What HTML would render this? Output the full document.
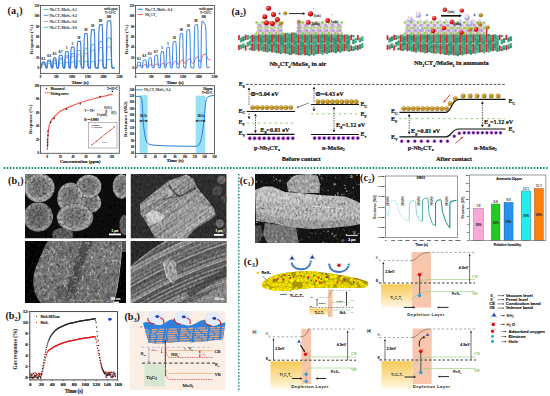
<!DOCTYPE html><html><head><meta charset="utf-8"><style>html,body{margin:0;padding:0;background:#fff;width:550px;height:396px;overflow:hidden}svg{display:block}</style></head><body>
<svg width="550" height="396" viewBox="0 0 550 396">
<defs>
<filter id="noise" x="0" y="0" width="100%" height="100%">
  <feTurbulence type="fractalNoise" baseFrequency="0.9" numOctaves="2" seed="3" result="t"/>
  <feColorMatrix type="matrix" values="0 0 0 0 0.5  0 0 0 0 0.5  0 0 0 0 0.5  0 0 0 1.4 -0.2" in="t" result="g"/>
  <feComposite in="g" in2="SourceGraphic" operator="in"/>
</filter>
<filter id="grain" x="0" y="0" width="100%" height="100%">
  <feTurbulence type="fractalNoise" baseFrequency="0.42" numOctaves="2" seed="7" result="t"/>
  <feColorMatrix type="saturate" values="0" in="t" result="g"/>
  <feComponentTransfer in="g" result="g2"><feFuncR type="linear" slope="1.5" intercept="-0.25"/><feFuncG type="linear" slope="1.5" intercept="-0.25"/><feFuncB type="linear" slope="1.5" intercept="-0.25"/><feFuncA type="linear" slope="0" intercept="1"/></feComponentTransfer>
  <feComposite in="g2" in2="SourceAlpha" operator="in" result="m"/>
  <feBlend in="m" in2="SourceGraphic" mode="overlay"/>
</filter>
<radialGradient id="ballg" cx="0.45" cy="0.4" r="0.6"><stop offset="0" stop-color="#a8a8a8"/><stop offset="0.75" stop-color="#7a7a7a"/><stop offset="1" stop-color="#4a4a4a"/></radialGradient>
<linearGradient id="ygrad" x1="0" y1="0" x2="0" y2="1"><stop offset="0" stop-color="#f7c955"/><stop offset="0.55" stop-color="#fbe2a0"/><stop offset="1" stop-color="#fff8e6"/></linearGradient>
<radialGradient id="eball" cx="0.4" cy="0.35" r="0.65"><stop offset="0" stop-color="#f8d35a"/><stop offset="0.7" stop-color="#d99a10"/><stop offset="1" stop-color="#8a5a00"/></radialGradient>
<radialGradient id="hball" cx="0.5" cy="0.5" r="0.5"><stop offset="0" stop-color="#1a2a90"/><stop offset="0.4" stop-color="#30309a"/><stop offset="0.62" stop-color="#c850c8"/><stop offset="0.85" stop-color="#ec80e0"/><stop offset="1" stop-color="#f4b0ec"/></radialGradient>
<radialGradient id="redball" cx="0.38" cy="0.35" r="0.65"><stop offset="0" stop-color="#ff8080"/><stop offset="0.6" stop-color="#e01010"/><stop offset="1" stop-color="#a00000"/></radialGradient>
<radialGradient id="nball" cx="0.38" cy="0.35" r="0.65"><stop offset="0" stop-color="#ffffff"/><stop offset="0.6" stop-color="#b8bce8"/><stop offset="1" stop-color="#8088c0"/></radialGradient>
<filter id="grain2" x="0" y="0" width="100%" height="100%">
  <feTurbulence type="fractalNoise" baseFrequency="0.5 0.3" numOctaves="2" seed="12" result="t"/>
  <feColorMatrix type="saturate" values="0" in="t" result="g"/>
  <feComponentTransfer in="g" result="g2"><feFuncR type="linear" slope="1.1" intercept="-0.05"/><feFuncG type="linear" slope="1.1" intercept="-0.05"/><feFuncB type="linear" slope="1.1" intercept="-0.05"/><feFuncA type="linear" slope="0" intercept="1"/></feComponentTransfer>
  <feComposite in="g2" in2="SourceAlpha" operator="in" result="m"/>
  <feBlend in="m" in2="SourceGraphic" mode="overlay"/>
</filter>
<radialGradient id="semball" cx="0.5" cy="0.5" r="0.5" fx="0.5" fy="0.4"><stop offset="0" stop-color="#6c6c6c"/><stop offset="0.6" stop-color="#7a7a7a"/><stop offset="0.86" stop-color="#a2a2a2"/><stop offset="0.95" stop-color="#8c8c8c"/><stop offset="1" stop-color="#404040"/></radialGradient>
<radialGradient id="semdim" cx="0.5" cy="0.5" r="0.5"><stop offset="0" stop-color="#505050"/><stop offset="0.85" stop-color="#606060"/><stop offset="1" stop-color="#2a2a2a"/></radialGradient>
</defs>
<rect x="0" y="0" width="550" height="396" fill="#ffffff" stroke="none" stroke-width="1" />
<text x="7.6" y="14.1" font-size="10.2" font-weight="bold" font-family="'Liberation Serif', serif" fill="#151515">(a<tspan font-size="6.3" dy="2.4">1</tspan><tspan dy="-2.4">)</tspan></text>
<polyline points="41.10,68.20 41.40,67.90 41.90,65.02 42.40,64.37 43.00,64.30 44.70,64.30 45.10,64.84 45.60,67.54 46.20,67.90 47.00,67.90 47.50,64.54 48.00,63.78 48.60,63.70 50.40,63.70 50.80,64.33 51.30,67.48 51.90,67.90 52.70,67.90 53.20,64.22 53.70,63.39 54.30,63.30 55.70,63.30 56.10,63.99 56.60,67.44 57.20,67.90 58.50,67.90 59.00,63.90 59.50,63.00 60.10,62.90 62.00,62.90 62.40,63.65 62.90,67.40 63.50,67.90 64.70,67.90 65.20,63.42 65.70,62.41 66.30,62.30 68.00,62.30 68.40,63.14 68.90,67.34 69.50,67.90 70.40,67.90 70.90,63.10 71.40,62.02 72.00,61.90 73.90,61.90 74.30,62.80 74.80,67.30 75.40,67.90 76.70,67.90 77.20,62.62 77.70,61.43 78.30,61.30 80.40,61.30 80.80,62.29 81.30,67.24 81.90,67.90 83.60,67.90 84.10,62.62 84.60,61.43 85.20,61.30 87.10,61.30 87.50,62.29 88.00,67.24 88.60,67.90 90.40,67.90 90.90,62.78 91.40,61.63 92.00,61.50 94.20,61.50 94.60,62.46 95.10,67.26 95.70,67.90 98.30,67.90 98.80,61.82 99.30,60.45 99.90,60.30 102.10,60.30 102.50,61.44 103.00,67.14 103.60,67.90 106.30,67.90 106.80,61.18 107.30,59.67 107.90,59.50 110.70,59.50 111.10,60.76 111.60,67.06 112.20,67.90 114.50,68.20" fill="none" stroke="#2bb3e0" stroke-width="0.8" stroke-linejoin="round" />
<polyline points="41.10,68.20 41.40,67.90 41.90,64.06 42.40,63.20 43.00,63.10 44.70,63.10 45.10,63.82 45.60,67.42 46.20,67.90 47.00,67.90 47.50,63.10 48.00,62.02 48.60,61.90 50.40,61.90 50.80,62.80 51.30,67.30 51.90,67.90 52.70,67.90 53.20,62.30 53.70,61.04 54.30,60.90 55.70,60.90 56.10,61.95 56.60,67.20 57.20,67.90 58.50,67.90 59.00,61.02 59.50,59.47 60.10,59.30 62.00,59.30 62.40,60.59 62.90,67.04 63.50,67.90 64.70,67.90 65.20,59.74 65.70,57.90 66.30,57.70 68.00,57.70 68.40,59.23 68.90,66.88 69.50,67.90 70.40,67.90 70.90,58.46 71.40,56.34 72.00,56.10 73.90,56.10 74.30,57.87 74.80,66.72 75.40,67.90 76.70,67.90 77.20,57.34 77.70,54.96 78.30,54.70 80.40,54.70 80.80,56.68 81.30,66.58 81.90,67.90 83.60,67.90 84.10,56.38 84.60,53.79 85.20,53.50 87.10,53.50 87.50,55.66 88.00,66.46 88.60,67.90 90.40,67.90 90.90,53.82 91.40,50.65 92.00,50.30 94.20,50.30 94.60,52.94 95.10,66.14 95.70,67.90 98.30,67.90 98.80,51.42 99.30,47.71 99.90,47.30 102.10,47.30 102.50,50.39 103.00,65.84 103.60,67.90 106.30,67.90 106.80,51.10 107.30,47.32 107.90,46.90 110.70,46.90 111.10,50.05 111.60,65.80 112.20,67.90 114.50,68.20" fill="none" stroke="#b77be6" stroke-width="0.8" stroke-linejoin="round" />
<polyline points="41.10,68.20 41.40,67.90 41.90,63.74 42.40,62.80 43.00,62.70 44.70,62.70 45.10,63.48 45.60,67.38 46.20,67.90 47.00,67.90 47.50,62.62 48.00,61.43 48.60,61.30 50.40,61.30 50.80,62.29 51.30,67.24 51.90,67.90 52.70,67.90 53.20,61.50 53.70,60.06 54.30,59.90 55.70,59.90 56.10,61.10 56.60,67.10 57.20,67.90 58.50,67.90 59.00,60.06 59.50,58.30 60.10,58.10 62.00,58.10 62.40,59.57 62.90,66.92 63.50,67.90 64.70,67.90 65.20,58.30 65.70,56.14 66.30,55.90 68.00,55.90 68.40,57.70 68.90,66.70 69.50,67.90 70.40,67.90 70.90,56.30 71.40,53.69 72.00,53.40 73.90,53.40 74.30,55.58 74.80,66.45 75.40,67.90 76.70,67.90 77.20,53.90 77.70,50.75 78.30,50.40 80.40,50.40 80.80,53.03 81.30,66.15 81.90,67.90 83.60,67.90 84.10,52.22 84.60,48.69 85.20,48.30 87.10,48.30 87.50,51.24 88.00,65.94 88.60,67.90 90.40,67.90 90.90,49.10 91.40,44.87 92.00,44.40 94.20,44.40 94.60,47.93 95.10,65.55 95.70,67.90 98.30,67.90 98.80,46.70 99.30,41.93 99.90,41.40 102.10,41.40 102.50,45.38 103.00,65.25 103.60,67.90 106.30,67.90 106.80,43.90 107.30,38.50 107.90,37.90 110.70,37.90 111.10,42.40 111.60,64.90 112.20,67.90 114.50,68.20" fill="none" stroke="#2fb389" stroke-width="0.8" stroke-linejoin="round" />
<polyline points="41.10,68.20 41.40,67.90 41.90,63.26 42.40,62.22 43.00,62.10 44.70,62.10 45.10,62.97 45.60,67.32 46.20,67.90 47.00,67.90 47.50,61.58 48.00,60.16 48.60,60.00 50.40,60.00 50.80,61.19 51.30,67.11 51.90,67.90 52.70,67.90 53.20,59.90 53.70,58.10 54.30,57.90 55.70,57.90 56.10,59.40 56.60,66.90 57.20,67.90 58.50,67.90 59.00,57.74 59.50,55.45 60.10,55.20 62.00,55.20 62.40,57.11 62.90,66.63 63.50,67.90 64.70,67.90 65.20,54.78 65.70,51.83 66.30,51.50 68.00,51.50 68.40,53.96 68.90,66.26 69.50,67.90 70.40,67.90 70.90,51.26 71.40,47.52 72.00,47.10 73.90,47.10 74.30,50.22 74.80,65.82 75.40,67.90 76.70,67.90 77.20,46.70 77.70,41.93 78.30,41.40 80.40,41.40 80.80,45.38 81.30,65.25 81.90,67.90 83.60,67.90 84.10,40.38 84.60,34.19 85.20,33.50 87.10,33.50 87.50,38.66 88.00,64.46 88.60,67.90 90.40,67.90 90.90,37.26 91.40,30.37 92.00,29.60 94.20,29.60 94.60,35.35 95.10,64.07 95.70,67.90 98.30,67.90 98.80,33.26 99.30,25.47 99.90,24.60 102.10,24.60 102.50,31.10 103.00,63.57 103.60,67.90 106.30,67.90 106.80,30.14 107.30,21.64 107.90,20.70 110.70,20.70 111.10,27.78 111.60,63.18 112.20,67.90 114.50,68.20" fill="none" stroke="#3a7be0" stroke-width="1.1" stroke-linejoin="round" />
<rect x="40.5" y="5.5" width="78.9" height="67.9" fill="none" stroke="#555" stroke-width="0.9" />
<line x1="39.3" y1="68.4" x2="40.5" y2="68.4" stroke="#333" stroke-width="0.5" />
<line x1="39.3" y1="57.92" x2="40.5" y2="57.92" stroke="#333" stroke-width="0.5" />
<line x1="39.3" y1="47.440000000000005" x2="40.5" y2="47.440000000000005" stroke="#333" stroke-width="0.5" />
<line x1="39.3" y1="36.96000000000001" x2="40.5" y2="36.96000000000001" stroke="#333" stroke-width="0.5" />
<line x1="39.3" y1="26.480000000000004" x2="40.5" y2="26.480000000000004" stroke="#333" stroke-width="0.5" />
<line x1="39.3" y1="16.0" x2="40.5" y2="16.0" stroke="#333" stroke-width="0.5" />
<line x1="39.3" y1="5.520000000000003" x2="40.5" y2="5.520000000000003" stroke="#333" stroke-width="0.5" />
<line x1="40.5" y1="73.4" x2="40.5" y2="74.60000000000001" stroke="#333" stroke-width="0.5" />
<text x="40.5" y="77.9" font-size="3.0" font-weight="bold" font-family="'Liberation Serif', serif" fill="#111" stroke="#111" stroke-width="0.09" text-anchor="middle" >0</text>
<line x1="56.28" y1="73.4" x2="56.28" y2="74.60000000000001" stroke="#333" stroke-width="0.5" />
<text x="56.28" y="77.9" font-size="3.0" font-weight="bold" font-family="'Liberation Serif', serif" fill="#111" stroke="#111" stroke-width="0.09" text-anchor="middle" >500</text>
<line x1="72.06" y1="73.4" x2="72.06" y2="74.60000000000001" stroke="#333" stroke-width="0.5" />
<text x="72.06" y="77.9" font-size="3.0" font-weight="bold" font-family="'Liberation Serif', serif" fill="#111" stroke="#111" stroke-width="0.09" text-anchor="middle" >1000</text>
<line x1="87.84" y1="73.4" x2="87.84" y2="74.60000000000001" stroke="#333" stroke-width="0.5" />
<text x="87.84" y="77.9" font-size="3.0" font-weight="bold" font-family="'Liberation Serif', serif" fill="#111" stroke="#111" stroke-width="0.09" text-anchor="middle" >1500</text>
<line x1="103.62" y1="73.4" x2="103.62" y2="74.60000000000001" stroke="#333" stroke-width="0.5" />
<text x="103.62" y="77.9" font-size="3.0" font-weight="bold" font-family="'Liberation Serif', serif" fill="#111" stroke="#111" stroke-width="0.09" text-anchor="middle" >2000</text>
<line x1="119.39999999999999" y1="73.4" x2="119.39999999999999" y2="74.60000000000001" stroke="#333" stroke-width="0.5" />
<text x="119.39999999999999" y="77.9" font-size="3.0" font-weight="bold" font-family="'Liberation Serif', serif" fill="#111" stroke="#111" stroke-width="0.09" text-anchor="middle" >2500</text>
<text x="38.9" y="69.45" font-size="3.0" font-weight="bold" font-family="'Liberation Serif', serif" fill="#111" stroke="#111" stroke-width="0.09" text-anchor="end" >0</text>
<text x="38.9" y="58.97" font-size="3.0" font-weight="bold" font-family="'Liberation Serif', serif" fill="#111" stroke="#111" stroke-width="0.09" text-anchor="end" >20</text>
<text x="38.9" y="48.49" font-size="3.0" font-weight="bold" font-family="'Liberation Serif', serif" fill="#111" stroke="#111" stroke-width="0.09" text-anchor="end" >40</text>
<text x="38.9" y="38.010000000000005" font-size="3.0" font-weight="bold" font-family="'Liberation Serif', serif" fill="#111" stroke="#111" stroke-width="0.09" text-anchor="end" >60</text>
<text x="38.9" y="27.530000000000005" font-size="3.0" font-weight="bold" font-family="'Liberation Serif', serif" fill="#111" stroke="#111" stroke-width="0.09" text-anchor="end" >80</text>
<text x="38.9" y="17.05" font-size="3.0" font-weight="bold" font-family="'Liberation Serif', serif" fill="#111" stroke="#111" stroke-width="0.09" text-anchor="end" >100</text>
<text x="38.9" y="6.570000000000003" font-size="3.0" font-weight="bold" font-family="'Liberation Serif', serif" fill="#111" stroke="#111" stroke-width="0.09" text-anchor="end" >120</text>
<line x1="43.5" y1="9.4" x2="48.5" y2="9.4" stroke="#2fb389" stroke-width="0.8" />
<text x="49.5" y="10.6" font-size="3.4" font-weight="bold" font-family="'Liberation Serif', serif" fill="#222">Nb<tspan font-size="2.3" dy="0.8">2</tspan><tspan dy="-0.8">CT</tspan><tspan font-size="2.3" dy="0.8">x</tspan><tspan dy="-0.8">/MoSe</tspan><tspan font-size="2.3" dy="0.8">2</tspan><tspan dy="-0.8">-0.2</tspan></text>
<line x1="43.5" y1="15.4" x2="48.5" y2="15.4" stroke="#3a7be0" stroke-width="0.8" />
<text x="49.5" y="16.6" font-size="3.4" font-weight="bold" font-family="'Liberation Serif', serif" fill="#222">Nb<tspan font-size="2.3" dy="0.8">2</tspan><tspan dy="-0.8">CT</tspan><tspan font-size="2.3" dy="0.8">x</tspan><tspan dy="-0.8">/MoSe</tspan><tspan font-size="2.3" dy="0.8">2</tspan><tspan dy="-0.8">-0.4</tspan></text>
<line x1="43.5" y1="21.4" x2="48.5" y2="21.4" stroke="#b77be6" stroke-width="0.8" />
<text x="49.5" y="22.599999999999998" font-size="3.4" font-weight="bold" font-family="'Liberation Serif', serif" fill="#222">Nb<tspan font-size="2.3" dy="0.8">2</tspan><tspan dy="-0.8">CT</tspan><tspan font-size="2.3" dy="0.8">x</tspan><tspan dy="-0.8">/MoSe</tspan><tspan font-size="2.3" dy="0.8">2</tspan><tspan dy="-0.8">-0.6</tspan></text>
<line x1="43.5" y1="27.3" x2="48.5" y2="27.3" stroke="#2bb3e0" stroke-width="0.8" />
<text x="49.5" y="28.5" font-size="3.4" font-weight="bold" font-family="'Liberation Serif', serif" fill="#222">Nb<tspan font-size="2.3" dy="0.8">2</tspan><tspan dy="-0.8">CT</tspan><tspan font-size="2.3" dy="0.8">x</tspan><tspan dy="-0.8">/MoSe</tspan><tspan font-size="2.3" dy="0.8">2</tspan><tspan dy="-0.8">-0.8</tspan></text>
<text x="117.6" y="9.6" font-size="3.6" font-weight="normal" font-family="'Liberation Serif', serif" fill="#111" stroke="#111" stroke-width="0.108" text-anchor="end" >with ppm</text>
<text x="115.8" y="13.8" font-size="3.4" font-weight="normal" font-family="'Liberation Serif', serif" fill="#111" stroke="#111" stroke-width="0.102" text-anchor="end" >T=25°C</text>
<text x="43.35" y="59.50000000000001" font-size="3.0" font-weight="bold" font-family="'Liberation Serif', serif" fill="#111" stroke="#111" stroke-width="0.09" text-anchor="middle" >0.1</text>
<text x="49.0" y="57.400000000000006" font-size="3.0" font-weight="bold" font-family="'Liberation Serif', serif" fill="#111" stroke="#111" stroke-width="0.09" text-anchor="middle" >0.3</text>
<text x="54.5" y="55.300000000000004" font-size="3.0" font-weight="bold" font-family="'Liberation Serif', serif" fill="#111" stroke="#111" stroke-width="0.09" text-anchor="middle" >0.5</text>
<text x="60.55" y="52.6" font-size="3.0" font-weight="bold" font-family="'Liberation Serif', serif" fill="#111" stroke="#111" stroke-width="0.09" text-anchor="middle" >0.7</text>
<text x="66.65" y="48.900000000000006" font-size="3.0" font-weight="bold" font-family="'Liberation Serif', serif" fill="#111" stroke="#111" stroke-width="0.09" text-anchor="middle" >1</text>
<text x="72.45" y="44.50000000000001" font-size="3.0" font-weight="bold" font-family="'Liberation Serif', serif" fill="#111" stroke="#111" stroke-width="0.09" text-anchor="middle" >5</text>
<text x="78.85000000000001" y="38.800000000000004" font-size="3.0" font-weight="bold" font-family="'Liberation Serif', serif" fill="#111" stroke="#111" stroke-width="0.09" text-anchor="middle" >10</text>
<text x="85.64999999999999" y="30.900000000000006" font-size="3.0" font-weight="bold" font-family="'Liberation Serif', serif" fill="#111" stroke="#111" stroke-width="0.09" text-anchor="middle" >30</text>
<text x="92.60000000000001" y="27.000000000000007" font-size="3.0" font-weight="bold" font-family="'Liberation Serif', serif" fill="#111" stroke="#111" stroke-width="0.09" text-anchor="middle" >50</text>
<text x="100.5" y="22.000000000000007" font-size="3.0" font-weight="bold" font-family="'Liberation Serif', serif" fill="#111" stroke="#111" stroke-width="0.09" text-anchor="middle" >80</text>
<text x="108.8" y="18.1" font-size="3.0" font-weight="bold" font-family="'Liberation Serif', serif" fill="#111" stroke="#111" stroke-width="0.09" text-anchor="middle" >100</text>
<text x="80" y="83.6" font-size="4.9" font-weight="bold" font-family="'Liberation Serif', serif" fill="#111" stroke="#111" stroke-width="0.147" text-anchor="middle" >Time (s)</text>
<text x="0" y="0" font-size="5" font-weight="bold" font-family="'Liberation Serif', serif" fill="#111" text-anchor="middle" transform="translate(33.0,39.4) rotate(-90)">Response (%)</text>
<polyline points="136.10,67.90 136.90,67.90 138.10,65.82 139.30,65.38 140.60,65.30 141.40,66.20 142.40,66.70 143.00,67.10 142.52,67.10 143.72,65.34 144.92,64.80 146.32,64.70 147.12,65.70 148.12,66.30 148.72,66.70 148.23,66.70 149.43,65.02 150.63,64.41 151.63,64.30 152.43,65.30 153.43,65.90 154.03,66.30 154.05,66.30 155.25,64.70 156.45,64.02 157.95,63.90 158.75,64.90 159.75,65.50 160.35,65.90 160.26,65.90 161.46,64.22 162.66,63.44 163.96,63.30 164.76,64.40 165.76,65.10 166.36,65.50 165.98,65.50 167.18,63.58 168.38,62.66 169.88,62.50 170.68,63.80 171.68,64.70 172.28,65.10 172.29,65.10 173.49,62.78 174.69,61.69 176.39,61.50 177.19,63.00 178.19,64.10 178.79,64.50 179.21,64.50 180.41,61.66 181.61,60.33 183.11,60.10 183.91,62.00 184.91,63.50 185.51,63.90 186.03,63.90 187.23,60.70 188.43,59.17 190.23,58.90 191.03,61.00 192.03,62.70 192.63,63.10 193.95,63.10 195.15,59.10 196.35,57.23 198.15,56.90 198.95,59.60 199.95,61.90 200.55,62.30 200.90,62.30 202.10,56.86 203.30,54.51 206.20,54.10 207.00,56.90 208.00,59.30 208.60,59.70 210.50,59.70" fill="none" stroke="#f0584a" stroke-width="0.9" stroke-linejoin="round" />
<polyline points="136.10,68.20 136.90,67.90 137.40,63.26 137.90,62.22 138.50,62.10 140.00,62.10 140.40,62.97 140.90,67.32 141.50,67.90 142.52,67.90 143.02,61.58 143.52,60.16 144.12,60.00 145.72,60.00 146.12,61.19 146.62,67.11 147.22,67.90 148.23,67.90 148.73,59.90 149.23,58.10 149.83,57.90 151.03,57.90 151.43,59.40 151.93,66.90 152.53,67.90 154.05,67.90 154.55,57.74 155.05,55.45 155.65,55.20 157.35,55.20 157.75,57.11 158.25,66.63 158.85,67.90 160.26,67.90 160.76,54.78 161.26,51.83 161.86,51.50 163.36,51.50 163.76,53.96 164.26,66.26 164.86,67.90 165.98,67.90 166.48,51.26 166.98,47.52 167.58,47.10 169.28,47.10 169.68,50.22 170.18,65.82 170.78,67.90 172.29,67.90 172.79,46.70 173.29,41.93 173.89,41.40 175.79,41.40 176.19,45.38 176.69,65.25 177.29,67.90 179.21,67.90 179.71,40.38 180.21,34.19 180.81,33.50 182.51,33.50 182.91,38.66 183.41,64.46 184.01,67.90 186.03,67.90 186.53,37.26 187.03,30.37 187.63,29.60 189.63,29.60 190.03,35.35 190.53,64.07 191.13,67.90 193.95,67.90 194.45,33.26 194.95,25.47 195.55,24.60 197.55,24.60 197.95,31.10 198.45,63.57 199.05,67.90 200.90,67.90 201.40,30.14 201.90,21.64 202.50,20.70 205.60,25.70 206.00,32.03 206.50,63.18 207.10,67.90 210.00,66.90" fill="none" stroke="#3a86e8" stroke-width="1.0" stroke-linejoin="round" />
<rect x="135.5" y="5.5" width="79.1" height="67.9" fill="none" stroke="#555" stroke-width="0.9" />
<line x1="134.3" y1="68.4" x2="135.5" y2="68.4" stroke="#333" stroke-width="0.5" />
<line x1="134.3" y1="57.92" x2="135.5" y2="57.92" stroke="#333" stroke-width="0.5" />
<line x1="134.3" y1="47.440000000000005" x2="135.5" y2="47.440000000000005" stroke="#333" stroke-width="0.5" />
<line x1="134.3" y1="36.96000000000001" x2="135.5" y2="36.96000000000001" stroke="#333" stroke-width="0.5" />
<line x1="134.3" y1="26.480000000000004" x2="135.5" y2="26.480000000000004" stroke="#333" stroke-width="0.5" />
<line x1="134.3" y1="16.0" x2="135.5" y2="16.0" stroke="#333" stroke-width="0.5" />
<line x1="134.3" y1="5.520000000000003" x2="135.5" y2="5.520000000000003" stroke="#333" stroke-width="0.5" />
<line x1="135.5" y1="73.4" x2="135.5" y2="74.60000000000001" stroke="#333" stroke-width="0.5" />
<text x="135.5" y="77.9" font-size="3.0" font-weight="bold" font-family="'Liberation Serif', serif" fill="#111" stroke="#111" stroke-width="0.09" text-anchor="middle" >0</text>
<line x1="151.32" y1="73.4" x2="151.32" y2="74.60000000000001" stroke="#333" stroke-width="0.5" />
<text x="151.32" y="77.9" font-size="3.0" font-weight="bold" font-family="'Liberation Serif', serif" fill="#111" stroke="#111" stroke-width="0.09" text-anchor="middle" >500</text>
<line x1="167.14" y1="73.4" x2="167.14" y2="74.60000000000001" stroke="#333" stroke-width="0.5" />
<text x="167.14" y="77.9" font-size="3.0" font-weight="bold" font-family="'Liberation Serif', serif" fill="#111" stroke="#111" stroke-width="0.09" text-anchor="middle" >1000</text>
<line x1="182.96" y1="73.4" x2="182.96" y2="74.60000000000001" stroke="#333" stroke-width="0.5" />
<text x="182.96" y="77.9" font-size="3.0" font-weight="bold" font-family="'Liberation Serif', serif" fill="#111" stroke="#111" stroke-width="0.09" text-anchor="middle" >1500</text>
<line x1="198.78" y1="73.4" x2="198.78" y2="74.60000000000001" stroke="#333" stroke-width="0.5" />
<text x="198.78" y="77.9" font-size="3.0" font-weight="bold" font-family="'Liberation Serif', serif" fill="#111" stroke="#111" stroke-width="0.09" text-anchor="middle" >2000</text>
<line x1="214.60000000000002" y1="73.4" x2="214.60000000000002" y2="74.60000000000001" stroke="#333" stroke-width="0.5" />
<text x="214.60000000000002" y="77.9" font-size="3.0" font-weight="bold" font-family="'Liberation Serif', serif" fill="#111" stroke="#111" stroke-width="0.09" text-anchor="middle" >2500</text>
<text x="133.9" y="69.45" font-size="3.0" font-weight="bold" font-family="'Liberation Serif', serif" fill="#111" stroke="#111" stroke-width="0.09" text-anchor="end" >0</text>
<text x="133.9" y="58.97" font-size="3.0" font-weight="bold" font-family="'Liberation Serif', serif" fill="#111" stroke="#111" stroke-width="0.09" text-anchor="end" >20</text>
<text x="133.9" y="48.49" font-size="3.0" font-weight="bold" font-family="'Liberation Serif', serif" fill="#111" stroke="#111" stroke-width="0.09" text-anchor="end" >40</text>
<text x="133.9" y="38.010000000000005" font-size="3.0" font-weight="bold" font-family="'Liberation Serif', serif" fill="#111" stroke="#111" stroke-width="0.09" text-anchor="end" >60</text>
<text x="133.9" y="27.530000000000005" font-size="3.0" font-weight="bold" font-family="'Liberation Serif', serif" fill="#111" stroke="#111" stroke-width="0.09" text-anchor="end" >80</text>
<text x="133.9" y="17.05" font-size="3.0" font-weight="bold" font-family="'Liberation Serif', serif" fill="#111" stroke="#111" stroke-width="0.09" text-anchor="end" >100</text>
<text x="133.9" y="6.570000000000003" font-size="3.0" font-weight="bold" font-family="'Liberation Serif', serif" fill="#111" stroke="#111" stroke-width="0.09" text-anchor="end" >120</text>
<line x1="137.5" y1="9.3" x2="143" y2="9.3" stroke="#3a86e8" stroke-width="0.9" />
<circle cx="140.30" cy="9.30" r="0.7" fill="#3a86e8" stroke="none" stroke-width="0.3" />
<line x1="137.5" y1="14.5" x2="143" y2="14.5" stroke="#f0584a" stroke-width="0.9" />
<circle cx="140.30" cy="14.50" r="0.7" fill="#f0584a" stroke="none" stroke-width="0.3" />
<text x="145" y="10.5" font-size="3.4" font-weight="bold" font-family="'Liberation Serif', serif" fill="#222">Nb<tspan font-size="2.3" dy="0.8">2</tspan><tspan dy="-0.8">CT</tspan><tspan font-size="2.3" dy="0.8">x</tspan><tspan dy="-0.8">/MoSe</tspan><tspan font-size="2.3" dy="0.8">2</tspan><tspan dy="-0.8">-0.4</tspan></text>
<text x="145" y="15.7" font-size="3.4" font-weight="bold" font-family="'Liberation Serif', serif" fill="#222">Nb<tspan font-size="2.3" dy="0.8">2</tspan><tspan dy="-0.8">CT</tspan><tspan font-size="2.3" dy="0.8">x</tspan></text>
<text x="212.8" y="9.6" font-size="3.6" font-weight="normal" font-family="'Liberation Serif', serif" fill="#111" stroke="#111" stroke-width="0.108" text-anchor="end" >with ppm</text>
<text x="211" y="13.8" font-size="3.4" font-weight="normal" font-family="'Liberation Serif', serif" fill="#111" stroke="#111" stroke-width="0.102" text-anchor="end" >T=25°C</text>
<text x="138.7522813688213" y="59.50000000000001" font-size="3.0" font-weight="bold" font-family="'Liberation Serif', serif" fill="#111" stroke="#111" stroke-width="0.09" text-anchor="middle" >0.1</text>
<text x="144.41647655259823" y="57.400000000000006" font-size="3.0" font-weight="bold" font-family="'Liberation Serif', serif" fill="#111" stroke="#111" stroke-width="0.09" text-anchor="middle" >0.3</text>
<text x="149.93092522179973" y="55.300000000000004" font-size="3.0" font-weight="bold" font-family="'Liberation Serif', serif" fill="#111" stroke="#111" stroke-width="0.09" text-anchor="middle" >0.5</text>
<text x="155.99562737642583" y="52.6" font-size="3.0" font-weight="bold" font-family="'Liberation Serif', serif" fill="#111" stroke="#111" stroke-width="0.09" text-anchor="middle" >0.7</text>
<text x="162.11134347275032" y="48.900000000000006" font-size="3.0" font-weight="bold" font-family="'Liberation Serif', serif" fill="#111" stroke="#111" stroke-width="0.09" text-anchor="middle" >1</text>
<text x="167.92579214195183" y="44.50000000000001" font-size="3.0" font-weight="bold" font-family="'Liberation Serif', serif" fill="#111" stroke="#111" stroke-width="0.09" text-anchor="middle" >5</text>
<text x="174.3417617237009" y="38.800000000000004" font-size="3.0" font-weight="bold" font-family="'Liberation Serif', serif" fill="#111" stroke="#111" stroke-width="0.09" text-anchor="middle" >10</text>
<text x="181.15925221799745" y="30.900000000000006" font-size="3.0" font-weight="bold" font-family="'Liberation Serif', serif" fill="#111" stroke="#111" stroke-width="0.09" text-anchor="middle" >30</text>
<text x="188.12648922686947" y="27.000000000000007" font-size="3.0" font-weight="bold" font-family="'Liberation Serif', serif" fill="#111" stroke="#111" stroke-width="0.09" text-anchor="middle" >50</text>
<text x="196.04651457541192" y="22.000000000000007" font-size="3.0" font-weight="bold" font-family="'Liberation Serif', serif" fill="#111" stroke="#111" stroke-width="0.09" text-anchor="middle" >80</text>
<text x="203.55" y="18.1" font-size="3.0" font-weight="bold" font-family="'Liberation Serif', serif" fill="#111" stroke="#111" stroke-width="0.09" text-anchor="middle" >100</text>
<text x="175" y="83.6" font-size="4.9" font-weight="bold" font-family="'Liberation Serif', serif" fill="#111" stroke="#111" stroke-width="0.147" text-anchor="middle" >Time (s)</text>
<text x="0" y="0" font-size="5" font-weight="bold" font-family="'Liberation Serif', serif" fill="#111" text-anchor="middle" transform="translate(128.4,39.4) rotate(-90)">Response (%)</text>
<path d="M47.35,150 L47.6,140 L48.2,132 L49.1,125.6 L51,120.5 L54.5,116.5 L60,111.4 L66.8,107.9 L79.1,103 L92.7,99 L102.3,96.6 L112.5,94.2" fill="none" stroke="#f55a55" stroke-width="1.2" stroke-linejoin="round"/>
<rect x="46.9" y="144.60000000000002" width="1.4" height="1.4" fill="#222" stroke="none" stroke-width="1" />
<rect x="46.9" y="141.8" width="1.4" height="1.4" fill="#222" stroke="none" stroke-width="1" />
<rect x="46.9" y="139.20000000000002" width="1.4" height="1.4" fill="#222" stroke="none" stroke-width="1" />
<rect x="47.3" y="134.8" width="1.4" height="1.4" fill="#222" stroke="none" stroke-width="1" />
<rect x="47.3" y="130.4" width="1.4" height="1.4" fill="#222" stroke="none" stroke-width="1" />
<rect x="50.0" y="121.7" width="1.4" height="1.4" fill="#222" stroke="none" stroke-width="1" />
<rect x="53.4" y="117.8" width="1.4" height="1.4" fill="#222" stroke="none" stroke-width="1" />
<rect x="65.89999999999999" y="108.6" width="1.4" height="1.4" fill="#222" stroke="none" stroke-width="1" />
<rect x="79.6" y="103.1" width="1.4" height="1.4" fill="#222" stroke="none" stroke-width="1" />
<rect x="99.1" y="95.89999999999999" width="1.4" height="1.4" fill="#222" stroke="none" stroke-width="1" />
<rect x="111.7" y="90.7" width="1.4" height="1.4" fill="#222" stroke="none" stroke-width="1" />
<rect x="40.5" y="85.7" width="78.8" height="67.60000000000001" fill="none" stroke="#555" stroke-width="0.9" />
<line x1="39.3" y1="153.3" x2="40.5" y2="153.3" stroke="#333" stroke-width="0.5" />
<line x1="39.3" y1="139.78" x2="40.5" y2="139.78" stroke="#333" stroke-width="0.5" />
<line x1="39.3" y1="126.26" x2="40.5" y2="126.26" stroke="#333" stroke-width="0.5" />
<line x1="39.3" y1="112.74000000000001" x2="40.5" y2="112.74000000000001" stroke="#333" stroke-width="0.5" />
<line x1="39.3" y1="99.22" x2="40.5" y2="99.22" stroke="#333" stroke-width="0.5" />
<line x1="39.3" y1="85.7" x2="40.5" y2="85.7" stroke="#333" stroke-width="0.5" />
<text x="38.9" y="154.35000000000002" font-size="3.0" font-weight="bold" font-family="'Liberation Serif', serif" fill="#111" stroke="#111" stroke-width="0.09" text-anchor="end" >0</text>
<text x="38.9" y="140.83" font-size="3.0" font-weight="bold" font-family="'Liberation Serif', serif" fill="#111" stroke="#111" stroke-width="0.09" text-anchor="end" >20</text>
<text x="38.9" y="127.31" font-size="3.0" font-weight="bold" font-family="'Liberation Serif', serif" fill="#111" stroke="#111" stroke-width="0.09" text-anchor="end" >40</text>
<text x="38.9" y="113.79" font-size="3.0" font-weight="bold" font-family="'Liberation Serif', serif" fill="#111" stroke="#111" stroke-width="0.09" text-anchor="end" >60</text>
<text x="38.9" y="100.27" font-size="3.0" font-weight="bold" font-family="'Liberation Serif', serif" fill="#111" stroke="#111" stroke-width="0.09" text-anchor="end" >80</text>
<text x="38.9" y="86.75" font-size="3.0" font-weight="bold" font-family="'Liberation Serif', serif" fill="#111" stroke="#111" stroke-width="0.09" text-anchor="end" >100</text>
<line x1="47.3" y1="153.3" x2="47.3" y2="154.5" stroke="#333" stroke-width="0.5" />
<text x="47.3" y="157.8" font-size="3.0" font-weight="bold" font-family="'Liberation Serif', serif" fill="#111" stroke="#111" stroke-width="0.09" text-anchor="middle" >0</text>
<line x1="60.199999999999996" y1="153.3" x2="60.199999999999996" y2="154.5" stroke="#333" stroke-width="0.5" />
<text x="60.199999999999996" y="157.8" font-size="3.0" font-weight="bold" font-family="'Liberation Serif', serif" fill="#111" stroke="#111" stroke-width="0.09" text-anchor="middle" >20</text>
<line x1="73.1" y1="153.3" x2="73.1" y2="154.5" stroke="#333" stroke-width="0.5" />
<text x="73.1" y="157.8" font-size="3.0" font-weight="bold" font-family="'Liberation Serif', serif" fill="#111" stroke="#111" stroke-width="0.09" text-anchor="middle" >40</text>
<line x1="86.0" y1="153.3" x2="86.0" y2="154.5" stroke="#333" stroke-width="0.5" />
<text x="86.0" y="157.8" font-size="3.0" font-weight="bold" font-family="'Liberation Serif', serif" fill="#111" stroke="#111" stroke-width="0.09" text-anchor="middle" >60</text>
<line x1="98.9" y1="153.3" x2="98.9" y2="154.5" stroke="#333" stroke-width="0.5" />
<text x="98.9" y="157.8" font-size="3.0" font-weight="bold" font-family="'Liberation Serif', serif" fill="#111" stroke="#111" stroke-width="0.09" text-anchor="middle" >80</text>
<line x1="111.8" y1="153.3" x2="111.8" y2="154.5" stroke="#333" stroke-width="0.5" />
<text x="111.8" y="157.8" font-size="3.0" font-weight="bold" font-family="'Liberation Serif', serif" fill="#111" stroke="#111" stroke-width="0.09" text-anchor="middle" >100</text>
<rect x="45.8" y="87.9" width="1.3" height="1.3" fill="#222" stroke="none" stroke-width="1" />
<text x="50.5" y="90.0" font-size="3.3" font-weight="bold" font-family="'Liberation Serif', serif" fill="#111" stroke="#111" stroke-width="0.099" text-anchor="start" >Measured</text>
<line x1="44.8" y1="92.8" x2="49.8" y2="92.8" stroke="#f55a55" stroke-width="0.9" />
<text x="50.5" y="94.6" font-size="3.3" font-weight="bold" font-family="'Liberation Serif', serif" fill="#111" stroke="#111" stroke-width="0.099" text-anchor="start" >Fitting curve</text>
<text x="117.8" y="89.5" font-size="3.2" font-weight="bold" font-family="'Liberation Serif', serif" fill="#111" stroke="#111" stroke-width="0.096" text-anchor="end" >T=25°C</text>
<text x="84.3" y="111.6" font-size="3.0" font-weight="normal" font-family="'Liberation Serif', serif" fill="#111" stroke="#111" stroke-width="0.09" text-anchor="start" >Y = Y0+</text>
<text x="104.3" y="109.4" font-size="3.0" font-weight="normal" font-family="'Liberation Serif', serif" fill="#111" stroke="#111" stroke-width="0.09" text-anchor="start" >P(A1)</text>
<line x1="96" y1="110.6" x2="113" y2="110.6" stroke="#bbb" stroke-width="0.3" />
<text x="105.2" y="113.4" font-size="3.0" font-weight="normal" font-family="'Liberation Serif', serif" fill="#111" stroke="#111" stroke-width="0.09" text-anchor="start" >R</text>
<text x="96.5" y="116.4" font-size="3.0" font-weight="normal" font-family="'Liberation Serif', serif" fill="#111" stroke="#111" stroke-width="0.09" text-anchor="start" >1+(x/x0)</text>
<text x="111.2" y="114.2" font-size="3.0" font-weight="normal" font-family="'Liberation Serif', serif" fill="#111" stroke="#111" stroke-width="0.09" text-anchor="start" >P(2)</text>
<text x="84.3" y="120.6" font-size="3.0" font-weight="bold" font-family="'Liberation Serif', serif" fill="#111" stroke="#111" stroke-width="0.09" text-anchor="start" >R² = 0.9993</text>
<rect x="88.5" y="122.6" width="28.5" height="25.4" fill="#fff" stroke="#555" stroke-width="0.4" />
<line x1="91.5" y1="145.2" x2="115" y2="126.4" stroke="#f04848" stroke-width="0.8" />
<rect x="91.6" y="144.4" width="0.8" height="0.8" fill="#333" stroke="none" stroke-width="1" />
<rect x="96.1" y="140.8" width="0.8" height="0.8" fill="#333" stroke="none" stroke-width="1" />
<rect x="100.6" y="137.20000000000002" width="0.8" height="0.8" fill="#333" stroke="none" stroke-width="1" />
<rect x="105.1" y="133.6" width="0.8" height="0.8" fill="#333" stroke="none" stroke-width="1" />
<rect x="109.6" y="130.0" width="0.8" height="0.8" fill="#333" stroke="none" stroke-width="1" />
<rect x="114.1" y="126.4" width="0.8" height="0.8" fill="#333" stroke="none" stroke-width="1" />
<text x="92" y="125.6" font-size="1.6" font-weight="normal" font-family="'Liberation Serif', serif" fill="#111" stroke="#111" stroke-width="0.048" text-anchor="start" >■ Measured</text>
<line x1="91" y1="127.6" x2="93.5" y2="127.6" stroke="#f04848" stroke-width="0.5" />
<text x="94" y="128.2" font-size="1.6" font-weight="normal" font-family="'Liberation Serif', serif" fill="#111" stroke="#111" stroke-width="0.048" text-anchor="start" >Fitting curve</text>
<text x="102" y="142.5" font-size="1.5" font-weight="normal" font-family="'Liberation Serif', serif" fill="#111" stroke="#111" stroke-width="0.045" text-anchor="start" >y=ax+b</text>
<text x="80.2" y="162.5" font-size="4.5" font-weight="bold" font-family="'Liberation Serif', serif" fill="#111" stroke="#111" stroke-width="0.135" text-anchor="middle" >Concentration (ppm)</text>
<text x="0" y="0" font-size="5" font-weight="bold" font-family="'Liberation Serif', serif" fill="#111" text-anchor="middle" transform="translate(32.3,119.3) rotate(-90)">Response (%)</text>
<rect x="139.6" y="95.2" width="8.0" height="58.39999999999999" fill="#98e0f6" stroke="none" stroke-width="1" />
<rect x="195.7" y="95.6" width="9.6" height="58.0" fill="#98e0f6" stroke="none" stroke-width="1" />
<path d="M135.8,96.4 L140,96.4 L141,97 L141.8,99.5 L142.4,106 L142.9,117 L143.4,124 L144.1,130 L145,136 L145.9,140 L147,142.5 L148.1,143.6 L150,144.6 L155,145.3 L165,145.8 L180,146.2 L196.7,146.3 L198.5,145.5 L200,143 L201,139.5 L202,135 L203,128 L203.5,124 L204.4,117 L205.2,107 L205.8,101 L206.6,98.2 L207.8,96.8 L210,96 L214,95.4" fill="none" stroke="#2f80e0" stroke-width="1.0" stroke-linejoin="round"/>
<rect x="135.5" y="85.7" width="79.0" height="67.89999999999999" fill="none" stroke="#555" stroke-width="0.9" />
<line x1="134.3" y1="153.2" x2="135.5" y2="153.2" stroke="#333" stroke-width="0.5" />
<line x1="134.3" y1="146.82999999999998" x2="135.5" y2="146.82999999999998" stroke="#333" stroke-width="0.5" />
<line x1="134.3" y1="140.46" x2="135.5" y2="140.46" stroke="#333" stroke-width="0.5" />
<line x1="134.3" y1="134.09" x2="135.5" y2="134.09" stroke="#333" stroke-width="0.5" />
<line x1="134.3" y1="127.72" x2="135.5" y2="127.72" stroke="#333" stroke-width="0.5" />
<line x1="134.3" y1="121.35" x2="135.5" y2="121.35" stroke="#333" stroke-width="0.5" />
<line x1="134.3" y1="114.98" x2="135.5" y2="114.98" stroke="#333" stroke-width="0.5" />
<line x1="134.3" y1="108.61" x2="135.5" y2="108.61" stroke="#333" stroke-width="0.5" />
<line x1="134.3" y1="102.24" x2="135.5" y2="102.24" stroke="#333" stroke-width="0.5" />
<line x1="134.3" y1="95.87" x2="135.5" y2="95.87" stroke="#333" stroke-width="0.5" />
<line x1="134.3" y1="89.5" x2="135.5" y2="89.5" stroke="#333" stroke-width="0.5" />
<text x="133.9" y="154.25" font-size="3.0" font-weight="bold" font-family="'Liberation Serif', serif" fill="#111" stroke="#111" stroke-width="0.09" text-anchor="end" >40</text>
<text x="133.9" y="147.88" font-size="3.0" font-weight="bold" font-family="'Liberation Serif', serif" fill="#111" stroke="#111" stroke-width="0.09" text-anchor="end" >60</text>
<text x="133.9" y="141.51000000000002" font-size="3.0" font-weight="bold" font-family="'Liberation Serif', serif" fill="#111" stroke="#111" stroke-width="0.09" text-anchor="end" >80</text>
<text x="133.9" y="135.14000000000001" font-size="3.0" font-weight="bold" font-family="'Liberation Serif', serif" fill="#111" stroke="#111" stroke-width="0.09" text-anchor="end" >100</text>
<text x="133.9" y="128.77" font-size="3.0" font-weight="bold" font-family="'Liberation Serif', serif" fill="#111" stroke="#111" stroke-width="0.09" text-anchor="end" >120</text>
<text x="133.9" y="122.39999999999999" font-size="3.0" font-weight="bold" font-family="'Liberation Serif', serif" fill="#111" stroke="#111" stroke-width="0.09" text-anchor="end" >140</text>
<text x="133.9" y="116.03" font-size="3.0" font-weight="bold" font-family="'Liberation Serif', serif" fill="#111" stroke="#111" stroke-width="0.09" text-anchor="end" >160</text>
<text x="133.9" y="109.66" font-size="3.0" font-weight="bold" font-family="'Liberation Serif', serif" fill="#111" stroke="#111" stroke-width="0.09" text-anchor="end" >180</text>
<text x="133.9" y="103.28999999999999" font-size="3.0" font-weight="bold" font-family="'Liberation Serif', serif" fill="#111" stroke="#111" stroke-width="0.09" text-anchor="end" >200</text>
<text x="133.9" y="96.92" font-size="3.0" font-weight="bold" font-family="'Liberation Serif', serif" fill="#111" stroke="#111" stroke-width="0.09" text-anchor="end" >220</text>
<text x="133.9" y="90.55" font-size="3.0" font-weight="bold" font-family="'Liberation Serif', serif" fill="#111" stroke="#111" stroke-width="0.09" text-anchor="end" >240</text>
<line x1="135.5" y1="153.6" x2="135.5" y2="154.79999999999998" stroke="#333" stroke-width="0.5" />
<text x="135.5" y="158.1" font-size="3.0" font-weight="bold" font-family="'Liberation Serif', serif" fill="#111" stroke="#111" stroke-width="0.09" text-anchor="middle" >0</text>
<line x1="145.374" y1="153.6" x2="145.374" y2="154.79999999999998" stroke="#333" stroke-width="0.5" />
<text x="145.374" y="158.1" font-size="3.0" font-weight="bold" font-family="'Liberation Serif', serif" fill="#111" stroke="#111" stroke-width="0.09" text-anchor="middle" >20</text>
<line x1="155.248" y1="153.6" x2="155.248" y2="154.79999999999998" stroke="#333" stroke-width="0.5" />
<text x="155.248" y="158.1" font-size="3.0" font-weight="bold" font-family="'Liberation Serif', serif" fill="#111" stroke="#111" stroke-width="0.09" text-anchor="middle" >40</text>
<line x1="165.122" y1="153.6" x2="165.122" y2="154.79999999999998" stroke="#333" stroke-width="0.5" />
<text x="165.122" y="158.1" font-size="3.0" font-weight="bold" font-family="'Liberation Serif', serif" fill="#111" stroke="#111" stroke-width="0.09" text-anchor="middle" >60</text>
<line x1="174.996" y1="153.6" x2="174.996" y2="154.79999999999998" stroke="#333" stroke-width="0.5" />
<text x="174.996" y="158.1" font-size="3.0" font-weight="bold" font-family="'Liberation Serif', serif" fill="#111" stroke="#111" stroke-width="0.09" text-anchor="middle" >80</text>
<line x1="184.87" y1="153.6" x2="184.87" y2="154.79999999999998" stroke="#333" stroke-width="0.5" />
<text x="184.87" y="158.1" font-size="3.0" font-weight="bold" font-family="'Liberation Serif', serif" fill="#111" stroke="#111" stroke-width="0.09" text-anchor="middle" >100</text>
<line x1="194.744" y1="153.6" x2="194.744" y2="154.79999999999998" stroke="#333" stroke-width="0.5" />
<text x="194.744" y="158.1" font-size="3.0" font-weight="bold" font-family="'Liberation Serif', serif" fill="#111" stroke="#111" stroke-width="0.09" text-anchor="middle" >120</text>
<line x1="204.618" y1="153.6" x2="204.618" y2="154.79999999999998" stroke="#333" stroke-width="0.5" />
<text x="204.618" y="158.1" font-size="3.0" font-weight="bold" font-family="'Liberation Serif', serif" fill="#111" stroke="#111" stroke-width="0.09" text-anchor="middle" >140</text>
<line x1="214.49200000000002" y1="153.6" x2="214.49200000000002" y2="154.79999999999998" stroke="#333" stroke-width="0.5" />
<text x="214.49200000000002" y="158.1" font-size="3.0" font-weight="bold" font-family="'Liberation Serif', serif" fill="#111" stroke="#111" stroke-width="0.09" text-anchor="middle" >160</text>
<text x="143.4" y="117.2" font-size="3.2" font-weight="bold" font-family="'Liberation Serif', serif" fill="#111" stroke="#111" stroke-width="0.096" text-anchor="middle" >18.7s</text>
<text x="200.8" y="117.2" font-size="3.2" font-weight="bold" font-family="'Liberation Serif', serif" fill="#111" stroke="#111" stroke-width="0.096" text-anchor="middle" >20.1s</text>
<line x1="139.6" y1="120.9" x2="147.6" y2="120.9" stroke="#111" stroke-width="0.7" />
<path d="M139.6,120.9 l1.8,-1.1 l0,2.2 z" fill="#111" stroke="none" stroke-width="1" />
<path d="M147.6,120.9 l-1.8,-1.1 l0,2.2 z" fill="#111" stroke="none" stroke-width="1" />
<line x1="195.7" y1="120.9" x2="205.3" y2="120.9" stroke="#111" stroke-width="0.7" />
<path d="M195.7,120.9 l1.8,-1.1 l0,2.2 z" fill="#111" stroke="none" stroke-width="1" />
<path d="M205.3,120.9 l-1.8,-1.1 l0,2.2 z" fill="#111" stroke="none" stroke-width="1" />
<line x1="135.8" y1="89.8" x2="143" y2="89.8" stroke="#2f80e0" stroke-width="0.9" />
<text x="144" y="91" font-size="3.3" font-weight="bold" font-family="'Liberation Serif', serif" fill="#222">Nb<tspan font-size="2.3" dy="0.8">2</tspan><tspan dy="-0.8">CT</tspan><tspan font-size="2.3" dy="0.8">x</tspan><tspan dy="-0.8">/MoSe</tspan><tspan font-size="2.3" dy="0.8">2</tspan><tspan dy="-0.8">-0.4</tspan></text>
<text x="212.5" y="90.3" font-size="3.2" font-weight="bold" font-family="'Liberation Serif', serif" fill="#111" stroke="#111" stroke-width="0.096" text-anchor="end" >50ppm</text>
<text x="212.5" y="94.0" font-size="3.2" font-weight="bold" font-family="'Liberation Serif', serif" fill="#111" stroke="#111" stroke-width="0.096" text-anchor="end" >T=25°C</text>
<text x="175" y="162.4" font-size="4.9" font-weight="bold" font-family="'Liberation Serif', serif" fill="#111" stroke="#111" stroke-width="0.147" text-anchor="middle" >Time (s)</text>
<text x="0" y="0" font-size="5" font-weight="bold" font-family="'Liberation Serif', serif" fill="#111" text-anchor="middle" transform="translate(127.2,119.2) rotate(-90)">Resistance (MΩ)</text>
<text x="231.4" y="14.6" font-size="10.0" font-weight="bold" font-family="'Liberation Serif', serif" fill="#151515">(a<tspan font-size="6.2" dy="2.4">2</tspan><tspan dy="-2.4">)</tspan></text>
<polygon points="250,34.8 303,31.8 349,34.8 349,49.2 303,55.4 250,49.2" fill="#b4e0cf"/>
<circle cx="241.20" cy="38.90" r="1.4" fill="#3aa884" stroke="none" stroke-width="0.3" />
<circle cx="241.20" cy="41.20" r="1.4" fill="#3aa884" stroke="none" stroke-width="0.3" />
<circle cx="241.20" cy="45.80" r="1.4" fill="#2f9c78" stroke="none" stroke-width="0.3" />
<circle cx="241.20" cy="48.10" r="1.4" fill="#45b088" stroke="none" stroke-width="0.3" />
<circle cx="243.40" cy="37.70" r="1.4" fill="#2a9470" stroke="none" stroke-width="0.3" />
<circle cx="243.40" cy="40.00" r="1.4" fill="#2a9470" stroke="none" stroke-width="0.3" />
<circle cx="243.40" cy="44.60" r="1.4" fill="#45b088" stroke="none" stroke-width="0.3" />
<circle cx="243.40" cy="46.90" r="1.4" fill="#2f9c78" stroke="none" stroke-width="0.3" />
<circle cx="247.80" cy="36.30" r="1.4" fill="#3aa884" stroke="none" stroke-width="0.3" />
<circle cx="247.80" cy="38.60" r="1.4" fill="#3aa884" stroke="none" stroke-width="0.3" />
<circle cx="247.80" cy="43.20" r="1.4" fill="#45b088" stroke="none" stroke-width="0.3" />
<circle cx="247.80" cy="45.50" r="1.4" fill="#45b088" stroke="none" stroke-width="0.3" />
<circle cx="250.00" cy="37.40" r="1.4" fill="#45b088" stroke="none" stroke-width="0.3" />
<circle cx="250.00" cy="42.00" r="1.4" fill="#3aa884" stroke="none" stroke-width="0.3" />
<circle cx="250.00" cy="44.30" r="1.4" fill="#3aa884" stroke="none" stroke-width="0.3" />
<circle cx="250.00" cy="48.90" r="1.4" fill="#3aa884" stroke="none" stroke-width="0.3" />
<circle cx="254.40" cy="35.90" r="1.4" fill="#45b088" stroke="none" stroke-width="0.3" />
<circle cx="254.40" cy="38.20" r="1.4" fill="#2a9470" stroke="none" stroke-width="0.3" />
<circle cx="254.40" cy="40.50" r="1.4" fill="#2a9470" stroke="none" stroke-width="0.3" />
<circle cx="254.40" cy="42.80" r="1.4" fill="#3aa884" stroke="none" stroke-width="0.3" />
<circle cx="254.40" cy="45.10" r="1.4" fill="#2a9470" stroke="none" stroke-width="0.3" />
<circle cx="254.40" cy="47.40" r="1.4" fill="#2f9c78" stroke="none" stroke-width="0.3" />
<circle cx="254.40" cy="49.70" r="1.4" fill="#2a9470" stroke="none" stroke-width="0.3" />
<circle cx="256.60" cy="37.00" r="1.4" fill="#2f9c78" stroke="none" stroke-width="0.3" />
<circle cx="256.60" cy="39.30" r="1.4" fill="#45b088" stroke="none" stroke-width="0.3" />
<circle cx="256.60" cy="41.60" r="1.4" fill="#45b088" stroke="none" stroke-width="0.3" />
<circle cx="256.60" cy="43.90" r="1.4" fill="#45b088" stroke="none" stroke-width="0.3" />
<circle cx="256.60" cy="46.20" r="1.4" fill="#45b088" stroke="none" stroke-width="0.3" />
<circle cx="256.60" cy="48.50" r="1.4" fill="#45b088" stroke="none" stroke-width="0.3" />
<circle cx="261.00" cy="35.60" r="1.4" fill="#3aa884" stroke="none" stroke-width="0.3" />
<circle cx="261.00" cy="37.90" r="1.4" fill="#2f9c78" stroke="none" stroke-width="0.3" />
<circle cx="261.00" cy="40.20" r="1.4" fill="#2a9470" stroke="none" stroke-width="0.3" />
<circle cx="261.00" cy="42.50" r="1.4" fill="#2a9470" stroke="none" stroke-width="0.3" />
<circle cx="261.00" cy="44.80" r="1.4" fill="#3aa884" stroke="none" stroke-width="0.3" />
<circle cx="261.00" cy="47.10" r="1.4" fill="#45b088" stroke="none" stroke-width="0.3" />
<circle cx="261.00" cy="49.40" r="1.4" fill="#3aa884" stroke="none" stroke-width="0.3" />
<circle cx="263.20" cy="36.70" r="1.4" fill="#2f9c78" stroke="none" stroke-width="0.3" />
<circle cx="263.20" cy="39.00" r="1.4" fill="#45b088" stroke="none" stroke-width="0.3" />
<circle cx="263.20" cy="41.30" r="1.4" fill="#2f9c78" stroke="none" stroke-width="0.3" />
<circle cx="263.20" cy="43.60" r="1.4" fill="#45b088" stroke="none" stroke-width="0.3" />
<circle cx="263.20" cy="45.90" r="1.4" fill="#45b088" stroke="none" stroke-width="0.3" />
<circle cx="263.20" cy="48.20" r="1.4" fill="#2f9c78" stroke="none" stroke-width="0.3" />
<circle cx="263.20" cy="50.50" r="1.4" fill="#45b088" stroke="none" stroke-width="0.3" />
<circle cx="267.60" cy="35.20" r="1.4" fill="#3aa884" stroke="none" stroke-width="0.3" />
<circle cx="267.60" cy="37.50" r="1.4" fill="#2f9c78" stroke="none" stroke-width="0.3" />
<circle cx="267.60" cy="39.80" r="1.4" fill="#2a9470" stroke="none" stroke-width="0.3" />
<circle cx="267.60" cy="42.10" r="1.4" fill="#2f9c78" stroke="none" stroke-width="0.3" />
<circle cx="267.60" cy="44.40" r="1.4" fill="#3aa884" stroke="none" stroke-width="0.3" />
<circle cx="267.60" cy="46.70" r="1.4" fill="#2f9c78" stroke="none" stroke-width="0.3" />
<circle cx="267.60" cy="49.00" r="1.4" fill="#2a9470" stroke="none" stroke-width="0.3" />
<circle cx="267.60" cy="51.30" r="1.4" fill="#3aa884" stroke="none" stroke-width="0.3" />
<circle cx="269.80" cy="36.30" r="1.4" fill="#2f9c78" stroke="none" stroke-width="0.3" />
<circle cx="269.80" cy="38.60" r="1.4" fill="#2f9c78" stroke="none" stroke-width="0.3" />
<circle cx="269.80" cy="40.90" r="1.4" fill="#2a9470" stroke="none" stroke-width="0.3" />
<circle cx="269.80" cy="43.20" r="1.4" fill="#2a9470" stroke="none" stroke-width="0.3" />
<circle cx="269.80" cy="45.50" r="1.4" fill="#45b088" stroke="none" stroke-width="0.3" />
<circle cx="269.80" cy="47.80" r="1.4" fill="#45b088" stroke="none" stroke-width="0.3" />
<circle cx="269.80" cy="50.10" r="1.4" fill="#2a9470" stroke="none" stroke-width="0.3" />
<circle cx="274.20" cy="34.90" r="1.4" fill="#2f9c78" stroke="none" stroke-width="0.3" />
<circle cx="274.20" cy="37.20" r="1.4" fill="#2a9470" stroke="none" stroke-width="0.3" />
<circle cx="274.20" cy="39.50" r="1.4" fill="#45b088" stroke="none" stroke-width="0.3" />
<circle cx="274.20" cy="41.80" r="1.4" fill="#3aa884" stroke="none" stroke-width="0.3" />
<circle cx="274.20" cy="44.10" r="1.4" fill="#2a9470" stroke="none" stroke-width="0.3" />
<circle cx="274.20" cy="46.40" r="1.4" fill="#2f9c78" stroke="none" stroke-width="0.3" />
<circle cx="274.20" cy="48.70" r="1.4" fill="#45b088" stroke="none" stroke-width="0.3" />
<circle cx="274.20" cy="51.00" r="1.4" fill="#45b088" stroke="none" stroke-width="0.3" />
<circle cx="276.40" cy="36.00" r="1.4" fill="#2a9470" stroke="none" stroke-width="0.3" />
<circle cx="276.40" cy="38.30" r="1.4" fill="#2a9470" stroke="none" stroke-width="0.3" />
<circle cx="276.40" cy="40.60" r="1.4" fill="#2a9470" stroke="none" stroke-width="0.3" />
<circle cx="276.40" cy="42.90" r="1.4" fill="#45b088" stroke="none" stroke-width="0.3" />
<circle cx="276.40" cy="45.20" r="1.4" fill="#2f9c78" stroke="none" stroke-width="0.3" />
<circle cx="276.40" cy="47.50" r="1.4" fill="#2f9c78" stroke="none" stroke-width="0.3" />
<circle cx="276.40" cy="49.80" r="1.4" fill="#3aa884" stroke="none" stroke-width="0.3" />
<circle cx="276.40" cy="52.10" r="1.4" fill="#2a9470" stroke="none" stroke-width="0.3" />
<circle cx="280.80" cy="34.50" r="1.4" fill="#2f9c78" stroke="none" stroke-width="0.3" />
<circle cx="280.80" cy="36.80" r="1.4" fill="#2a9470" stroke="none" stroke-width="0.3" />
<circle cx="280.80" cy="39.10" r="1.4" fill="#2a9470" stroke="none" stroke-width="0.3" />
<circle cx="280.80" cy="41.40" r="1.4" fill="#2a9470" stroke="none" stroke-width="0.3" />
<circle cx="280.80" cy="43.70" r="1.4" fill="#2a9470" stroke="none" stroke-width="0.3" />
<circle cx="280.80" cy="46.00" r="1.4" fill="#3aa884" stroke="none" stroke-width="0.3" />
<circle cx="280.80" cy="48.30" r="1.4" fill="#45b088" stroke="none" stroke-width="0.3" />
<circle cx="280.80" cy="50.60" r="1.4" fill="#2f9c78" stroke="none" stroke-width="0.3" />
<circle cx="280.80" cy="52.90" r="1.4" fill="#2f9c78" stroke="none" stroke-width="0.3" />
<circle cx="283.00" cy="35.60" r="1.4" fill="#3aa884" stroke="none" stroke-width="0.3" />
<circle cx="283.00" cy="37.90" r="1.4" fill="#2a9470" stroke="none" stroke-width="0.3" />
<circle cx="283.00" cy="40.20" r="1.4" fill="#2f9c78" stroke="none" stroke-width="0.3" />
<circle cx="283.00" cy="42.50" r="1.4" fill="#2f9c78" stroke="none" stroke-width="0.3" />
<circle cx="283.00" cy="44.80" r="1.4" fill="#2f9c78" stroke="none" stroke-width="0.3" />
<circle cx="283.00" cy="47.10" r="1.4" fill="#3aa884" stroke="none" stroke-width="0.3" />
<circle cx="283.00" cy="49.40" r="1.4" fill="#45b088" stroke="none" stroke-width="0.3" />
<circle cx="283.00" cy="51.70" r="1.4" fill="#45b088" stroke="none" stroke-width="0.3" />
<circle cx="287.40" cy="34.20" r="1.4" fill="#45b088" stroke="none" stroke-width="0.3" />
<circle cx="287.40" cy="36.50" r="1.4" fill="#45b088" stroke="none" stroke-width="0.3" />
<circle cx="287.40" cy="38.80" r="1.4" fill="#2a9470" stroke="none" stroke-width="0.3" />
<circle cx="287.40" cy="41.10" r="1.4" fill="#2f9c78" stroke="none" stroke-width="0.3" />
<circle cx="287.40" cy="43.40" r="1.4" fill="#45b088" stroke="none" stroke-width="0.3" />
<circle cx="287.40" cy="45.70" r="1.4" fill="#3aa884" stroke="none" stroke-width="0.3" />
<circle cx="287.40" cy="48.00" r="1.4" fill="#2f9c78" stroke="none" stroke-width="0.3" />
<circle cx="287.40" cy="50.30" r="1.4" fill="#45b088" stroke="none" stroke-width="0.3" />
<circle cx="287.40" cy="52.60" r="1.4" fill="#2f9c78" stroke="none" stroke-width="0.3" />
<circle cx="289.60" cy="35.30" r="1.4" fill="#2f9c78" stroke="none" stroke-width="0.3" />
<circle cx="289.60" cy="37.60" r="1.4" fill="#2f9c78" stroke="none" stroke-width="0.3" />
<circle cx="289.60" cy="39.90" r="1.4" fill="#2a9470" stroke="none" stroke-width="0.3" />
<circle cx="289.60" cy="42.20" r="1.4" fill="#45b088" stroke="none" stroke-width="0.3" />
<circle cx="289.60" cy="44.50" r="1.4" fill="#2f9c78" stroke="none" stroke-width="0.3" />
<circle cx="289.60" cy="46.80" r="1.4" fill="#2a9470" stroke="none" stroke-width="0.3" />
<circle cx="289.60" cy="49.10" r="1.4" fill="#45b088" stroke="none" stroke-width="0.3" />
<circle cx="289.60" cy="51.40" r="1.4" fill="#3aa884" stroke="none" stroke-width="0.3" />
<circle cx="289.60" cy="53.70" r="1.4" fill="#2a9470" stroke="none" stroke-width="0.3" />
<circle cx="294.00" cy="33.80" r="1.4" fill="#2f9c78" stroke="none" stroke-width="0.3" />
<circle cx="294.00" cy="36.10" r="1.4" fill="#45b088" stroke="none" stroke-width="0.3" />
<circle cx="294.00" cy="38.40" r="1.4" fill="#2f9c78" stroke="none" stroke-width="0.3" />
<circle cx="294.00" cy="40.70" r="1.4" fill="#2f9c78" stroke="none" stroke-width="0.3" />
<circle cx="294.00" cy="43.00" r="1.4" fill="#2f9c78" stroke="none" stroke-width="0.3" />
<circle cx="294.00" cy="45.30" r="1.4" fill="#45b088" stroke="none" stroke-width="0.3" />
<circle cx="294.00" cy="47.60" r="1.4" fill="#2a9470" stroke="none" stroke-width="0.3" />
<circle cx="294.00" cy="49.90" r="1.4" fill="#2a9470" stroke="none" stroke-width="0.3" />
<circle cx="294.00" cy="52.20" r="1.4" fill="#2a9470" stroke="none" stroke-width="0.3" />
<circle cx="296.20" cy="34.90" r="1.4" fill="#2f9c78" stroke="none" stroke-width="0.3" />
<circle cx="296.20" cy="37.20" r="1.4" fill="#2f9c78" stroke="none" stroke-width="0.3" />
<circle cx="296.20" cy="39.50" r="1.4" fill="#45b088" stroke="none" stroke-width="0.3" />
<circle cx="296.20" cy="41.80" r="1.4" fill="#2f9c78" stroke="none" stroke-width="0.3" />
<circle cx="296.20" cy="44.10" r="1.4" fill="#2f9c78" stroke="none" stroke-width="0.3" />
<circle cx="296.20" cy="46.40" r="1.4" fill="#3aa884" stroke="none" stroke-width="0.3" />
<circle cx="296.20" cy="48.70" r="1.4" fill="#2f9c78" stroke="none" stroke-width="0.3" />
<circle cx="296.20" cy="51.00" r="1.4" fill="#3aa884" stroke="none" stroke-width="0.3" />
<circle cx="296.20" cy="53.30" r="1.4" fill="#2f9c78" stroke="none" stroke-width="0.3" />
<circle cx="300.60" cy="33.40" r="1.4" fill="#2f9c78" stroke="none" stroke-width="0.3" />
<circle cx="300.60" cy="35.70" r="1.4" fill="#2f9c78" stroke="none" stroke-width="0.3" />
<circle cx="300.60" cy="38.00" r="1.4" fill="#2f9c78" stroke="none" stroke-width="0.3" />
<circle cx="300.60" cy="40.30" r="1.4" fill="#45b088" stroke="none" stroke-width="0.3" />
<circle cx="300.60" cy="42.60" r="1.4" fill="#2a9470" stroke="none" stroke-width="0.3" />
<circle cx="300.60" cy="44.90" r="1.4" fill="#2a9470" stroke="none" stroke-width="0.3" />
<circle cx="300.60" cy="47.20" r="1.4" fill="#3aa884" stroke="none" stroke-width="0.3" />
<circle cx="300.60" cy="49.50" r="1.4" fill="#2f9c78" stroke="none" stroke-width="0.3" />
<circle cx="300.60" cy="51.80" r="1.4" fill="#3aa884" stroke="none" stroke-width="0.3" />
<circle cx="300.60" cy="54.10" r="1.4" fill="#2f9c78" stroke="none" stroke-width="0.3" />
<circle cx="302.80" cy="34.50" r="1.4" fill="#3aa884" stroke="none" stroke-width="0.3" />
<circle cx="302.80" cy="36.80" r="1.4" fill="#2f9c78" stroke="none" stroke-width="0.3" />
<circle cx="302.80" cy="39.10" r="1.4" fill="#3aa884" stroke="none" stroke-width="0.3" />
<circle cx="302.80" cy="41.40" r="1.4" fill="#45b088" stroke="none" stroke-width="0.3" />
<circle cx="302.80" cy="43.70" r="1.4" fill="#2a9470" stroke="none" stroke-width="0.3" />
<circle cx="302.80" cy="46.00" r="1.4" fill="#2a9470" stroke="none" stroke-width="0.3" />
<circle cx="302.80" cy="48.30" r="1.4" fill="#2f9c78" stroke="none" stroke-width="0.3" />
<circle cx="302.80" cy="50.60" r="1.4" fill="#2f9c78" stroke="none" stroke-width="0.3" />
<circle cx="302.80" cy="52.90" r="1.4" fill="#3aa884" stroke="none" stroke-width="0.3" />
<circle cx="307.20" cy="33.30" r="1.4" fill="#45b088" stroke="none" stroke-width="0.3" />
<circle cx="307.20" cy="35.60" r="1.4" fill="#3aa884" stroke="none" stroke-width="0.3" />
<circle cx="307.20" cy="37.90" r="1.4" fill="#2a9470" stroke="none" stroke-width="0.3" />
<circle cx="307.20" cy="40.20" r="1.4" fill="#2f9c78" stroke="none" stroke-width="0.3" />
<circle cx="307.20" cy="42.50" r="1.4" fill="#3aa884" stroke="none" stroke-width="0.3" />
<circle cx="307.20" cy="44.80" r="1.4" fill="#45b088" stroke="none" stroke-width="0.3" />
<circle cx="307.20" cy="47.10" r="1.4" fill="#2f9c78" stroke="none" stroke-width="0.3" />
<circle cx="307.20" cy="49.40" r="1.4" fill="#3aa884" stroke="none" stroke-width="0.3" />
<circle cx="307.20" cy="51.70" r="1.4" fill="#2a9470" stroke="none" stroke-width="0.3" />
<circle cx="307.20" cy="54.00" r="1.4" fill="#2a9470" stroke="none" stroke-width="0.3" />
<circle cx="309.40" cy="34.40" r="1.4" fill="#3aa884" stroke="none" stroke-width="0.3" />
<circle cx="309.40" cy="36.70" r="1.4" fill="#2f9c78" stroke="none" stroke-width="0.3" />
<circle cx="309.40" cy="39.00" r="1.4" fill="#3aa884" stroke="none" stroke-width="0.3" />
<circle cx="309.40" cy="41.30" r="1.4" fill="#2f9c78" stroke="none" stroke-width="0.3" />
<circle cx="309.40" cy="43.60" r="1.4" fill="#2f9c78" stroke="none" stroke-width="0.3" />
<circle cx="309.40" cy="45.90" r="1.4" fill="#2a9470" stroke="none" stroke-width="0.3" />
<circle cx="309.40" cy="48.20" r="1.4" fill="#2f9c78" stroke="none" stroke-width="0.3" />
<circle cx="309.40" cy="50.50" r="1.4" fill="#3aa884" stroke="none" stroke-width="0.3" />
<circle cx="309.40" cy="52.80" r="1.4" fill="#45b088" stroke="none" stroke-width="0.3" />
<circle cx="309.40" cy="55.10" r="1.4" fill="#2f9c78" stroke="none" stroke-width="0.3" />
<circle cx="313.80" cy="33.70" r="1.4" fill="#2f9c78" stroke="none" stroke-width="0.3" />
<circle cx="313.80" cy="36.00" r="1.4" fill="#45b088" stroke="none" stroke-width="0.3" />
<circle cx="313.80" cy="38.30" r="1.4" fill="#2f9c78" stroke="none" stroke-width="0.3" />
<circle cx="313.80" cy="40.60" r="1.4" fill="#45b088" stroke="none" stroke-width="0.3" />
<circle cx="313.80" cy="42.90" r="1.4" fill="#2f9c78" stroke="none" stroke-width="0.3" />
<circle cx="313.80" cy="45.20" r="1.4" fill="#45b088" stroke="none" stroke-width="0.3" />
<circle cx="313.80" cy="47.50" r="1.4" fill="#45b088" stroke="none" stroke-width="0.3" />
<circle cx="313.80" cy="49.80" r="1.4" fill="#2a9470" stroke="none" stroke-width="0.3" />
<circle cx="313.80" cy="52.10" r="1.4" fill="#45b088" stroke="none" stroke-width="0.3" />
<circle cx="313.80" cy="54.40" r="1.4" fill="#3aa884" stroke="none" stroke-width="0.3" />
<circle cx="316.00" cy="34.80" r="1.4" fill="#3aa884" stroke="none" stroke-width="0.3" />
<circle cx="316.00" cy="37.10" r="1.4" fill="#2a9470" stroke="none" stroke-width="0.3" />
<circle cx="316.00" cy="39.40" r="1.4" fill="#45b088" stroke="none" stroke-width="0.3" />
<circle cx="316.00" cy="41.70" r="1.4" fill="#45b088" stroke="none" stroke-width="0.3" />
<circle cx="316.00" cy="44.00" r="1.4" fill="#3aa884" stroke="none" stroke-width="0.3" />
<circle cx="316.00" cy="46.30" r="1.4" fill="#2a9470" stroke="none" stroke-width="0.3" />
<circle cx="316.00" cy="48.60" r="1.4" fill="#45b088" stroke="none" stroke-width="0.3" />
<circle cx="316.00" cy="50.90" r="1.4" fill="#2f9c78" stroke="none" stroke-width="0.3" />
<circle cx="316.00" cy="53.20" r="1.4" fill="#2f9c78" stroke="none" stroke-width="0.3" />
<circle cx="320.40" cy="34.10" r="1.4" fill="#3aa884" stroke="none" stroke-width="0.3" />
<circle cx="320.40" cy="36.40" r="1.4" fill="#2a9470" stroke="none" stroke-width="0.3" />
<circle cx="320.40" cy="38.70" r="1.4" fill="#2f9c78" stroke="none" stroke-width="0.3" />
<circle cx="320.40" cy="41.00" r="1.4" fill="#2a9470" stroke="none" stroke-width="0.3" />
<circle cx="320.40" cy="43.30" r="1.4" fill="#3aa884" stroke="none" stroke-width="0.3" />
<circle cx="320.40" cy="45.60" r="1.4" fill="#2a9470" stroke="none" stroke-width="0.3" />
<circle cx="320.40" cy="47.90" r="1.4" fill="#2a9470" stroke="none" stroke-width="0.3" />
<circle cx="320.40" cy="50.20" r="1.4" fill="#3aa884" stroke="none" stroke-width="0.3" />
<circle cx="320.40" cy="52.50" r="1.4" fill="#45b088" stroke="none" stroke-width="0.3" />
<circle cx="322.60" cy="35.20" r="1.4" fill="#2a9470" stroke="none" stroke-width="0.3" />
<circle cx="322.60" cy="37.50" r="1.4" fill="#2a9470" stroke="none" stroke-width="0.3" />
<circle cx="322.60" cy="39.80" r="1.4" fill="#45b088" stroke="none" stroke-width="0.3" />
<circle cx="322.60" cy="42.10" r="1.4" fill="#2a9470" stroke="none" stroke-width="0.3" />
<circle cx="322.60" cy="44.40" r="1.4" fill="#3aa884" stroke="none" stroke-width="0.3" />
<circle cx="322.60" cy="46.70" r="1.4" fill="#2f9c78" stroke="none" stroke-width="0.3" />
<circle cx="322.60" cy="49.00" r="1.4" fill="#3aa884" stroke="none" stroke-width="0.3" />
<circle cx="322.60" cy="51.30" r="1.4" fill="#2a9470" stroke="none" stroke-width="0.3" />
<circle cx="322.60" cy="53.60" r="1.4" fill="#45b088" stroke="none" stroke-width="0.3" />
<circle cx="327.00" cy="34.50" r="1.4" fill="#2a9470" stroke="none" stroke-width="0.3" />
<circle cx="327.00" cy="36.80" r="1.4" fill="#2a9470" stroke="none" stroke-width="0.3" />
<circle cx="327.00" cy="39.10" r="1.4" fill="#2f9c78" stroke="none" stroke-width="0.3" />
<circle cx="327.00" cy="41.40" r="1.4" fill="#3aa884" stroke="none" stroke-width="0.3" />
<circle cx="327.00" cy="43.70" r="1.4" fill="#2f9c78" stroke="none" stroke-width="0.3" />
<circle cx="327.00" cy="46.00" r="1.4" fill="#45b088" stroke="none" stroke-width="0.3" />
<circle cx="327.00" cy="48.30" r="1.4" fill="#2a9470" stroke="none" stroke-width="0.3" />
<circle cx="327.00" cy="50.60" r="1.4" fill="#2f9c78" stroke="none" stroke-width="0.3" />
<circle cx="327.00" cy="52.90" r="1.4" fill="#3aa884" stroke="none" stroke-width="0.3" />
<circle cx="329.20" cy="35.60" r="1.4" fill="#3aa884" stroke="none" stroke-width="0.3" />
<circle cx="329.20" cy="37.90" r="1.4" fill="#2a9470" stroke="none" stroke-width="0.3" />
<circle cx="329.20" cy="40.20" r="1.4" fill="#2a9470" stroke="none" stroke-width="0.3" />
<circle cx="329.20" cy="42.50" r="1.4" fill="#3aa884" stroke="none" stroke-width="0.3" />
<circle cx="329.20" cy="44.80" r="1.4" fill="#3aa884" stroke="none" stroke-width="0.3" />
<circle cx="329.20" cy="47.10" r="1.4" fill="#2f9c78" stroke="none" stroke-width="0.3" />
<circle cx="329.20" cy="49.40" r="1.4" fill="#3aa884" stroke="none" stroke-width="0.3" />
<circle cx="329.20" cy="51.70" r="1.4" fill="#2a9470" stroke="none" stroke-width="0.3" />
<circle cx="333.60" cy="34.90" r="1.4" fill="#45b088" stroke="none" stroke-width="0.3" />
<circle cx="333.60" cy="37.20" r="1.4" fill="#45b088" stroke="none" stroke-width="0.3" />
<circle cx="333.60" cy="39.50" r="1.4" fill="#2a9470" stroke="none" stroke-width="0.3" />
<circle cx="333.60" cy="41.80" r="1.4" fill="#2f9c78" stroke="none" stroke-width="0.3" />
<circle cx="333.60" cy="44.10" r="1.4" fill="#3aa884" stroke="none" stroke-width="0.3" />
<circle cx="333.60" cy="46.40" r="1.4" fill="#2f9c78" stroke="none" stroke-width="0.3" />
<circle cx="333.60" cy="48.70" r="1.4" fill="#45b088" stroke="none" stroke-width="0.3" />
<circle cx="333.60" cy="51.00" r="1.4" fill="#2a9470" stroke="none" stroke-width="0.3" />
<circle cx="335.80" cy="36.00" r="1.4" fill="#45b088" stroke="none" stroke-width="0.3" />
<circle cx="335.80" cy="38.30" r="1.4" fill="#2f9c78" stroke="none" stroke-width="0.3" />
<circle cx="335.80" cy="40.60" r="1.4" fill="#2a9470" stroke="none" stroke-width="0.3" />
<circle cx="335.80" cy="42.90" r="1.4" fill="#2a9470" stroke="none" stroke-width="0.3" />
<circle cx="335.80" cy="45.20" r="1.4" fill="#3aa884" stroke="none" stroke-width="0.3" />
<circle cx="335.80" cy="47.50" r="1.4" fill="#2a9470" stroke="none" stroke-width="0.3" />
<circle cx="335.80" cy="49.80" r="1.4" fill="#2a9470" stroke="none" stroke-width="0.3" />
<circle cx="335.80" cy="52.10" r="1.4" fill="#2a9470" stroke="none" stroke-width="0.3" />
<circle cx="340.20" cy="35.30" r="1.4" fill="#2a9470" stroke="none" stroke-width="0.3" />
<circle cx="340.20" cy="37.60" r="1.4" fill="#45b088" stroke="none" stroke-width="0.3" />
<circle cx="340.20" cy="39.90" r="1.4" fill="#2a9470" stroke="none" stroke-width="0.3" />
<circle cx="340.20" cy="42.20" r="1.4" fill="#2a9470" stroke="none" stroke-width="0.3" />
<circle cx="340.20" cy="44.50" r="1.4" fill="#45b088" stroke="none" stroke-width="0.3" />
<circle cx="340.20" cy="46.80" r="1.4" fill="#2f9c78" stroke="none" stroke-width="0.3" />
<circle cx="340.20" cy="49.10" r="1.4" fill="#3aa884" stroke="none" stroke-width="0.3" />
<circle cx="340.20" cy="51.40" r="1.4" fill="#2f9c78" stroke="none" stroke-width="0.3" />
<circle cx="342.40" cy="36.40" r="1.4" fill="#2a9470" stroke="none" stroke-width="0.3" />
<circle cx="342.40" cy="38.70" r="1.4" fill="#2f9c78" stroke="none" stroke-width="0.3" />
<circle cx="342.40" cy="41.00" r="1.4" fill="#45b088" stroke="none" stroke-width="0.3" />
<circle cx="342.40" cy="43.30" r="1.4" fill="#45b088" stroke="none" stroke-width="0.3" />
<circle cx="342.40" cy="45.60" r="1.4" fill="#2f9c78" stroke="none" stroke-width="0.3" />
<circle cx="342.40" cy="47.90" r="1.4" fill="#2f9c78" stroke="none" stroke-width="0.3" />
<circle cx="342.40" cy="50.20" r="1.4" fill="#2f9c78" stroke="none" stroke-width="0.3" />
<circle cx="346.80" cy="35.70" r="1.4" fill="#3aa884" stroke="none" stroke-width="0.3" />
<circle cx="346.80" cy="38.00" r="1.4" fill="#2f9c78" stroke="none" stroke-width="0.3" />
<circle cx="346.80" cy="40.30" r="1.4" fill="#45b088" stroke="none" stroke-width="0.3" />
<circle cx="346.80" cy="42.60" r="1.4" fill="#2a9470" stroke="none" stroke-width="0.3" />
<circle cx="346.80" cy="44.90" r="1.4" fill="#3aa884" stroke="none" stroke-width="0.3" />
<circle cx="346.80" cy="47.20" r="1.4" fill="#2a9470" stroke="none" stroke-width="0.3" />
<circle cx="346.80" cy="49.50" r="1.4" fill="#45b088" stroke="none" stroke-width="0.3" />
<circle cx="349.00" cy="36.80" r="1.4" fill="#2a9470" stroke="none" stroke-width="0.3" />
<circle cx="349.00" cy="39.10" r="1.4" fill="#3aa884" stroke="none" stroke-width="0.3" />
<circle cx="349.00" cy="41.40" r="1.4" fill="#2a9470" stroke="none" stroke-width="0.3" />
<circle cx="349.00" cy="43.70" r="1.4" fill="#2f9c78" stroke="none" stroke-width="0.3" />
<circle cx="349.00" cy="46.00" r="1.4" fill="#45b088" stroke="none" stroke-width="0.3" />
<circle cx="349.00" cy="48.30" r="1.4" fill="#45b088" stroke="none" stroke-width="0.3" />
<circle cx="349.00" cy="50.60" r="1.4" fill="#2a9470" stroke="none" stroke-width="0.3" />
<circle cx="353.40" cy="36.10" r="1.4" fill="#45b088" stroke="none" stroke-width="0.3" />
<circle cx="353.40" cy="40.70" r="1.4" fill="#2a9470" stroke="none" stroke-width="0.3" />
<circle cx="353.40" cy="43.00" r="1.4" fill="#2f9c78" stroke="none" stroke-width="0.3" />
<circle cx="353.40" cy="47.60" r="1.4" fill="#45b088" stroke="none" stroke-width="0.3" />
<circle cx="353.40" cy="49.90" r="1.4" fill="#2f9c78" stroke="none" stroke-width="0.3" />
<circle cx="355.60" cy="39.50" r="1.4" fill="#45b088" stroke="none" stroke-width="0.3" />
<circle cx="355.60" cy="41.80" r="1.4" fill="#45b088" stroke="none" stroke-width="0.3" />
<circle cx="355.60" cy="46.40" r="1.4" fill="#45b088" stroke="none" stroke-width="0.3" />
<circle cx="355.60" cy="48.70" r="1.4" fill="#2a9470" stroke="none" stroke-width="0.3" />
<circle cx="360.00" cy="38.80" r="1.4" fill="#3aa884" stroke="none" stroke-width="0.3" />
<circle cx="360.00" cy="41.10" r="1.4" fill="#3aa884" stroke="none" stroke-width="0.3" />
<circle cx="360.00" cy="45.70" r="1.4" fill="#2f9c78" stroke="none" stroke-width="0.3" />
<circle cx="360.00" cy="48.00" r="1.4" fill="#2a9470" stroke="none" stroke-width="0.3" />
<circle cx="362.20" cy="37.60" r="1.4" fill="#45b088" stroke="none" stroke-width="0.3" />
<circle cx="362.20" cy="39.90" r="1.4" fill="#3aa884" stroke="none" stroke-width="0.3" />
<circle cx="362.20" cy="44.50" r="1.4" fill="#45b088" stroke="none" stroke-width="0.3" />
<circle cx="362.20" cy="46.80" r="1.4" fill="#3aa884" stroke="none" stroke-width="0.3" />
<rect x="238.1" y="34.9" width="1.8" height="5.3" rx="0.9" fill="#e3232b"/>
<rect x="238.1" y="44.8" width="1.8" height="5.3" rx="0.9" fill="#e3232b"/>
<rect x="244.7" y="34.6" width="1.8" height="5.7" rx="0.9" fill="#e3232b"/>
<rect x="244.7" y="45.0" width="1.8" height="5.7" rx="0.9" fill="#e3232b"/>
<rect x="251.3" y="34.7" width="1.8" height="7.7" rx="0.9" fill="#e3232b"/>
<rect x="251.3" y="43.2" width="1.8" height="7.7" rx="0.9" fill="#e3232b"/>
<rect x="257.9" y="27.5" width="1.8" height="15.0" rx="0.9" fill="#e3232b"/>
<rect x="257.9" y="43.3" width="1.8" height="8.2" rx="0.9" fill="#e3232b"/>
<rect x="264.5" y="27.5" width="1.8" height="15.2" rx="0.9" fill="#e3232b"/>
<rect x="264.5" y="43.5" width="1.8" height="8.6" rx="0.9" fill="#e3232b"/>
<rect x="271.1" y="27.5" width="1.8" height="15.3" rx="0.9" fill="#e3232b"/>
<rect x="271.1" y="43.6" width="1.8" height="9.1" rx="0.9" fill="#e3232b"/>
<rect x="277.7" y="27.5" width="1.8" height="15.4" rx="0.9" fill="#e3232b"/>
<rect x="277.7" y="43.7" width="1.8" height="9.6" rx="0.9" fill="#e3232b"/>
<rect x="284.3" y="33.0" width="1.8" height="10.1" rx="0.9" fill="#e3232b"/>
<rect x="284.3" y="43.9" width="1.8" height="10.1" rx="0.9" fill="#e3232b"/>
<rect x="290.9" y="32.6" width="1.8" height="10.6" rx="0.9" fill="#e3232b"/>
<rect x="290.9" y="44.0" width="1.8" height="10.6" rx="0.9" fill="#e3232b"/>
<rect x="297.5" y="27.5" width="1.8" height="15.9" rx="0.9" fill="#e3232b"/>
<rect x="297.5" y="44.2" width="1.8" height="11.1" rx="0.9" fill="#e3232b"/>
<rect x="304.1" y="27.5" width="1.8" height="15.9" rx="0.9" fill="#e3232b"/>
<rect x="304.1" y="44.2" width="1.8" height="11.3" rx="0.9" fill="#e3232b"/>
<rect x="310.7" y="27.5" width="1.8" height="15.7" rx="0.9" fill="#e3232b"/>
<rect x="310.7" y="44.0" width="1.8" height="10.7" rx="0.9" fill="#e3232b"/>
<rect x="317.3" y="27.5" width="1.8" height="15.6" rx="0.9" fill="#e3232b"/>
<rect x="317.3" y="43.9" width="1.8" height="10.2" rx="0.9" fill="#e3232b"/>
<rect x="323.9" y="27.5" width="1.8" height="15.4" rx="0.9" fill="#e3232b"/>
<rect x="323.9" y="43.7" width="1.8" height="9.6" rx="0.9" fill="#e3232b"/>
<rect x="330.5" y="27.5" width="1.8" height="15.3" rx="0.9" fill="#e3232b"/>
<rect x="330.5" y="43.6" width="1.8" height="9.1" rx="0.9" fill="#e3232b"/>
<rect x="337.1" y="27.5" width="1.8" height="15.1" rx="0.9" fill="#e3232b"/>
<rect x="337.1" y="43.4" width="1.8" height="8.5" rx="0.9" fill="#e3232b"/>
<rect x="343.7" y="34.5" width="1.8" height="8.0" rx="0.9" fill="#e3232b"/>
<rect x="343.7" y="43.3" width="1.8" height="8.0" rx="0.9" fill="#e3232b"/>
<rect x="350.3" y="34.4" width="1.8" height="5.9" rx="0.9" fill="#e3232b"/>
<rect x="350.3" y="45.2" width="1.8" height="5.9" rx="0.9" fill="#e3232b"/>
<rect x="356.9" y="34.8" width="1.8" height="5.5" rx="0.9" fill="#e3232b"/>
<rect x="356.9" y="44.9" width="1.8" height="5.5" rx="0.9" fill="#e3232b"/>
<rect x="256.6" y="21.5" width="26.399999999999977" height="13" fill="#dcd4e6" opacity="0.8"/>
<rect x="297" y="21.5" width="45" height="13" fill="#dcd4e6" opacity="0.8"/>
<line x1="256.3" y1="22.5" x2="262.90000000000003" y2="33.5" stroke="#b8b8b8" stroke-width="0.3" />
<line x1="262.90000000000003" y1="22.5" x2="256.3" y2="33.5" stroke="#b8b8b8" stroke-width="0.3" />
<circle cx="256.30" cy="22.50" r="1.15" fill="#8ccf3c" stroke="none" stroke-width="0.3" />
<circle cx="262.90" cy="22.50" r="1.15" fill="#8ccf3c" stroke="none" stroke-width="0.3" />
<circle cx="256.30" cy="33.50" r="1.15" fill="#8ccf3c" stroke="none" stroke-width="0.3" />
<circle cx="262.90" cy="33.50" r="1.15" fill="#8ccf3c" stroke="none" stroke-width="0.3" />
<circle cx="258.00" cy="28.00" r="1.1" fill="#a6d84a" stroke="none" stroke-width="0.3" />
<circle cx="261.40" cy="27.20" r="1.0" fill="#9ad040" stroke="none" stroke-width="0.3" />
<circle cx="259.60" cy="25.30" r="1.5" fill="#b89ed0" stroke="none" stroke-width="0.3" />
<circle cx="260.80" cy="30.60" r="1.5" fill="#b89ed0" stroke="none" stroke-width="0.3" />
<circle cx="257.40" cy="31.20" r="0.9" fill="#c8b8d8" stroke="none" stroke-width="0.3" />
<line x1="262.90000000000003" y1="22.5" x2="269.50000000000006" y2="33.5" stroke="#b8b8b8" stroke-width="0.3" />
<line x1="269.50000000000006" y1="22.5" x2="262.90000000000003" y2="33.5" stroke="#b8b8b8" stroke-width="0.3" />
<circle cx="262.90" cy="22.50" r="1.15" fill="#8ccf3c" stroke="none" stroke-width="0.3" />
<circle cx="269.50" cy="22.50" r="1.15" fill="#8ccf3c" stroke="none" stroke-width="0.3" />
<circle cx="262.90" cy="33.50" r="1.15" fill="#8ccf3c" stroke="none" stroke-width="0.3" />
<circle cx="269.50" cy="33.50" r="1.15" fill="#8ccf3c" stroke="none" stroke-width="0.3" />
<circle cx="264.60" cy="28.00" r="1.1" fill="#a6d84a" stroke="none" stroke-width="0.3" />
<circle cx="268.00" cy="27.20" r="1.0" fill="#9ad040" stroke="none" stroke-width="0.3" />
<circle cx="266.20" cy="25.30" r="1.5" fill="#b89ed0" stroke="none" stroke-width="0.3" />
<circle cx="267.40" cy="30.60" r="1.5" fill="#b89ed0" stroke="none" stroke-width="0.3" />
<circle cx="264.00" cy="31.20" r="0.9" fill="#c8b8d8" stroke="none" stroke-width="0.3" />
<line x1="269.50000000000006" y1="22.5" x2="276.1000000000001" y2="33.5" stroke="#b8b8b8" stroke-width="0.3" />
<line x1="276.1000000000001" y1="22.5" x2="269.50000000000006" y2="33.5" stroke="#b8b8b8" stroke-width="0.3" />
<circle cx="269.50" cy="22.50" r="1.15" fill="#8ccf3c" stroke="none" stroke-width="0.3" />
<circle cx="276.10" cy="22.50" r="1.15" fill="#8ccf3c" stroke="none" stroke-width="0.3" />
<circle cx="269.50" cy="33.50" r="1.15" fill="#8ccf3c" stroke="none" stroke-width="0.3" />
<circle cx="276.10" cy="33.50" r="1.15" fill="#8ccf3c" stroke="none" stroke-width="0.3" />
<circle cx="271.20" cy="28.00" r="1.1" fill="#a6d84a" stroke="none" stroke-width="0.3" />
<circle cx="274.60" cy="27.20" r="1.0" fill="#9ad040" stroke="none" stroke-width="0.3" />
<circle cx="272.80" cy="25.30" r="1.5" fill="#b89ed0" stroke="none" stroke-width="0.3" />
<circle cx="274.00" cy="30.60" r="1.5" fill="#b89ed0" stroke="none" stroke-width="0.3" />
<circle cx="270.60" cy="31.20" r="0.9" fill="#c8b8d8" stroke="none" stroke-width="0.3" />
<line x1="276.1000000000001" y1="22.5" x2="282.7000000000001" y2="33.5" stroke="#b8b8b8" stroke-width="0.3" />
<line x1="282.7000000000001" y1="22.5" x2="276.1000000000001" y2="33.5" stroke="#b8b8b8" stroke-width="0.3" />
<circle cx="276.10" cy="22.50" r="1.15" fill="#8ccf3c" stroke="none" stroke-width="0.3" />
<circle cx="282.70" cy="22.50" r="1.15" fill="#8ccf3c" stroke="none" stroke-width="0.3" />
<circle cx="276.10" cy="33.50" r="1.15" fill="#8ccf3c" stroke="none" stroke-width="0.3" />
<circle cx="282.70" cy="33.50" r="1.15" fill="#8ccf3c" stroke="none" stroke-width="0.3" />
<circle cx="277.80" cy="28.00" r="1.1" fill="#a6d84a" stroke="none" stroke-width="0.3" />
<circle cx="281.20" cy="27.20" r="1.0" fill="#9ad040" stroke="none" stroke-width="0.3" />
<circle cx="279.40" cy="25.30" r="1.5" fill="#b89ed0" stroke="none" stroke-width="0.3" />
<circle cx="280.60" cy="30.60" r="1.5" fill="#b89ed0" stroke="none" stroke-width="0.3" />
<circle cx="277.20" cy="31.20" r="0.9" fill="#c8b8d8" stroke="none" stroke-width="0.3" />
<line x1="295.90000000000015" y1="22.5" x2="302.50000000000017" y2="33.5" stroke="#b8b8b8" stroke-width="0.3" />
<line x1="302.50000000000017" y1="22.5" x2="295.90000000000015" y2="33.5" stroke="#b8b8b8" stroke-width="0.3" />
<circle cx="302.50" cy="22.50" r="1.15" fill="#8ccf3c" stroke="none" stroke-width="0.3" />
<circle cx="302.50" cy="33.50" r="1.15" fill="#8ccf3c" stroke="none" stroke-width="0.3" />
<circle cx="297.60" cy="28.00" r="1.1" fill="#a6d84a" stroke="none" stroke-width="0.3" />
<circle cx="301.00" cy="27.20" r="1.0" fill="#9ad040" stroke="none" stroke-width="0.3" />
<circle cx="299.20" cy="25.30" r="1.5" fill="#b89ed0" stroke="none" stroke-width="0.3" />
<circle cx="300.40" cy="30.60" r="1.5" fill="#b89ed0" stroke="none" stroke-width="0.3" />
<circle cx="297.00" cy="31.20" r="0.9" fill="#c8b8d8" stroke="none" stroke-width="0.3" />
<line x1="302.50000000000017" y1="22.5" x2="309.1000000000002" y2="33.5" stroke="#b8b8b8" stroke-width="0.3" />
<line x1="309.1000000000002" y1="22.5" x2="302.50000000000017" y2="33.5" stroke="#b8b8b8" stroke-width="0.3" />
<circle cx="302.50" cy="22.50" r="1.15" fill="#8ccf3c" stroke="none" stroke-width="0.3" />
<circle cx="309.10" cy="22.50" r="1.15" fill="#8ccf3c" stroke="none" stroke-width="0.3" />
<circle cx="302.50" cy="33.50" r="1.15" fill="#8ccf3c" stroke="none" stroke-width="0.3" />
<circle cx="309.10" cy="33.50" r="1.15" fill="#8ccf3c" stroke="none" stroke-width="0.3" />
<circle cx="304.20" cy="28.00" r="1.1" fill="#a6d84a" stroke="none" stroke-width="0.3" />
<circle cx="307.60" cy="27.20" r="1.0" fill="#9ad040" stroke="none" stroke-width="0.3" />
<circle cx="305.80" cy="25.30" r="1.5" fill="#b89ed0" stroke="none" stroke-width="0.3" />
<circle cx="307.00" cy="30.60" r="1.5" fill="#b89ed0" stroke="none" stroke-width="0.3" />
<circle cx="303.60" cy="31.20" r="0.9" fill="#c8b8d8" stroke="none" stroke-width="0.3" />
<line x1="309.1000000000002" y1="22.5" x2="315.7000000000002" y2="33.5" stroke="#b8b8b8" stroke-width="0.3" />
<line x1="315.7000000000002" y1="22.5" x2="309.1000000000002" y2="33.5" stroke="#b8b8b8" stroke-width="0.3" />
<circle cx="309.10" cy="22.50" r="1.15" fill="#8ccf3c" stroke="none" stroke-width="0.3" />
<circle cx="315.70" cy="22.50" r="1.15" fill="#8ccf3c" stroke="none" stroke-width="0.3" />
<circle cx="309.10" cy="33.50" r="1.15" fill="#8ccf3c" stroke="none" stroke-width="0.3" />
<circle cx="315.70" cy="33.50" r="1.15" fill="#8ccf3c" stroke="none" stroke-width="0.3" />
<circle cx="310.80" cy="28.00" r="1.1" fill="#a6d84a" stroke="none" stroke-width="0.3" />
<circle cx="314.20" cy="27.20" r="1.0" fill="#9ad040" stroke="none" stroke-width="0.3" />
<circle cx="312.40" cy="25.30" r="1.5" fill="#b89ed0" stroke="none" stroke-width="0.3" />
<circle cx="313.60" cy="30.60" r="1.5" fill="#b89ed0" stroke="none" stroke-width="0.3" />
<circle cx="310.20" cy="31.20" r="0.9" fill="#c8b8d8" stroke="none" stroke-width="0.3" />
<line x1="315.7000000000002" y1="22.5" x2="322.30000000000024" y2="33.5" stroke="#b8b8b8" stroke-width="0.3" />
<line x1="322.30000000000024" y1="22.5" x2="315.7000000000002" y2="33.5" stroke="#b8b8b8" stroke-width="0.3" />
<circle cx="315.70" cy="22.50" r="1.15" fill="#8ccf3c" stroke="none" stroke-width="0.3" />
<circle cx="322.30" cy="22.50" r="1.15" fill="#8ccf3c" stroke="none" stroke-width="0.3" />
<circle cx="315.70" cy="33.50" r="1.15" fill="#8ccf3c" stroke="none" stroke-width="0.3" />
<circle cx="322.30" cy="33.50" r="1.15" fill="#8ccf3c" stroke="none" stroke-width="0.3" />
<circle cx="317.40" cy="28.00" r="1.1" fill="#a6d84a" stroke="none" stroke-width="0.3" />
<circle cx="320.80" cy="27.20" r="1.0" fill="#9ad040" stroke="none" stroke-width="0.3" />
<circle cx="319.00" cy="25.30" r="1.5" fill="#b89ed0" stroke="none" stroke-width="0.3" />
<circle cx="320.20" cy="30.60" r="1.5" fill="#b89ed0" stroke="none" stroke-width="0.3" />
<circle cx="316.80" cy="31.20" r="0.9" fill="#c8b8d8" stroke="none" stroke-width="0.3" />
<line x1="322.30000000000024" y1="22.5" x2="328.90000000000026" y2="33.5" stroke="#b8b8b8" stroke-width="0.3" />
<line x1="328.90000000000026" y1="22.5" x2="322.30000000000024" y2="33.5" stroke="#b8b8b8" stroke-width="0.3" />
<circle cx="322.30" cy="22.50" r="1.15" fill="#8ccf3c" stroke="none" stroke-width="0.3" />
<circle cx="328.90" cy="22.50" r="1.15" fill="#8ccf3c" stroke="none" stroke-width="0.3" />
<circle cx="322.30" cy="33.50" r="1.15" fill="#8ccf3c" stroke="none" stroke-width="0.3" />
<circle cx="328.90" cy="33.50" r="1.15" fill="#8ccf3c" stroke="none" stroke-width="0.3" />
<circle cx="324.00" cy="28.00" r="1.1" fill="#a6d84a" stroke="none" stroke-width="0.3" />
<circle cx="327.40" cy="27.20" r="1.0" fill="#9ad040" stroke="none" stroke-width="0.3" />
<circle cx="325.60" cy="25.30" r="1.5" fill="#b89ed0" stroke="none" stroke-width="0.3" />
<circle cx="326.80" cy="30.60" r="1.5" fill="#b89ed0" stroke="none" stroke-width="0.3" />
<circle cx="323.40" cy="31.20" r="0.9" fill="#c8b8d8" stroke="none" stroke-width="0.3" />
<line x1="328.90000000000026" y1="22.5" x2="335.5000000000003" y2="33.5" stroke="#b8b8b8" stroke-width="0.3" />
<line x1="335.5000000000003" y1="22.5" x2="328.90000000000026" y2="33.5" stroke="#b8b8b8" stroke-width="0.3" />
<circle cx="328.90" cy="22.50" r="1.15" fill="#8ccf3c" stroke="none" stroke-width="0.3" />
<circle cx="335.50" cy="22.50" r="1.15" fill="#8ccf3c" stroke="none" stroke-width="0.3" />
<circle cx="328.90" cy="33.50" r="1.15" fill="#8ccf3c" stroke="none" stroke-width="0.3" />
<circle cx="335.50" cy="33.50" r="1.15" fill="#8ccf3c" stroke="none" stroke-width="0.3" />
<circle cx="330.60" cy="28.00" r="1.1" fill="#a6d84a" stroke="none" stroke-width="0.3" />
<circle cx="334.00" cy="27.20" r="1.0" fill="#9ad040" stroke="none" stroke-width="0.3" />
<circle cx="332.20" cy="25.30" r="1.5" fill="#b89ed0" stroke="none" stroke-width="0.3" />
<circle cx="333.40" cy="30.60" r="1.5" fill="#b89ed0" stroke="none" stroke-width="0.3" />
<circle cx="330.00" cy="31.20" r="0.9" fill="#c8b8d8" stroke="none" stroke-width="0.3" />
<line x1="335.5000000000003" y1="22.5" x2="342.1000000000003" y2="33.5" stroke="#b8b8b8" stroke-width="0.3" />
<line x1="342.1000000000003" y1="22.5" x2="335.5000000000003" y2="33.5" stroke="#b8b8b8" stroke-width="0.3" />
<circle cx="335.50" cy="22.50" r="1.15" fill="#8ccf3c" stroke="none" stroke-width="0.3" />
<circle cx="342.10" cy="22.50" r="1.15" fill="#8ccf3c" stroke="none" stroke-width="0.3" />
<circle cx="335.50" cy="33.50" r="1.15" fill="#8ccf3c" stroke="none" stroke-width="0.3" />
<circle cx="342.10" cy="33.50" r="1.15" fill="#8ccf3c" stroke="none" stroke-width="0.3" />
<circle cx="337.20" cy="28.00" r="1.1" fill="#a6d84a" stroke="none" stroke-width="0.3" />
<circle cx="340.60" cy="27.20" r="1.0" fill="#9ad040" stroke="none" stroke-width="0.3" />
<circle cx="338.80" cy="25.30" r="1.5" fill="#b89ed0" stroke="none" stroke-width="0.3" />
<circle cx="340.00" cy="30.60" r="1.5" fill="#b89ed0" stroke="none" stroke-width="0.3" />
<circle cx="336.60" cy="31.20" r="0.9" fill="#c8b8d8" stroke="none" stroke-width="0.3" />
<circle cx="298.80" cy="24.00" r="1.2" fill="#b48ec8" stroke="none" stroke-width="0.3" />
<circle cx="298.80" cy="28.00" r="1.2" fill="#b48ec8" stroke="none" stroke-width="0.3" />
<circle cx="298.80" cy="31.50" r="1.2" fill="#b48ec8" stroke="none" stroke-width="0.3" />
<circle cx="298.80" cy="21.50" r="1.7" fill="url(#eball)" stroke="#6a4a00" stroke-width="0.3" />
<line x1="297.865" y1="21.5" x2="299.735" y2="21.5" stroke="#333" stroke-width="0.45" />
<circle cx="268.60" cy="8.30" r="2.5" fill="url(#redball)" stroke="none" stroke-width="0.3" />
<circle cx="273.50" cy="14.40" r="2.5" fill="url(#redball)" stroke="none" stroke-width="0.3" />
<circle cx="264.80" cy="16.70" r="2.5" fill="url(#redball)" stroke="none" stroke-width="0.3" />
<circle cx="266.40" cy="22.70" r="2.5" fill="url(#redball)" stroke="none" stroke-width="0.3" />
<circle cx="272.40" cy="23.50" r="2.5" fill="url(#redball)" stroke="none" stroke-width="0.3" />
<circle cx="277.30" cy="19.40" r="2.5" fill="url(#redball)" stroke="none" stroke-width="0.3" />
<line x1="278.3" y1="13.6" x2="280.90000000000003" y2="13.6" stroke="#2f6fd0" stroke-width="0.8" />
<line x1="279.6" y1="12.299999999999999" x2="279.6" y2="14.9" stroke="#2f6fd0" stroke-width="0.8" />
<circle cx="285.30" cy="13.30" r="1.8" fill="url(#eball)" stroke="#6a4a00" stroke-width="0.3" />
<line x1="284.31" y1="13.3" x2="286.29" y2="13.3" stroke="#333" stroke-width="0.45" />
<circle cx="280.80" cy="23.50" r="1.8" fill="url(#eball)" stroke="#6a4a00" stroke-width="0.3" />
<line x1="279.81" y1="23.5" x2="281.79" y2="23.5" stroke="#333" stroke-width="0.45" />
<line x1="289" y1="13.6" x2="302.7" y2="13.6" stroke="#111" stroke-width="0.9" />
<path d="M305.30,13.60 L302.70,14.90 L302.70,12.30 Z" fill="#111" stroke="none" stroke-width="1" />
<circle cx="310.50" cy="13.80" r="2.6" fill="url(#redball)" stroke="none" stroke-width="0.3" />
<circle cx="308.30" cy="22.40" r="2.4" fill="url(#redball)" stroke="none" stroke-width="0.3" />
<circle cx="327.60" cy="20.50" r="2.4" fill="url(#redball)" stroke="none" stroke-width="0.3" />
<text x="313.2" y="17.0" font-size="3.0" font-weight="normal" font-family="'Liberation Serif', serif" fill="#111" stroke="#111" stroke-width="0.09" text-anchor="start" >2(ads)</text>
<text x="313" y="10" font-size="3" font-weight="normal" font-family="'Liberation Serif', serif" fill="#111" stroke="#111" stroke-width="0.09" text-anchor="start" >-</text>
<text x="311.6" y="25.2" font-size="3.0" font-weight="bold" font-family="'Liberation Serif', serif" fill="#111" stroke="#111" stroke-width="0.09" text-anchor="start" >2(ads)</text>
<text x="330.6" y="23.2" font-size="3.0" font-weight="normal" font-family="'Liberation Serif', serif" fill="#111" stroke="#111" stroke-width="0.09" text-anchor="start" >2(ads)</text>
<text x="331.5" y="16" font-size="3" font-weight="normal" font-family="'Liberation Serif', serif" fill="#111" stroke="#111" stroke-width="0.09" text-anchor="start" >-</text>
<text x="269.5" y="65.9" font-size="6.4" font-weight="bold" font-family="'Liberation Serif', serif" fill="#111" stroke="#111" stroke-width="0.192" text-anchor="start"><tspan font-size="6.40" dy="0.00">Nb</tspan><tspan font-size="3.97" dy="1.60">2</tspan><tspan font-size="6.40" dy="-1.60">CT</tspan><tspan font-size="3.97" dy="1.60">x</tspan><tspan font-size="6.40" dy="-1.60">/MoSe</tspan><tspan font-size="3.97" dy="1.60">2</tspan><tspan font-size="6.40" dy="-1.60"> in air</tspan></text>
<polygon points="398.5,34.8 455,31.8 497,34.8 497,49.2 455,55.4 398.5,49.2" fill="#b4e0cf"/>
<circle cx="389.70" cy="38.90" r="1.4" fill="#2f9c78" stroke="none" stroke-width="0.3" />
<circle cx="389.70" cy="41.20" r="1.4" fill="#3aa884" stroke="none" stroke-width="0.3" />
<circle cx="389.70" cy="45.80" r="1.4" fill="#45b088" stroke="none" stroke-width="0.3" />
<circle cx="389.70" cy="48.10" r="1.4" fill="#2a9470" stroke="none" stroke-width="0.3" />
<circle cx="391.90" cy="37.70" r="1.4" fill="#2a9470" stroke="none" stroke-width="0.3" />
<circle cx="391.90" cy="40.00" r="1.4" fill="#2a9470" stroke="none" stroke-width="0.3" />
<circle cx="391.90" cy="44.60" r="1.4" fill="#2f9c78" stroke="none" stroke-width="0.3" />
<circle cx="391.90" cy="46.90" r="1.4" fill="#2a9470" stroke="none" stroke-width="0.3" />
<circle cx="396.30" cy="36.30" r="1.4" fill="#3aa884" stroke="none" stroke-width="0.3" />
<circle cx="396.30" cy="38.60" r="1.4" fill="#2a9470" stroke="none" stroke-width="0.3" />
<circle cx="396.30" cy="43.20" r="1.4" fill="#2a9470" stroke="none" stroke-width="0.3" />
<circle cx="396.30" cy="45.50" r="1.4" fill="#45b088" stroke="none" stroke-width="0.3" />
<circle cx="398.50" cy="37.40" r="1.4" fill="#45b088" stroke="none" stroke-width="0.3" />
<circle cx="398.50" cy="42.00" r="1.4" fill="#2a9470" stroke="none" stroke-width="0.3" />
<circle cx="398.50" cy="44.30" r="1.4" fill="#3aa884" stroke="none" stroke-width="0.3" />
<circle cx="398.50" cy="48.90" r="1.4" fill="#2a9470" stroke="none" stroke-width="0.3" />
<circle cx="402.90" cy="36.00" r="1.4" fill="#45b088" stroke="none" stroke-width="0.3" />
<circle cx="402.90" cy="38.30" r="1.4" fill="#2a9470" stroke="none" stroke-width="0.3" />
<circle cx="402.90" cy="40.60" r="1.4" fill="#2a9470" stroke="none" stroke-width="0.3" />
<circle cx="402.90" cy="42.90" r="1.4" fill="#3aa884" stroke="none" stroke-width="0.3" />
<circle cx="402.90" cy="45.20" r="1.4" fill="#2a9470" stroke="none" stroke-width="0.3" />
<circle cx="402.90" cy="47.50" r="1.4" fill="#45b088" stroke="none" stroke-width="0.3" />
<circle cx="402.90" cy="49.80" r="1.4" fill="#2a9470" stroke="none" stroke-width="0.3" />
<circle cx="405.10" cy="37.10" r="1.4" fill="#3aa884" stroke="none" stroke-width="0.3" />
<circle cx="405.10" cy="39.40" r="1.4" fill="#2a9470" stroke="none" stroke-width="0.3" />
<circle cx="405.10" cy="41.70" r="1.4" fill="#3aa884" stroke="none" stroke-width="0.3" />
<circle cx="405.10" cy="44.00" r="1.4" fill="#2f9c78" stroke="none" stroke-width="0.3" />
<circle cx="405.10" cy="46.30" r="1.4" fill="#45b088" stroke="none" stroke-width="0.3" />
<circle cx="405.10" cy="48.60" r="1.4" fill="#3aa884" stroke="none" stroke-width="0.3" />
<circle cx="409.50" cy="35.60" r="1.4" fill="#2a9470" stroke="none" stroke-width="0.3" />
<circle cx="409.50" cy="37.90" r="1.4" fill="#2f9c78" stroke="none" stroke-width="0.3" />
<circle cx="409.50" cy="40.20" r="1.4" fill="#3aa884" stroke="none" stroke-width="0.3" />
<circle cx="409.50" cy="42.50" r="1.4" fill="#2a9470" stroke="none" stroke-width="0.3" />
<circle cx="409.50" cy="44.80" r="1.4" fill="#3aa884" stroke="none" stroke-width="0.3" />
<circle cx="409.50" cy="47.10" r="1.4" fill="#2f9c78" stroke="none" stroke-width="0.3" />
<circle cx="409.50" cy="49.40" r="1.4" fill="#2a9470" stroke="none" stroke-width="0.3" />
<circle cx="411.70" cy="36.70" r="1.4" fill="#2a9470" stroke="none" stroke-width="0.3" />
<circle cx="411.70" cy="39.00" r="1.4" fill="#2a9470" stroke="none" stroke-width="0.3" />
<circle cx="411.70" cy="41.30" r="1.4" fill="#3aa884" stroke="none" stroke-width="0.3" />
<circle cx="411.70" cy="43.60" r="1.4" fill="#45b088" stroke="none" stroke-width="0.3" />
<circle cx="411.70" cy="45.90" r="1.4" fill="#45b088" stroke="none" stroke-width="0.3" />
<circle cx="411.70" cy="48.20" r="1.4" fill="#2f9c78" stroke="none" stroke-width="0.3" />
<circle cx="411.70" cy="50.50" r="1.4" fill="#45b088" stroke="none" stroke-width="0.3" />
<circle cx="416.10" cy="35.30" r="1.4" fill="#45b088" stroke="none" stroke-width="0.3" />
<circle cx="416.10" cy="37.60" r="1.4" fill="#2f9c78" stroke="none" stroke-width="0.3" />
<circle cx="416.10" cy="39.90" r="1.4" fill="#2f9c78" stroke="none" stroke-width="0.3" />
<circle cx="416.10" cy="42.20" r="1.4" fill="#3aa884" stroke="none" stroke-width="0.3" />
<circle cx="416.10" cy="44.50" r="1.4" fill="#3aa884" stroke="none" stroke-width="0.3" />
<circle cx="416.10" cy="46.80" r="1.4" fill="#3aa884" stroke="none" stroke-width="0.3" />
<circle cx="416.10" cy="49.10" r="1.4" fill="#2a9470" stroke="none" stroke-width="0.3" />
<circle cx="416.10" cy="51.40" r="1.4" fill="#2f9c78" stroke="none" stroke-width="0.3" />
<circle cx="418.30" cy="36.40" r="1.4" fill="#45b088" stroke="none" stroke-width="0.3" />
<circle cx="418.30" cy="38.70" r="1.4" fill="#2f9c78" stroke="none" stroke-width="0.3" />
<circle cx="418.30" cy="41.00" r="1.4" fill="#45b088" stroke="none" stroke-width="0.3" />
<circle cx="418.30" cy="43.30" r="1.4" fill="#2f9c78" stroke="none" stroke-width="0.3" />
<circle cx="418.30" cy="45.60" r="1.4" fill="#2a9470" stroke="none" stroke-width="0.3" />
<circle cx="418.30" cy="47.90" r="1.4" fill="#2a9470" stroke="none" stroke-width="0.3" />
<circle cx="418.30" cy="50.20" r="1.4" fill="#45b088" stroke="none" stroke-width="0.3" />
<circle cx="422.70" cy="35.00" r="1.4" fill="#3aa884" stroke="none" stroke-width="0.3" />
<circle cx="422.70" cy="37.30" r="1.4" fill="#2f9c78" stroke="none" stroke-width="0.3" />
<circle cx="422.70" cy="39.60" r="1.4" fill="#3aa884" stroke="none" stroke-width="0.3" />
<circle cx="422.70" cy="41.90" r="1.4" fill="#45b088" stroke="none" stroke-width="0.3" />
<circle cx="422.70" cy="44.20" r="1.4" fill="#45b088" stroke="none" stroke-width="0.3" />
<circle cx="422.70" cy="46.50" r="1.4" fill="#2a9470" stroke="none" stroke-width="0.3" />
<circle cx="422.70" cy="48.80" r="1.4" fill="#2a9470" stroke="none" stroke-width="0.3" />
<circle cx="422.70" cy="51.10" r="1.4" fill="#2f9c78" stroke="none" stroke-width="0.3" />
<circle cx="424.90" cy="36.10" r="1.4" fill="#2f9c78" stroke="none" stroke-width="0.3" />
<circle cx="424.90" cy="38.40" r="1.4" fill="#2f9c78" stroke="none" stroke-width="0.3" />
<circle cx="424.90" cy="40.70" r="1.4" fill="#45b088" stroke="none" stroke-width="0.3" />
<circle cx="424.90" cy="43.00" r="1.4" fill="#45b088" stroke="none" stroke-width="0.3" />
<circle cx="424.90" cy="45.30" r="1.4" fill="#2a9470" stroke="none" stroke-width="0.3" />
<circle cx="424.90" cy="47.60" r="1.4" fill="#2a9470" stroke="none" stroke-width="0.3" />
<circle cx="424.90" cy="49.90" r="1.4" fill="#2f9c78" stroke="none" stroke-width="0.3" />
<circle cx="424.90" cy="52.20" r="1.4" fill="#45b088" stroke="none" stroke-width="0.3" />
<circle cx="429.30" cy="34.60" r="1.4" fill="#2a9470" stroke="none" stroke-width="0.3" />
<circle cx="429.30" cy="36.90" r="1.4" fill="#2a9470" stroke="none" stroke-width="0.3" />
<circle cx="429.30" cy="39.20" r="1.4" fill="#2f9c78" stroke="none" stroke-width="0.3" />
<circle cx="429.30" cy="41.50" r="1.4" fill="#45b088" stroke="none" stroke-width="0.3" />
<circle cx="429.30" cy="43.80" r="1.4" fill="#2f9c78" stroke="none" stroke-width="0.3" />
<circle cx="429.30" cy="46.10" r="1.4" fill="#45b088" stroke="none" stroke-width="0.3" />
<circle cx="429.30" cy="48.40" r="1.4" fill="#2f9c78" stroke="none" stroke-width="0.3" />
<circle cx="429.30" cy="50.70" r="1.4" fill="#2a9470" stroke="none" stroke-width="0.3" />
<circle cx="431.50" cy="35.70" r="1.4" fill="#45b088" stroke="none" stroke-width="0.3" />
<circle cx="431.50" cy="38.00" r="1.4" fill="#2f9c78" stroke="none" stroke-width="0.3" />
<circle cx="431.50" cy="40.30" r="1.4" fill="#3aa884" stroke="none" stroke-width="0.3" />
<circle cx="431.50" cy="42.60" r="1.4" fill="#2a9470" stroke="none" stroke-width="0.3" />
<circle cx="431.50" cy="44.90" r="1.4" fill="#45b088" stroke="none" stroke-width="0.3" />
<circle cx="431.50" cy="47.20" r="1.4" fill="#2a9470" stroke="none" stroke-width="0.3" />
<circle cx="431.50" cy="49.50" r="1.4" fill="#3aa884" stroke="none" stroke-width="0.3" />
<circle cx="431.50" cy="51.80" r="1.4" fill="#2f9c78" stroke="none" stroke-width="0.3" />
<circle cx="435.90" cy="34.30" r="1.4" fill="#3aa884" stroke="none" stroke-width="0.3" />
<circle cx="435.90" cy="36.60" r="1.4" fill="#3aa884" stroke="none" stroke-width="0.3" />
<circle cx="435.90" cy="38.90" r="1.4" fill="#45b088" stroke="none" stroke-width="0.3" />
<circle cx="435.90" cy="41.20" r="1.4" fill="#45b088" stroke="none" stroke-width="0.3" />
<circle cx="435.90" cy="43.50" r="1.4" fill="#45b088" stroke="none" stroke-width="0.3" />
<circle cx="435.90" cy="45.80" r="1.4" fill="#2a9470" stroke="none" stroke-width="0.3" />
<circle cx="435.90" cy="48.10" r="1.4" fill="#3aa884" stroke="none" stroke-width="0.3" />
<circle cx="435.90" cy="50.40" r="1.4" fill="#45b088" stroke="none" stroke-width="0.3" />
<circle cx="435.90" cy="52.70" r="1.4" fill="#45b088" stroke="none" stroke-width="0.3" />
<circle cx="438.10" cy="35.40" r="1.4" fill="#2f9c78" stroke="none" stroke-width="0.3" />
<circle cx="438.10" cy="37.70" r="1.4" fill="#3aa884" stroke="none" stroke-width="0.3" />
<circle cx="438.10" cy="40.00" r="1.4" fill="#45b088" stroke="none" stroke-width="0.3" />
<circle cx="438.10" cy="42.30" r="1.4" fill="#2f9c78" stroke="none" stroke-width="0.3" />
<circle cx="438.10" cy="44.60" r="1.4" fill="#45b088" stroke="none" stroke-width="0.3" />
<circle cx="438.10" cy="46.90" r="1.4" fill="#2f9c78" stroke="none" stroke-width="0.3" />
<circle cx="438.10" cy="49.20" r="1.4" fill="#45b088" stroke="none" stroke-width="0.3" />
<circle cx="438.10" cy="51.50" r="1.4" fill="#3aa884" stroke="none" stroke-width="0.3" />
<circle cx="442.50" cy="34.00" r="1.4" fill="#3aa884" stroke="none" stroke-width="0.3" />
<circle cx="442.50" cy="36.30" r="1.4" fill="#2a9470" stroke="none" stroke-width="0.3" />
<circle cx="442.50" cy="38.60" r="1.4" fill="#3aa884" stroke="none" stroke-width="0.3" />
<circle cx="442.50" cy="40.90" r="1.4" fill="#3aa884" stroke="none" stroke-width="0.3" />
<circle cx="442.50" cy="43.20" r="1.4" fill="#3aa884" stroke="none" stroke-width="0.3" />
<circle cx="442.50" cy="45.50" r="1.4" fill="#3aa884" stroke="none" stroke-width="0.3" />
<circle cx="442.50" cy="47.80" r="1.4" fill="#2a9470" stroke="none" stroke-width="0.3" />
<circle cx="442.50" cy="50.10" r="1.4" fill="#45b088" stroke="none" stroke-width="0.3" />
<circle cx="442.50" cy="52.40" r="1.4" fill="#3aa884" stroke="none" stroke-width="0.3" />
<circle cx="444.70" cy="35.10" r="1.4" fill="#2f9c78" stroke="none" stroke-width="0.3" />
<circle cx="444.70" cy="37.40" r="1.4" fill="#2f9c78" stroke="none" stroke-width="0.3" />
<circle cx="444.70" cy="39.70" r="1.4" fill="#2a9470" stroke="none" stroke-width="0.3" />
<circle cx="444.70" cy="42.00" r="1.4" fill="#3aa884" stroke="none" stroke-width="0.3" />
<circle cx="444.70" cy="44.30" r="1.4" fill="#45b088" stroke="none" stroke-width="0.3" />
<circle cx="444.70" cy="46.60" r="1.4" fill="#2f9c78" stroke="none" stroke-width="0.3" />
<circle cx="444.70" cy="48.90" r="1.4" fill="#2f9c78" stroke="none" stroke-width="0.3" />
<circle cx="444.70" cy="51.20" r="1.4" fill="#3aa884" stroke="none" stroke-width="0.3" />
<circle cx="444.70" cy="53.50" r="1.4" fill="#2a9470" stroke="none" stroke-width="0.3" />
<circle cx="449.10" cy="33.60" r="1.4" fill="#45b088" stroke="none" stroke-width="0.3" />
<circle cx="449.10" cy="35.90" r="1.4" fill="#45b088" stroke="none" stroke-width="0.3" />
<circle cx="449.10" cy="38.20" r="1.4" fill="#45b088" stroke="none" stroke-width="0.3" />
<circle cx="449.10" cy="40.50" r="1.4" fill="#45b088" stroke="none" stroke-width="0.3" />
<circle cx="449.10" cy="42.80" r="1.4" fill="#45b088" stroke="none" stroke-width="0.3" />
<circle cx="449.10" cy="45.10" r="1.4" fill="#2a9470" stroke="none" stroke-width="0.3" />
<circle cx="449.10" cy="47.40" r="1.4" fill="#45b088" stroke="none" stroke-width="0.3" />
<circle cx="449.10" cy="49.70" r="1.4" fill="#45b088" stroke="none" stroke-width="0.3" />
<circle cx="449.10" cy="52.00" r="1.4" fill="#2a9470" stroke="none" stroke-width="0.3" />
<circle cx="449.10" cy="54.30" r="1.4" fill="#3aa884" stroke="none" stroke-width="0.3" />
<circle cx="451.30" cy="34.70" r="1.4" fill="#2a9470" stroke="none" stroke-width="0.3" />
<circle cx="451.30" cy="37.00" r="1.4" fill="#3aa884" stroke="none" stroke-width="0.3" />
<circle cx="451.30" cy="39.30" r="1.4" fill="#45b088" stroke="none" stroke-width="0.3" />
<circle cx="451.30" cy="41.60" r="1.4" fill="#3aa884" stroke="none" stroke-width="0.3" />
<circle cx="451.30" cy="43.90" r="1.4" fill="#2a9470" stroke="none" stroke-width="0.3" />
<circle cx="451.30" cy="46.20" r="1.4" fill="#2f9c78" stroke="none" stroke-width="0.3" />
<circle cx="451.30" cy="48.50" r="1.4" fill="#2a9470" stroke="none" stroke-width="0.3" />
<circle cx="451.30" cy="50.80" r="1.4" fill="#2a9470" stroke="none" stroke-width="0.3" />
<circle cx="451.30" cy="53.10" r="1.4" fill="#2a9470" stroke="none" stroke-width="0.3" />
<circle cx="455.70" cy="33.30" r="1.4" fill="#3aa884" stroke="none" stroke-width="0.3" />
<circle cx="455.70" cy="35.60" r="1.4" fill="#2a9470" stroke="none" stroke-width="0.3" />
<circle cx="455.70" cy="37.90" r="1.4" fill="#2f9c78" stroke="none" stroke-width="0.3" />
<circle cx="455.70" cy="40.20" r="1.4" fill="#2a9470" stroke="none" stroke-width="0.3" />
<circle cx="455.70" cy="42.50" r="1.4" fill="#2a9470" stroke="none" stroke-width="0.3" />
<circle cx="455.70" cy="44.80" r="1.4" fill="#3aa884" stroke="none" stroke-width="0.3" />
<circle cx="455.70" cy="47.10" r="1.4" fill="#45b088" stroke="none" stroke-width="0.3" />
<circle cx="455.70" cy="49.40" r="1.4" fill="#3aa884" stroke="none" stroke-width="0.3" />
<circle cx="455.70" cy="51.70" r="1.4" fill="#2f9c78" stroke="none" stroke-width="0.3" />
<circle cx="455.70" cy="54.00" r="1.4" fill="#2f9c78" stroke="none" stroke-width="0.3" />
<circle cx="457.90" cy="34.40" r="1.4" fill="#2f9c78" stroke="none" stroke-width="0.3" />
<circle cx="457.90" cy="36.70" r="1.4" fill="#45b088" stroke="none" stroke-width="0.3" />
<circle cx="457.90" cy="39.00" r="1.4" fill="#2a9470" stroke="none" stroke-width="0.3" />
<circle cx="457.90" cy="41.30" r="1.4" fill="#2a9470" stroke="none" stroke-width="0.3" />
<circle cx="457.90" cy="43.60" r="1.4" fill="#45b088" stroke="none" stroke-width="0.3" />
<circle cx="457.90" cy="45.90" r="1.4" fill="#45b088" stroke="none" stroke-width="0.3" />
<circle cx="457.90" cy="48.20" r="1.4" fill="#45b088" stroke="none" stroke-width="0.3" />
<circle cx="457.90" cy="50.50" r="1.4" fill="#45b088" stroke="none" stroke-width="0.3" />
<circle cx="457.90" cy="52.80" r="1.4" fill="#2f9c78" stroke="none" stroke-width="0.3" />
<circle cx="457.90" cy="55.10" r="1.4" fill="#2a9470" stroke="none" stroke-width="0.3" />
<circle cx="462.30" cy="33.50" r="1.4" fill="#3aa884" stroke="none" stroke-width="0.3" />
<circle cx="462.30" cy="35.80" r="1.4" fill="#2a9470" stroke="none" stroke-width="0.3" />
<circle cx="462.30" cy="38.10" r="1.4" fill="#2f9c78" stroke="none" stroke-width="0.3" />
<circle cx="462.30" cy="40.40" r="1.4" fill="#2f9c78" stroke="none" stroke-width="0.3" />
<circle cx="462.30" cy="42.70" r="1.4" fill="#45b088" stroke="none" stroke-width="0.3" />
<circle cx="462.30" cy="45.00" r="1.4" fill="#3aa884" stroke="none" stroke-width="0.3" />
<circle cx="462.30" cy="47.30" r="1.4" fill="#2a9470" stroke="none" stroke-width="0.3" />
<circle cx="462.30" cy="49.60" r="1.4" fill="#3aa884" stroke="none" stroke-width="0.3" />
<circle cx="462.30" cy="51.90" r="1.4" fill="#2f9c78" stroke="none" stroke-width="0.3" />
<circle cx="462.30" cy="54.20" r="1.4" fill="#3aa884" stroke="none" stroke-width="0.3" />
<circle cx="464.50" cy="34.60" r="1.4" fill="#2a9470" stroke="none" stroke-width="0.3" />
<circle cx="464.50" cy="36.90" r="1.4" fill="#2f9c78" stroke="none" stroke-width="0.3" />
<circle cx="464.50" cy="39.20" r="1.4" fill="#2a9470" stroke="none" stroke-width="0.3" />
<circle cx="464.50" cy="41.50" r="1.4" fill="#2f9c78" stroke="none" stroke-width="0.3" />
<circle cx="464.50" cy="43.80" r="1.4" fill="#2f9c78" stroke="none" stroke-width="0.3" />
<circle cx="464.50" cy="46.10" r="1.4" fill="#3aa884" stroke="none" stroke-width="0.3" />
<circle cx="464.50" cy="48.40" r="1.4" fill="#2f9c78" stroke="none" stroke-width="0.3" />
<circle cx="464.50" cy="50.70" r="1.4" fill="#3aa884" stroke="none" stroke-width="0.3" />
<circle cx="464.50" cy="53.00" r="1.4" fill="#2f9c78" stroke="none" stroke-width="0.3" />
<circle cx="468.90" cy="34.00" r="1.4" fill="#3aa884" stroke="none" stroke-width="0.3" />
<circle cx="468.90" cy="36.30" r="1.4" fill="#3aa884" stroke="none" stroke-width="0.3" />
<circle cx="468.90" cy="38.60" r="1.4" fill="#3aa884" stroke="none" stroke-width="0.3" />
<circle cx="468.90" cy="40.90" r="1.4" fill="#45b088" stroke="none" stroke-width="0.3" />
<circle cx="468.90" cy="43.20" r="1.4" fill="#3aa884" stroke="none" stroke-width="0.3" />
<circle cx="468.90" cy="45.50" r="1.4" fill="#3aa884" stroke="none" stroke-width="0.3" />
<circle cx="468.90" cy="47.80" r="1.4" fill="#45b088" stroke="none" stroke-width="0.3" />
<circle cx="468.90" cy="50.10" r="1.4" fill="#2f9c78" stroke="none" stroke-width="0.3" />
<circle cx="468.90" cy="52.40" r="1.4" fill="#2a9470" stroke="none" stroke-width="0.3" />
<circle cx="471.10" cy="35.10" r="1.4" fill="#2a9470" stroke="none" stroke-width="0.3" />
<circle cx="471.10" cy="37.40" r="1.4" fill="#2f9c78" stroke="none" stroke-width="0.3" />
<circle cx="471.10" cy="39.70" r="1.4" fill="#45b088" stroke="none" stroke-width="0.3" />
<circle cx="471.10" cy="42.00" r="1.4" fill="#2f9c78" stroke="none" stroke-width="0.3" />
<circle cx="471.10" cy="44.30" r="1.4" fill="#3aa884" stroke="none" stroke-width="0.3" />
<circle cx="471.10" cy="46.60" r="1.4" fill="#2f9c78" stroke="none" stroke-width="0.3" />
<circle cx="471.10" cy="48.90" r="1.4" fill="#45b088" stroke="none" stroke-width="0.3" />
<circle cx="471.10" cy="51.20" r="1.4" fill="#2f9c78" stroke="none" stroke-width="0.3" />
<circle cx="471.10" cy="53.50" r="1.4" fill="#2f9c78" stroke="none" stroke-width="0.3" />
<circle cx="475.50" cy="34.40" r="1.4" fill="#2a9470" stroke="none" stroke-width="0.3" />
<circle cx="475.50" cy="36.70" r="1.4" fill="#3aa884" stroke="none" stroke-width="0.3" />
<circle cx="475.50" cy="39.00" r="1.4" fill="#2a9470" stroke="none" stroke-width="0.3" />
<circle cx="475.50" cy="41.30" r="1.4" fill="#3aa884" stroke="none" stroke-width="0.3" />
<circle cx="475.50" cy="43.60" r="1.4" fill="#45b088" stroke="none" stroke-width="0.3" />
<circle cx="475.50" cy="45.90" r="1.4" fill="#3aa884" stroke="none" stroke-width="0.3" />
<circle cx="475.50" cy="48.20" r="1.4" fill="#2f9c78" stroke="none" stroke-width="0.3" />
<circle cx="475.50" cy="50.50" r="1.4" fill="#3aa884" stroke="none" stroke-width="0.3" />
<circle cx="475.50" cy="52.80" r="1.4" fill="#45b088" stroke="none" stroke-width="0.3" />
<circle cx="477.70" cy="35.50" r="1.4" fill="#2a9470" stroke="none" stroke-width="0.3" />
<circle cx="477.70" cy="37.80" r="1.4" fill="#45b088" stroke="none" stroke-width="0.3" />
<circle cx="477.70" cy="40.10" r="1.4" fill="#2f9c78" stroke="none" stroke-width="0.3" />
<circle cx="477.70" cy="42.40" r="1.4" fill="#2a9470" stroke="none" stroke-width="0.3" />
<circle cx="477.70" cy="44.70" r="1.4" fill="#2a9470" stroke="none" stroke-width="0.3" />
<circle cx="477.70" cy="47.00" r="1.4" fill="#45b088" stroke="none" stroke-width="0.3" />
<circle cx="477.70" cy="49.30" r="1.4" fill="#3aa884" stroke="none" stroke-width="0.3" />
<circle cx="477.70" cy="51.60" r="1.4" fill="#45b088" stroke="none" stroke-width="0.3" />
<circle cx="482.10" cy="34.80" r="1.4" fill="#3aa884" stroke="none" stroke-width="0.3" />
<circle cx="482.10" cy="37.10" r="1.4" fill="#45b088" stroke="none" stroke-width="0.3" />
<circle cx="482.10" cy="39.40" r="1.4" fill="#2f9c78" stroke="none" stroke-width="0.3" />
<circle cx="482.10" cy="41.70" r="1.4" fill="#2a9470" stroke="none" stroke-width="0.3" />
<circle cx="482.10" cy="44.00" r="1.4" fill="#45b088" stroke="none" stroke-width="0.3" />
<circle cx="482.10" cy="46.30" r="1.4" fill="#45b088" stroke="none" stroke-width="0.3" />
<circle cx="482.10" cy="48.60" r="1.4" fill="#45b088" stroke="none" stroke-width="0.3" />
<circle cx="482.10" cy="50.90" r="1.4" fill="#2a9470" stroke="none" stroke-width="0.3" />
<circle cx="484.30" cy="35.90" r="1.4" fill="#3aa884" stroke="none" stroke-width="0.3" />
<circle cx="484.30" cy="38.20" r="1.4" fill="#3aa884" stroke="none" stroke-width="0.3" />
<circle cx="484.30" cy="40.50" r="1.4" fill="#3aa884" stroke="none" stroke-width="0.3" />
<circle cx="484.30" cy="42.80" r="1.4" fill="#2a9470" stroke="none" stroke-width="0.3" />
<circle cx="484.30" cy="45.10" r="1.4" fill="#3aa884" stroke="none" stroke-width="0.3" />
<circle cx="484.30" cy="47.40" r="1.4" fill="#45b088" stroke="none" stroke-width="0.3" />
<circle cx="484.30" cy="49.70" r="1.4" fill="#3aa884" stroke="none" stroke-width="0.3" />
<circle cx="484.30" cy="52.00" r="1.4" fill="#45b088" stroke="none" stroke-width="0.3" />
<circle cx="488.70" cy="35.20" r="1.4" fill="#2f9c78" stroke="none" stroke-width="0.3" />
<circle cx="488.70" cy="37.50" r="1.4" fill="#3aa884" stroke="none" stroke-width="0.3" />
<circle cx="488.70" cy="39.80" r="1.4" fill="#3aa884" stroke="none" stroke-width="0.3" />
<circle cx="488.70" cy="42.10" r="1.4" fill="#2a9470" stroke="none" stroke-width="0.3" />
<circle cx="488.70" cy="44.40" r="1.4" fill="#2a9470" stroke="none" stroke-width="0.3" />
<circle cx="488.70" cy="46.70" r="1.4" fill="#2a9470" stroke="none" stroke-width="0.3" />
<circle cx="488.70" cy="49.00" r="1.4" fill="#3aa884" stroke="none" stroke-width="0.3" />
<circle cx="488.70" cy="51.30" r="1.4" fill="#45b088" stroke="none" stroke-width="0.3" />
<circle cx="490.90" cy="36.30" r="1.4" fill="#3aa884" stroke="none" stroke-width="0.3" />
<circle cx="490.90" cy="38.60" r="1.4" fill="#3aa884" stroke="none" stroke-width="0.3" />
<circle cx="490.90" cy="40.90" r="1.4" fill="#2a9470" stroke="none" stroke-width="0.3" />
<circle cx="490.90" cy="43.20" r="1.4" fill="#2f9c78" stroke="none" stroke-width="0.3" />
<circle cx="490.90" cy="45.50" r="1.4" fill="#3aa884" stroke="none" stroke-width="0.3" />
<circle cx="490.90" cy="47.80" r="1.4" fill="#2f9c78" stroke="none" stroke-width="0.3" />
<circle cx="490.90" cy="50.10" r="1.4" fill="#3aa884" stroke="none" stroke-width="0.3" />
<circle cx="495.30" cy="35.70" r="1.4" fill="#2f9c78" stroke="none" stroke-width="0.3" />
<circle cx="495.30" cy="38.00" r="1.4" fill="#2f9c78" stroke="none" stroke-width="0.3" />
<circle cx="495.30" cy="40.30" r="1.4" fill="#45b088" stroke="none" stroke-width="0.3" />
<circle cx="495.30" cy="42.60" r="1.4" fill="#3aa884" stroke="none" stroke-width="0.3" />
<circle cx="495.30" cy="44.90" r="1.4" fill="#2a9470" stroke="none" stroke-width="0.3" />
<circle cx="495.30" cy="47.20" r="1.4" fill="#2f9c78" stroke="none" stroke-width="0.3" />
<circle cx="495.30" cy="49.50" r="1.4" fill="#45b088" stroke="none" stroke-width="0.3" />
<circle cx="497.50" cy="36.80" r="1.4" fill="#45b088" stroke="none" stroke-width="0.3" />
<circle cx="497.50" cy="39.10" r="1.4" fill="#3aa884" stroke="none" stroke-width="0.3" />
<circle cx="497.50" cy="41.40" r="1.4" fill="#3aa884" stroke="none" stroke-width="0.3" />
<circle cx="497.50" cy="43.70" r="1.4" fill="#2a9470" stroke="none" stroke-width="0.3" />
<circle cx="497.50" cy="46.00" r="1.4" fill="#45b088" stroke="none" stroke-width="0.3" />
<circle cx="497.50" cy="48.30" r="1.4" fill="#3aa884" stroke="none" stroke-width="0.3" />
<circle cx="497.50" cy="50.60" r="1.4" fill="#2a9470" stroke="none" stroke-width="0.3" />
<circle cx="501.90" cy="36.10" r="1.4" fill="#3aa884" stroke="none" stroke-width="0.3" />
<circle cx="501.90" cy="40.70" r="1.4" fill="#3aa884" stroke="none" stroke-width="0.3" />
<circle cx="501.90" cy="43.00" r="1.4" fill="#3aa884" stroke="none" stroke-width="0.3" />
<circle cx="501.90" cy="47.60" r="1.4" fill="#45b088" stroke="none" stroke-width="0.3" />
<circle cx="501.90" cy="49.90" r="1.4" fill="#2a9470" stroke="none" stroke-width="0.3" />
<circle cx="504.10" cy="39.50" r="1.4" fill="#2a9470" stroke="none" stroke-width="0.3" />
<circle cx="504.10" cy="41.80" r="1.4" fill="#2f9c78" stroke="none" stroke-width="0.3" />
<circle cx="504.10" cy="46.40" r="1.4" fill="#45b088" stroke="none" stroke-width="0.3" />
<circle cx="504.10" cy="48.70" r="1.4" fill="#2a9470" stroke="none" stroke-width="0.3" />
<circle cx="508.50" cy="38.80" r="1.4" fill="#2a9470" stroke="none" stroke-width="0.3" />
<circle cx="508.50" cy="41.10" r="1.4" fill="#3aa884" stroke="none" stroke-width="0.3" />
<circle cx="508.50" cy="45.70" r="1.4" fill="#3aa884" stroke="none" stroke-width="0.3" />
<circle cx="508.50" cy="48.00" r="1.4" fill="#2f9c78" stroke="none" stroke-width="0.3" />
<circle cx="510.70" cy="37.60" r="1.4" fill="#2a9470" stroke="none" stroke-width="0.3" />
<circle cx="510.70" cy="39.90" r="1.4" fill="#2a9470" stroke="none" stroke-width="0.3" />
<circle cx="510.70" cy="44.50" r="1.4" fill="#45b088" stroke="none" stroke-width="0.3" />
<circle cx="510.70" cy="46.80" r="1.4" fill="#2a9470" stroke="none" stroke-width="0.3" />
<rect x="386.6" y="34.9" width="1.8" height="5.3" rx="0.9" fill="#e3232b"/>
<rect x="386.6" y="44.8" width="1.8" height="5.3" rx="0.9" fill="#e3232b"/>
<rect x="393.2" y="34.6" width="1.8" height="5.7" rx="0.9" fill="#e3232b"/>
<rect x="393.2" y="45.0" width="1.8" height="5.7" rx="0.9" fill="#e3232b"/>
<rect x="399.8" y="34.8" width="1.8" height="7.6" rx="0.9" fill="#e3232b"/>
<rect x="399.8" y="43.2" width="1.8" height="7.6" rx="0.9" fill="#e3232b"/>
<rect x="406.4" y="27.5" width="1.8" height="15.0" rx="0.9" fill="#e3232b"/>
<rect x="406.4" y="43.3" width="1.8" height="8.1" rx="0.9" fill="#e3232b"/>
<rect x="413.0" y="27.5" width="1.8" height="15.1" rx="0.9" fill="#e3232b"/>
<rect x="413.0" y="43.4" width="1.8" height="8.5" rx="0.9" fill="#e3232b"/>
<rect x="419.6" y="27.5" width="1.8" height="15.3" rx="0.9" fill="#e3232b"/>
<rect x="419.6" y="43.6" width="1.8" height="9.0" rx="0.9" fill="#e3232b"/>
<rect x="426.2" y="27.5" width="1.8" height="15.4" rx="0.9" fill="#e3232b"/>
<rect x="426.2" y="43.7" width="1.8" height="9.5" rx="0.9" fill="#e3232b"/>
<rect x="432.8" y="27.5" width="1.8" height="15.5" rx="0.9" fill="#e3232b"/>
<rect x="432.8" y="43.8" width="1.8" height="9.9" rx="0.9" fill="#e3232b"/>
<rect x="439.4" y="27.5" width="1.8" height="15.7" rx="0.9" fill="#e3232b"/>
<rect x="439.4" y="44.0" width="1.8" height="10.4" rx="0.9" fill="#e3232b"/>
<rect x="446.0" y="27.5" width="1.8" height="15.8" rx="0.9" fill="#e3232b"/>
<rect x="446.0" y="44.1" width="1.8" height="10.9" rx="0.9" fill="#e3232b"/>
<rect x="452.6" y="27.5" width="1.8" height="15.9" rx="0.9" fill="#e3232b"/>
<rect x="452.6" y="44.2" width="1.8" height="11.3" rx="0.9" fill="#e3232b"/>
<rect x="459.2" y="27.5" width="1.8" height="15.8" rx="0.9" fill="#e3232b"/>
<rect x="459.2" y="44.1" width="1.8" height="11.0" rx="0.9" fill="#e3232b"/>
<rect x="465.8" y="27.5" width="1.8" height="15.7" rx="0.9" fill="#e3232b"/>
<rect x="465.8" y="44.0" width="1.8" height="10.4" rx="0.9" fill="#e3232b"/>
<rect x="472.4" y="27.5" width="1.8" height="15.5" rx="0.9" fill="#e3232b"/>
<rect x="472.4" y="43.8" width="1.8" height="9.8" rx="0.9" fill="#e3232b"/>
<rect x="479.0" y="27.5" width="1.8" height="15.3" rx="0.9" fill="#e3232b"/>
<rect x="479.0" y="43.6" width="1.8" height="9.2" rx="0.9" fill="#e3232b"/>
<rect x="485.6" y="27.5" width="1.8" height="15.2" rx="0.9" fill="#e3232b"/>
<rect x="485.6" y="43.5" width="1.8" height="8.6" rx="0.9" fill="#e3232b"/>
<rect x="492.2" y="34.5" width="1.8" height="8.0" rx="0.9" fill="#e3232b"/>
<rect x="492.2" y="43.3" width="1.8" height="8.0" rx="0.9" fill="#e3232b"/>
<rect x="498.8" y="34.4" width="1.8" height="5.9" rx="0.9" fill="#e3232b"/>
<rect x="498.8" y="45.2" width="1.8" height="5.9" rx="0.9" fill="#e3232b"/>
<rect x="505.4" y="34.8" width="1.8" height="5.4" rx="0.9" fill="#e3232b"/>
<rect x="505.4" y="44.9" width="1.8" height="5.4" rx="0.9" fill="#e3232b"/>
<rect x="405.1" y="21.5" width="80.89999999999998" height="13" fill="#dcd4e6" opacity="0.8"/>
<line x1="404.8" y1="22.5" x2="411.40000000000003" y2="33.5" stroke="#b8b8b8" stroke-width="0.3" />
<line x1="411.40000000000003" y1="22.5" x2="404.8" y2="33.5" stroke="#b8b8b8" stroke-width="0.3" />
<circle cx="404.80" cy="22.50" r="1.15" fill="#8ccf3c" stroke="none" stroke-width="0.3" />
<circle cx="411.40" cy="22.50" r="1.15" fill="#8ccf3c" stroke="none" stroke-width="0.3" />
<circle cx="404.80" cy="33.50" r="1.15" fill="#8ccf3c" stroke="none" stroke-width="0.3" />
<circle cx="411.40" cy="33.50" r="1.15" fill="#8ccf3c" stroke="none" stroke-width="0.3" />
<circle cx="406.50" cy="28.00" r="1.1" fill="#a6d84a" stroke="none" stroke-width="0.3" />
<circle cx="409.90" cy="27.20" r="1.0" fill="#9ad040" stroke="none" stroke-width="0.3" />
<circle cx="408.10" cy="25.30" r="1.5" fill="#b89ed0" stroke="none" stroke-width="0.3" />
<circle cx="409.30" cy="30.60" r="1.5" fill="#b89ed0" stroke="none" stroke-width="0.3" />
<circle cx="405.90" cy="31.20" r="0.9" fill="#c8b8d8" stroke="none" stroke-width="0.3" />
<circle cx="406.40" cy="19.80" r="0.9" fill="#f4c4cc" stroke="none" stroke-width="0.3" />
<circle cx="410.30" cy="27.50" r="1.0" fill="#f0f0f0" stroke="#d8a8b8" stroke-width="0.25" />
<circle cx="411.40" cy="28.20" r="1.1" fill="#8ccf3c" stroke="none" stroke-width="0.3" />
<circle cx="407.60" cy="21.00" r="1.2" fill="#c8ccec" stroke="none" stroke-width="0.3" />
<line x1="411.40000000000003" y1="22.5" x2="418.00000000000006" y2="33.5" stroke="#b8b8b8" stroke-width="0.3" />
<line x1="418.00000000000006" y1="22.5" x2="411.40000000000003" y2="33.5" stroke="#b8b8b8" stroke-width="0.3" />
<circle cx="411.40" cy="22.50" r="1.15" fill="#8ccf3c" stroke="none" stroke-width="0.3" />
<circle cx="418.00" cy="22.50" r="1.15" fill="#8ccf3c" stroke="none" stroke-width="0.3" />
<circle cx="411.40" cy="33.50" r="1.15" fill="#8ccf3c" stroke="none" stroke-width="0.3" />
<circle cx="418.00" cy="33.50" r="1.15" fill="#8ccf3c" stroke="none" stroke-width="0.3" />
<circle cx="413.10" cy="28.00" r="1.1" fill="#a6d84a" stroke="none" stroke-width="0.3" />
<circle cx="416.50" cy="27.20" r="1.0" fill="#9ad040" stroke="none" stroke-width="0.3" />
<circle cx="414.70" cy="25.30" r="1.5" fill="#b89ed0" stroke="none" stroke-width="0.3" />
<circle cx="415.90" cy="30.60" r="1.5" fill="#b89ed0" stroke="none" stroke-width="0.3" />
<circle cx="412.50" cy="31.20" r="0.9" fill="#c8b8d8" stroke="none" stroke-width="0.3" />
<circle cx="413.00" cy="19.80" r="0.9" fill="#f4c4cc" stroke="none" stroke-width="0.3" />
<circle cx="416.90" cy="27.50" r="1.0" fill="#f0f0f0" stroke="#d8a8b8" stroke-width="0.25" />
<circle cx="418.00" cy="28.20" r="1.1" fill="#8ccf3c" stroke="none" stroke-width="0.3" />
<circle cx="414.20" cy="21.00" r="1.2" fill="#c8ccec" stroke="none" stroke-width="0.3" />
<line x1="418.00000000000006" y1="22.5" x2="424.6000000000001" y2="33.5" stroke="#b8b8b8" stroke-width="0.3" />
<line x1="424.6000000000001" y1="22.5" x2="418.00000000000006" y2="33.5" stroke="#b8b8b8" stroke-width="0.3" />
<circle cx="418.00" cy="22.50" r="1.15" fill="#8ccf3c" stroke="none" stroke-width="0.3" />
<circle cx="424.60" cy="22.50" r="1.15" fill="#8ccf3c" stroke="none" stroke-width="0.3" />
<circle cx="418.00" cy="33.50" r="1.15" fill="#8ccf3c" stroke="none" stroke-width="0.3" />
<circle cx="424.60" cy="33.50" r="1.15" fill="#8ccf3c" stroke="none" stroke-width="0.3" />
<circle cx="419.70" cy="28.00" r="1.1" fill="#a6d84a" stroke="none" stroke-width="0.3" />
<circle cx="423.10" cy="27.20" r="1.0" fill="#9ad040" stroke="none" stroke-width="0.3" />
<circle cx="421.30" cy="25.30" r="1.5" fill="#b89ed0" stroke="none" stroke-width="0.3" />
<circle cx="422.50" cy="30.60" r="1.5" fill="#b89ed0" stroke="none" stroke-width="0.3" />
<circle cx="419.10" cy="31.20" r="0.9" fill="#c8b8d8" stroke="none" stroke-width="0.3" />
<circle cx="419.60" cy="19.80" r="0.9" fill="#f4c4cc" stroke="none" stroke-width="0.3" />
<circle cx="423.50" cy="27.50" r="1.0" fill="#f0f0f0" stroke="#d8a8b8" stroke-width="0.25" />
<circle cx="424.60" cy="28.20" r="1.1" fill="#8ccf3c" stroke="none" stroke-width="0.3" />
<circle cx="420.80" cy="21.00" r="1.2" fill="#c8ccec" stroke="none" stroke-width="0.3" />
<line x1="424.6000000000001" y1="22.5" x2="431.2000000000001" y2="33.5" stroke="#b8b8b8" stroke-width="0.3" />
<line x1="431.2000000000001" y1="22.5" x2="424.6000000000001" y2="33.5" stroke="#b8b8b8" stroke-width="0.3" />
<circle cx="424.60" cy="22.50" r="1.15" fill="#8ccf3c" stroke="none" stroke-width="0.3" />
<circle cx="431.20" cy="22.50" r="1.15" fill="#8ccf3c" stroke="none" stroke-width="0.3" />
<circle cx="424.60" cy="33.50" r="1.15" fill="#8ccf3c" stroke="none" stroke-width="0.3" />
<circle cx="431.20" cy="33.50" r="1.15" fill="#8ccf3c" stroke="none" stroke-width="0.3" />
<circle cx="426.30" cy="28.00" r="1.1" fill="#a6d84a" stroke="none" stroke-width="0.3" />
<circle cx="429.70" cy="27.20" r="1.0" fill="#9ad040" stroke="none" stroke-width="0.3" />
<circle cx="427.90" cy="25.30" r="1.5" fill="#b89ed0" stroke="none" stroke-width="0.3" />
<circle cx="429.10" cy="30.60" r="1.5" fill="#b89ed0" stroke="none" stroke-width="0.3" />
<circle cx="425.70" cy="31.20" r="0.9" fill="#c8b8d8" stroke="none" stroke-width="0.3" />
<circle cx="426.20" cy="19.80" r="0.9" fill="#f4c4cc" stroke="none" stroke-width="0.3" />
<circle cx="430.10" cy="27.50" r="1.0" fill="#f0f0f0" stroke="#d8a8b8" stroke-width="0.25" />
<circle cx="431.20" cy="28.20" r="1.1" fill="#8ccf3c" stroke="none" stroke-width="0.3" />
<circle cx="427.40" cy="21.00" r="1.2" fill="#c8ccec" stroke="none" stroke-width="0.3" />
<line x1="431.2000000000001" y1="22.5" x2="437.8000000000001" y2="33.5" stroke="#b8b8b8" stroke-width="0.3" />
<line x1="437.8000000000001" y1="22.5" x2="431.2000000000001" y2="33.5" stroke="#b8b8b8" stroke-width="0.3" />
<circle cx="431.20" cy="22.50" r="1.15" fill="#8ccf3c" stroke="none" stroke-width="0.3" />
<circle cx="437.80" cy="22.50" r="1.15" fill="#8ccf3c" stroke="none" stroke-width="0.3" />
<circle cx="431.20" cy="33.50" r="1.15" fill="#8ccf3c" stroke="none" stroke-width="0.3" />
<circle cx="437.80" cy="33.50" r="1.15" fill="#8ccf3c" stroke="none" stroke-width="0.3" />
<circle cx="432.90" cy="28.00" r="1.1" fill="#a6d84a" stroke="none" stroke-width="0.3" />
<circle cx="436.30" cy="27.20" r="1.0" fill="#9ad040" stroke="none" stroke-width="0.3" />
<circle cx="434.50" cy="25.30" r="1.5" fill="#b89ed0" stroke="none" stroke-width="0.3" />
<circle cx="435.70" cy="30.60" r="1.5" fill="#b89ed0" stroke="none" stroke-width="0.3" />
<circle cx="432.30" cy="31.20" r="0.9" fill="#c8b8d8" stroke="none" stroke-width="0.3" />
<circle cx="432.80" cy="19.80" r="0.9" fill="#f4c4cc" stroke="none" stroke-width="0.3" />
<circle cx="436.70" cy="27.50" r="1.0" fill="#f0f0f0" stroke="#d8a8b8" stroke-width="0.25" />
<circle cx="437.80" cy="28.20" r="1.1" fill="#8ccf3c" stroke="none" stroke-width="0.3" />
<circle cx="434.00" cy="21.00" r="1.2" fill="#c8ccec" stroke="none" stroke-width="0.3" />
<line x1="437.8000000000001" y1="22.5" x2="444.40000000000015" y2="33.5" stroke="#b8b8b8" stroke-width="0.3" />
<line x1="444.40000000000015" y1="22.5" x2="437.8000000000001" y2="33.5" stroke="#b8b8b8" stroke-width="0.3" />
<circle cx="437.80" cy="22.50" r="1.15" fill="#8ccf3c" stroke="none" stroke-width="0.3" />
<circle cx="444.40" cy="22.50" r="1.15" fill="#8ccf3c" stroke="none" stroke-width="0.3" />
<circle cx="437.80" cy="33.50" r="1.15" fill="#8ccf3c" stroke="none" stroke-width="0.3" />
<circle cx="444.40" cy="33.50" r="1.15" fill="#8ccf3c" stroke="none" stroke-width="0.3" />
<circle cx="439.50" cy="28.00" r="1.1" fill="#a6d84a" stroke="none" stroke-width="0.3" />
<circle cx="442.90" cy="27.20" r="1.0" fill="#9ad040" stroke="none" stroke-width="0.3" />
<circle cx="441.10" cy="25.30" r="1.5" fill="#b89ed0" stroke="none" stroke-width="0.3" />
<circle cx="442.30" cy="30.60" r="1.5" fill="#b89ed0" stroke="none" stroke-width="0.3" />
<circle cx="438.90" cy="31.20" r="0.9" fill="#c8b8d8" stroke="none" stroke-width="0.3" />
<circle cx="439.40" cy="19.80" r="0.9" fill="#f4c4cc" stroke="none" stroke-width="0.3" />
<circle cx="443.30" cy="27.50" r="1.0" fill="#f0f0f0" stroke="#d8a8b8" stroke-width="0.25" />
<circle cx="444.40" cy="28.20" r="1.1" fill="#8ccf3c" stroke="none" stroke-width="0.3" />
<circle cx="440.60" cy="21.00" r="1.2" fill="#c8ccec" stroke="none" stroke-width="0.3" />
<line x1="444.40000000000015" y1="22.5" x2="451.00000000000017" y2="33.5" stroke="#b8b8b8" stroke-width="0.3" />
<line x1="451.00000000000017" y1="22.5" x2="444.40000000000015" y2="33.5" stroke="#b8b8b8" stroke-width="0.3" />
<circle cx="444.40" cy="22.50" r="1.15" fill="#8ccf3c" stroke="none" stroke-width="0.3" />
<circle cx="451.00" cy="22.50" r="1.15" fill="#8ccf3c" stroke="none" stroke-width="0.3" />
<circle cx="444.40" cy="33.50" r="1.15" fill="#8ccf3c" stroke="none" stroke-width="0.3" />
<circle cx="451.00" cy="33.50" r="1.15" fill="#8ccf3c" stroke="none" stroke-width="0.3" />
<circle cx="446.10" cy="28.00" r="1.1" fill="#a6d84a" stroke="none" stroke-width="0.3" />
<circle cx="449.50" cy="27.20" r="1.0" fill="#9ad040" stroke="none" stroke-width="0.3" />
<circle cx="447.70" cy="25.30" r="1.5" fill="#b89ed0" stroke="none" stroke-width="0.3" />
<circle cx="448.90" cy="30.60" r="1.5" fill="#b89ed0" stroke="none" stroke-width="0.3" />
<circle cx="445.50" cy="31.20" r="0.9" fill="#c8b8d8" stroke="none" stroke-width="0.3" />
<circle cx="446.00" cy="19.80" r="0.9" fill="#f4c4cc" stroke="none" stroke-width="0.3" />
<circle cx="449.90" cy="27.50" r="1.0" fill="#f0f0f0" stroke="#d8a8b8" stroke-width="0.25" />
<circle cx="451.00" cy="28.20" r="1.1" fill="#8ccf3c" stroke="none" stroke-width="0.3" />
<circle cx="447.20" cy="21.00" r="1.2" fill="#c8ccec" stroke="none" stroke-width="0.3" />
<line x1="451.00000000000017" y1="22.5" x2="457.6000000000002" y2="33.5" stroke="#b8b8b8" stroke-width="0.3" />
<line x1="457.6000000000002" y1="22.5" x2="451.00000000000017" y2="33.5" stroke="#b8b8b8" stroke-width="0.3" />
<circle cx="451.00" cy="22.50" r="1.15" fill="#8ccf3c" stroke="none" stroke-width="0.3" />
<circle cx="457.60" cy="22.50" r="1.15" fill="#8ccf3c" stroke="none" stroke-width="0.3" />
<circle cx="451.00" cy="33.50" r="1.15" fill="#8ccf3c" stroke="none" stroke-width="0.3" />
<circle cx="457.60" cy="33.50" r="1.15" fill="#8ccf3c" stroke="none" stroke-width="0.3" />
<circle cx="452.70" cy="28.00" r="1.1" fill="#a6d84a" stroke="none" stroke-width="0.3" />
<circle cx="456.10" cy="27.20" r="1.0" fill="#9ad040" stroke="none" stroke-width="0.3" />
<circle cx="454.30" cy="25.30" r="1.5" fill="#b89ed0" stroke="none" stroke-width="0.3" />
<circle cx="455.50" cy="30.60" r="1.5" fill="#b89ed0" stroke="none" stroke-width="0.3" />
<circle cx="452.10" cy="31.20" r="0.9" fill="#c8b8d8" stroke="none" stroke-width="0.3" />
<circle cx="452.60" cy="19.80" r="0.9" fill="#f4c4cc" stroke="none" stroke-width="0.3" />
<circle cx="456.50" cy="27.50" r="1.0" fill="#f0f0f0" stroke="#d8a8b8" stroke-width="0.25" />
<circle cx="457.60" cy="28.20" r="1.1" fill="#8ccf3c" stroke="none" stroke-width="0.3" />
<circle cx="453.80" cy="21.00" r="1.2" fill="#c8ccec" stroke="none" stroke-width="0.3" />
<line x1="457.6000000000002" y1="22.5" x2="464.2000000000002" y2="33.5" stroke="#b8b8b8" stroke-width="0.3" />
<line x1="464.2000000000002" y1="22.5" x2="457.6000000000002" y2="33.5" stroke="#b8b8b8" stroke-width="0.3" />
<circle cx="457.60" cy="22.50" r="1.15" fill="#8ccf3c" stroke="none" stroke-width="0.3" />
<circle cx="464.20" cy="22.50" r="1.15" fill="#8ccf3c" stroke="none" stroke-width="0.3" />
<circle cx="457.60" cy="33.50" r="1.15" fill="#8ccf3c" stroke="none" stroke-width="0.3" />
<circle cx="464.20" cy="33.50" r="1.15" fill="#8ccf3c" stroke="none" stroke-width="0.3" />
<circle cx="459.30" cy="28.00" r="1.1" fill="#a6d84a" stroke="none" stroke-width="0.3" />
<circle cx="462.70" cy="27.20" r="1.0" fill="#9ad040" stroke="none" stroke-width="0.3" />
<circle cx="460.90" cy="25.30" r="1.5" fill="#b89ed0" stroke="none" stroke-width="0.3" />
<circle cx="462.10" cy="30.60" r="1.5" fill="#b89ed0" stroke="none" stroke-width="0.3" />
<circle cx="458.70" cy="31.20" r="0.9" fill="#c8b8d8" stroke="none" stroke-width="0.3" />
<circle cx="459.20" cy="19.80" r="0.9" fill="#f4c4cc" stroke="none" stroke-width="0.3" />
<circle cx="463.10" cy="27.50" r="1.0" fill="#f0f0f0" stroke="#d8a8b8" stroke-width="0.25" />
<circle cx="464.20" cy="28.20" r="1.1" fill="#8ccf3c" stroke="none" stroke-width="0.3" />
<circle cx="460.40" cy="21.00" r="1.2" fill="#c8ccec" stroke="none" stroke-width="0.3" />
<line x1="464.2000000000002" y1="22.5" x2="470.80000000000024" y2="33.5" stroke="#b8b8b8" stroke-width="0.3" />
<line x1="470.80000000000024" y1="22.5" x2="464.2000000000002" y2="33.5" stroke="#b8b8b8" stroke-width="0.3" />
<circle cx="464.20" cy="22.50" r="1.15" fill="#8ccf3c" stroke="none" stroke-width="0.3" />
<circle cx="470.80" cy="22.50" r="1.15" fill="#8ccf3c" stroke="none" stroke-width="0.3" />
<circle cx="464.20" cy="33.50" r="1.15" fill="#8ccf3c" stroke="none" stroke-width="0.3" />
<circle cx="470.80" cy="33.50" r="1.15" fill="#8ccf3c" stroke="none" stroke-width="0.3" />
<circle cx="465.90" cy="28.00" r="1.1" fill="#a6d84a" stroke="none" stroke-width="0.3" />
<circle cx="469.30" cy="27.20" r="1.0" fill="#9ad040" stroke="none" stroke-width="0.3" />
<circle cx="467.50" cy="25.30" r="1.5" fill="#b89ed0" stroke="none" stroke-width="0.3" />
<circle cx="468.70" cy="30.60" r="1.5" fill="#b89ed0" stroke="none" stroke-width="0.3" />
<circle cx="465.30" cy="31.20" r="0.9" fill="#c8b8d8" stroke="none" stroke-width="0.3" />
<circle cx="465.80" cy="19.80" r="0.9" fill="#f4c4cc" stroke="none" stroke-width="0.3" />
<circle cx="469.70" cy="27.50" r="1.0" fill="#f0f0f0" stroke="#d8a8b8" stroke-width="0.25" />
<circle cx="470.80" cy="28.20" r="1.1" fill="#8ccf3c" stroke="none" stroke-width="0.3" />
<circle cx="467.00" cy="21.00" r="1.2" fill="#c8ccec" stroke="none" stroke-width="0.3" />
<line x1="470.80000000000024" y1="22.5" x2="477.40000000000026" y2="33.5" stroke="#b8b8b8" stroke-width="0.3" />
<line x1="477.40000000000026" y1="22.5" x2="470.80000000000024" y2="33.5" stroke="#b8b8b8" stroke-width="0.3" />
<circle cx="470.80" cy="22.50" r="1.15" fill="#8ccf3c" stroke="none" stroke-width="0.3" />
<circle cx="477.40" cy="22.50" r="1.15" fill="#8ccf3c" stroke="none" stroke-width="0.3" />
<circle cx="470.80" cy="33.50" r="1.15" fill="#8ccf3c" stroke="none" stroke-width="0.3" />
<circle cx="477.40" cy="33.50" r="1.15" fill="#8ccf3c" stroke="none" stroke-width="0.3" />
<circle cx="472.50" cy="28.00" r="1.1" fill="#a6d84a" stroke="none" stroke-width="0.3" />
<circle cx="475.90" cy="27.20" r="1.0" fill="#9ad040" stroke="none" stroke-width="0.3" />
<circle cx="474.10" cy="25.30" r="1.5" fill="#b89ed0" stroke="none" stroke-width="0.3" />
<circle cx="475.30" cy="30.60" r="1.5" fill="#b89ed0" stroke="none" stroke-width="0.3" />
<circle cx="471.90" cy="31.20" r="0.9" fill="#c8b8d8" stroke="none" stroke-width="0.3" />
<circle cx="472.40" cy="19.80" r="0.9" fill="#f4c4cc" stroke="none" stroke-width="0.3" />
<circle cx="476.30" cy="27.50" r="1.0" fill="#f0f0f0" stroke="#d8a8b8" stroke-width="0.25" />
<circle cx="477.40" cy="28.20" r="1.1" fill="#8ccf3c" stroke="none" stroke-width="0.3" />
<circle cx="473.60" cy="21.00" r="1.2" fill="#c8ccec" stroke="none" stroke-width="0.3" />
<line x1="477.40000000000026" y1="22.5" x2="484.0000000000003" y2="33.5" stroke="#b8b8b8" stroke-width="0.3" />
<line x1="484.0000000000003" y1="22.5" x2="477.40000000000026" y2="33.5" stroke="#b8b8b8" stroke-width="0.3" />
<circle cx="477.40" cy="22.50" r="1.15" fill="#8ccf3c" stroke="none" stroke-width="0.3" />
<circle cx="484.00" cy="22.50" r="1.15" fill="#8ccf3c" stroke="none" stroke-width="0.3" />
<circle cx="477.40" cy="33.50" r="1.15" fill="#8ccf3c" stroke="none" stroke-width="0.3" />
<circle cx="484.00" cy="33.50" r="1.15" fill="#8ccf3c" stroke="none" stroke-width="0.3" />
<circle cx="479.10" cy="28.00" r="1.1" fill="#a6d84a" stroke="none" stroke-width="0.3" />
<circle cx="482.50" cy="27.20" r="1.0" fill="#9ad040" stroke="none" stroke-width="0.3" />
<circle cx="480.70" cy="25.30" r="1.5" fill="#b89ed0" stroke="none" stroke-width="0.3" />
<circle cx="481.90" cy="30.60" r="1.5" fill="#b89ed0" stroke="none" stroke-width="0.3" />
<circle cx="478.50" cy="31.20" r="0.9" fill="#c8b8d8" stroke="none" stroke-width="0.3" />
<circle cx="479.00" cy="19.80" r="0.9" fill="#f4c4cc" stroke="none" stroke-width="0.3" />
<circle cx="482.90" cy="27.50" r="1.0" fill="#f0f0f0" stroke="#d8a8b8" stroke-width="0.25" />
<circle cx="484.00" cy="28.20" r="1.1" fill="#8ccf3c" stroke="none" stroke-width="0.3" />
<circle cx="480.20" cy="21.00" r="1.2" fill="#c8ccec" stroke="none" stroke-width="0.3" />
<circle cx="410.00" cy="19.70" r="2.5" fill="url(#nball)" stroke="none" stroke-width="0.3" />
<circle cx="408.50" cy="16.90" r="0.8" fill="#f4c4cc" stroke="none" stroke-width="0.3" />
<circle cx="411.50" cy="16.90" r="0.8" fill="#f4c4cc" stroke="none" stroke-width="0.3" />
<circle cx="412.30" cy="21.50" r="0.8" fill="#f4c4cc" stroke="none" stroke-width="0.3" />
<circle cx="418.30" cy="15.20" r="2.5" fill="url(#nball)" stroke="none" stroke-width="0.3" />
<circle cx="416.80" cy="12.40" r="0.8" fill="#f4c4cc" stroke="none" stroke-width="0.3" />
<circle cx="419.80" cy="12.40" r="0.8" fill="#f4c4cc" stroke="none" stroke-width="0.3" />
<circle cx="420.60" cy="17.00" r="0.8" fill="#f4c4cc" stroke="none" stroke-width="0.3" />
<circle cx="420.60" cy="28.80" r="2.5" fill="url(#nball)" stroke="none" stroke-width="0.3" />
<circle cx="419.10" cy="26.00" r="0.8" fill="#f4c4cc" stroke="none" stroke-width="0.3" />
<circle cx="422.10" cy="26.00" r="0.8" fill="#f4c4cc" stroke="none" stroke-width="0.3" />
<circle cx="422.90" cy="30.60" r="0.8" fill="#f4c4cc" stroke="none" stroke-width="0.3" />
<circle cx="467.00" cy="17.40" r="2.5" fill="url(#nball)" stroke="none" stroke-width="0.3" />
<circle cx="465.50" cy="14.60" r="0.8" fill="#f4c4cc" stroke="none" stroke-width="0.3" />
<circle cx="468.50" cy="14.60" r="0.8" fill="#f4c4cc" stroke="none" stroke-width="0.3" />
<circle cx="469.30" cy="19.20" r="0.8" fill="#f4c4cc" stroke="none" stroke-width="0.3" />
<circle cx="470.00" cy="23.50" r="2.5" fill="url(#nball)" stroke="none" stroke-width="0.3" />
<circle cx="468.50" cy="20.70" r="0.8" fill="#f4c4cc" stroke="none" stroke-width="0.3" />
<circle cx="471.50" cy="20.70" r="0.8" fill="#f4c4cc" stroke="none" stroke-width="0.3" />
<circle cx="472.30" cy="25.30" r="0.8" fill="#f4c4cc" stroke="none" stroke-width="0.3" />
<line x1="425.7" y1="15" x2="428.3" y2="15" stroke="#2f6fd0" stroke-width="0.8" />
<line x1="427" y1="13.7" x2="427" y2="16.3" stroke="#2f6fd0" stroke-width="0.8" />
<line x1="473.2" y1="15" x2="475.8" y2="15" stroke="#2f6fd0" stroke-width="0.8" />
<line x1="474.5" y1="13.7" x2="474.5" y2="16.3" stroke="#2f6fd0" stroke-width="0.8" />
<circle cx="434.20" cy="18.20" r="2.2" fill="url(#redball)" stroke="none" stroke-width="0.3" />
<circle cx="444.80" cy="9.80" r="2.2" fill="url(#redball)" stroke="none" stroke-width="0.3" />
<circle cx="451.70" cy="22.00" r="2.2" fill="url(#redball)" stroke="none" stroke-width="0.3" />
<circle cx="444.00" cy="28.00" r="2.2" fill="url(#redball)" stroke="none" stroke-width="0.3" />
<circle cx="433.20" cy="31.00" r="2.2" fill="url(#redball)" stroke="none" stroke-width="0.3" />
<circle cx="461.50" cy="32.60" r="2.2" fill="url(#redball)" stroke="none" stroke-width="0.3" />
<circle cx="461.80" cy="10.60" r="2.2" fill="url(#redball)" stroke="none" stroke-width="0.3" />
<circle cx="476.20" cy="29.50" r="2.2" fill="url(#redball)" stroke="none" stroke-width="0.3" />
<circle cx="480.80" cy="15.20" r="1.9" fill="url(#eball)" stroke="#6a4a00" stroke-width="0.3" />
<line x1="479.755" y1="15.2" x2="481.845" y2="15.2" stroke="#333" stroke-width="0.45" />
<circle cx="480.00" cy="24.20" r="1.9" fill="url(#eball)" stroke="#6a4a00" stroke-width="0.3" />
<line x1="478.955" y1="24.2" x2="481.045" y2="24.2" stroke="#333" stroke-width="0.45" />
<circle cx="487.60" cy="27.30" r="1.9" fill="url(#eball)" stroke="#6a4a00" stroke-width="0.3" />
<line x1="486.555" y1="27.3" x2="488.64500000000004" y2="27.3" stroke="#333" stroke-width="0.45" />
<circle cx="470.20" cy="29.50" r="1.9" fill="url(#eball)" stroke="#6a4a00" stroke-width="0.3" />
<line x1="469.155" y1="29.5" x2="471.245" y2="29.5" stroke="#333" stroke-width="0.45" />
<line x1="441" y1="15.8" x2="459.0" y2="15.8" stroke="#111" stroke-width="1.6" />
<path d="M462.00,15.80 L459.00,17.30 L459.00,14.30 Z" fill="#111" stroke="none" stroke-width="1" />
<text x="447" y="13.0" font-size="3.0" font-weight="normal" font-family="'Liberation Serif', serif" fill="#111" stroke="#111" stroke-width="0.09" text-anchor="start" >2(ads)</text>
<text x="453" y="25.0" font-size="3.0" font-weight="bold" font-family="'Liberation Serif', serif" fill="#111" stroke="#111" stroke-width="0.09" text-anchor="start" >2(ads)</text>
<text x="414.1" y="65.4" font-size="6.4" font-weight="bold" font-family="'Liberation Serif', serif" fill="#111" stroke="#111" stroke-width="0.192" text-anchor="start"><tspan font-size="6.40" dy="0.00">Nb</tspan><tspan font-size="3.97" dy="1.60">2</tspan><tspan font-size="6.40" dy="-1.60">CT</tspan><tspan font-size="3.97" dy="1.60">x</tspan><tspan font-size="6.40" dy="-1.60">/MoSe</tspan><tspan font-size="3.97" dy="1.60">2</tspan><tspan font-size="6.40" dy="-1.60"> in ammonia</tspan></text>
<line x1="246" y1="84.4" x2="505" y2="84.4" stroke="#222" stroke-width="0.8" stroke-dasharray="2.6 1.6"/>
<text x="238.8" y="86.2" font-size="6.0" font-weight="bold" font-family="'Liberation Serif', serif" fill="#111" stroke="#111" stroke-width="0.180" text-anchor="start"><tspan font-size="6.00" dy="0.00">E</tspan><tspan font-size="3.72" dy="1.50">0</tspan></text>
<circle cx="252.60" cy="107.60" r="2.2" fill="url(#eball)" stroke="#6a4a00" stroke-width="0.3" />
<line x1="251.39" y1="107.6" x2="253.81" y2="107.6" stroke="#333" stroke-width="0.45" />
<circle cx="257.38" cy="107.60" r="2.2" fill="url(#eball)" stroke="#6a4a00" stroke-width="0.3" />
<line x1="256.165" y1="107.6" x2="258.585" y2="107.6" stroke="#333" stroke-width="0.45" />
<circle cx="262.15" cy="107.60" r="2.2" fill="url(#eball)" stroke="#6a4a00" stroke-width="0.3" />
<line x1="260.94" y1="107.6" x2="263.35999999999996" y2="107.6" stroke="#333" stroke-width="0.45" />
<circle cx="266.93" cy="107.60" r="2.2" fill="url(#eball)" stroke="#6a4a00" stroke-width="0.3" />
<line x1="265.71500000000003" y1="107.6" x2="268.135" y2="107.6" stroke="#333" stroke-width="0.45" />
<circle cx="271.70" cy="107.60" r="2.2" fill="url(#eball)" stroke="#6a4a00" stroke-width="0.3" />
<line x1="270.49" y1="107.6" x2="272.90999999999997" y2="107.6" stroke="#333" stroke-width="0.45" />
<circle cx="276.48" cy="107.60" r="2.2" fill="url(#eball)" stroke="#6a4a00" stroke-width="0.3" />
<line x1="275.26500000000004" y1="107.6" x2="277.685" y2="107.6" stroke="#333" stroke-width="0.45" />
<circle cx="281.25" cy="107.60" r="2.2" fill="url(#eball)" stroke="#6a4a00" stroke-width="0.3" />
<line x1="280.04" y1="107.6" x2="282.46" y2="107.6" stroke="#333" stroke-width="0.45" />
<circle cx="286.02" cy="107.60" r="2.2" fill="url(#eball)" stroke="#6a4a00" stroke-width="0.3" />
<line x1="284.815" y1="107.6" x2="287.23499999999996" y2="107.6" stroke="#333" stroke-width="0.45" />
<circle cx="290.80" cy="107.60" r="2.2" fill="url(#eball)" stroke="#6a4a00" stroke-width="0.3" />
<line x1="289.59000000000003" y1="107.6" x2="292.01" y2="107.6" stroke="#333" stroke-width="0.45" />
<line x1="246.7" y1="111.5" x2="295" y2="111.5" stroke="#111" stroke-width="1.2" />
<line x1="247" y1="123.1" x2="295" y2="123.1" stroke="#8cc860" stroke-width="0.9" stroke-dasharray="2.5 3"/>
<line x1="247" y1="134.3" x2="294.5" y2="134.3" stroke="#111" stroke-width="1.2" />
<circle cx="249.80" cy="138.30" r="2.2" fill="url(#hball)" stroke="none" stroke-width="0.3" />
<line x1="248.59" y1="138.3" x2="251.01000000000002" y2="138.3" stroke="#101a70" stroke-width="0.5" />
<line x1="249.8" y1="137.09" x2="249.8" y2="139.51000000000002" stroke="#101a70" stroke-width="0.5" />
<circle cx="254.58" cy="138.30" r="2.2" fill="url(#hball)" stroke="none" stroke-width="0.3" />
<line x1="253.36777777777777" y1="138.3" x2="255.7877777777778" y2="138.3" stroke="#101a70" stroke-width="0.5" />
<line x1="254.57777777777778" y1="137.09" x2="254.57777777777778" y2="139.51000000000002" stroke="#101a70" stroke-width="0.5" />
<circle cx="259.36" cy="138.30" r="2.2" fill="url(#hball)" stroke="none" stroke-width="0.3" />
<line x1="258.1455555555556" y1="138.3" x2="260.56555555555553" y2="138.3" stroke="#101a70" stroke-width="0.5" />
<line x1="259.35555555555555" y1="137.09" x2="259.35555555555555" y2="139.51000000000002" stroke="#101a70" stroke-width="0.5" />
<circle cx="264.13" cy="138.30" r="2.2" fill="url(#hball)" stroke="none" stroke-width="0.3" />
<line x1="262.92333333333335" y1="138.3" x2="265.3433333333333" y2="138.3" stroke="#101a70" stroke-width="0.5" />
<line x1="264.1333333333333" y1="137.09" x2="264.1333333333333" y2="139.51000000000002" stroke="#101a70" stroke-width="0.5" />
<circle cx="268.91" cy="138.30" r="2.2" fill="url(#hball)" stroke="none" stroke-width="0.3" />
<line x1="267.7011111111111" y1="138.3" x2="270.1211111111111" y2="138.3" stroke="#101a70" stroke-width="0.5" />
<line x1="268.9111111111111" y1="137.09" x2="268.9111111111111" y2="139.51000000000002" stroke="#101a70" stroke-width="0.5" />
<circle cx="273.69" cy="138.30" r="2.2" fill="url(#hball)" stroke="none" stroke-width="0.3" />
<line x1="272.47888888888895" y1="138.3" x2="274.8988888888889" y2="138.3" stroke="#101a70" stroke-width="0.5" />
<line x1="273.6888888888889" y1="137.09" x2="273.6888888888889" y2="139.51000000000002" stroke="#101a70" stroke-width="0.5" />
<circle cx="278.47" cy="138.30" r="2.2" fill="url(#hball)" stroke="none" stroke-width="0.3" />
<line x1="277.2566666666667" y1="138.3" x2="279.6766666666667" y2="138.3" stroke="#101a70" stroke-width="0.5" />
<line x1="278.4666666666667" y1="137.09" x2="278.4666666666667" y2="139.51000000000002" stroke="#101a70" stroke-width="0.5" />
<circle cx="283.24" cy="138.30" r="2.2" fill="url(#hball)" stroke="none" stroke-width="0.3" />
<line x1="282.0344444444445" y1="138.3" x2="284.45444444444445" y2="138.3" stroke="#101a70" stroke-width="0.5" />
<line x1="283.24444444444447" y1="137.09" x2="283.24444444444447" y2="139.51000000000002" stroke="#101a70" stroke-width="0.5" />
<circle cx="288.02" cy="138.30" r="2.2" fill="url(#hball)" stroke="none" stroke-width="0.3" />
<line x1="286.81222222222226" y1="138.3" x2="289.2322222222222" y2="138.3" stroke="#101a70" stroke-width="0.5" />
<line x1="288.02222222222224" y1="137.09" x2="288.02222222222224" y2="139.51000000000002" stroke="#101a70" stroke-width="0.5" />
<circle cx="292.80" cy="138.30" r="2.2" fill="url(#hball)" stroke="none" stroke-width="0.3" />
<line x1="291.59000000000003" y1="138.3" x2="294.01" y2="138.3" stroke="#101a70" stroke-width="0.5" />
<line x1="292.8" y1="137.09" x2="292.8" y2="139.51000000000002" stroke="#101a70" stroke-width="0.5" />
<text x="238.6" y="112.6" font-size="6.0" font-weight="bold" font-family="'Liberation Serif', serif" fill="#111" stroke="#111" stroke-width="0.180" text-anchor="start"><tspan font-size="6.00" dy="0.00">E</tspan><tspan font-size="3.72" dy="1.50">C</tspan></text>
<text x="238.6" y="124.2" font-size="6.0" font-weight="bold" font-family="'Liberation Serif', serif" fill="#111" stroke="#111" stroke-width="0.180" text-anchor="start"><tspan font-size="6.00" dy="0.00">E</tspan><tspan font-size="3.72" dy="1.50">F</tspan></text>
<text x="238.6" y="135.2" font-size="6.0" font-weight="bold" font-family="'Liberation Serif', serif" fill="#111" stroke="#111" stroke-width="0.180" text-anchor="start"><tspan font-size="6.00" dy="0.00">E</tspan><tspan font-size="3.72" dy="1.50">V</tspan></text>
<line x1="249" y1="88.3" x2="249" y2="105.5" stroke="#222" stroke-width="0.7" stroke-dasharray="1.5 1"/>
<path d="M249,87.5 l-1.4,2.6 l2.8,0 z" fill="#111" stroke="none" stroke-width="1" />
<line x1="249" y1="113.5" x2="249" y2="118.5" stroke="#222" stroke-width="0.7" stroke-dasharray="1.5 1"/>
<path d="M249,119.3 l-1.4,-2.6 l2.8,0 z" fill="#111" stroke="none" stroke-width="1" />
<line x1="255.5" y1="114.5" x2="255.5" y2="132.2" stroke="#222" stroke-width="0.7" stroke-dasharray="1.5 1"/>
<path d="M255.5,113.7 l-1.4,2.6 l2.8,0 z" fill="#111" stroke="none" stroke-width="1" />
<path d="M255.5,133.0 l-1.4,-2.6 l2.8,0 z" fill="#111" stroke="none" stroke-width="1" />
<text x="250.4" y="95.8" font-size="6.2" font-weight="bold" font-family="'Liberation Serif', serif" fill="#111" stroke="#111" stroke-width="0.186" text-anchor="start"><tspan font-size="6.20" dy="0.00">Φ=5.04 eV</tspan></text>
<text x="260.3" y="131.5" font-size="6.2" font-weight="bold" font-family="'Liberation Serif', serif" fill="#111" stroke="#111" stroke-width="0.186" text-anchor="start"><tspan font-size="6.20" dy="0.00">E</tspan><tspan font-size="3.84" dy="1.55">g</tspan><tspan font-size="6.20" dy="-1.55">=0.81 eV</tspan></text>
<text x="254" y="149.6" font-size="6.2" font-weight="bold" font-family="'Liberation Serif', serif" fill="#111" stroke="#111" stroke-width="0.186" text-anchor="start"><tspan font-size="6.20" dy="0.00">p-Nb</tspan><tspan font-size="3.84" dy="1.55">2</tspan><tspan font-size="6.20" dy="-1.55">CT</tspan><tspan font-size="3.84" dy="1.55">x</tspan></text>
<circle cx="318.00" cy="101.70" r="2.2" fill="url(#eball)" stroke="#6a4a00" stroke-width="0.3" />
<line x1="316.79" y1="101.7" x2="319.21" y2="101.7" stroke="#333" stroke-width="0.45" />
<circle cx="322.79" cy="101.70" r="2.2" fill="url(#eball)" stroke="#6a4a00" stroke-width="0.3" />
<line x1="321.57750000000004" y1="101.7" x2="323.9975" y2="101.7" stroke="#333" stroke-width="0.45" />
<circle cx="327.57" cy="101.70" r="2.2" fill="url(#eball)" stroke="#6a4a00" stroke-width="0.3" />
<line x1="326.365" y1="101.7" x2="328.78499999999997" y2="101.7" stroke="#333" stroke-width="0.45" />
<circle cx="332.36" cy="101.70" r="2.2" fill="url(#eball)" stroke="#6a4a00" stroke-width="0.3" />
<line x1="331.15250000000003" y1="101.7" x2="333.5725" y2="101.7" stroke="#333" stroke-width="0.45" />
<circle cx="337.15" cy="101.70" r="2.2" fill="url(#eball)" stroke="#6a4a00" stroke-width="0.3" />
<line x1="335.94" y1="101.7" x2="338.35999999999996" y2="101.7" stroke="#333" stroke-width="0.45" />
<circle cx="341.94" cy="101.70" r="2.2" fill="url(#eball)" stroke="#6a4a00" stroke-width="0.3" />
<line x1="340.7275" y1="101.7" x2="343.1475" y2="101.7" stroke="#333" stroke-width="0.45" />
<circle cx="346.73" cy="101.70" r="2.2" fill="url(#eball)" stroke="#6a4a00" stroke-width="0.3" />
<line x1="345.51500000000004" y1="101.7" x2="347.935" y2="101.7" stroke="#333" stroke-width="0.45" />
<circle cx="351.51" cy="101.70" r="2.2" fill="url(#eball)" stroke="#6a4a00" stroke-width="0.3" />
<line x1="350.3025" y1="101.7" x2="352.72249999999997" y2="101.7" stroke="#333" stroke-width="0.45" />
<circle cx="356.30" cy="101.70" r="2.2" fill="url(#eball)" stroke="#6a4a00" stroke-width="0.3" />
<line x1="355.09000000000003" y1="101.7" x2="357.51" y2="101.7" stroke="#333" stroke-width="0.45" />
<line x1="311" y1="104.5" x2="359" y2="104.5" stroke="#111" stroke-width="1.2" />
<line x1="311" y1="113.8" x2="359" y2="113.8" stroke="#8cc860" stroke-width="0.9" stroke-dasharray="2.5 3"/>
<line x1="311" y1="134.5" x2="359" y2="134.5" stroke="#111" stroke-width="1.0" />
<circle cx="314.60" cy="138.10" r="2.2" fill="url(#hball)" stroke="none" stroke-width="0.3" />
<line x1="313.39000000000004" y1="138.1" x2="315.81" y2="138.1" stroke="#101a70" stroke-width="0.5" />
<line x1="314.6" y1="136.89" x2="314.6" y2="139.31" stroke="#101a70" stroke-width="0.5" />
<circle cx="319.40" cy="138.10" r="2.2" fill="url(#hball)" stroke="none" stroke-width="0.3" />
<line x1="318.19000000000005" y1="138.1" x2="320.61" y2="138.1" stroke="#101a70" stroke-width="0.5" />
<line x1="319.40000000000003" y1="136.89" x2="319.40000000000003" y2="139.31" stroke="#101a70" stroke-width="0.5" />
<circle cx="324.20" cy="138.10" r="2.2" fill="url(#hball)" stroke="none" stroke-width="0.3" />
<line x1="322.99000000000007" y1="138.1" x2="325.41" y2="138.1" stroke="#101a70" stroke-width="0.5" />
<line x1="324.20000000000005" y1="136.89" x2="324.20000000000005" y2="139.31" stroke="#101a70" stroke-width="0.5" />
<circle cx="329.00" cy="138.10" r="2.2" fill="url(#hball)" stroke="none" stroke-width="0.3" />
<line x1="327.79" y1="138.1" x2="330.21" y2="138.1" stroke="#101a70" stroke-width="0.5" />
<line x1="329.0" y1="136.89" x2="329.0" y2="139.31" stroke="#101a70" stroke-width="0.5" />
<circle cx="333.80" cy="138.10" r="2.2" fill="url(#hball)" stroke="none" stroke-width="0.3" />
<line x1="332.59000000000003" y1="138.1" x2="335.01" y2="138.1" stroke="#101a70" stroke-width="0.5" />
<line x1="333.8" y1="136.89" x2="333.8" y2="139.31" stroke="#101a70" stroke-width="0.5" />
<circle cx="338.60" cy="138.10" r="2.2" fill="url(#hball)" stroke="none" stroke-width="0.3" />
<line x1="337.39000000000004" y1="138.1" x2="339.81" y2="138.1" stroke="#101a70" stroke-width="0.5" />
<line x1="338.6" y1="136.89" x2="338.6" y2="139.31" stroke="#101a70" stroke-width="0.5" />
<circle cx="343.40" cy="138.10" r="2.2" fill="url(#hball)" stroke="none" stroke-width="0.3" />
<line x1="342.19000000000005" y1="138.1" x2="344.61" y2="138.1" stroke="#101a70" stroke-width="0.5" />
<line x1="343.40000000000003" y1="136.89" x2="343.40000000000003" y2="139.31" stroke="#101a70" stroke-width="0.5" />
<circle cx="348.20" cy="138.10" r="2.2" fill="url(#hball)" stroke="none" stroke-width="0.3" />
<line x1="346.99000000000007" y1="138.1" x2="349.41" y2="138.1" stroke="#101a70" stroke-width="0.5" />
<line x1="348.20000000000005" y1="136.89" x2="348.20000000000005" y2="139.31" stroke="#101a70" stroke-width="0.5" />
<circle cx="353.00" cy="138.10" r="2.2" fill="url(#hball)" stroke="none" stroke-width="0.3" />
<line x1="351.79" y1="138.1" x2="354.21" y2="138.1" stroke="#101a70" stroke-width="0.5" />
<line x1="353.0" y1="136.89" x2="353.0" y2="139.31" stroke="#101a70" stroke-width="0.5" />
<circle cx="357.80" cy="138.10" r="2.2" fill="url(#hball)" stroke="none" stroke-width="0.3" />
<line x1="356.59000000000003" y1="138.1" x2="359.01" y2="138.1" stroke="#101a70" stroke-width="0.5" />
<line x1="357.8" y1="136.89" x2="357.8" y2="139.31" stroke="#101a70" stroke-width="0.5" />
<text x="360.5" y="106.2" font-size="6.0" font-weight="bold" font-family="'Liberation Serif', serif" fill="#111" stroke="#111" stroke-width="0.180" text-anchor="start"><tspan font-size="6.00" dy="0.00">E</tspan><tspan font-size="3.72" dy="1.50">C</tspan></text>
<text x="360.5" y="116.2" font-size="6.0" font-weight="bold" font-family="'Liberation Serif', serif" fill="#111" stroke="#111" stroke-width="0.180" text-anchor="start"><tspan font-size="6.00" dy="0.00">E</tspan><tspan font-size="3.72" dy="1.50">F</tspan></text>
<text x="360.5" y="136.2" font-size="6.0" font-weight="bold" font-family="'Liberation Serif', serif" fill="#111" stroke="#111" stroke-width="0.180" text-anchor="start"><tspan font-size="6.00" dy="0.00">E</tspan><tspan font-size="3.72" dy="1.50">v</tspan></text>
<line x1="314" y1="87.5" x2="314" y2="102.5" stroke="#222" stroke-width="0.7" stroke-dasharray="1.5 1"/>
<path d="M314,86.7 l-1.4,2.6 l2.8,0 z" fill="#111" stroke="none" stroke-width="1" />
<line x1="314" y1="106.5" x2="314" y2="110.5" stroke="#222" stroke-width="0.7" stroke-dasharray="1.5 1"/>
<path d="M314,111.3 l-1.4,-2.6 l2.8,0 z" fill="#111" stroke="none" stroke-width="1" />
<line x1="334" y1="107.5" x2="334" y2="131.5" stroke="#222" stroke-width="0.7" stroke-dasharray="1.5 1"/>
<path d="M334,106.7 l-1.4,2.6 l2.8,0 z" fill="#111" stroke="none" stroke-width="1" />
<path d="M334,132.3 l-1.4,-2.6 l2.8,0 z" fill="#111" stroke="none" stroke-width="1" />
<text x="315.5" y="95.8" font-size="6.2" font-weight="bold" font-family="'Liberation Serif', serif" fill="#111" stroke="#111" stroke-width="0.186" text-anchor="start"><tspan font-size="6.20" dy="0.00">Φ=4.43 eV</tspan></text>
<text x="336" y="126.5" font-size="6.2" font-weight="bold" font-family="'Liberation Serif', serif" fill="#111" stroke="#111" stroke-width="0.186" text-anchor="start"><tspan font-size="6.20" dy="0.00">E</tspan><tspan font-size="3.84" dy="1.55">g</tspan><tspan font-size="6.20" dy="-1.55">=1.12 eV</tspan></text>
<text x="322" y="149.6" font-size="6.2" font-weight="bold" font-family="'Liberation Serif', serif" fill="#111" stroke="#111" stroke-width="0.186" text-anchor="start"><tspan font-size="6.20" dy="0.00">n-MoSe</tspan><tspan font-size="3.84" dy="1.55">2</tspan></text>
<line x1="308.8" y1="103" x2="298.3825180832063" y2="106.96036502621908" stroke="#111" stroke-width="0.5" />
<path d="M296.70,107.60 L298.06,106.12 L298.70,107.80 Z" fill="#111" stroke="none" stroke-width="1" />
<text x="281.8" y="160.5" font-size="6.3" font-weight="bold" font-family="'Liberation Serif', serif" fill="#111" stroke="#111" stroke-width="0.189" text-anchor="start" >Before contact</text>
<path d="M399.4,112.3 L446,112.3 C452,112.3 451,99.4 459,99.4 L505.5,99.4" fill="none" stroke="#111" stroke-width="1.2" />
<path d="M399.4,136.8 L446,136.8 C452,136.8 451,129 459,129 L505.5,129" fill="none" stroke="#111" stroke-width="1.2" />
<line x1="399" y1="118.6" x2="505" y2="118.6" stroke="#8cc860" stroke-width="0.9" stroke-dasharray="2.5 3"/>
<circle cx="403.70" cy="108.60" r="2.2" fill="url(#eball)" stroke="#6a4a00" stroke-width="0.3" />
<line x1="402.49" y1="108.6" x2="404.90999999999997" y2="108.6" stroke="#333" stroke-width="0.45" />
<circle cx="408.46" cy="108.60" r="2.2" fill="url(#eball)" stroke="#6a4a00" stroke-width="0.3" />
<line x1="407.24555555555554" y1="108.6" x2="409.6655555555555" y2="108.6" stroke="#333" stroke-width="0.45" />
<circle cx="413.21" cy="108.60" r="2.2" fill="url(#eball)" stroke="#6a4a00" stroke-width="0.3" />
<line x1="412.00111111111113" y1="108.6" x2="414.4211111111111" y2="108.6" stroke="#333" stroke-width="0.45" />
<circle cx="417.97" cy="108.60" r="2.2" fill="url(#eball)" stroke="#6a4a00" stroke-width="0.3" />
<line x1="416.75666666666666" y1="108.6" x2="419.1766666666666" y2="108.6" stroke="#333" stroke-width="0.45" />
<circle cx="422.72" cy="108.60" r="2.2" fill="url(#eball)" stroke="#6a4a00" stroke-width="0.3" />
<line x1="421.51222222222225" y1="108.6" x2="423.9322222222222" y2="108.6" stroke="#333" stroke-width="0.45" />
<circle cx="427.48" cy="108.60" r="2.2" fill="url(#eball)" stroke="#6a4a00" stroke-width="0.3" />
<line x1="426.2677777777778" y1="108.6" x2="428.68777777777774" y2="108.6" stroke="#333" stroke-width="0.45" />
<circle cx="432.23" cy="108.60" r="2.2" fill="url(#eball)" stroke="#6a4a00" stroke-width="0.3" />
<line x1="431.02333333333337" y1="108.6" x2="433.4433333333333" y2="108.6" stroke="#333" stroke-width="0.45" />
<circle cx="436.99" cy="108.60" r="2.2" fill="url(#eball)" stroke="#6a4a00" stroke-width="0.3" />
<line x1="435.7788888888889" y1="108.6" x2="438.19888888888886" y2="108.6" stroke="#333" stroke-width="0.45" />
<circle cx="441.74" cy="108.60" r="2.2" fill="url(#eball)" stroke="#6a4a00" stroke-width="0.3" />
<line x1="440.53444444444443" y1="108.6" x2="442.9544444444444" y2="108.6" stroke="#333" stroke-width="0.45" />
<circle cx="446.50" cy="108.60" r="2.2" fill="url(#eball)" stroke="#6a4a00" stroke-width="0.3" />
<line x1="445.29" y1="108.6" x2="447.71" y2="108.6" stroke="#333" stroke-width="0.45" />
<circle cx="450.20" cy="103.80" r="2.2" fill="url(#eball)" stroke="#6a4a00" stroke-width="0.3" />
<line x1="448.99" y1="103.8" x2="451.40999999999997" y2="103.8" stroke="#333" stroke-width="0.45" />
<circle cx="455.20" cy="98.60" r="2.2" fill="url(#eball)" stroke="#6a4a00" stroke-width="0.3" />
<line x1="453.99" y1="98.6" x2="456.40999999999997" y2="98.6" stroke="#333" stroke-width="0.45" />
<circle cx="463.20" cy="95.90" r="2.2" fill="url(#eball)" stroke="#6a4a00" stroke-width="0.3" />
<line x1="461.99" y1="95.9" x2="464.40999999999997" y2="95.9" stroke="#333" stroke-width="0.45" />
<circle cx="470.20" cy="95.90" r="2.2" fill="url(#eball)" stroke="#6a4a00" stroke-width="0.3" />
<line x1="468.99" y1="95.9" x2="471.40999999999997" y2="95.9" stroke="#333" stroke-width="0.45" />
<circle cx="477.20" cy="95.90" r="2.2" fill="url(#eball)" stroke="#6a4a00" stroke-width="0.3" />
<line x1="475.99" y1="95.9" x2="478.40999999999997" y2="95.9" stroke="#333" stroke-width="0.45" />
<circle cx="484.20" cy="95.90" r="2.2" fill="url(#eball)" stroke="#6a4a00" stroke-width="0.3" />
<line x1="482.99" y1="95.9" x2="485.40999999999997" y2="95.9" stroke="#333" stroke-width="0.45" />
<circle cx="491.20" cy="95.90" r="2.2" fill="url(#eball)" stroke="#6a4a00" stroke-width="0.3" />
<line x1="489.99" y1="95.9" x2="492.40999999999997" y2="95.9" stroke="#333" stroke-width="0.45" />
<circle cx="498.20" cy="95.90" r="2.2" fill="url(#eball)" stroke="#6a4a00" stroke-width="0.3" />
<line x1="496.99" y1="95.9" x2="499.40999999999997" y2="95.9" stroke="#333" stroke-width="0.45" />
<circle cx="401.70" cy="141.20" r="2.0" fill="url(#hball)" stroke="none" stroke-width="0.3" />
<line x1="400.59999999999997" y1="141.2" x2="402.8" y2="141.2" stroke="#101a70" stroke-width="0.5" />
<line x1="401.7" y1="140.1" x2="401.7" y2="142.29999999999998" stroke="#101a70" stroke-width="0.5" />
<circle cx="408.24" cy="141.20" r="2.0" fill="url(#hball)" stroke="none" stroke-width="0.3" />
<line x1="407.1428571428571" y1="141.2" x2="409.34285714285716" y2="141.2" stroke="#101a70" stroke-width="0.5" />
<line x1="408.24285714285713" y1="140.1" x2="408.24285714285713" y2="142.29999999999998" stroke="#101a70" stroke-width="0.5" />
<circle cx="414.79" cy="141.20" r="2.0" fill="url(#hball)" stroke="none" stroke-width="0.3" />
<line x1="413.68571428571425" y1="141.2" x2="415.8857142857143" y2="141.2" stroke="#101a70" stroke-width="0.5" />
<line x1="414.7857142857143" y1="140.1" x2="414.7857142857143" y2="142.29999999999998" stroke="#101a70" stroke-width="0.5" />
<circle cx="421.33" cy="141.20" r="2.0" fill="url(#hball)" stroke="none" stroke-width="0.3" />
<line x1="420.2285714285714" y1="141.2" x2="422.42857142857144" y2="141.2" stroke="#101a70" stroke-width="0.5" />
<line x1="421.3285714285714" y1="140.1" x2="421.3285714285714" y2="142.29999999999998" stroke="#101a70" stroke-width="0.5" />
<circle cx="427.87" cy="141.20" r="2.0" fill="url(#hball)" stroke="none" stroke-width="0.3" />
<line x1="426.77142857142854" y1="141.2" x2="428.9714285714286" y2="141.2" stroke="#101a70" stroke-width="0.5" />
<line x1="427.87142857142857" y1="140.1" x2="427.87142857142857" y2="142.29999999999998" stroke="#101a70" stroke-width="0.5" />
<circle cx="434.41" cy="141.20" r="2.0" fill="url(#hball)" stroke="none" stroke-width="0.3" />
<line x1="433.3142857142857" y1="141.2" x2="435.51428571428573" y2="141.2" stroke="#101a70" stroke-width="0.5" />
<line x1="434.4142857142857" y1="140.1" x2="434.4142857142857" y2="142.29999999999998" stroke="#101a70" stroke-width="0.5" />
<circle cx="440.96" cy="141.20" r="2.0" fill="url(#hball)" stroke="none" stroke-width="0.3" />
<line x1="439.85714285714283" y1="141.2" x2="442.0571428571429" y2="141.2" stroke="#101a70" stroke-width="0.5" />
<line x1="440.95714285714286" y1="140.1" x2="440.95714285714286" y2="142.29999999999998" stroke="#101a70" stroke-width="0.5" />
<circle cx="447.50" cy="141.20" r="2.0" fill="url(#hball)" stroke="none" stroke-width="0.3" />
<line x1="446.4" y1="141.2" x2="448.6" y2="141.2" stroke="#101a70" stroke-width="0.5" />
<line x1="447.5" y1="140.1" x2="447.5" y2="142.29999999999998" stroke="#101a70" stroke-width="0.5" />
<circle cx="454.20" cy="136.20" r="2.0" fill="url(#hball)" stroke="none" stroke-width="0.3" />
<line x1="453.09999999999997" y1="136.2" x2="455.3" y2="136.2" stroke="#101a70" stroke-width="0.5" />
<line x1="454.2" y1="135.1" x2="454.2" y2="137.29999999999998" stroke="#101a70" stroke-width="0.5" />
<circle cx="459.30" cy="133.20" r="2.0" fill="url(#hball)" stroke="none" stroke-width="0.3" />
<line x1="458.2" y1="133.2" x2="460.40000000000003" y2="133.2" stroke="#101a70" stroke-width="0.5" />
<line x1="459.3" y1="132.1" x2="459.3" y2="134.29999999999998" stroke="#101a70" stroke-width="0.5" />
<circle cx="464.30" cy="132.80" r="2.0" fill="url(#hball)" stroke="none" stroke-width="0.3" />
<line x1="463.2" y1="132.8" x2="465.40000000000003" y2="132.8" stroke="#101a70" stroke-width="0.5" />
<line x1="464.3" y1="131.70000000000002" x2="464.3" y2="133.9" stroke="#101a70" stroke-width="0.5" />
<circle cx="468.82" cy="132.80" r="2.0" fill="url(#hball)" stroke="none" stroke-width="0.3" />
<line x1="467.72499999999997" y1="132.8" x2="469.925" y2="132.8" stroke="#101a70" stroke-width="0.5" />
<line x1="468.825" y1="131.70000000000002" x2="468.825" y2="133.9" stroke="#101a70" stroke-width="0.5" />
<circle cx="473.35" cy="132.80" r="2.0" fill="url(#hball)" stroke="none" stroke-width="0.3" />
<line x1="472.25" y1="132.8" x2="474.45000000000005" y2="132.8" stroke="#101a70" stroke-width="0.5" />
<line x1="473.35" y1="131.70000000000002" x2="473.35" y2="133.9" stroke="#101a70" stroke-width="0.5" />
<circle cx="477.88" cy="132.80" r="2.0" fill="url(#hball)" stroke="none" stroke-width="0.3" />
<line x1="476.775" y1="132.8" x2="478.975" y2="132.8" stroke="#101a70" stroke-width="0.5" />
<line x1="477.875" y1="131.70000000000002" x2="477.875" y2="133.9" stroke="#101a70" stroke-width="0.5" />
<circle cx="482.40" cy="132.80" r="2.0" fill="url(#hball)" stroke="none" stroke-width="0.3" />
<line x1="481.29999999999995" y1="132.8" x2="483.5" y2="132.8" stroke="#101a70" stroke-width="0.5" />
<line x1="482.4" y1="131.70000000000002" x2="482.4" y2="133.9" stroke="#101a70" stroke-width="0.5" />
<circle cx="486.93" cy="132.80" r="2.0" fill="url(#hball)" stroke="none" stroke-width="0.3" />
<line x1="485.825" y1="132.8" x2="488.02500000000003" y2="132.8" stroke="#101a70" stroke-width="0.5" />
<line x1="486.925" y1="131.70000000000002" x2="486.925" y2="133.9" stroke="#101a70" stroke-width="0.5" />
<circle cx="491.45" cy="132.80" r="2.0" fill="url(#hball)" stroke="none" stroke-width="0.3" />
<line x1="490.34999999999997" y1="132.8" x2="492.55" y2="132.8" stroke="#101a70" stroke-width="0.5" />
<line x1="491.45" y1="131.70000000000002" x2="491.45" y2="133.9" stroke="#101a70" stroke-width="0.5" />
<circle cx="495.98" cy="132.80" r="2.0" fill="url(#hball)" stroke="none" stroke-width="0.3" />
<line x1="494.875" y1="132.8" x2="497.07500000000005" y2="132.8" stroke="#101a70" stroke-width="0.5" />
<line x1="495.975" y1="131.70000000000002" x2="495.975" y2="133.9" stroke="#101a70" stroke-width="0.5" />
<circle cx="500.50" cy="132.80" r="2.0" fill="url(#hball)" stroke="none" stroke-width="0.3" />
<line x1="499.4" y1="132.8" x2="501.6" y2="132.8" stroke="#101a70" stroke-width="0.5" />
<line x1="500.5" y1="131.70000000000002" x2="500.5" y2="133.9" stroke="#101a70" stroke-width="0.5" />
<line x1="450" y1="94.8" x2="444.8871083171987" y2="100.59969802825226" stroke="#f02020" stroke-width="0.9" />
<path d="M443.30,102.40 L443.99,99.81 L445.79,101.39 Z" fill="#f02020" stroke="none" stroke-width="1" />
<line x1="455.5" y1="143.3" x2="461.18634620130445" y2="138.37183329220284" stroke="#f02020" stroke-width="0.9" />
<path d="M463.00,136.80 L461.97,139.28 L460.40,137.47 Z" fill="#f02020" stroke="none" stroke-width="1" />
<text x="391" y="113.2" font-size="6.0" font-weight="bold" font-family="'Liberation Serif', serif" fill="#111" stroke="#111" stroke-width="0.180" text-anchor="start"><tspan font-size="6.00" dy="0.00">E</tspan><tspan font-size="3.72" dy="1.50">C</tspan></text>
<text x="391" y="121.2" font-size="6.0" font-weight="bold" font-family="'Liberation Serif', serif" fill="#111" stroke="#111" stroke-width="0.180" text-anchor="start"><tspan font-size="6.00" dy="0.00">E</tspan><tspan font-size="3.72" dy="1.50">F</tspan></text>
<text x="391" y="139.2" font-size="6.0" font-weight="bold" font-family="'Liberation Serif', serif" fill="#111" stroke="#111" stroke-width="0.180" text-anchor="start"><tspan font-size="6.00" dy="0.00">E</tspan><tspan font-size="3.72" dy="1.50">V</tspan></text>
<text x="508.5" y="103.2" font-size="6.0" font-weight="bold" font-family="'Liberation Serif', serif" fill="#111" stroke="#111" stroke-width="0.180" text-anchor="start"><tspan font-size="6.00" dy="0.00">E</tspan><tspan font-size="3.72" dy="1.50">C</tspan></text>
<text x="508.5" y="131.2" font-size="6.0" font-weight="bold" font-family="'Liberation Serif', serif" fill="#111" stroke="#111" stroke-width="0.180" text-anchor="start"><tspan font-size="6.00" dy="0.00">E</tspan><tspan font-size="3.72" dy="1.50">v</tspan></text>
<line x1="409.2" y1="114.8" x2="409.2" y2="133.5" stroke="#222" stroke-width="0.7" stroke-dasharray="1.5 1"/>
<path d="M409.2,114.0 l-1.4,2.6 l2.8,0 z" fill="#111" stroke="none" stroke-width="1" />
<path d="M409.2,134.3 l-1.4,-2.6 l2.8,0 z" fill="#111" stroke="none" stroke-width="1" />
<line x1="482.4" y1="102" x2="482.4" y2="126.5" stroke="#222" stroke-width="0.7" stroke-dasharray="1.5 1"/>
<path d="M482.4,101.2 l-1.4,2.6 l2.8,0 z" fill="#111" stroke="none" stroke-width="1" />
<path d="M482.4,127.3 l-1.4,-2.6 l2.8,0 z" fill="#111" stroke="none" stroke-width="1" />
<text x="411" y="133.3" font-size="6.2" font-weight="bold" font-family="'Liberation Serif', serif" fill="#111" stroke="#111" stroke-width="0.186" text-anchor="start"><tspan font-size="6.20" dy="0.00">E</tspan><tspan font-size="3.84" dy="1.55">g</tspan><tspan font-size="6.20" dy="-1.55">=0.81 eV</tspan></text>
<text x="484" y="124.2" font-size="6.2" font-weight="bold" font-family="'Liberation Serif', serif" fill="#111" stroke="#111" stroke-width="0.186" text-anchor="start"><tspan font-size="6.20" dy="0.00">E</tspan><tspan font-size="3.84" dy="1.55">g</tspan><tspan font-size="6.20" dy="-1.55">=1.12 eV</tspan></text>
<text x="407.7" y="149.6" font-size="6.2" font-weight="bold" font-family="'Liberation Serif', serif" fill="#111" stroke="#111" stroke-width="0.186" text-anchor="start"><tspan font-size="6.20" dy="0.00">p-Nb</tspan><tspan font-size="3.84" dy="1.55">2</tspan><tspan font-size="6.20" dy="-1.55">CT</tspan><tspan font-size="3.84" dy="1.55">x</tspan></text>
<text x="474" y="149.6" font-size="6.2" font-weight="bold" font-family="'Liberation Serif', serif" fill="#111" stroke="#111" stroke-width="0.186" text-anchor="start"><tspan font-size="6.20" dy="0.00">n-MoSe</tspan><tspan font-size="3.84" dy="1.55">2</tspan></text>
<text x="436" y="161" font-size="6.4" font-weight="bold" font-family="'Liberation Serif', serif" fill="#111" stroke="#111" stroke-width="0.192" text-anchor="start" >After contact</text>
<text x="8.0" y="184" font-size="10.2" font-weight="bold" font-family="'Liberation Serif', serif" fill="#151515">(b<tspan font-size="6.3" dy="2.4">1</tspan><tspan dy="-2.4">)</tspan></text>
<clipPath id="cp1"><rect x="25" y="174" width="101" height="64.6"/></clipPath>
<g clip-path="url(#cp1)"><g filter="url(#grain)">
<rect x="25" y="174" width="101" height="64.6" fill="#0a0a0a" stroke="none" stroke-width="1" />
<ellipse cx="62.7" cy="234.5" rx="11" ry="7" fill="url(#semdim)" />
<ellipse cx="124.5" cy="225" rx="5.5" ry="10.5" fill="url(#semdim)" />
<ellipse cx="38.2" cy="217" rx="15" ry="15" fill="url(#semball)" opacity="0.85"/>
<ellipse cx="30" cy="176" rx="10" ry="7" fill="url(#semball)" />
<ellipse cx="39.5" cy="188" rx="15.5" ry="14.5" fill="url(#semball)" transform="rotate(-15 39.5 188)"/>
<ellipse cx="121.5" cy="186.5" rx="9" ry="12.5" fill="url(#semball)" />
<ellipse cx="91" cy="202.7" rx="10.4" ry="10.2" fill="url(#semball)" />
<ellipse cx="88.8" cy="186.5" rx="12.8" ry="12" fill="url(#semball)" />
<ellipse cx="69.8" cy="197.5" rx="12.8" ry="15.2" fill="url(#semball)" transform="rotate(10 69.8 197.5)"/>
<ellipse cx="75" cy="217.5" rx="18.4" ry="14" fill="url(#semball)" />
</g>
<rect x="109" y="233.5" width="12" height="1.8" fill="#fff" stroke="none" stroke-width="1" />
<text x="115" y="231.8" font-size="3.0" font-weight="bold" font-family="'Liberation Sans', sans-serif" fill="#fff" stroke="#fff" stroke-width="0.09" text-anchor="middle" >1 μm</text>
</g>
<clipPath id="cp2"><rect x="130.5" y="174" width="96.2" height="64.6"/></clipPath>
<clipPath id="cp2b"><polygon points="140.2,203.8 155.6,190.9 169.4,180.6 186.5,174.6 193.4,178.9 196.9,187.5 207.2,199.5 214,208.9 215.8,215 210.6,219.3 195.1,228.7 186.5,238.5 155.6,238.5 147,223.5 140.2,213.2"/></clipPath>
<g clip-path="url(#cp2)"><g filter="url(#grain2)">
<rect x="130.5" y="174" width="96.2" height="64.6" fill="#2e2e2e" stroke="none" stroke-width="1" />
<ellipse cx="221.5" cy="179.7" rx="4.2" ry="4.2" fill="#6a6a6a" />
<ellipse cx="217.2" cy="190.9" rx="5" ry="5" fill="#4a4a4a" />
<ellipse cx="224" cy="199" rx="3.5" ry="3.5" fill="#444" />
<ellipse cx="219.7" cy="223.5" rx="4.2" ry="4.2" fill="#686868" />
<ellipse cx="224.5" cy="231" rx="3" ry="3" fill="#555" />
<polygon points="140.2,203.8 155.6,190.9 169.4,180.6 186.5,174.6 193.4,178.9 196.9,187.5 207.2,199.5 214,208.9 215.8,215 210.6,219.3 195.1,228.7 186.5,238.5 155.6,238.5 147,223.5 140.2,213.2" fill="#939393"/>
<g clip-path="url(#cp2b)">
<path d="M136,188.0 C160,176.0 190,152.0 222,128.4" stroke="#5c5c5c" stroke-width="0.5" fill="none"/>
<path d="M136,189.6 C160,177.6 190,153.6 222,130.2" stroke="#646464" stroke-width="0.5" fill="none"/>
<path d="M136,191.2 C160,179.2 190,155.2 222,132.8" stroke="#bcbcbc" stroke-width="0.4" fill="none"/>
<path d="M136,192.8 C160,180.8 190,156.8 222,133.7" stroke="#b0b0b0" stroke-width="0.4" fill="none"/>
<path d="M136,194.4 C160,182.4 190,158.4 222,135.5" stroke="#c8c8c8" stroke-width="0.5" fill="none"/>
<path d="M136,196.0 C160,184.0 190,160.0 222,137.0" stroke="#5c5c5c" stroke-width="0.4" fill="none"/>
<path d="M136,197.6 C160,185.6 190,161.6 222,140.8" stroke="#bcbcbc" stroke-width="0.7" fill="none"/>
<path d="M136,199.2 C160,187.2 190,163.2 222,139.9" stroke="#b0b0b0" stroke-width="0.4" fill="none"/>
<path d="M136,200.8 C160,188.8 190,164.8 222,144.3" stroke="#b0b0b0" stroke-width="0.7" fill="none"/>
<path d="M136,202.4 C160,190.4 190,166.4 222,145.8" stroke="#b0b0b0" stroke-width="0.4" fill="none"/>
<path d="M136,204.0 C160,192.0 190,168.0 222,145.6" stroke="#b0b0b0" stroke-width="0.7" fill="none"/>
<path d="M136,205.6 C160,193.6 190,169.6 222,146.6" stroke="#5c5c5c" stroke-width="0.4" fill="none"/>
<path d="M136,207.2 C160,195.2 190,171.2 222,151.0" stroke="#b0b0b0" stroke-width="0.4" fill="none"/>
<path d="M136,208.8 C160,196.8 190,172.8 222,148.8" stroke="#c8c8c8" stroke-width="0.5" fill="none"/>
<path d="M136,210.4 C160,198.4 190,174.4 222,153.2" stroke="#b0b0b0" stroke-width="0.7" fill="none"/>
<path d="M136,212.0 C160,200.0 190,176.0 222,152.8" stroke="#b0b0b0" stroke-width="0.7" fill="none"/>
<path d="M136,213.6 C160,201.6 190,177.6 222,154.8" stroke="#646464" stroke-width="0.7" fill="none"/>
<path d="M136,215.2 C160,203.2 190,179.2 222,156.1" stroke="#646464" stroke-width="0.4" fill="none"/>
<path d="M136,216.8 C160,204.8 190,180.8 222,157.1" stroke="#b0b0b0" stroke-width="0.4" fill="none"/>
<path d="M136,218.4 C160,206.4 190,182.4 222,162.4" stroke="#646464" stroke-width="0.7" fill="none"/>
<path d="M136,220.0 C160,208.0 190,184.0 222,162.6" stroke="#c8c8c8" stroke-width="0.7" fill="none"/>
<path d="M136,221.6 C160,209.6 190,185.6 222,162.2" stroke="#707070" stroke-width="0.5" fill="none"/>
<path d="M136,223.2 C160,211.2 190,187.2 222,163.5" stroke="#707070" stroke-width="0.4" fill="none"/>
<path d="M136,224.8 C160,212.8 190,188.8 222,167.3" stroke="#5c5c5c" stroke-width="0.7" fill="none"/>
<path d="M136,226.4 C160,214.4 190,190.4 222,167.8" stroke="#b0b0b0" stroke-width="0.4" fill="none"/>
<path d="M136,228.0 C160,216.0 190,192.0 222,169.3" stroke="#707070" stroke-width="0.7" fill="none"/>
<path d="M136,229.6 C160,217.6 190,193.6 222,173.2" stroke="#c8c8c8" stroke-width="0.4" fill="none"/>
<path d="M136,231.2 C160,219.2 190,195.2 222,174.0" stroke="#bcbcbc" stroke-width="0.4" fill="none"/>
<path d="M136,232.8 C160,220.8 190,196.8 222,175.3" stroke="#b0b0b0" stroke-width="0.7" fill="none"/>
<path d="M136,234.4 C160,222.4 190,198.4 222,175.7" stroke="#5c5c5c" stroke-width="0.4" fill="none"/>
<path d="M136,236.0 C160,224.0 190,200.0 222,177.8" stroke="#5c5c5c" stroke-width="0.5" fill="none"/>
<path d="M136,237.6 C160,225.6 190,201.6 222,180.4" stroke="#bcbcbc" stroke-width="0.5" fill="none"/>
<path d="M136,239.2 C160,227.2 190,203.2 222,181.9" stroke="#b0b0b0" stroke-width="0.7" fill="none"/>
<path d="M136,240.8 C160,228.8 190,204.8 222,182.1" stroke="#b0b0b0" stroke-width="0.4" fill="none"/>
<path d="M136,242.4 C160,230.4 190,206.4 222,185.5" stroke="#b0b0b0" stroke-width="0.4" fill="none"/>
<path d="M136,244.0 C160,232.0 190,208.0 222,186.7" stroke="#646464" stroke-width="0.7" fill="none"/>
<path d="M136,245.6 C160,233.6 190,209.6 222,188.1" stroke="#bcbcbc" stroke-width="0.5" fill="none"/>
<path d="M136,247.2 C160,235.2 190,211.2 222,187.7" stroke="#646464" stroke-width="0.5" fill="none"/>
<path d="M136,248.8 C160,236.8 190,212.8 222,192.6" stroke="#646464" stroke-width="0.7" fill="none"/>
<path d="M136,250.4 C160,238.4 190,214.4 222,190.4" stroke="#b0b0b0" stroke-width="0.7" fill="none"/>
<path d="M136,252.0 C160,240.0 190,216.0 222,192.7" stroke="#bcbcbc" stroke-width="0.5" fill="none"/>
<path d="M136,253.6 C160,241.6 190,217.6 222,195.9" stroke="#b0b0b0" stroke-width="0.5" fill="none"/>
<path d="M136,255.2 C160,243.2 190,219.2 222,196.9" stroke="#646464" stroke-width="0.4" fill="none"/>
<path d="M136,256.8 C160,244.8 190,220.8 222,197.0" stroke="#5c5c5c" stroke-width="0.4" fill="none"/>
<path d="M136,258.4 C160,246.4 190,222.4 222,199.1" stroke="#bcbcbc" stroke-width="0.7" fill="none"/>
<path d="M136,260.0 C160,248.0 190,224.0 222,202.4" stroke="#707070" stroke-width="0.4" fill="none"/>
<path d="M136,261.6 C160,249.6 190,225.6 222,203.9" stroke="#c8c8c8" stroke-width="0.5" fill="none"/>
<path d="M136,263.2 C160,251.2 190,227.2 222,203.7" stroke="#b0b0b0" stroke-width="0.4" fill="none"/>
<path d="M136,264.8 C160,252.8 190,228.8 222,207.9" stroke="#c8c8c8" stroke-width="0.5" fill="none"/>
<path d="M136,266.4 C160,254.4 190,230.4 222,210.4" stroke="#646464" stroke-width="0.7" fill="none"/>
<path d="M136,268.0 C160,256.0 190,232.0 222,209.0" stroke="#646464" stroke-width="0.4" fill="none"/>
<path d="M136,269.6 C160,257.6 190,233.6 222,209.7" stroke="#646464" stroke-width="0.5" fill="none"/>
<path d="M136,271.2 C160,259.2 190,235.2 222,212.2" stroke="#646464" stroke-width="0.5" fill="none"/>
<path d="M136,272.8 C160,260.8 190,236.8 222,214.8" stroke="#646464" stroke-width="0.4" fill="none"/>
<path d="M136,274.4 C160,262.4 190,238.4 222,215.4" stroke="#bcbcbc" stroke-width="0.4" fill="none"/>
<path d="M136,276.0 C160,264.0 190,240.0 222,216.8" stroke="#5c5c5c" stroke-width="0.7" fill="none"/>
<path d="M136,277.6 C160,265.6 190,241.6 222,221.1" stroke="#5c5c5c" stroke-width="0.5" fill="none"/>
<path d="M136,279.2 C160,267.2 190,243.2 222,219.4" stroke="#5c5c5c" stroke-width="0.5" fill="none"/>
<path d="M136,280.8 C160,268.8 190,244.8 222,221.3" stroke="#b0b0b0" stroke-width="0.7" fill="none"/>
<path d="M136,282.4 C160,270.4 190,246.4 222,226.3" stroke="#c8c8c8" stroke-width="0.5" fill="none"/>
<path d="M169,185 C172,190 175,195 178.8,196 C184,196 189,191 196,188" stroke="#454545" stroke-width="1.4" fill="none"/>
<path d="M162,200 C168,198 174,197 178.8,196" stroke="#555" stroke-width="1.0" fill="none"/>
<polygon points="180,200 212,206.3 215.5,214 206.9,223.5 194.9,233.7 186.3,239 172,239" fill="#fff" opacity="0.08"/>
</g>
<polygon points="146,214 152,210 158,211.5 165,216 161,222 153,224 147,221" fill="#c8c8c8"/>
<polygon points="167,191 171,189 173,194 169,197" fill="#b8b8b8"/>
</g>
<rect x="214" y="234" width="9.5" height="1.8" fill="#fff" stroke="none" stroke-width="1" />
<text x="219" y="232.3" font-size="3.0" font-weight="bold" font-family="'Liberation Sans', sans-serif" fill="#fff" stroke="#fff" stroke-width="0.09" text-anchor="middle" >1 μm</text>
</g>
<clipPath id="cp3"><rect x="25" y="241" width="101" height="62"/></clipPath>
<clipPath id="cp3b"><path d="M48,240 L121.5,240 C122.5,250 121,262 120,270 C119,282 117,293 113,304 L42,304 C36,298 34,292 33.5,285 C33,278 34,270 38,262 C41,255 44,248 48,240 Z"/></clipPath>
<g clip-path="url(#cp3)"><g filter="url(#grain2)">
<rect x="25" y="241" width="101" height="62" fill="#060606" stroke="none" stroke-width="1" />
<rect x="121" y="240" width="6" height="12" fill="#555" stroke="none" stroke-width="1" />
<g clip-path="url(#cp3b)">
<rect x="30" y="240" width="95" height="65" fill="#6c6c6c" stroke="none" stroke-width="1" />
<ellipse cx="55" cy="278" rx="20" ry="22" fill="#787878" opacity="0.7"/>
<ellipse cx="104" cy="258" rx="17" ry="16" fill="#7e7e7e" opacity="0.7"/>
<path d="M88,240 C84,250 80,258 78,268 C76,276 74,282 70,290" stroke="#2a2a2a" stroke-width="9" fill="none" opacity="0.45" stroke-linecap="round"/>
<ellipse cx="66" cy="292" rx="12" ry="8" fill="#404040" opacity="0.4"/>
<path d="M72.5,275.8 q2.2,-1.5 2.8,-1.5" stroke="#3a3a3a" stroke-width="0.55" fill="none"/>
<path d="M110.4,252.2 q1.3,-2.3 1.1,-3.0" stroke="#3a3a3a" stroke-width="0.55" fill="none"/>
<path d="M104.5,246.0 q0.4,0.3 -0.7,2.1" stroke="#343434" stroke-width="0.55" fill="none"/>
<path d="M89.6,278.1 q-0.4,0.2 -2.5,1.9" stroke="#343434" stroke-width="0.55" fill="none"/>
<path d="M87.9,250.1 q2.5,-0.6 3.3,0.3" stroke="#d0d0d0" stroke-width="0.55" fill="none"/>
<path d="M33.4,296.3 q-0.8,-2.0 -3.2,-2.3" stroke="#dcdcdc" stroke-width="0.55" fill="none"/>
<path d="M71.4,293.9 q-1.0,-1.0 -3.6,-0.4" stroke="#a4a4a4" stroke-width="0.55" fill="none"/>
<path d="M30.4,245.4 q-0.0,-2.0 -1.7,-2.5" stroke="#3a3a3a" stroke-width="0.55" fill="none"/>
<path d="M123.6,293.8 q0.4,-2.1 -0.7,-2.7" stroke="#b8b8b8" stroke-width="0.55" fill="none"/>
<path d="M78.2,241.9 q-0.2,-1.2 -2.1,-0.9" stroke="#d0d0d0" stroke-width="0.55" fill="none"/>
<path d="M109.6,264.7 q2.8,-1.3 4.0,-1.1" stroke="#d0d0d0" stroke-width="0.55" fill="none"/>
<path d="M50.1,299.3 q2.2,-0.3 2.8,0.9" stroke="#343434" stroke-width="0.55" fill="none"/>
<path d="M67.4,244.7 q-0.6,-2.2 -2.7,-2.9" stroke="#dcdcdc" stroke-width="0.55" fill="none"/>
<path d="M61.7,259.9 q2.3,-0.7 3.0,0.3" stroke="#d0d0d0" stroke-width="0.55" fill="none"/>
<path d="M42.7,285.2 q2.4,-0.7 3.2,0.2" stroke="#a4a4a4" stroke-width="0.55" fill="none"/>
<path d="M46.7,275.8 q-0.4,-0.4 -2.3,0.8" stroke="#343434" stroke-width="0.55" fill="none"/>
<path d="M102.3,266.8 q-0.3,0.2 -2.2,2.0" stroke="#b8b8b8" stroke-width="0.55" fill="none"/>
<path d="M30.0,295.3 q2.5,-1.1 3.4,-0.5" stroke="#d0d0d0" stroke-width="0.55" fill="none"/>
<path d="M49.8,265.2 q1.9,-2.2 2.2,-2.9" stroke="#d0d0d0" stroke-width="0.55" fill="none"/>
<path d="M34.0,249.4 q-0.1,-0.4 -1.9,0.7" stroke="#3a3a3a" stroke-width="0.55" fill="none"/>
<path d="M60.9,259.0 q1.8,-0.3 2.0,1.0" stroke="#3a3a3a" stroke-width="0.55" fill="none"/>
<path d="M89.8,241.0 q-0.4,0.5 -2.4,2.6" stroke="#b8b8b8" stroke-width="0.55" fill="none"/>
<path d="M120.2,271.0 q-1.1,-1.7 -3.7,-1.9" stroke="#b8b8b8" stroke-width="0.55" fill="none"/>
<path d="M89.0,259.9 q1.0,0.9 0.5,3.5" stroke="#343434" stroke-width="0.55" fill="none"/>
<path d="M47.8,287.3 q2.0,-1.3 2.3,-0.9" stroke="#a4a4a4" stroke-width="0.55" fill="none"/>
<path d="M112.9,278.6 q-0.2,-0.3 -2.0,1.1" stroke="#d0d0d0" stroke-width="0.55" fill="none"/>
<path d="M78.2,256.3 q0.7,-2.3 -0.2,-3.0" stroke="#a4a4a4" stroke-width="0.55" fill="none"/>
<path d="M107.4,278.2 q0.5,0.4 -0.7,2.3" stroke="#343434" stroke-width="0.55" fill="none"/>
<path d="M121.9,248.1 q-1.0,-0.6 -3.6,0.5" stroke="#3a3a3a" stroke-width="0.55" fill="none"/>
<path d="M87.7,257.9 q1.9,-1.4 2.2,-1.2" stroke="#d0d0d0" stroke-width="0.55" fill="none"/>
<path d="M36.5,266.3 q0.8,0.3 0.0,2.1" stroke="#dcdcdc" stroke-width="0.55" fill="none"/>
<path d="M64.7,276.6 q1.8,0.3 2.0,2.1" stroke="#a4a4a4" stroke-width="0.55" fill="none"/>
<path d="M122.2,282.0 q0.2,-2.4 -1.2,-3.2" stroke="#b8b8b8" stroke-width="0.55" fill="none"/>
<path d="M85.4,299.1 q-0.6,-0.6 -2.9,0.5" stroke="#dcdcdc" stroke-width="0.55" fill="none"/>
<path d="M120.5,241.4 q-0.3,-2.0 -2.1,-2.4" stroke="#343434" stroke-width="0.55" fill="none"/>
<path d="M59.2,248.7 q2.2,-0.1 2.8,1.4" stroke="#dcdcdc" stroke-width="0.55" fill="none"/>
<path d="M99.3,297.6 q0.6,-2.7 -0.3,-3.7" stroke="#dcdcdc" stroke-width="0.55" fill="none"/>
<path d="M63.1,283.8 q2.5,-2.0 3.4,-2.4" stroke="#a4a4a4" stroke-width="0.55" fill="none"/>
<path d="M118.8,241.9 q-0.2,-0.8 -2.0,0.0" stroke="#343434" stroke-width="0.55" fill="none"/>
<path d="M65.9,277.3 q-0.1,-1.5 -1.7,-1.4" stroke="#343434" stroke-width="0.55" fill="none"/>
<path d="M40.9,256.5 q-0.4,-0.1 -2.4,1.4" stroke="#343434" stroke-width="0.55" fill="none"/>
<path d="M95.3,269.3 q-0.8,-0.4 -3.3,0.8" stroke="#3a3a3a" stroke-width="0.55" fill="none"/>
<path d="M100.5,241.9 q-0.5,-1.8 -2.6,-1.9" stroke="#b8b8b8" stroke-width="0.55" fill="none"/>
<path d="M120.0,247.2 q1.1,-2.6 0.7,-3.6" stroke="#a4a4a4" stroke-width="0.55" fill="none"/>
<path d="M54.0,240.7 q0.2,1.0 -1.2,3.5" stroke="#b8b8b8" stroke-width="0.55" fill="none"/>
<path d="M78.7,288.2 q-0.4,1.0 -2.4,3.6" stroke="#a4a4a4" stroke-width="0.55" fill="none"/>
<path d="M113.8,260.9 q0.2,-1.9 -1.3,-2.2" stroke="#a4a4a4" stroke-width="0.55" fill="none"/>
<path d="M105.5,288.3 q1.2,0.4 0.8,2.4" stroke="#b8b8b8" stroke-width="0.55" fill="none"/>
<path d="M84.8,260.3 q1.9,0.4 2.1,2.4" stroke="#d0d0d0" stroke-width="0.55" fill="none"/>
<path d="M96.9,300.8 q0.6,0.4 -0.4,2.4" stroke="#a4a4a4" stroke-width="0.55" fill="none"/>
<path d="M74.3,299.2 q1.5,-2.1 1.4,-2.6" stroke="#3a3a3a" stroke-width="0.55" fill="none"/>
<path d="M76.4,260.2 q2.0,-2.7 2.4,-3.8" stroke="#a4a4a4" stroke-width="0.55" fill="none"/>
<path d="M60.1,293.0 q0.5,0.9 -0.6,3.5" stroke="#343434" stroke-width="0.55" fill="none"/>
<path d="M96.6,276.5 q0.1,1.1 -1.4,3.7" stroke="#d0d0d0" stroke-width="0.55" fill="none"/>
<path d="M90.3,265.9 q1.5,1.0 1.4,3.6" stroke="#dcdcdc" stroke-width="0.55" fill="none"/>
<path d="M52.3,249.0 q2.5,-0.3 3.4,1.0" stroke="#a4a4a4" stroke-width="0.55" fill="none"/>
<path d="M40.2,274.3 q-0.1,-1.9 -1.9,-2.3" stroke="#d0d0d0" stroke-width="0.55" fill="none"/>
<path d="M94.3,252.8 q-0.4,-0.6 -2.4,0.4" stroke="#d0d0d0" stroke-width="0.55" fill="none"/>
<path d="M101.0,274.2 q2.1,-0.5 2.5,0.6" stroke="#dcdcdc" stroke-width="0.55" fill="none"/>
<path d="M80.7,300.6 q-1.4,-0.8 -4.5,-0.0" stroke="#b8b8b8" stroke-width="0.55" fill="none"/>
<path d="M67.0,290.7 q1.7,-1.4 1.8,-1.2" stroke="#343434" stroke-width="0.55" fill="none"/>
<path d="M66.5,268.8 q1.5,1.2 1.4,4.0" stroke="#d0d0d0" stroke-width="0.55" fill="none"/>
<path d="M65.4,276.4 q2.2,-2.2 2.9,-2.7" stroke="#dcdcdc" stroke-width="0.55" fill="none"/>
<path d="M73.6,281.7 q1.3,1.0 1.1,3.7" stroke="#343434" stroke-width="0.55" fill="none"/>
<path d="M116.9,247.9 q0.9,0.7 0.1,3.0" stroke="#d0d0d0" stroke-width="0.55" fill="none"/>
<path d="M121.9,274.4 q1.2,-2.2 0.7,-2.7" stroke="#343434" stroke-width="0.55" fill="none"/>
<path d="M110.4,262.3 q2.1,-0.0 2.7,1.5" stroke="#3a3a3a" stroke-width="0.55" fill="none"/>
<path d="M69.6,257.6 q1.9,-1.4 2.2,-1.2" stroke="#d0d0d0" stroke-width="0.55" fill="none"/>
<path d="M70.3,242.2 q-1.0,-1.2 -3.6,-0.8" stroke="#b8b8b8" stroke-width="0.55" fill="none"/>
<path d="M74.2,304.0 q2.1,-1.8 2.7,-1.9" stroke="#343434" stroke-width="0.55" fill="none"/>
<path d="M94.8,300.5 q-1.4,-0.7 -4.4,0.2" stroke="#d0d0d0" stroke-width="0.55" fill="none"/>
<path d="M101.2,268.1 q-1.1,-1.5 -3.8,-1.5" stroke="#3a3a3a" stroke-width="0.55" fill="none"/>
<path d="M90.1,273.5 q1.7,-2.2 1.9,-2.8" stroke="#dcdcdc" stroke-width="0.55" fill="none"/>
<path d="M93.1,301.1 q2.0,-2.1 2.4,-2.6" stroke="#dcdcdc" stroke-width="0.55" fill="none"/>
<path d="M110.0,302.0 q-0.9,-1.1 -3.4,-0.5" stroke="#b8b8b8" stroke-width="0.55" fill="none"/>
<path d="M68.6,247.3 q2.3,-0.8 2.9,0.1" stroke="#3a3a3a" stroke-width="0.55" fill="none"/>
<path d="M121.1,273.0 q-0.8,0.4 -3.2,2.3" stroke="#3a3a3a" stroke-width="0.55" fill="none"/>
<path d="M41.5,246.0 q1.9,1.1 2.2,3.7" stroke="#a4a4a4" stroke-width="0.55" fill="none"/>
<path d="M68.9,301.2 q2.0,-1.4 2.4,-1.2" stroke="#a4a4a4" stroke-width="0.55" fill="none"/>
<path d="M76.3,261.7 q2.6,-2.1 3.5,-2.5" stroke="#a4a4a4" stroke-width="0.55" fill="none"/>
<path d="M79.3,247.0 q-0.1,-0.3 -1.8,1.0" stroke="#dcdcdc" stroke-width="0.55" fill="none"/>
<path d="M42.2,289.9 q2.0,-0.6 2.5,0.4" stroke="#b8b8b8" stroke-width="0.55" fill="none"/>
<path d="M31.1,258.2 q0.6,-2.1 -0.4,-2.6" stroke="#a4a4a4" stroke-width="0.55" fill="none"/>
<path d="M39.9,286.8 q2.0,0.3 2.3,2.3" stroke="#dcdcdc" stroke-width="0.55" fill="none"/>
<path d="M97.5,284.9 q1.5,-1.5 1.5,-1.4" stroke="#343434" stroke-width="0.55" fill="none"/>
<path d="M68.9,273.9 q1.5,0.3 1.3,2.1" stroke="#343434" stroke-width="0.55" fill="none"/>
<path d="M80.2,254.0 q1.2,0.8 0.7,3.3" stroke="#3a3a3a" stroke-width="0.55" fill="none"/>
<path d="M110.5,254.9 q0.7,-2.8 -0.2,-4.0" stroke="#b8b8b8" stroke-width="0.55" fill="none"/>
<path d="M59.7,260.2 q1.9,-1.4 2.3,-1.2" stroke="#b8b8b8" stroke-width="0.55" fill="none"/>
<path d="M113.4,248.6 q0.9,1.1 0.3,3.8" stroke="#dcdcdc" stroke-width="0.55" fill="none"/>
<path d="M66.5,267.8 q2.4,-1.4 3.1,-1.2" stroke="#343434" stroke-width="0.55" fill="none"/>
<path d="M41.8,265.8 q0.4,-1.7 -0.8,-1.9" stroke="#b8b8b8" stroke-width="0.55" fill="none"/>
<path d="M83.6,262.9 q1.4,-2.1 1.3,-2.6" stroke="#343434" stroke-width="0.55" fill="none"/>
<path d="M77.5,288.5 q-1.1,-0.8 -3.7,-0.1" stroke="#b8b8b8" stroke-width="0.55" fill="none"/>
<path d="M105.5,270.9 q2.7,-0.5 3.9,0.6" stroke="#3a3a3a" stroke-width="0.55" fill="none"/>
<path d="M78.4,276.4 q1.5,0.2 1.5,2.0" stroke="#b8b8b8" stroke-width="0.55" fill="none"/>
<path d="M46.2,250.1 q0.4,1.0 -0.8,3.6" stroke="#3a3a3a" stroke-width="0.55" fill="none"/>
<path d="M35.8,300.9 q-1.1,-0.3 -3.8,0.9" stroke="#dcdcdc" stroke-width="0.55" fill="none"/>
<path d="M66.7,267.3 q0.0,0.2 -1.5,2.0" stroke="#dcdcdc" stroke-width="0.55" fill="none"/>
<path d="M31.2,284.9 q1.5,-1.8 1.4,-2.0" stroke="#a4a4a4" stroke-width="0.55" fill="none"/>
<path d="M63.8,263.7 q2.3,-1.6 3.1,-1.7" stroke="#d0d0d0" stroke-width="0.55" fill="none"/>
<path d="M78.2,241.0 q2.4,-2.0 3.1,-2.5" stroke="#343434" stroke-width="0.55" fill="none"/>
<path d="M112.3,298.2 q2.4,-1.4 3.2,-1.3" stroke="#b8b8b8" stroke-width="0.55" fill="none"/>
<path d="M77.4,302.9 q1.2,-2.0 0.9,-2.5" stroke="#d0d0d0" stroke-width="0.55" fill="none"/>
<path d="M100.0,289.8 q1.4,-2.2 1.2,-2.8" stroke="#dcdcdc" stroke-width="0.55" fill="none"/>
<path d="M112.7,284.5 q1.0,-2.7 0.4,-3.9" stroke="#a4a4a4" stroke-width="0.55" fill="none"/>
<path d="M49.4,251.8 q1.2,-2.1 0.8,-2.6" stroke="#d0d0d0" stroke-width="0.55" fill="none"/>
<path d="M31.0,262.8 q-0.3,-2.2 -2.3,-2.7" stroke="#b8b8b8" stroke-width="0.55" fill="none"/>
<path d="M55.7,301.5 q0.4,0.4 -0.8,2.4" stroke="#a4a4a4" stroke-width="0.55" fill="none"/>
<path d="M83.5,274.1 q-0.9,0.6 -3.5,2.9" stroke="#343434" stroke-width="0.55" fill="none"/>
<path d="M50.0,247.7 q-0.6,0.3 -2.7,2.1" stroke="#d0d0d0" stroke-width="0.55" fill="none"/>
<path d="M87.8,287.3 q0.7,0.7 -0.1,3.0" stroke="#d0d0d0" stroke-width="0.55" fill="none"/>
<path d="M101.6,281.5 q2.1,-0.7 2.6,0.2" stroke="#dcdcdc" stroke-width="0.55" fill="none"/>
<path d="M115.1,275.2 q-1.4,-0.9 -4.4,-0.2" stroke="#3a3a3a" stroke-width="0.55" fill="none"/>
<path d="M109.6,246.4 q-0.9,-0.2 -3.4,1.2" stroke="#3a3a3a" stroke-width="0.55" fill="none"/>
<path d="M86.2,288.6 q2.9,-0.2 4.2,1.2" stroke="#b8b8b8" stroke-width="0.55" fill="none"/>
<path d="M66.3,302.1 q1.8,-2.1 2.1,-2.6" stroke="#3a3a3a" stroke-width="0.55" fill="none"/>
<path d="M35.5,300.5 q-0.7,-0.0 -2.9,1.6" stroke="#3a3a3a" stroke-width="0.55" fill="none"/>
<path d="M59.4,273.9 q-0.5,-0.7 -2.7,0.3" stroke="#dcdcdc" stroke-width="0.55" fill="none"/>
<path d="M92.4,287.9 q2.7,-0.5 3.9,0.7" stroke="#3a3a3a" stroke-width="0.55" fill="none"/>
<path d="M34.0,250.0 q0.8,-2.3 0.1,-3.0" stroke="#dcdcdc" stroke-width="0.55" fill="none"/>
<path d="M100.3,243.2 q3.0,-1.0 4.4,-0.3" stroke="#d0d0d0" stroke-width="0.55" fill="none"/>
<path d="M105.0,254.3 q0.5,-2.1 -0.5,-2.6" stroke="#b8b8b8" stroke-width="0.55" fill="none"/>
<path d="M34.3,246.3 q1.6,-2.8 1.6,-4.0" stroke="#b8b8b8" stroke-width="0.55" fill="none"/>
<path d="M122.0,292.3 q-0.1,-1.5 -1.8,-1.4" stroke="#3a3a3a" stroke-width="0.55" fill="none"/>
<path d="M69.2,247.5 q1.7,-1.9 1.9,-2.2" stroke="#b8b8b8" stroke-width="0.55" fill="none"/>
<path d="M41.7,268.3 q0.0,-2.2 -1.5,-2.7" stroke="#dcdcdc" stroke-width="0.55" fill="none"/>
<path d="M90.1,283.6 q-0.5,0.7 -2.5,2.9" stroke="#b8b8b8" stroke-width="0.55" fill="none"/>
<path d="M119.5,287.0 q0.9,0.3 0.2,2.3" stroke="#dcdcdc" stroke-width="0.55" fill="none"/>
<path d="M103.7,280.0 q-0.0,0.2 -1.7,2.1" stroke="#343434" stroke-width="0.55" fill="none"/>
<path d="M98.2,284.7 q1.3,0.5 1.0,2.5" stroke="#b8b8b8" stroke-width="0.55" fill="none"/>
<path d="M47.8,255.9 q2.9,-1.1 4.3,-0.5" stroke="#343434" stroke-width="0.55" fill="none"/>
<path d="M33.7,243.9 q0.6,0.7 -0.4,3.0" stroke="#3a3a3a" stroke-width="0.55" fill="none"/>
<path d="M33.6,254.2 q0.5,1.1 -0.7,3.8" stroke="#343434" stroke-width="0.55" fill="none"/>
<path d="M45.1,255.0 q2.4,-1.0 3.2,-0.4" stroke="#dcdcdc" stroke-width="0.55" fill="none"/>
<path d="M49.8,262.0 q0.7,-2.8 -0.1,-4.1" stroke="#d0d0d0" stroke-width="0.55" fill="none"/>
<path d="M105.4,268.6 q1.7,-2.6 1.8,-3.7" stroke="#b8b8b8" stroke-width="0.55" fill="none"/>
<path d="M71.8,287.8 q-0.1,-0.0 -1.8,1.5" stroke="#b8b8b8" stroke-width="0.55" fill="none"/>
<path d="M91.4,303.3 q0.0,0.7 -1.5,3.0" stroke="#343434" stroke-width="0.55" fill="none"/>
<path d="M107.7,251.8 q-0.2,-2.2 -2.0,-2.8" stroke="#a4a4a4" stroke-width="0.55" fill="none"/>
<path d="M112.3,245.0 q2.3,0.0 3.0,1.7" stroke="#a4a4a4" stroke-width="0.55" fill="none"/>
<path d="M106.6,269.7 q1.3,-1.7 0.9,-1.8" stroke="#dcdcdc" stroke-width="0.55" fill="none"/>
<path d="M50.0,282.4 q2.0,-0.1 2.4,1.4" stroke="#343434" stroke-width="0.55" fill="none"/>
<path d="M101.8,261.0 q1.7,-1.7 1.9,-1.7" stroke="#343434" stroke-width="0.55" fill="none"/>
<path d="M98.2,263.4 q2.2,0.5 2.8,2.5" stroke="#3a3a3a" stroke-width="0.55" fill="none"/>
<path d="M85.9,297.8 q0.3,-2.0 -1.0,-2.5" stroke="#3a3a3a" stroke-width="0.55" fill="none"/>
<path d="M105.5,259.5 q0.2,0.6 -1.2,2.7" stroke="#343434" stroke-width="0.55" fill="none"/>
<path d="M114.1,255.9 q-0.1,0.3 -1.9,2.2" stroke="#dcdcdc" stroke-width="0.55" fill="none"/>
<path d="M93.6,277.4 q1.3,-2.6 1.1,-3.7" stroke="#dcdcdc" stroke-width="0.55" fill="none"/>
<path d="M104.9,274.6 q1.7,-2.3 1.8,-2.9" stroke="#b8b8b8" stroke-width="0.55" fill="none"/>
<path d="M38.4,269.1 q2.0,-2.4 2.5,-3.2" stroke="#b8b8b8" stroke-width="0.55" fill="none"/>
<path d="M78.5,274.8 q-1.2,-1.7 -4.0,-1.8" stroke="#343434" stroke-width="0.55" fill="none"/>
<path d="M109.1,267.1 q-0.4,-1.5 -2.4,-1.4" stroke="#3a3a3a" stroke-width="0.55" fill="none"/>
<path d="M37.9,245.2 q0.6,-2.9 -0.3,-4.2" stroke="#d0d0d0" stroke-width="0.55" fill="none"/>
<path d="M32.4,281.8 q2.5,0.4 3.3,2.3" stroke="#a4a4a4" stroke-width="0.55" fill="none"/>
<path d="M53.1,254.1 q1.0,-2.4 0.3,-3.3" stroke="#a4a4a4" stroke-width="0.55" fill="none"/>
<path d="M67.1,261.6 q2.6,-1.2 3.6,-0.7" stroke="#a4a4a4" stroke-width="0.55" fill="none"/>
<path d="M75.9,291.5 q2.4,-0.0 3.2,1.6" stroke="#d0d0d0" stroke-width="0.55" fill="none"/>
<path d="M68.6,292.9 q-0.2,-2.6 -2.1,-3.6" stroke="#a4a4a4" stroke-width="0.55" fill="none"/>
<path d="M108.4,296.9 q2.5,-1.3 3.5,-0.9" stroke="#3a3a3a" stroke-width="0.55" fill="none"/>
<path d="M64.0,240.6 q2.5,0.6 3.3,2.7" stroke="#b8b8b8" stroke-width="0.55" fill="none"/>
<path d="M53.1,250.4 q-0.4,-2.2 -2.5,-2.8" stroke="#dcdcdc" stroke-width="0.55" fill="none"/>
<path d="M49.2,267.2 q0.2,1.3 -1.2,4.3" stroke="#d0d0d0" stroke-width="0.55" fill="none"/>
<path d="M74.3,286.8 q0.4,0.3 -0.8,2.3" stroke="#b8b8b8" stroke-width="0.55" fill="none"/>
<path d="M115.7,288.2 q2.4,-0.6 3.2,0.3" stroke="#d0d0d0" stroke-width="0.55" fill="none"/>
<path d="M59.4,252.6 q-0.3,0.5 -2.2,2.7" stroke="#3a3a3a" stroke-width="0.55" fill="none"/>
<path d="M97.4,278.1 q1.0,0.4 0.4,2.4" stroke="#dcdcdc" stroke-width="0.55" fill="none"/>
<path d="M67.8,298.3 q2.4,-1.5 3.3,-1.4" stroke="#3a3a3a" stroke-width="0.55" fill="none"/>
<path d="M75.1,256.7 q2.4,-2.2 3.3,-2.8" stroke="#dcdcdc" stroke-width="0.55" fill="none"/>
<path d="M92.1,289.4 q2.5,0.3 3.5,2.3" stroke="#a4a4a4" stroke-width="0.55" fill="none"/>
<path d="M34.7,300.6 q1.3,-2.2 0.9,-2.8" stroke="#3a3a3a" stroke-width="0.55" fill="none"/>
<path d="M104.7,289.5 q1.1,-1.8 0.5,-2.1" stroke="#b8b8b8" stroke-width="0.55" fill="none"/>
<path d="M113.9,295.9 q2.1,-1.7 2.6,-1.8" stroke="#b8b8b8" stroke-width="0.55" fill="none"/>
<path d="M97.0,278.8 q1.5,0.2 1.3,2.0" stroke="#dcdcdc" stroke-width="0.55" fill="none"/>
<path d="M43.6,298.1 q1.2,-1.9 0.9,-2.2" stroke="#343434" stroke-width="0.55" fill="none"/>
<path d="M123.4,257.1 q-0.4,-1.1 -2.3,-0.5" stroke="#b8b8b8" stroke-width="0.55" fill="none"/>
<path d="M30.1,292.6 q2.0,-2.5 2.3,-3.3" stroke="#d0d0d0" stroke-width="0.55" fill="none"/>
<path d="M63.1,279.4 q-1.3,-1.2 -4.2,-0.7" stroke="#343434" stroke-width="0.55" fill="none"/>
<path d="M74.1,301.2 q-1.0,-1.9 -3.5,-2.1" stroke="#dcdcdc" stroke-width="0.55" fill="none"/>
<path d="M31.8,252.0 q1.4,0.9 1.3,3.5" stroke="#a4a4a4" stroke-width="0.55" fill="none"/>
<path d="M49.6,274.8 q-0.4,-1.0 -2.4,-0.4" stroke="#dcdcdc" stroke-width="0.55" fill="none"/>
<path d="M59.7,265.9 q-1.3,-1.6 -4.2,-1.6" stroke="#343434" stroke-width="0.55" fill="none"/>
<path d="M97.2,263.0 q0.4,-1.8 -0.9,-2.1" stroke="#a4a4a4" stroke-width="0.55" fill="none"/>
<path d="M93.5,287.8 q1.0,-1.9 0.5,-2.3" stroke="#a4a4a4" stroke-width="0.55" fill="none"/>
<path d="M31.2,264.1 q0.5,-2.1 -0.6,-2.5" stroke="#3a3a3a" stroke-width="0.55" fill="none"/>
<path d="M40.7,289.4 q2.1,-2.4 2.5,-3.2" stroke="#343434" stroke-width="0.55" fill="none"/>
<path d="M49.4,279.4 q0.4,0.6 -0.7,2.8" stroke="#3a3a3a" stroke-width="0.55" fill="none"/>
<path d="M100.5,301.1 q0.9,-2.5 0.1,-3.4" stroke="#d0d0d0" stroke-width="0.55" fill="none"/>
<path d="M54.1,252.8 q0.6,-2.2 -0.3,-2.8" stroke="#dcdcdc" stroke-width="0.55" fill="none"/>
<path d="M82.9,286.3 q-0.2,1.0 -2.0,3.5" stroke="#d0d0d0" stroke-width="0.55" fill="none"/>
<path d="M39.6,279.8 q2.0,0.5 2.4,2.6" stroke="#b8b8b8" stroke-width="0.55" fill="none"/>
<path d="M46.9,265.7 q1.7,-2.3 1.8,-3.0" stroke="#d0d0d0" stroke-width="0.55" fill="none"/>
<path d="M39.4,242.1 q2.3,-0.9 3.1,-0.2" stroke="#d0d0d0" stroke-width="0.55" fill="none"/>
<path d="M62.1,292.7 q1.9,-1.3 2.1,-1.0" stroke="#b8b8b8" stroke-width="0.55" fill="none"/>
<path d="M102.1,292.6 q-0.3,0.1 -2.1,1.9" stroke="#a4a4a4" stroke-width="0.55" fill="none"/>
<path d="M88.6,286.5 q-0.3,-1.7 -2.1,-1.8" stroke="#b8b8b8" stroke-width="0.55" fill="none"/>
<path d="M92.1,279.0 q2.2,-0.6 2.8,0.3" stroke="#dcdcdc" stroke-width="0.55" fill="none"/>
<path d="M58.8,268.2 q-0.4,-1.2 -2.4,-0.9" stroke="#dcdcdc" stroke-width="0.55" fill="none"/>
<path d="M104.1,292.8 q-0.1,-1.6 -1.8,-1.5" stroke="#3a3a3a" stroke-width="0.55" fill="none"/>
<path d="M114.9,275.1 q-0.2,0.5 -2.0,2.6" stroke="#b8b8b8" stroke-width="0.55" fill="none"/>
<path d="M84.0,252.7 q2.9,-1.7 4.1,-1.8" stroke="#343434" stroke-width="0.55" fill="none"/>
<path d="M108.5,252.6 q2.5,-1.4 3.4,-1.2" stroke="#b8b8b8" stroke-width="0.55" fill="none"/>
<path d="M103.0,248.7 q-0.7,-0.6 -3.0,0.4" stroke="#dcdcdc" stroke-width="0.55" fill="none"/>
<path d="M60.9,299.5 q-0.2,0.4 -2.0,2.4" stroke="#d0d0d0" stroke-width="0.55" fill="none"/>
<path d="M72.5,286.7 q0.9,0.9 0.2,3.4" stroke="#3a3a3a" stroke-width="0.55" fill="none"/>
<path d="M82.7,275.9 q0.6,1.3 -0.4,4.3" stroke="#dcdcdc" stroke-width="0.55" fill="none"/>
<path d="M86.5,247.8 q1.4,-2.0 1.2,-2.4" stroke="#dcdcdc" stroke-width="0.55" fill="none"/>
<path d="M52.6,276.7 q1.4,-1.9 1.2,-2.2" stroke="#3a3a3a" stroke-width="0.55" fill="none"/>
<path d="M106.3,269.1 q-0.8,0.3 -3.2,2.3" stroke="#343434" stroke-width="0.55" fill="none"/>
<path d="M43.0,288.4 q2.0,-2.5 2.4,-3.5" stroke="#3a3a3a" stroke-width="0.55" fill="none"/>
<path d="M85.6,291.4 q2.0,-0.7 2.5,0.3" stroke="#a4a4a4" stroke-width="0.55" fill="none"/>
<path d="M33.1,273.8 q1.9,0.2 2.2,2.0" stroke="#dcdcdc" stroke-width="0.55" fill="none"/>
<path d="M78.9,256.9 q-0.5,-1.4 -2.6,-1.2" stroke="#343434" stroke-width="0.55" fill="none"/>
<path d="M103.7,286.2 q1.2,-2.3 0.7,-2.9" stroke="#a4a4a4" stroke-width="0.55" fill="none"/>
<path d="M86.4,270.1 q-0.7,0.1 -3.0,1.9" stroke="#343434" stroke-width="0.55" fill="none"/>
<path d="M83.1,266.0 q0.4,1.3 -0.8,4.1" stroke="#a4a4a4" stroke-width="0.55" fill="none"/>
<path d="M108.8,294.7 q-0.5,0.0 -2.6,1.7" stroke="#3a3a3a" stroke-width="0.55" fill="none"/>
<path d="M40.8,300.1 q0.0,0.6 -1.6,2.9" stroke="#a4a4a4" stroke-width="0.55" fill="none"/>
<path d="M115.0,260.5 q2.6,-0.2 3.6,1.3" stroke="#a4a4a4" stroke-width="0.55" fill="none"/>
<path d="M98.8,278.2 q0.8,-2.2 0.0,-2.8" stroke="#3a3a3a" stroke-width="0.55" fill="none"/>
<path d="M112.4,255.6 q1.5,-1.9 1.5,-2.2" stroke="#a4a4a4" stroke-width="0.55" fill="none"/>
<path d="M121.4,270.4 q2.5,0.5 3.4,2.6" stroke="#3a3a3a" stroke-width="0.55" fill="none"/>
<path d="M58.8,265.3 q0.9,0.3 0.2,2.2" stroke="#343434" stroke-width="0.55" fill="none"/>
<path d="M120.8,282.6 q1.8,-1.9 2.0,-2.3" stroke="#b8b8b8" stroke-width="0.55" fill="none"/>
<path d="M50.8,287.8 q-1.1,-1.7 -3.9,-1.7" stroke="#d0d0d0" stroke-width="0.55" fill="none"/>
<path d="M78.8,248.3 q2.1,-2.0 2.5,-2.3" stroke="#a4a4a4" stroke-width="0.55" fill="none"/>
<path d="M30.1,255.6 q0.4,0.5 -0.9,2.7" stroke="#d0d0d0" stroke-width="0.55" fill="none"/>
<path d="M71.4,268.8 q-0.4,-1.0 -2.3,-0.4" stroke="#343434" stroke-width="0.55" fill="none"/>
<path d="M85.0,242.9 q2.9,-0.4 4.2,0.8" stroke="#dcdcdc" stroke-width="0.55" fill="none"/>
<path d="M60.5,249.2 q1.1,-2.7 0.7,-3.9" stroke="#b8b8b8" stroke-width="0.55" fill="none"/>
<path d="M49.1,295.0 q0.4,-1.8 -0.8,-2.0" stroke="#dcdcdc" stroke-width="0.55" fill="none"/>
<path d="M108.8,262.7 q-0.4,-0.6 -2.4,0.4" stroke="#343434" stroke-width="0.55" fill="none"/>
<path d="M123.6,252.9 q-0.0,-1.7 -1.7,-1.8" stroke="#d0d0d0" stroke-width="0.55" fill="none"/>
<path d="M91.1,259.6 q1.7,-2.8 1.8,-4.0" stroke="#dcdcdc" stroke-width="0.55" fill="none"/>
<path d="M111.7,285.6 q2.0,0.6 2.5,2.8" stroke="#a4a4a4" stroke-width="0.55" fill="none"/>
<path d="M69.0,250.8 q1.5,-1.7 1.5,-1.8" stroke="#343434" stroke-width="0.55" fill="none"/>
<path d="M48.5,251.6 q1.0,1.0 0.3,3.6" stroke="#dcdcdc" stroke-width="0.55" fill="none"/>
<path d="M65.0,282.4 q2.1,-2.0 2.6,-2.3" stroke="#b8b8b8" stroke-width="0.55" fill="none"/>
<path d="M121.9,297.3 q1.3,0.4 1.1,2.3" stroke="#b8b8b8" stroke-width="0.55" fill="none"/>
<path d="M90.2,245.8 q2.3,-1.0 3.1,-0.3" stroke="#3a3a3a" stroke-width="0.55" fill="none"/>
<path d="M36.9,298.1 q2.5,-0.7 3.5,0.2" stroke="#3a3a3a" stroke-width="0.55" fill="none"/>
<path d="M53.6,291.4 q2.0,-0.1 2.3,1.4" stroke="#b8b8b8" stroke-width="0.55" fill="none"/>
<path d="M53.1,257.9 q-0.4,-1.2 -2.4,-0.7" stroke="#b8b8b8" stroke-width="0.55" fill="none"/>
<path d="M122.8,242.2 q-1.1,-0.3 -3.8,0.9" stroke="#a4a4a4" stroke-width="0.55" fill="none"/>
<path d="M30.2,297.1 q1.8,-0.4 2.0,0.8" stroke="#343434" stroke-width="0.55" fill="none"/>
<path d="M115.5,260.5 q-0.2,-0.7 -2.1,0.2" stroke="#dcdcdc" stroke-width="0.55" fill="none"/>
<path d="M77.5,294.1 q0.1,-2.3 -1.3,-3.0" stroke="#3a3a3a" stroke-width="0.55" fill="none"/>
<path d="M46.3,289.9 q1.7,0.7 1.8,3.0" stroke="#b8b8b8" stroke-width="0.55" fill="none"/>
<path d="M92.8,275.1 q0.7,1.1 -0.1,3.8" stroke="#343434" stroke-width="0.55" fill="none"/>
<path d="M52.2,271.3 q1.1,0.9 0.6,3.4" stroke="#a4a4a4" stroke-width="0.55" fill="none"/>
<path d="M54.6,253.0 q1.8,-1.0 2.1,-0.4" stroke="#a4a4a4" stroke-width="0.55" fill="none"/>
<path d="M112.1,251.5 q1.4,0.0 1.2,1.7" stroke="#a4a4a4" stroke-width="0.55" fill="none"/>
<path d="M105.8,272.2 q0.5,-2.8 -0.7,-4.1" stroke="#d0d0d0" stroke-width="0.55" fill="none"/>
<path d="M36.8,298.1 q-0.7,-1.5 -3.0,-1.4" stroke="#343434" stroke-width="0.55" fill="none"/>
<path d="M52.4,249.4 q0.4,0.2 -0.8,2.0" stroke="#dcdcdc" stroke-width="0.55" fill="none"/>
<path d="M107.0,287.3 q1.2,-2.7 0.8,-3.8" stroke="#a4a4a4" stroke-width="0.55" fill="none"/>
<path d="M38.3,292.5 q1.4,0.4 1.2,2.3" stroke="#b8b8b8" stroke-width="0.55" fill="none"/>
<path d="M76.7,282.2 q-0.5,-1.7 -2.6,-1.8" stroke="#dcdcdc" stroke-width="0.55" fill="none"/>
<path d="M68.6,263.3 q1.3,1.4 0.9,4.3" stroke="#d0d0d0" stroke-width="0.55" fill="none"/>
<path d="M42.1,288.3 q-0.1,-1.5 -1.9,-1.4" stroke="#343434" stroke-width="0.55" fill="none"/>
<path d="M72.8,287.7 q2.1,-0.5 2.5,0.6" stroke="#3a3a3a" stroke-width="0.55" fill="none"/>
<path d="M43.3,265.1 q0.3,0.7 -0.9,2.9" stroke="#d0d0d0" stroke-width="0.55" fill="none"/>
<path d="M121.3,283.5 q0.3,-3.0 -0.9,-4.3" stroke="#3a3a3a" stroke-width="0.55" fill="none"/>
<path d="M51.6,256.2 q-0.4,-1.2 -2.5,-0.8" stroke="#a4a4a4" stroke-width="0.55" fill="none"/>
<path d="M38.1,254.5 q0.0,1.2 -1.6,4.1" stroke="#3a3a3a" stroke-width="0.55" fill="none"/>
<path d="M50.5,250.3 q-1.1,-1.9 -3.9,-2.3" stroke="#343434" stroke-width="0.55" fill="none"/>
<path d="M62.3,284.5 q1.9,-2.1 2.3,-2.6" stroke="#b8b8b8" stroke-width="0.55" fill="none"/>
<path d="M73.5,265.1 q1.6,-2.0 1.6,-2.5" stroke="#d0d0d0" stroke-width="0.55" fill="none"/>
<path d="M50.2,262.2 q1.5,0.7 1.4,3.1" stroke="#b8b8b8" stroke-width="0.55" fill="none"/>
<path d="M75.1,265.6 q-0.8,-1.9 -3.2,-2.2" stroke="#a4a4a4" stroke-width="0.55" fill="none"/>
<path d="M72.0,303.6 q-0.1,-2.7 -1.8,-3.8" stroke="#b8b8b8" stroke-width="0.55" fill="none"/>
<path d="M80.8,266.8 q2.1,-0.4 2.6,0.8" stroke="#dcdcdc" stroke-width="0.55" fill="none"/>
<path d="M88.4,273.2 q0.7,-2.4 -0.2,-3.3" stroke="#3a3a3a" stroke-width="0.55" fill="none"/>
<path d="M116.8,285.8 q0.6,0.6 -0.3,2.9" stroke="#b8b8b8" stroke-width="0.55" fill="none"/>
<path d="M98.4,289.7 q1.6,0.2 1.7,2.0" stroke="#d0d0d0" stroke-width="0.55" fill="none"/>
<path d="M31.9,260.6 q-0.0,-0.1 -1.7,1.5" stroke="#a4a4a4" stroke-width="0.55" fill="none"/>
<path d="M60.6,289.3 q-0.3,-0.9 -2.1,-0.3" stroke="#a4a4a4" stroke-width="0.55" fill="none"/>
<path d="M87.1,271.3 q1.4,0.7 1.3,3.0" stroke="#b8b8b8" stroke-width="0.55" fill="none"/>
<path d="M33.0,260.0 q-0.7,-0.0 -3.0,1.5" stroke="#b8b8b8" stroke-width="0.55" fill="none"/>
<path d="M78.6,275.1 q0.2,0.6 -1.2,2.9" stroke="#a4a4a4" stroke-width="0.55" fill="none"/>
<path d="M43.8,253.1 q0.4,1.1 -0.7,3.7" stroke="#a4a4a4" stroke-width="0.55" fill="none"/>
<path d="M42.8,273.1 q0.1,0.1 -1.4,1.8" stroke="#dcdcdc" stroke-width="0.55" fill="none"/>
<path d="M62.4,253.8 q1.8,-0.5 2.0,0.5" stroke="#343434" stroke-width="0.55" fill="none"/>
<path d="M75.4,240.7 q0.9,-2.7 0.3,-3.8" stroke="#343434" stroke-width="0.55" fill="none"/>
<path d="M93.0,298.8 q1.2,1.0 0.8,3.6" stroke="#343434" stroke-width="0.55" fill="none"/>
<path d="M41.5,289.6 q-0.6,0.6 -2.8,2.8" stroke="#dcdcdc" stroke-width="0.55" fill="none"/>
<path d="M38.4,267.4 q-0.0,-0.1 -1.7,1.3" stroke="#a4a4a4" stroke-width="0.55" fill="none"/>
<path d="M117.5,258.2 q0.4,-2.0 -0.7,-2.4" stroke="#a4a4a4" stroke-width="0.55" fill="none"/>
<path d="M49.0,289.2 q-0.3,0.7 -2.2,3.0" stroke="#3a3a3a" stroke-width="0.55" fill="none"/>
<path d="M38.7,261.9 q-0.2,-0.2 -2.1,1.1" stroke="#3a3a3a" stroke-width="0.55" fill="none"/>
<path d="M54.2,294.6 q0.0,1.2 -1.5,4.0" stroke="#a4a4a4" stroke-width="0.55" fill="none"/>
<path d="M41.3,298.2 q1.9,-1.5 2.3,-1.4" stroke="#a4a4a4" stroke-width="0.55" fill="none"/>
<path d="M76.6,277.5 q-0.6,-0.5 -2.8,0.5" stroke="#dcdcdc" stroke-width="0.55" fill="none"/>
<path d="M36.8,242.3 q0.1,0.5 -1.3,2.6" stroke="#dcdcdc" stroke-width="0.55" fill="none"/>
<path d="M54.6,282.8 q1.4,0.7 1.2,2.9" stroke="#3a3a3a" stroke-width="0.55" fill="none"/>
<path d="M62.1,297.5 q2.6,-0.4 3.7,0.7" stroke="#b8b8b8" stroke-width="0.55" fill="none"/>
<path d="M102.5,280.1 q-0.3,-1.8 -2.2,-2.1" stroke="#a4a4a4" stroke-width="0.55" fill="none"/>
<path d="M36.0,244.4 q-0.7,-0.4 -3.0,0.7" stroke="#a4a4a4" stroke-width="0.55" fill="none"/>
<path d="M33.6,248.7 q-0.6,-0.9 -2.8,-0.1" stroke="#dcdcdc" stroke-width="0.55" fill="none"/>
<path d="M74.5,241.4 q-0.3,-1.6 -2.1,-1.6" stroke="#dcdcdc" stroke-width="0.55" fill="none"/>
<path d="M93.9,255.0 q2.5,-0.8 3.4,0.0" stroke="#a4a4a4" stroke-width="0.55" fill="none"/>
<path d="M30.3,275.0 q1.9,-2.4 2.3,-3.2" stroke="#d0d0d0" stroke-width="0.55" fill="none"/>
<path d="M88.7,275.9 q1.9,-2.7 2.2,-3.9" stroke="#dcdcdc" stroke-width="0.55" fill="none"/>
<path d="M54.8,246.6 q2.8,-0.6 4.0,0.5" stroke="#b8b8b8" stroke-width="0.55" fill="none"/>
<path d="M95.4,283.9 q2.8,-1.3 4.0,-0.9" stroke="#b8b8b8" stroke-width="0.55" fill="none"/>
<path d="M61.3,284.1 q1.3,-2.1 0.9,-2.6" stroke="#a4a4a4" stroke-width="0.55" fill="none"/>
<path d="M56.9,287.9 q-0.5,-1.1 -2.5,-0.5" stroke="#b8b8b8" stroke-width="0.55" fill="none"/>
<path d="M64.0,285.2 q2.5,-1.8 3.3,-1.9" stroke="#d0d0d0" stroke-width="0.55" fill="none"/>
<path d="M123.0,292.3 q1.8,-1.7 2.1,-1.8" stroke="#a4a4a4" stroke-width="0.55" fill="none"/>
<path d="M78.2,283.5 q2.5,-0.4 3.4,0.9" stroke="#a4a4a4" stroke-width="0.55" fill="none"/>
<path d="M111.8,243.4 q0.8,0.8 -0.1,3.3" stroke="#343434" stroke-width="0.55" fill="none"/>
<path d="M66.9,285.8 q0.8,1.1 -0.0,3.8" stroke="#dcdcdc" stroke-width="0.55" fill="none"/>
<path d="M47.3,294.8 q1.3,0.8 1.0,3.3" stroke="#b8b8b8" stroke-width="0.55" fill="none"/>
<path d="M83.3,266.9 q0.3,-2.5 -1.0,-3.4" stroke="#dcdcdc" stroke-width="0.55" fill="none"/>
<path d="M105.3,248.0 q-0.5,0.5 -2.6,2.6" stroke="#b8b8b8" stroke-width="0.55" fill="none"/>
<path d="M91.3,302.3 q-1.0,-0.5 -3.7,0.7" stroke="#b8b8b8" stroke-width="0.55" fill="none"/>
<path d="M55.2,257.4 q0.8,1.0 -0.0,3.7" stroke="#a4a4a4" stroke-width="0.55" fill="none"/>
<path d="M117.7,303.3 q2.6,-0.2 3.6,1.1" stroke="#d0d0d0" stroke-width="0.55" fill="none"/>
<path d="M111.9,252.4 q-0.2,0.5 -2.1,2.6" stroke="#d0d0d0" stroke-width="0.55" fill="none"/>
<path d="M68.0,297.9 q1.8,-2.6 2.1,-3.6" stroke="#b8b8b8" stroke-width="0.55" fill="none"/>
<path d="M65.1,259.8 q1.4,-2.7 1.3,-3.9" stroke="#dcdcdc" stroke-width="0.55" fill="none"/>
<path d="M51.0,286.2 q-0.2,-0.2 -2.0,1.3" stroke="#3a3a3a" stroke-width="0.55" fill="none"/>
<path d="M66.6,284.4 q-1.1,-1.4 -3.8,-1.1" stroke="#b8b8b8" stroke-width="0.55" fill="none"/>
<path d="M71.6,293.4 q-1.2,-1.5 -4.0,-1.5" stroke="#a4a4a4" stroke-width="0.55" fill="none"/>
<path d="M70.7,249.7 q1.8,-1.7 2.0,-1.8" stroke="#3a3a3a" stroke-width="0.55" fill="none"/>
<path d="M43.5,280.0 q0.6,0.5 -0.4,2.5" stroke="#a4a4a4" stroke-width="0.55" fill="none"/>
<path d="M48.9,275.3 q-0.3,-1.2 -2.2,-0.9" stroke="#d0d0d0" stroke-width="0.55" fill="none"/>
<path d="M113.9,259.8 q1.9,-0.2 2.2,1.2" stroke="#a4a4a4" stroke-width="0.55" fill="none"/>
<path d="M43.1,290.5 q2.3,-0.9 3.0,-0.2" stroke="#d0d0d0" stroke-width="0.55" fill="none"/>
<path d="M69.0,291.6 q-0.1,-0.1 -1.7,1.3" stroke="#3a3a3a" stroke-width="0.55" fill="none"/>
<path d="M88.0,292.9 q0.8,0.4 -0.0,2.5" stroke="#dcdcdc" stroke-width="0.55" fill="none"/>
<path d="M111.3,303.6 q-1.1,-0.1 -3.8,1.4" stroke="#343434" stroke-width="0.55" fill="none"/>
<path d="M34.4,294.9 q2.4,-1.4 3.1,-1.1" stroke="#343434" stroke-width="0.55" fill="none"/>
<path d="M37.0,263.0 q0.8,-2.2 0.1,-2.8" stroke="#3a3a3a" stroke-width="0.55" fill="none"/>
<path d="M73.8,296.7 q2.1,-0.2 2.7,1.1" stroke="#3a3a3a" stroke-width="0.55" fill="none"/>
<path d="M54.9,255.7 q2.2,-1.5 2.9,-1.5" stroke="#dcdcdc" stroke-width="0.55" fill="none"/>
<path d="M105.5,293.0 q1.0,-3.0 0.5,-4.4" stroke="#d0d0d0" stroke-width="0.55" fill="none"/>
<path d="M118.0,270.9 q1.6,-2.1 1.6,-2.6" stroke="#3a3a3a" stroke-width="0.55" fill="none"/>
<path d="M32.2,276.9 q1.0,0.7 0.4,2.9" stroke="#dcdcdc" stroke-width="0.55" fill="none"/>
<path d="M77.6,257.7 q2.6,-0.9 3.6,-0.2" stroke="#a4a4a4" stroke-width="0.55" fill="none"/>
<path d="M63.3,257.9 q2.0,-1.6 2.3,-1.6" stroke="#d0d0d0" stroke-width="0.55" fill="none"/>
<path d="M54.9,253.7 q1.3,0.2 0.9,1.9" stroke="#b8b8b8" stroke-width="0.55" fill="none"/>
<path d="M81.3,283.5 q1.3,0.2 1.0,2.0" stroke="#b8b8b8" stroke-width="0.55" fill="none"/>
<path d="M65.0,251.7 q2.3,-0.6 3.0,0.4" stroke="#d0d0d0" stroke-width="0.55" fill="none"/>
<path d="M67.9,260.6 q-1.3,-1.3 -4.3,-1.0" stroke="#b8b8b8" stroke-width="0.55" fill="none"/>
<path d="M32.0,251.2 q2.4,-0.1 3.2,1.4" stroke="#3a3a3a" stroke-width="0.55" fill="none"/>
<path d="M122.8,267.5 q2.0,-1.1 2.5,-0.6" stroke="#a4a4a4" stroke-width="0.55" fill="none"/>
<path d="M103.4,296.8 q1.2,-1.8 0.8,-2.0" stroke="#a4a4a4" stroke-width="0.55" fill="none"/>
<path d="M119.1,260.6 q1.4,0.5 1.2,2.6" stroke="#d0d0d0" stroke-width="0.55" fill="none"/>
<path d="M43.9,280.6 q-0.5,0.5 -2.6,2.5" stroke="#b8b8b8" stroke-width="0.55" fill="none"/>
<path d="M87.9,262.1 q-1.0,-0.1 -3.5,1.4" stroke="#a4a4a4" stroke-width="0.55" fill="none"/>
<path d="M77.5,276.3 q2.3,0.5 3.1,2.7" stroke="#343434" stroke-width="0.55" fill="none"/>
<path d="M99.9,267.9 q-1.2,-0.4 -4.0,0.8" stroke="#3a3a3a" stroke-width="0.55" fill="none"/>
<path d="M51.6,278.4 q-0.7,-1.5 -3.0,-1.5" stroke="#d0d0d0" stroke-width="0.55" fill="none"/>
<path d="M79.7,268.9 q0.6,0.2 -0.5,2.1" stroke="#d0d0d0" stroke-width="0.55" fill="none"/>
<path d="M117.6,249.7 q-1.4,-0.4 -4.4,0.9" stroke="#343434" stroke-width="0.55" fill="none"/>
<path d="M88.5,252.1 q-0.9,-0.5 -3.3,0.7" stroke="#d0d0d0" stroke-width="0.55" fill="none"/>
<path d="M111.5,248.1 q2.4,-0.9 3.2,-0.2" stroke="#b8b8b8" stroke-width="0.55" fill="none"/>
<path d="M47.6,299.1 q1.1,-1.9 0.6,-2.3" stroke="#d0d0d0" stroke-width="0.55" fill="none"/>
<path d="M105.0,272.7 q1.9,-0.8 2.2,-0.1" stroke="#d0d0d0" stroke-width="0.55" fill="none"/>
<path d="M96.9,256.0 q1.4,-2.3 1.1,-2.9" stroke="#3a3a3a" stroke-width="0.55" fill="none"/>
<path d="M31.3,267.3 q-1.4,-0.6 -4.4,0.3" stroke="#b8b8b8" stroke-width="0.55" fill="none"/>
<path d="M36.9,275.5 q1.2,-2.4 0.7,-3.1" stroke="#b8b8b8" stroke-width="0.55" fill="none"/>
<path d="M36.8,271.8 q2.8,-0.1 3.9,1.4" stroke="#d0d0d0" stroke-width="0.55" fill="none"/>
<path d="M104.9,249.7 q0.1,0.0 -1.5,1.7" stroke="#d0d0d0" stroke-width="0.55" fill="none"/>
<path d="M117.3,301.1 q1.1,0.5 0.5,2.7" stroke="#a4a4a4" stroke-width="0.55" fill="none"/>
<path d="M47.1,264.9 q1.8,-2.2 2.1,-2.9" stroke="#a4a4a4" stroke-width="0.55" fill="none"/>
<path d="M36.8,303.2 q1.3,0.9 1.0,3.4" stroke="#343434" stroke-width="0.55" fill="none"/>
<path d="M121.2,275.8 q2.3,-0.9 2.9,-0.1" stroke="#dcdcdc" stroke-width="0.55" fill="none"/>
<path d="M95.8,294.1 q2.5,-1.4 3.4,-1.2" stroke="#b8b8b8" stroke-width="0.55" fill="none"/>
<path d="M95.3,251.6 q2.1,0.5 2.6,2.7" stroke="#a4a4a4" stroke-width="0.55" fill="none"/>
<path d="M33.9,257.8 q0.7,0.6 -0.2,2.9" stroke="#3a3a3a" stroke-width="0.55" fill="none"/>
<path d="M63.6,252.6 q2.7,-0.9 3.7,-0.1" stroke="#343434" stroke-width="0.55" fill="none"/>
<path d="M97.5,295.7 q1.0,-2.0 0.3,-2.5" stroke="#d0d0d0" stroke-width="0.55" fill="none"/>
<path d="M89.3,267.2 q1.4,-2.2 1.3,-2.7" stroke="#a4a4a4" stroke-width="0.55" fill="none"/>
<path d="M42.6,247.9 q2.2,0.1 2.7,1.8" stroke="#a4a4a4" stroke-width="0.55" fill="none"/>
<path d="M52.1,277.1 q0.3,1.2 -0.9,4.1" stroke="#dcdcdc" stroke-width="0.55" fill="none"/>
<path d="M119.5,245.0 q0.0,-1.8 -1.5,-2.1" stroke="#a4a4a4" stroke-width="0.55" fill="none"/>
<path d="M66.4,287.6 q-0.5,-1.7 -2.5,-1.9" stroke="#d0d0d0" stroke-width="0.55" fill="none"/>
<path d="M64.5,261.3 q-0.8,-1.7 -3.1,-1.8" stroke="#dcdcdc" stroke-width="0.55" fill="none"/>
<path d="M57.5,284.5 q0.2,-2.0 -1.2,-2.3" stroke="#a4a4a4" stroke-width="0.55" fill="none"/>
<path d="M65.2,278.0 q1.8,-1.9 2.0,-2.2" stroke="#dcdcdc" stroke-width="0.55" fill="none"/>
<path d="M62.1,292.5 q1.8,-2.2 2.0,-2.8" stroke="#3a3a3a" stroke-width="0.55" fill="none"/>
<path d="M91.8,269.0 q1.3,1.1 1.0,3.8" stroke="#d0d0d0" stroke-width="0.55" fill="none"/>
<path d="M65.2,286.3 q0.1,-2.0 -1.4,-2.5" stroke="#d0d0d0" stroke-width="0.55" fill="none"/>
<path d="M92.8,250.0 q1.9,-0.3 2.2,1.1" stroke="#3a3a3a" stroke-width="0.55" fill="none"/>
<path d="M59.7,282.9 q-0.9,-2.2 -3.5,-2.7" stroke="#d0d0d0" stroke-width="0.55" fill="none"/>
<path d="M123.3,265.3 q1.7,-2.4 1.7,-3.2" stroke="#343434" stroke-width="0.55" fill="none"/>
<path d="M40.3,243.7 q2.6,-0.8 3.6,-0.0" stroke="#343434" stroke-width="0.55" fill="none"/>
<path d="M117.6,273.1 q-0.6,-1.6 -2.8,-1.6" stroke="#b8b8b8" stroke-width="0.55" fill="none"/>
<path d="M78.5,246.1 q1.1,-1.8 0.6,-1.9" stroke="#343434" stroke-width="0.55" fill="none"/>
<path d="M95.4,290.3 q2.3,-1.8 3.0,-2.0" stroke="#343434" stroke-width="0.55" fill="none"/>
<path d="M74.5,296.6 q-0.3,-0.3 -2.2,1.0" stroke="#dcdcdc" stroke-width="0.55" fill="none"/>
<path d="M110.8,300.5 q1.6,-1.4 1.6,-1.3" stroke="#dcdcdc" stroke-width="0.55" fill="none"/>
<path d="M68.8,275.9 q2.7,-1.1 3.9,-0.6" stroke="#d0d0d0" stroke-width="0.55" fill="none"/>
<path d="M58.3,272.5 q2.0,0.4 2.4,2.4" stroke="#b8b8b8" stroke-width="0.55" fill="none"/>
<path d="M92.3,272.6 q0.3,0.5 -1.0,2.7" stroke="#b8b8b8" stroke-width="0.55" fill="none"/>
<path d="M53.2,266.5 q2.0,-0.4 2.4,0.9" stroke="#a4a4a4" stroke-width="0.55" fill="none"/>
<path d="M46.0,246.7 q2.2,0.8 2.8,3.2" stroke="#3a3a3a" stroke-width="0.55" fill="none"/>
<path d="M44.6,302.1 q-0.7,-1.0 -3.0,-0.5" stroke="#3a3a3a" stroke-width="0.55" fill="none"/>
<path d="M120.6,285.6 q2.3,0.6 3.0,2.8" stroke="#b8b8b8" stroke-width="0.55" fill="none"/>
<path d="M44.5,292.4 q0.6,-2.7 -0.4,-3.8" stroke="#b8b8b8" stroke-width="0.55" fill="none"/>
<path d="M57.6,279.6 q-0.5,0.1 -2.7,1.8" stroke="#3a3a3a" stroke-width="0.55" fill="none"/>
<path d="M90.4,294.3 q2.3,-0.4 2.9,0.9" stroke="#d0d0d0" stroke-width="0.55" fill="none"/>
<path d="M50.2,274.4 q-0.0,-2.1 -1.7,-2.5" stroke="#a4a4a4" stroke-width="0.55" fill="none"/>
<path d="M49.1,303.6 q-0.3,-1.2 -2.2,-0.9" stroke="#3a3a3a" stroke-width="0.55" fill="none"/>
<path d="M117.1,246.2 q-0.1,-1.7 -1.9,-1.9" stroke="#3a3a3a" stroke-width="0.55" fill="none"/>
<path d="M54.3,263.5 q-0.6,-0.1 -2.9,1.4" stroke="#dcdcdc" stroke-width="0.55" fill="none"/>
<path d="M91.0,261.4 q1.8,0.1 2.1,1.9" stroke="#3a3a3a" stroke-width="0.55" fill="none"/>
<path d="M35.8,273.8 q-0.6,-1.2 -2.9,-0.9" stroke="#b8b8b8" stroke-width="0.55" fill="none"/>
<path d="M93.5,285.6 q2.2,-0.5 2.8,0.6" stroke="#b8b8b8" stroke-width="0.55" fill="none"/>
<path d="M78.9,273.7 q0.6,-2.3 -0.3,-2.9" stroke="#3a3a3a" stroke-width="0.55" fill="none"/>
<path d="M120.8,240.5 q-1.0,-2.0 -3.7,-2.4" stroke="#dcdcdc" stroke-width="0.55" fill="none"/>
<path d="M120.6,284.4 q1.5,-1.9 1.4,-2.1" stroke="#3a3a3a" stroke-width="0.55" fill="none"/>
<path d="M35.3,251.8 q2.2,0.5 2.9,2.6" stroke="#dcdcdc" stroke-width="0.55" fill="none"/>
<path d="M35.0,245.9 q0.8,0.5 -0.0,2.7" stroke="#a4a4a4" stroke-width="0.55" fill="none"/>
<path d="M90.8,263.9 q2.2,0.1 2.9,1.8" stroke="#d0d0d0" stroke-width="0.55" fill="none"/>
<path d="M38.0,303.0 q1.5,-2.0 1.4,-2.5" stroke="#dcdcdc" stroke-width="0.55" fill="none"/>
<path d="M44.0,250.0 q0.5,0.5 -0.6,2.6" stroke="#a4a4a4" stroke-width="0.55" fill="none"/>
<path d="M34.5,280.0 q-1.2,-1.5 -4.1,-1.4" stroke="#343434" stroke-width="0.55" fill="none"/>
<path d="M97.5,279.5 q0.3,-2.0 -1.0,-2.3" stroke="#3a3a3a" stroke-width="0.55" fill="none"/>
<path d="M30.5,287.2 q-0.8,0.1 -3.2,1.8" stroke="#d0d0d0" stroke-width="0.55" fill="none"/>
<path d="M46.2,245.3 q0.3,-1.9 -0.9,-2.2" stroke="#a4a4a4" stroke-width="0.55" fill="none"/>
<path d="M93.7,291.3 q-1.2,-0.1 -4.0,1.4" stroke="#343434" stroke-width="0.55" fill="none"/>
<path d="M36.7,247.4 q1.7,-2.4 1.8,-3.2" stroke="#3a3a3a" stroke-width="0.55" fill="none"/>
<path d="M96.9,285.0 q-0.7,0.3 -3.0,2.2" stroke="#343434" stroke-width="0.55" fill="none"/>
<path d="M82.7,299.0 q1.2,0.7 0.7,2.9" stroke="#3a3a3a" stroke-width="0.55" fill="none"/>
<path d="M43.2,300.6 q1.6,0.3 1.5,2.2" stroke="#a4a4a4" stroke-width="0.55" fill="none"/>
<path d="M32.9,267.6 q-0.5,0.5 -2.6,2.6" stroke="#a4a4a4" stroke-width="0.55" fill="none"/>
<path d="M76.4,284.1 q-0.7,0.5 -3.0,2.6" stroke="#d0d0d0" stroke-width="0.55" fill="none"/>
<path d="M81.7,294.7 q1.0,-2.2 0.4,-2.8" stroke="#d0d0d0" stroke-width="0.55" fill="none"/>
<path d="M62.5,250.5 q-0.2,0.6 -2.0,2.8" stroke="#3a3a3a" stroke-width="0.55" fill="none"/>
<path d="M94.3,269.0 q-0.5,-1.6 -2.7,-1.7" stroke="#3a3a3a" stroke-width="0.55" fill="none"/>
<path d="M43.9,285.0 q-0.1,-0.1 -1.8,1.3" stroke="#a4a4a4" stroke-width="0.55" fill="none"/>
<path d="M52.0,256.7 q0.6,-2.5 -0.4,-3.4" stroke="#dcdcdc" stroke-width="0.55" fill="none"/>
<path d="M116.6,291.4 q0.8,0.5 -0.1,2.6" stroke="#b8b8b8" stroke-width="0.55" fill="none"/>
<path d="M70.7,279.5 q-1.3,-1.6 -4.1,-1.6" stroke="#3a3a3a" stroke-width="0.55" fill="none"/>
<path d="M72.8,271.2 q1.0,1.1 0.5,3.9" stroke="#d0d0d0" stroke-width="0.55" fill="none"/>
<path d="M93.9,272.0 q2.1,1.0 2.6,3.6" stroke="#dcdcdc" stroke-width="0.55" fill="none"/>
<path d="M83.4,275.3 q0.2,0.2 -1.2,2.1" stroke="#dcdcdc" stroke-width="0.55" fill="none"/>
<path d="M105.7,246.3 q1.1,-2.0 0.5,-2.5" stroke="#b8b8b8" stroke-width="0.55" fill="none"/>
<path d="M110.9,287.2 q0.1,0.2 -1.3,2.0" stroke="#b8b8b8" stroke-width="0.55" fill="none"/>
<path d="M84.7,297.6 q2.5,-1.7 3.3,-1.7" stroke="#dcdcdc" stroke-width="0.55" fill="none"/>
<path d="M40.2,290.4 q1.4,-2.4 1.2,-3.3" stroke="#343434" stroke-width="0.55" fill="none"/>
<path d="M122.3,247.1 q0.0,0.1 -1.5,1.9" stroke="#dcdcdc" stroke-width="0.55" fill="none"/>
<path d="M92.8,258.3 q-0.4,-1.3 -2.5,-1.0" stroke="#d0d0d0" stroke-width="0.55" fill="none"/>
<path d="M55.6,258.2 q0.5,0.8 -0.6,3.2" stroke="#a4a4a4" stroke-width="0.55" fill="none"/>
<path d="M45.0,295.0 q1.9,-2.2 2.2,-2.8" stroke="#3a3a3a" stroke-width="0.55" fill="none"/>
<path d="M105.2,250.4 q0.8,-2.7 0.0,-3.8" stroke="#3a3a3a" stroke-width="0.55" fill="none"/>
<path d="M102.9,256.6 q2.8,-0.1 4.1,1.5" stroke="#dcdcdc" stroke-width="0.55" fill="none"/>
<path d="M91.3,274.7 q-1.0,-0.6 -3.7,0.4" stroke="#dcdcdc" stroke-width="0.55" fill="none"/>
<path d="M98.5,300.4 q-0.9,-0.9 -3.4,-0.1" stroke="#dcdcdc" stroke-width="0.55" fill="none"/>
<path d="M113.2,244.8 q-0.8,-1.3 -3.3,-1.1" stroke="#343434" stroke-width="0.55" fill="none"/>
<path d="M99.8,259.3 q3.0,-0.8 4.3,0.1" stroke="#d0d0d0" stroke-width="0.55" fill="none"/>
<path d="M48.4,263.5 q0.1,0.1 -1.4,1.9" stroke="#343434" stroke-width="0.55" fill="none"/>
<path d="M92.5,249.0 q-0.2,-0.2 -2.0,1.2" stroke="#343434" stroke-width="0.55" fill="none"/>
<path d="M121.6,302.4 q2.3,-1.6 2.9,-1.6" stroke="#a4a4a4" stroke-width="0.55" fill="none"/>
<path d="M79.5,251.8 q-0.6,-1.0 -2.8,-0.5" stroke="#a4a4a4" stroke-width="0.55" fill="none"/>
<path d="M117.0,296.3 q1.7,-0.1 1.9,1.4" stroke="#b8b8b8" stroke-width="0.55" fill="none"/>
<path d="M37.4,271.2 q-1.3,-1.6 -4.1,-1.6" stroke="#3a3a3a" stroke-width="0.55" fill="none"/>
<path d="M38.4,297.6 q0.8,0.5 -0.1,2.5" stroke="#dcdcdc" stroke-width="0.55" fill="none"/>
<path d="M118.3,302.5 q2.9,-1.5 4.1,-1.3" stroke="#a4a4a4" stroke-width="0.55" fill="none"/>
<path d="M117.9,241.3 q-0.9,-0.7 -3.5,0.2" stroke="#343434" stroke-width="0.55" fill="none"/>
<path d="M83.7,297.5 q0.3,0.3 -1.0,2.2" stroke="#3a3a3a" stroke-width="0.55" fill="none"/>
<path d="M44.8,298.4 q1.9,0.1 2.1,1.7" stroke="#dcdcdc" stroke-width="0.55" fill="none"/>
<path d="M120.0,241.5 q2.8,-0.4 4.0,0.8" stroke="#343434" stroke-width="0.55" fill="none"/>
<path d="M86.8,294.2 q1.0,-2.6 0.4,-3.7" stroke="#d0d0d0" stroke-width="0.55" fill="none"/>
<path d="M30.1,244.3 q1.4,-2.9 1.2,-4.3" stroke="#b8b8b8" stroke-width="0.55" fill="none"/>
<path d="M68.3,261.5 q0.2,0.0 -1.2,1.7" stroke="#b8b8b8" stroke-width="0.55" fill="none"/>
<path d="M54.7,277.5 q-0.6,-1.0 -2.8,-0.5" stroke="#343434" stroke-width="0.55" fill="none"/>
<path d="M63.1,281.7 q2.2,-1.4 2.8,-1.3" stroke="#b8b8b8" stroke-width="0.55" fill="none"/>
<path d="M44.1,256.2 q-1.2,-0.5 -3.9,0.5" stroke="#dcdcdc" stroke-width="0.55" fill="none"/>
<path d="M47.4,283.4 q-0.5,-1.9 -2.7,-2.2" stroke="#3a3a3a" stroke-width="0.55" fill="none"/>
<path d="M54.0,296.1 q1.3,0.4 1.0,2.4" stroke="#dcdcdc" stroke-width="0.55" fill="none"/>
<path d="M77.9,287.3 q1.1,0.2 0.6,2.0" stroke="#b8b8b8" stroke-width="0.55" fill="none"/>
<path d="M80.8,245.0 q0.9,-2.1 0.2,-2.6" stroke="#b8b8b8" stroke-width="0.55" fill="none"/>
<path d="M34.2,275.7 q2.0,0.6 2.4,2.8" stroke="#d0d0d0" stroke-width="0.55" fill="none"/>
<path d="M115.6,303.4 q-0.1,-0.0 -1.8,1.5" stroke="#343434" stroke-width="0.55" fill="none"/>
<path d="M103.5,261.6 q1.2,-2.2 0.7,-2.9" stroke="#dcdcdc" stroke-width="0.55" fill="none"/>
<path d="M82.9,300.4 q2.8,0.1 4.0,1.8" stroke="#d0d0d0" stroke-width="0.55" fill="none"/>
<path d="M34.9,242.1 q2.3,-1.2 2.9,-0.9" stroke="#b8b8b8" stroke-width="0.55" fill="none"/>
<path d="M43.5,253.2 q2.4,-2.3 3.2,-3.1" stroke="#dcdcdc" stroke-width="0.55" fill="none"/>
<path d="M62.1,299.6 q2.0,0.7 2.4,2.9" stroke="#d0d0d0" stroke-width="0.55" fill="none"/>
<path d="M48.1,248.7 q-0.1,-2.7 -1.8,-3.8" stroke="#343434" stroke-width="0.55" fill="none"/>
<path d="M113.3,282.8 q-0.5,0.6 -2.6,2.8" stroke="#dcdcdc" stroke-width="0.55" fill="none"/>
<path d="M43.8,295.7 q2.7,-1.0 3.8,-0.4" stroke="#343434" stroke-width="0.55" fill="none"/>
<path d="M34.6,259.6 q1.3,0.3 0.9,2.1" stroke="#3a3a3a" stroke-width="0.55" fill="none"/>
<path d="M79.1,292.2 q-1.1,-0.1 -3.7,1.4" stroke="#dcdcdc" stroke-width="0.55" fill="none"/>
<path d="M119.0,245.2 q1.0,0.3 0.4,2.2" stroke="#dcdcdc" stroke-width="0.55" fill="none"/>
<path d="M121.7,299.8 q0.3,-1.9 -1.1,-2.2" stroke="#dcdcdc" stroke-width="0.55" fill="none"/>
<path d="M90.0,246.7 q-1.3,-0.6 -4.2,0.4" stroke="#3a3a3a" stroke-width="0.55" fill="none"/>
<path d="M73.2,278.6 q1.7,-2.1 1.8,-2.6" stroke="#b8b8b8" stroke-width="0.55" fill="none"/>
<path d="M43.9,270.0 q0.1,-2.2 -1.3,-2.8" stroke="#3a3a3a" stroke-width="0.55" fill="none"/>
<path d="M67.7,243.3 q1.4,0.2 1.3,2.1" stroke="#343434" stroke-width="0.55" fill="none"/>
<path d="M107.3,301.5 q2.3,-0.6 3.0,0.5" stroke="#a4a4a4" stroke-width="0.55" fill="none"/>
<path d="M87.5,244.0 q2.2,-0.6 2.8,0.4" stroke="#b8b8b8" stroke-width="0.55" fill="none"/>
<path d="M58.6,242.7 q0.7,1.0 -0.2,3.5" stroke="#dcdcdc" stroke-width="0.55" fill="none"/>
<path d="M94.6,256.0 q0.7,-2.0 -0.1,-2.4" stroke="#b8b8b8" stroke-width="0.55" fill="none"/>
<path d="M113.1,277.2 q-0.7,0.0 -2.9,1.7" stroke="#a4a4a4" stroke-width="0.55" fill="none"/>
<path d="M54.1,300.8 q-1.0,-0.7 -3.7,0.2" stroke="#3a3a3a" stroke-width="0.55" fill="none"/>
<path d="M110.2,296.4 q1.7,0.6 1.7,2.8" stroke="#dcdcdc" stroke-width="0.55" fill="none"/>
<path d="M101.9,299.8 q0.1,0.8 -1.3,3.1" stroke="#a4a4a4" stroke-width="0.55" fill="none"/>
<path d="M44.8,300.6 q0.6,0.3 -0.5,2.2" stroke="#343434" stroke-width="0.55" fill="none"/>
<path d="M30.3,270.7 q2.3,0.5 2.9,2.5" stroke="#3a3a3a" stroke-width="0.55" fill="none"/>
<path d="M91.2,283.9 q0.0,-2.1 -1.6,-2.6" stroke="#a4a4a4" stroke-width="0.55" fill="none"/>
<path d="M84.0,280.4 q-0.3,-0.5 -2.2,0.5" stroke="#a4a4a4" stroke-width="0.55" fill="none"/>
<path d="M90.1,244.0 q1.4,0.0 1.3,1.6" stroke="#3a3a3a" stroke-width="0.55" fill="none"/>
<path d="M71.6,245.4 q1.2,-2.0 0.8,-2.5" stroke="#a4a4a4" stroke-width="0.55" fill="none"/>
<path d="M105.0,256.3 q2.1,-1.7 2.7,-1.9" stroke="#a4a4a4" stroke-width="0.55" fill="none"/>
<path d="M63.2,243.7 q2.7,0.1 3.7,1.8" stroke="#b8b8b8" stroke-width="0.55" fill="none"/>
<path d="M57.3,293.8 q-0.6,-0.8 -2.9,-0.1" stroke="#b8b8b8" stroke-width="0.55" fill="none"/>
<path d="M90.8,284.1 q-0.5,-0.3 -2.6,0.9" stroke="#343434" stroke-width="0.55" fill="none"/>
<path d="M116.2,283.8 q1.4,-2.6 1.1,-3.6" stroke="#dcdcdc" stroke-width="0.55" fill="none"/>
<path d="M105.3,251.3 q1.3,-2.1 1.1,-2.5" stroke="#b8b8b8" stroke-width="0.55" fill="none"/>
<path d="M34.2,291.8 q2.6,-1.3 3.5,-1.0" stroke="#a4a4a4" stroke-width="0.55" fill="none"/>
<path d="M104.4,279.1 q2.6,-1.9 3.7,-2.3" stroke="#343434" stroke-width="0.55" fill="none"/>
<path d="M111.4,302.5 q1.5,0.3 1.4,2.2" stroke="#dcdcdc" stroke-width="0.55" fill="none"/>
<path d="M111.9,259.9 q1.5,0.9 1.5,3.4" stroke="#dcdcdc" stroke-width="0.55" fill="none"/>
<path d="M122.6,279.9 q2.1,0.6 2.7,2.7" stroke="#d0d0d0" stroke-width="0.55" fill="none"/>
<path d="M71.0,266.1 q-0.7,0.4 -3.1,2.4" stroke="#d0d0d0" stroke-width="0.55" fill="none"/>
<path d="M121.5,240 C122.5,250 121,262 120,270 C119,282 117,293 113,304" stroke="#bbb" stroke-width="1.6" fill="none" opacity="0.7"/>
</g></g>
<text x="115.5" y="299.5" font-size="2.8" font-weight="bold" font-family="'Liberation Sans', sans-serif" fill="#fff" stroke="#fff" stroke-width="0.084" text-anchor="middle" >200 nm</text>
<rect x="113.5" y="301.6" width="5.5" height="1.4" fill="#fff" stroke="none" stroke-width="1" />
</g>
<clipPath id="cp4"><rect x="130.5" y="241" width="96.2" height="62"/></clipPath>
<g clip-path="url(#cp4)"><g filter="url(#grain2)">
<rect x="130.5" y="241" width="96.2" height="62" fill="#6e6e6e" stroke="none" stroke-width="1" />
<path d="M128,246.0 C150,234.0 180,216.0 230,200.0" stroke="#4e4e4e" stroke-width="1.6" fill="none"/>
<path d="M128,248.0 C150,236.0 180,218.0 230,202.0" stroke="#626262" stroke-width="1.6" fill="none"/>
<path d="M128,250.0 C150,238.0 180,220.0 230,204.0" stroke="#626262" stroke-width="1.2" fill="none"/>
<path d="M128,252.0 C150,240.0 180,222.0 230,206.0" stroke="#505050" stroke-width="0.9" fill="none"/>
<path d="M128,254.0 C150,242.0 180,224.0 230,208.0" stroke="#505050" stroke-width="0.9" fill="none"/>
<path d="M128,256.0 C150,244.0 180,226.0 230,210.0" stroke="#a0a0a0" stroke-width="0.9" fill="none"/>
<path d="M128,258.0 C150,246.0 180,228.0 230,212.0" stroke="#909090" stroke-width="0.6" fill="none"/>
<path d="M128,260.0 C150,248.0 180,230.0 230,214.0" stroke="#888888" stroke-width="1.6" fill="none"/>
<path d="M128,262.0 C150,250.0 180,232.0 230,216.0" stroke="#909090" stroke-width="0.9" fill="none"/>
<path d="M128,264.0 C150,252.0 180,234.0 230,218.0" stroke="#4e4e4e" stroke-width="0.9" fill="none"/>
<path d="M128,266.0 C150,254.0 180,236.0 230,220.0" stroke="#626262" stroke-width="0.6" fill="none"/>
<path d="M128,268.0 C150,256.0 180,238.0 230,222.0" stroke="#505050" stroke-width="1.6" fill="none"/>
<path d="M128,270.0 C150,258.0 180,240.0 230,224.0" stroke="#a0a0a0" stroke-width="1.6" fill="none"/>
<path d="M128,272.0 C150,260.0 180,242.0 230,226.0" stroke="#909090" stroke-width="1.2" fill="none"/>
<path d="M128,274.0 C150,262.0 180,244.0 230,228.0" stroke="#a0a0a0" stroke-width="1.6" fill="none"/>
<path d="M128,276.0 C150,264.0 180,246.0 230,230.0" stroke="#626262" stroke-width="0.6" fill="none"/>
<path d="M128,278.0 C150,266.0 180,248.0 230,232.0" stroke="#626262" stroke-width="1.2" fill="none"/>
<path d="M128,280.0 C150,268.0 180,250.0 230,234.0" stroke="#909090" stroke-width="0.9" fill="none"/>
<path d="M128,282.0 C150,270.0 180,252.0 230,236.0" stroke="#626262" stroke-width="0.6" fill="none"/>
<path d="M128,284.0 C150,272.0 180,254.0 230,238.0" stroke="#909090" stroke-width="0.6" fill="none"/>
<path d="M128,286.0 C150,274.0 180,256.0 230,240.0" stroke="#505050" stroke-width="0.9" fill="none"/>
<path d="M128,288.0 C150,276.0 180,258.0 230,242.0" stroke="#a0a0a0" stroke-width="1.2" fill="none"/>
<path d="M128,290.0 C150,278.0 180,260.0 230,244.0" stroke="#505050" stroke-width="1.6" fill="none"/>
<path d="M128,292.0 C150,280.0 180,262.0 230,246.0" stroke="#4e4e4e" stroke-width="0.9" fill="none"/>
<path d="M128,294.0 C150,282.0 180,264.0 230,248.0" stroke="#626262" stroke-width="0.6" fill="none"/>
<path d="M128,296.0 C150,284.0 180,266.0 230,250.0" stroke="#505050" stroke-width="0.9" fill="none"/>
<path d="M128,298.0 C150,286.0 180,268.0 230,252.0" stroke="#909090" stroke-width="0.9" fill="none"/>
<path d="M128,300.0 C150,288.0 180,270.0 230,254.0" stroke="#4e4e4e" stroke-width="0.6" fill="none"/>
<path d="M128,302.0 C150,290.0 180,272.0 230,256.0" stroke="#909090" stroke-width="1.6" fill="none"/>
<path d="M128,304.0 C150,292.0 180,274.0 230,258.0" stroke="#a0a0a0" stroke-width="1.6" fill="none"/>
<path d="M128,306.0 C150,294.0 180,276.0 230,260.0" stroke="#4e4e4e" stroke-width="1.2" fill="none"/>
<path d="M128,308.0 C150,296.0 180,278.0 230,262.0" stroke="#4e4e4e" stroke-width="1.6" fill="none"/>
<path d="M128,310.0 C150,298.0 180,280.0 230,264.0" stroke="#888888" stroke-width="1.2" fill="none"/>
<path d="M128,312.0 C150,300.0 180,282.0 230,266.0" stroke="#505050" stroke-width="1.6" fill="none"/>
<path d="M128,314.0 C150,302.0 180,284.0 230,268.0" stroke="#888888" stroke-width="1.6" fill="none"/>
<path d="M128,316.0 C150,304.0 180,286.0 230,270.0" stroke="#505050" stroke-width="1.2" fill="none"/>
<path d="M128,318.0 C150,306.0 180,288.0 230,272.0" stroke="#909090" stroke-width="0.6" fill="none"/>
<path d="M128,320.0 C150,308.0 180,290.0 230,274.0" stroke="#4e4e4e" stroke-width="1.6" fill="none"/>
<path d="M128,322.0 C150,310.0 180,292.0 230,276.0" stroke="#909090" stroke-width="1.6" fill="none"/>
<path d="M128,324.0 C150,312.0 180,294.0 230,278.0" stroke="#909090" stroke-width="0.9" fill="none"/>
<path d="M128,326.0 C150,314.0 180,296.0 230,280.0" stroke="#a0a0a0" stroke-width="1.2" fill="none"/>
<path d="M128,328.0 C150,316.0 180,298.0 230,282.0" stroke="#a0a0a0" stroke-width="0.6" fill="none"/>
<path d="M128,330.0 C150,318.0 180,300.0 230,284.0" stroke="#4e4e4e" stroke-width="0.9" fill="none"/>
<path d="M128,332.0 C150,320.0 180,302.0 230,286.0" stroke="#626262" stroke-width="1.2" fill="none"/>
<path d="M128,334.0 C150,322.0 180,304.0 230,288.0" stroke="#888888" stroke-width="1.2" fill="none"/>
<path d="M128,336.0 C150,324.0 180,306.0 230,290.0" stroke="#a0a0a0" stroke-width="1.2" fill="none"/>
<path d="M128,338.0 C150,326.0 180,308.0 230,292.0" stroke="#4e4e4e" stroke-width="0.6" fill="none"/>
<path d="M128,340.0 C150,328.0 180,310.0 230,294.0" stroke="#4e4e4e" stroke-width="0.6" fill="none"/>
<path d="M128,342.0 C150,330.0 180,312.0 230,296.0" stroke="#4e4e4e" stroke-width="1.6" fill="none"/>
<path d="M128,344.0 C150,332.0 180,314.0 230,298.0" stroke="#888888" stroke-width="0.9" fill="none"/>
<path d="M128,346.0 C150,334.0 180,316.0 230,300.0" stroke="#626262" stroke-width="0.6" fill="none"/>
<path d="M128,348.0 C150,336.0 180,318.0 230,302.0" stroke="#626262" stroke-width="0.9" fill="none"/>
<path d="M128,350.0 C150,338.0 180,320.0 230,304.0" stroke="#505050" stroke-width="0.9" fill="none"/>
<path d="M128,352.0 C150,340.0 180,322.0 230,306.0" stroke="#626262" stroke-width="0.6" fill="none"/>
<path d="M128,354.0 C150,342.0 180,324.0 230,308.0" stroke="#888888" stroke-width="1.6" fill="none"/>
<path d="M128,356.0 C150,344.0 180,326.0 230,310.0" stroke="#a0a0a0" stroke-width="1.6" fill="none"/>
<path d="M128,358.0 C150,346.0 180,328.0 230,312.0" stroke="#626262" stroke-width="0.9" fill="none"/>
<path d="M128,360.0 C150,348.0 180,330.0 230,314.0" stroke="#4e4e4e" stroke-width="0.9" fill="none"/>
<path d="M128,362.0 C150,350.0 180,332.0 230,316.0" stroke="#a0a0a0" stroke-width="0.6" fill="none"/>
<path d="M128,364.0 C150,352.0 180,334.0 230,318.0" stroke="#505050" stroke-width="1.6" fill="none"/>
<path d="M130.5,241 L166,241 C158,246 147,253 140,259 C136,262 133,265 130.5,267 Z" fill="#2a2a2a"/>
<path d="M166,241 C158,246 147,253 140,259 C136,262 133,265 130.5,267" stroke="#9a9a9a" stroke-width="1.2" fill="none"/>
<polygon points="163,262 168,259 176,262 177.5,278 173,283.6 167,277" fill="#a0a0a0"/>
<path d="M163,262 L167,277 L173,283.6" stroke="#c8c8c8" stroke-width="1" fill="none"/>
<path d="M186,292 C200,284 214,274 228,266 L228,276 C214,282 200,290 190,298 Z" fill="#3c3c3c" opacity="0.7"/>
<path d="M196,303 C206,294 218,287 228,282 L228,303 Z" fill="#8c8c8c" opacity="0.8"/>
</g>
<text x="219" y="299.5" font-size="2.8" font-weight="bold" font-family="'Liberation Sans', sans-serif" fill="#fff" stroke="#fff" stroke-width="0.084" text-anchor="middle" >200 nm</text>
</g>
<text x="5.4" y="318.5" font-size="10.2" font-weight="bold" font-family="'Liberation Serif', serif" fill="#151515">(b<tspan font-size="6.3" dy="2.4">2</tspan><tspan dy="-2.4">)</tspan></text>
<rect x="29.6" y="376.56" width="1.2" height="1.2" fill="#dd1c1c" stroke="none" stroke-width="1" />
<rect x="30.09" y="374.71" width="1.2" height="1.2" fill="#dd1c1c" stroke="none" stroke-width="1" />
<rect x="30.59" y="375.76" width="1.2" height="1.2" fill="#dd1c1c" stroke="none" stroke-width="1" />
<rect x="31.08" y="374.35" width="1.2" height="1.2" fill="#dd1c1c" stroke="none" stroke-width="1" />
<rect x="31.58" y="374.21" width="1.2" height="1.2" fill="#dd1c1c" stroke="none" stroke-width="1" />
<rect x="32.07" y="377.6" width="1.2" height="1.2" fill="#dd1c1c" stroke="none" stroke-width="1" />
<rect x="32.57" y="377.92" width="1.2" height="1.2" fill="#dd1c1c" stroke="none" stroke-width="1" />
<rect x="33.06" y="372.93" width="1.2" height="1.2" fill="#dd1c1c" stroke="none" stroke-width="1" />
<rect x="33.56" y="376.43" width="1.2" height="1.2" fill="#dd1c1c" stroke="none" stroke-width="1" />
<rect x="34.05" y="376.58" width="1.2" height="1.2" fill="#dd1c1c" stroke="none" stroke-width="1" />
<rect x="34.55" y="371.98" width="1.2" height="1.2" fill="#dd1c1c" stroke="none" stroke-width="1" />
<rect x="35.05" y="375.15" width="1.2" height="1.2" fill="#dd1c1c" stroke="none" stroke-width="1" />
<rect x="35.54" y="372.94" width="1.2" height="1.2" fill="#dd1c1c" stroke="none" stroke-width="1" />
<rect x="36.04" y="375.12" width="1.2" height="1.2" fill="#dd1c1c" stroke="none" stroke-width="1" />
<rect x="36.53" y="374.13" width="1.2" height="1.2" fill="#dd1c1c" stroke="none" stroke-width="1" />
<rect x="37.02" y="377.09" width="1.2" height="1.2" fill="#dd1c1c" stroke="none" stroke-width="1" />
<rect x="37.52" y="374.16" width="1.2" height="1.2" fill="#dd1c1c" stroke="none" stroke-width="1" />
<rect x="38.02" y="372.75" width="1.2" height="1.2" fill="#dd1c1c" stroke="none" stroke-width="1" />
<rect x="38.51" y="374.83" width="1.2" height="1.2" fill="#dd1c1c" stroke="none" stroke-width="1" />
<rect x="39.01" y="373.52" width="1.2" height="1.2" fill="#dd1c1c" stroke="none" stroke-width="1" />
<rect x="39.5" y="373.94" width="1.2" height="1.2" fill="#dd1c1c" stroke="none" stroke-width="1" />
<rect x="39.99" y="377.61" width="1.2" height="1.2" fill="#dd1c1c" stroke="none" stroke-width="1" />
<rect x="40.49" y="373.41" width="1.2" height="1.2" fill="#dd1c1c" stroke="none" stroke-width="1" />
<rect x="40.98" y="373.92" width="1.2" height="1.2" fill="#dd1c1c" stroke="none" stroke-width="1" />
<rect x="41.48" y="372.56" width="1.2" height="1.2" fill="#dd1c1c" stroke="none" stroke-width="1" />
<rect x="41.97" y="370.76" width="1.2" height="1.2" fill="#dd1c1c" stroke="none" stroke-width="1" />
<rect x="42.47" y="368.61" width="1.2" height="1.2" fill="#dd1c1c" stroke="none" stroke-width="1" />
<rect x="42.96" y="366.47" width="1.2" height="1.2" fill="#dd1c1c" stroke="none" stroke-width="1" />
<rect x="43.46" y="364.29" width="1.2" height="1.2" fill="#dd1c1c" stroke="none" stroke-width="1" />
<rect x="43.95" y="361.98" width="1.2" height="1.2" fill="#dd1c1c" stroke="none" stroke-width="1" />
<rect x="44.45" y="359.67" width="1.2" height="1.2" fill="#dd1c1c" stroke="none" stroke-width="1" />
<rect x="44.94" y="357.36" width="1.2" height="1.2" fill="#dd1c1c" stroke="none" stroke-width="1" />
<rect x="45.44" y="355.63" width="1.2" height="1.2" fill="#dd1c1c" stroke="none" stroke-width="1" />
<rect x="45.93" y="353.98" width="1.2" height="1.2" fill="#dd1c1c" stroke="none" stroke-width="1" />
<rect x="46.43" y="352.33" width="1.2" height="1.2" fill="#dd1c1c" stroke="none" stroke-width="1" />
<rect x="46.92" y="351.23" width="1.2" height="1.2" fill="#dd1c1c" stroke="none" stroke-width="1" />
<rect x="47.42" y="350.57" width="1.2" height="1.2" fill="#dd1c1c" stroke="none" stroke-width="1" />
<rect x="47.91" y="349.91" width="1.2" height="1.2" fill="#dd1c1c" stroke="none" stroke-width="1" />
<rect x="48.41" y="349.34" width="1.2" height="1.2" fill="#dd1c1c" stroke="none" stroke-width="1" />
<rect x="48.9" y="349.1" width="1.2" height="1.2" fill="#dd1c1c" stroke="none" stroke-width="1" />
<rect x="49.4" y="348.85" width="1.2" height="1.2" fill="#dd1c1c" stroke="none" stroke-width="1" />
<rect x="49.89" y="348.6" width="1.2" height="1.2" fill="#dd1c1c" stroke="none" stroke-width="1" />
<rect x="50.39" y="348.35" width="1.2" height="1.2" fill="#dd1c1c" stroke="none" stroke-width="1" />
<rect x="50.88" y="348.01" width="1.2" height="1.2" fill="#dd1c1c" stroke="none" stroke-width="1" />
<rect x="51.38" y="347.64" width="1.2" height="1.2" fill="#dd1c1c" stroke="none" stroke-width="1" />
<rect x="51.87" y="347.27" width="1.2" height="1.2" fill="#dd1c1c" stroke="none" stroke-width="1" />
<rect x="52.37" y="346.9" width="1.2" height="1.2" fill="#dd1c1c" stroke="none" stroke-width="1" />
<rect x="52.86" y="346.57" width="1.2" height="1.2" fill="#dd1c1c" stroke="none" stroke-width="1" />
<rect x="53.36" y="346.32" width="1.2" height="1.2" fill="#dd1c1c" stroke="none" stroke-width="1" />
<rect x="53.85" y="346.07" width="1.2" height="1.2" fill="#dd1c1c" stroke="none" stroke-width="1" />
<rect x="54.35" y="345.82" width="1.2" height="1.2" fill="#dd1c1c" stroke="none" stroke-width="1" />
<rect x="54.84" y="345.58" width="1.2" height="1.2" fill="#dd1c1c" stroke="none" stroke-width="1" />
<rect x="55.34" y="345.33" width="1.2" height="1.2" fill="#dd1c1c" stroke="none" stroke-width="1" />
<rect x="55.83" y="345.08" width="1.2" height="1.2" fill="#dd1c1c" stroke="none" stroke-width="1" />
<rect x="56.33" y="344.83" width="1.2" height="1.2" fill="#dd1c1c" stroke="none" stroke-width="1" />
<rect x="56.82" y="344.59" width="1.2" height="1.2" fill="#dd1c1c" stroke="none" stroke-width="1" />
<rect x="57.32" y="344.36" width="1.2" height="1.2" fill="#dd1c1c" stroke="none" stroke-width="1" />
<rect x="57.81" y="344.16" width="1.2" height="1.2" fill="#dd1c1c" stroke="none" stroke-width="1" />
<rect x="58.31" y="343.97" width="1.2" height="1.2" fill="#dd1c1c" stroke="none" stroke-width="1" />
<rect x="58.8" y="343.77" width="1.2" height="1.2" fill="#dd1c1c" stroke="none" stroke-width="1" />
<rect x="59.3" y="343.57" width="1.2" height="1.2" fill="#dd1c1c" stroke="none" stroke-width="1" />
<rect x="59.79" y="343.37" width="1.2" height="1.2" fill="#dd1c1c" stroke="none" stroke-width="1" />
<rect x="60.29" y="343.17" width="1.2" height="1.2" fill="#dd1c1c" stroke="none" stroke-width="1" />
<rect x="60.78" y="342.98" width="1.2" height="1.2" fill="#dd1c1c" stroke="none" stroke-width="1" />
<rect x="61.28" y="342.78" width="1.2" height="1.2" fill="#dd1c1c" stroke="none" stroke-width="1" />
<rect x="61.77" y="342.58" width="1.2" height="1.2" fill="#dd1c1c" stroke="none" stroke-width="1" />
<rect x="62.27" y="342.38" width="1.2" height="1.2" fill="#dd1c1c" stroke="none" stroke-width="1" />
<rect x="62.76" y="342.2" width="1.2" height="1.2" fill="#dd1c1c" stroke="none" stroke-width="1" />
<rect x="63.26" y="342.05" width="1.2" height="1.2" fill="#dd1c1c" stroke="none" stroke-width="1" />
<rect x="63.75" y="341.9" width="1.2" height="1.2" fill="#dd1c1c" stroke="none" stroke-width="1" />
<rect x="64.25" y="341.75" width="1.2" height="1.2" fill="#dd1c1c" stroke="none" stroke-width="1" />
<rect x="64.74" y="341.61" width="1.2" height="1.2" fill="#dd1c1c" stroke="none" stroke-width="1" />
<rect x="65.24" y="341.46" width="1.2" height="1.2" fill="#dd1c1c" stroke="none" stroke-width="1" />
<rect x="65.73" y="341.31" width="1.2" height="1.2" fill="#dd1c1c" stroke="none" stroke-width="1" />
<rect x="66.23" y="341.16" width="1.2" height="1.2" fill="#dd1c1c" stroke="none" stroke-width="1" />
<rect x="66.72" y="341.01" width="1.2" height="1.2" fill="#dd1c1c" stroke="none" stroke-width="1" />
<rect x="67.22" y="340.86" width="1.2" height="1.2" fill="#dd1c1c" stroke="none" stroke-width="1" />
<rect x="67.71" y="340.72" width="1.2" height="1.2" fill="#dd1c1c" stroke="none" stroke-width="1" />
<rect x="68.21" y="340.58" width="1.2" height="1.2" fill="#dd1c1c" stroke="none" stroke-width="1" />
<rect x="68.7" y="340.48" width="1.2" height="1.2" fill="#dd1c1c" stroke="none" stroke-width="1" />
<rect x="69.2" y="340.38" width="1.2" height="1.2" fill="#dd1c1c" stroke="none" stroke-width="1" />
<rect x="69.69" y="340.28" width="1.2" height="1.2" fill="#dd1c1c" stroke="none" stroke-width="1" />
<rect x="70.19" y="340.18" width="1.2" height="1.2" fill="#dd1c1c" stroke="none" stroke-width="1" />
<rect x="70.69" y="340.08" width="1.2" height="1.2" fill="#dd1c1c" stroke="none" stroke-width="1" />
<rect x="71.18" y="339.98" width="1.2" height="1.2" fill="#dd1c1c" stroke="none" stroke-width="1" />
<rect x="71.68" y="339.88" width="1.2" height="1.2" fill="#dd1c1c" stroke="none" stroke-width="1" />
<rect x="72.17" y="339.79" width="1.2" height="1.2" fill="#dd1c1c" stroke="none" stroke-width="1" />
<rect x="72.67" y="339.69" width="1.2" height="1.2" fill="#dd1c1c" stroke="none" stroke-width="1" />
<rect x="73.16" y="339.59" width="1.2" height="1.2" fill="#dd1c1c" stroke="none" stroke-width="1" />
<rect x="73.66" y="339.49" width="1.2" height="1.2" fill="#dd1c1c" stroke="none" stroke-width="1" />
<rect x="74.15" y="339.39" width="1.2" height="1.2" fill="#dd1c1c" stroke="none" stroke-width="1" />
<rect x="74.65" y="339.29" width="1.2" height="1.2" fill="#dd1c1c" stroke="none" stroke-width="1" />
<rect x="75.14" y="339.19" width="1.2" height="1.2" fill="#dd1c1c" stroke="none" stroke-width="1" />
<rect x="75.64" y="339.09" width="1.2" height="1.2" fill="#dd1c1c" stroke="none" stroke-width="1" />
<rect x="76.13" y="338.99" width="1.2" height="1.2" fill="#dd1c1c" stroke="none" stroke-width="1" />
<rect x="76.63" y="338.89" width="1.2" height="1.2" fill="#dd1c1c" stroke="none" stroke-width="1" />
<rect x="77.12" y="338.8" width="1.2" height="1.2" fill="#dd1c1c" stroke="none" stroke-width="1" />
<rect x="77.62" y="338.7" width="1.2" height="1.2" fill="#dd1c1c" stroke="none" stroke-width="1" />
<rect x="78.11" y="338.6" width="1.2" height="1.2" fill="#dd1c1c" stroke="none" stroke-width="1" />
<rect x="78.61" y="338.5" width="1.2" height="1.2" fill="#dd1c1c" stroke="none" stroke-width="1" />
<rect x="79.1" y="338.4" width="1.2" height="1.2" fill="#dd1c1c" stroke="none" stroke-width="1" />
<rect x="79.6" y="338.3" width="1.2" height="1.2" fill="#dd1c1c" stroke="none" stroke-width="1" />
<rect x="80.09" y="338.2" width="1.2" height="1.2" fill="#dd1c1c" stroke="none" stroke-width="1" />
<rect x="80.59" y="338.1" width="1.2" height="1.2" fill="#dd1c1c" stroke="none" stroke-width="1" />
<rect x="81.08" y="338.0" width="1.2" height="1.2" fill="#dd1c1c" stroke="none" stroke-width="1" />
<rect x="81.58" y="337.9" width="1.2" height="1.2" fill="#dd1c1c" stroke="none" stroke-width="1" />
<rect x="82.07" y="337.81" width="1.2" height="1.2" fill="#dd1c1c" stroke="none" stroke-width="1" />
<rect x="82.57" y="337.71" width="1.2" height="1.2" fill="#dd1c1c" stroke="none" stroke-width="1" />
<rect x="83.06" y="337.61" width="1.2" height="1.2" fill="#dd1c1c" stroke="none" stroke-width="1" />
<rect x="83.56" y="337.51" width="1.2" height="1.2" fill="#dd1c1c" stroke="none" stroke-width="1" />
<rect x="84.05" y="337.41" width="1.2" height="1.2" fill="#dd1c1c" stroke="none" stroke-width="1" />
<rect x="84.55" y="337.31" width="1.2" height="1.2" fill="#dd1c1c" stroke="none" stroke-width="1" />
<rect x="85.04" y="337.26" width="1.2" height="1.2" fill="#dd1c1c" stroke="none" stroke-width="1" />
<rect x="85.54" y="337.21" width="1.2" height="1.2" fill="#dd1c1c" stroke="none" stroke-width="1" />
<rect x="86.03" y="337.16" width="1.2" height="1.2" fill="#dd1c1c" stroke="none" stroke-width="1" />
<rect x="86.53" y="337.11" width="1.2" height="1.2" fill="#dd1c1c" stroke="none" stroke-width="1" />
<rect x="87.02" y="337.06" width="1.2" height="1.2" fill="#dd1c1c" stroke="none" stroke-width="1" />
<rect x="87.52" y="337.01" width="1.2" height="1.2" fill="#dd1c1c" stroke="none" stroke-width="1" />
<rect x="88.01" y="336.96" width="1.2" height="1.2" fill="#dd1c1c" stroke="none" stroke-width="1" />
<rect x="88.51" y="336.91" width="1.2" height="1.2" fill="#dd1c1c" stroke="none" stroke-width="1" />
<rect x="89.0" y="336.86" width="1.2" height="1.2" fill="#dd1c1c" stroke="none" stroke-width="1" />
<rect x="89.5" y="336.81" width="1.2" height="1.2" fill="#dd1c1c" stroke="none" stroke-width="1" />
<rect x="89.99" y="336.76" width="1.2" height="1.2" fill="#dd1c1c" stroke="none" stroke-width="1" />
<rect x="90.49" y="336.68" width="1.2" height="1.2" fill="#dd1c1c" stroke="none" stroke-width="1" />
<rect x="90.98" y="336.58" width="1.2" height="1.2" fill="#dd1c1c" stroke="none" stroke-width="1" />
<rect x="91.48" y="336.49" width="1.2" height="1.2" fill="#dd1c1c" stroke="none" stroke-width="1" />
<rect x="91.97" y="336.4" width="1.2" height="1.2" fill="#dd1c1c" stroke="none" stroke-width="1" />
<rect x="92.47" y="336.31" width="1.2" height="1.2" fill="#dd1c1c" stroke="none" stroke-width="1" />
<rect x="92.96" y="336.21" width="1.2" height="1.2" fill="#dd1c1c" stroke="none" stroke-width="1" />
<rect x="93.46" y="336.12" width="1.2" height="1.2" fill="#dd1c1c" stroke="none" stroke-width="1" />
<rect x="93.95" y="336.03" width="1.2" height="1.2" fill="#dd1c1c" stroke="none" stroke-width="1" />
<rect x="94.45" y="335.94" width="1.2" height="1.2" fill="#dd1c1c" stroke="none" stroke-width="1" />
<rect x="94.94" y="337.36" width="1.2" height="1.2" fill="#dd1c1c" stroke="none" stroke-width="1" />
<rect x="95.44" y="338.96" width="1.2" height="1.2" fill="#dd1c1c" stroke="none" stroke-width="1" />
<rect x="95.93" y="341.65" width="1.2" height="1.2" fill="#dd1c1c" stroke="none" stroke-width="1" />
<rect x="96.43" y="344.86" width="1.2" height="1.2" fill="#dd1c1c" stroke="none" stroke-width="1" />
<rect x="96.92" y="347.75" width="1.2" height="1.2" fill="#dd1c1c" stroke="none" stroke-width="1" />
<rect x="97.42" y="350.23" width="1.2" height="1.2" fill="#dd1c1c" stroke="none" stroke-width="1" />
<rect x="97.91" y="352.65" width="1.2" height="1.2" fill="#dd1c1c" stroke="none" stroke-width="1" />
<rect x="98.41" y="354.87" width="1.2" height="1.2" fill="#dd1c1c" stroke="none" stroke-width="1" />
<rect x="98.9" y="357.1" width="1.2" height="1.2" fill="#dd1c1c" stroke="none" stroke-width="1" />
<rect x="99.4" y="359.58" width="1.2" height="1.2" fill="#dd1c1c" stroke="none" stroke-width="1" />
<rect x="99.89" y="362.05" width="1.2" height="1.2" fill="#dd1c1c" stroke="none" stroke-width="1" />
<rect x="100.39" y="364.14" width="1.2" height="1.2" fill="#dd1c1c" stroke="none" stroke-width="1" />
<rect x="100.88" y="366.12" width="1.2" height="1.2" fill="#dd1c1c" stroke="none" stroke-width="1" />
<rect x="101.38" y="367.55" width="1.2" height="1.2" fill="#dd1c1c" stroke="none" stroke-width="1" />
<rect x="101.87" y="368.54" width="1.2" height="1.2" fill="#dd1c1c" stroke="none" stroke-width="1" />
<rect x="102.37" y="369.53" width="1.2" height="1.2" fill="#dd1c1c" stroke="none" stroke-width="1" />
<rect x="102.86" y="370.48" width="1.2" height="1.2" fill="#dd1c1c" stroke="none" stroke-width="1" />
<rect x="103.36" y="371.31" width="1.2" height="1.2" fill="#dd1c1c" stroke="none" stroke-width="1" />
<rect x="103.85" y="372.13" width="1.2" height="1.2" fill="#dd1c1c" stroke="none" stroke-width="1" />
<rect x="104.35" y="372.96" width="1.2" height="1.2" fill="#dd1c1c" stroke="none" stroke-width="1" />
<rect x="104.84" y="372.72" width="1.2" height="1.2" fill="#dd1c1c" stroke="none" stroke-width="1" />
<rect x="105.34" y="374.72" width="1.2" height="1.2" fill="#dd1c1c" stroke="none" stroke-width="1" />
<rect x="105.83" y="376.6" width="1.2" height="1.2" fill="#dd1c1c" stroke="none" stroke-width="1" />
<rect x="106.33" y="371.8" width="1.2" height="1.2" fill="#dd1c1c" stroke="none" stroke-width="1" />
<rect x="106.82" y="374.31" width="1.2" height="1.2" fill="#dd1c1c" stroke="none" stroke-width="1" />
<rect x="107.32" y="372.83" width="1.2" height="1.2" fill="#dd1c1c" stroke="none" stroke-width="1" />
<rect x="107.81" y="371.86" width="1.2" height="1.2" fill="#dd1c1c" stroke="none" stroke-width="1" />
<rect x="108.31" y="372.85" width="1.2" height="1.2" fill="#dd1c1c" stroke="none" stroke-width="1" />
<rect x="108.8" y="371.6" width="1.2" height="1.2" fill="#dd1c1c" stroke="none" stroke-width="1" />
<rect x="109.3" y="374.79" width="1.2" height="1.2" fill="#dd1c1c" stroke="none" stroke-width="1" />
<rect x="109.79" y="372.33" width="1.2" height="1.2" fill="#dd1c1c" stroke="none" stroke-width="1" />
<rect x="110.29" y="374.49" width="1.2" height="1.2" fill="#dd1c1c" stroke="none" stroke-width="1" />
<rect x="110.78" y="371.51" width="1.2" height="1.2" fill="#dd1c1c" stroke="none" stroke-width="1" />
<rect x="111.28" y="371.86" width="1.2" height="1.2" fill="#dd1c1c" stroke="none" stroke-width="1" />
<rect x="111.77" y="376.59" width="1.2" height="1.2" fill="#dd1c1c" stroke="none" stroke-width="1" />
<rect x="112.27" y="376.35" width="1.2" height="1.2" fill="#dd1c1c" stroke="none" stroke-width="1" />
<rect x="112.76" y="375.86" width="1.2" height="1.2" fill="#dd1c1c" stroke="none" stroke-width="1" />
<rect x="113.26" y="371.33" width="1.2" height="1.2" fill="#dd1c1c" stroke="none" stroke-width="1" />
<rect x="113.75" y="374.54" width="1.2" height="1.2" fill="#dd1c1c" stroke="none" stroke-width="1" />
<rect x="114.25" y="373.38" width="1.2" height="1.2" fill="#dd1c1c" stroke="none" stroke-width="1" />
<rect x="114.74" y="375.35" width="1.2" height="1.2" fill="#dd1c1c" stroke="none" stroke-width="1" />
<rect x="29.6" y="376.6" width="1.2" height="1.2" fill="#222" stroke="none" stroke-width="1" />
<rect x="30.09" y="372.96" width="1.2" height="1.2" fill="#222" stroke="none" stroke-width="1" />
<rect x="30.59" y="377.1" width="1.2" height="1.2" fill="#222" stroke="none" stroke-width="1" />
<rect x="31.08" y="374.24" width="1.2" height="1.2" fill="#222" stroke="none" stroke-width="1" />
<rect x="31.58" y="377.3" width="1.2" height="1.2" fill="#222" stroke="none" stroke-width="1" />
<rect x="32.07" y="376.5" width="1.2" height="1.2" fill="#222" stroke="none" stroke-width="1" />
<rect x="32.57" y="372.78" width="1.2" height="1.2" fill="#222" stroke="none" stroke-width="1" />
<rect x="33.06" y="376.69" width="1.2" height="1.2" fill="#222" stroke="none" stroke-width="1" />
<rect x="33.56" y="374.55" width="1.2" height="1.2" fill="#222" stroke="none" stroke-width="1" />
<rect x="34.05" y="375.45" width="1.2" height="1.2" fill="#222" stroke="none" stroke-width="1" />
<rect x="34.55" y="375.48" width="1.2" height="1.2" fill="#222" stroke="none" stroke-width="1" />
<rect x="35.05" y="375.27" width="1.2" height="1.2" fill="#222" stroke="none" stroke-width="1" />
<rect x="35.54" y="376.77" width="1.2" height="1.2" fill="#222" stroke="none" stroke-width="1" />
<rect x="36.04" y="373.61" width="1.2" height="1.2" fill="#222" stroke="none" stroke-width="1" />
<rect x="36.53" y="377.28" width="1.2" height="1.2" fill="#222" stroke="none" stroke-width="1" />
<rect x="37.02" y="376.57" width="1.2" height="1.2" fill="#222" stroke="none" stroke-width="1" />
<rect x="37.52" y="377.63" width="1.2" height="1.2" fill="#222" stroke="none" stroke-width="1" />
<rect x="38.02" y="376.4" width="1.2" height="1.2" fill="#222" stroke="none" stroke-width="1" />
<rect x="38.51" y="375.71" width="1.2" height="1.2" fill="#222" stroke="none" stroke-width="1" />
<rect x="39.01" y="373.26" width="1.2" height="1.2" fill="#222" stroke="none" stroke-width="1" />
<rect x="39.5" y="375.85" width="1.2" height="1.2" fill="#222" stroke="none" stroke-width="1" />
<rect x="39.99" y="377.16" width="1.2" height="1.2" fill="#222" stroke="none" stroke-width="1" />
<rect x="40.49" y="375.35" width="1.2" height="1.2" fill="#222" stroke="none" stroke-width="1" />
<rect x="40.98" y="372.91" width="1.2" height="1.2" fill="#222" stroke="none" stroke-width="1" />
<rect x="41.48" y="370.63" width="1.2" height="1.2" fill="#222" stroke="none" stroke-width="1" />
<rect x="41.97" y="367.82" width="1.2" height="1.2" fill="#222" stroke="none" stroke-width="1" />
<rect x="42.47" y="365.02" width="1.2" height="1.2" fill="#222" stroke="none" stroke-width="1" />
<rect x="42.96" y="362.22" width="1.2" height="1.2" fill="#222" stroke="none" stroke-width="1" />
<rect x="43.46" y="359.41" width="1.2" height="1.2" fill="#222" stroke="none" stroke-width="1" />
<rect x="43.95" y="356.61" width="1.2" height="1.2" fill="#222" stroke="none" stroke-width="1" />
<rect x="44.45" y="353.8" width="1.2" height="1.2" fill="#222" stroke="none" stroke-width="1" />
<rect x="44.94" y="351.49" width="1.2" height="1.2" fill="#222" stroke="none" stroke-width="1" />
<rect x="45.44" y="349.18" width="1.2" height="1.2" fill="#222" stroke="none" stroke-width="1" />
<rect x="45.93" y="346.87" width="1.2" height="1.2" fill="#222" stroke="none" stroke-width="1" />
<rect x="46.43" y="345.0" width="1.2" height="1.2" fill="#222" stroke="none" stroke-width="1" />
<rect x="46.92" y="343.35" width="1.2" height="1.2" fill="#222" stroke="none" stroke-width="1" />
<rect x="47.42" y="341.7" width="1.2" height="1.2" fill="#222" stroke="none" stroke-width="1" />
<rect x="47.91" y="340.22" width="1.2" height="1.2" fill="#222" stroke="none" stroke-width="1" />
<rect x="48.41" y="339.06" width="1.2" height="1.2" fill="#222" stroke="none" stroke-width="1" />
<rect x="48.9" y="337.91" width="1.2" height="1.2" fill="#222" stroke="none" stroke-width="1" />
<rect x="49.4" y="336.75" width="1.2" height="1.2" fill="#222" stroke="none" stroke-width="1" />
<rect x="49.89" y="336.01" width="1.2" height="1.2" fill="#222" stroke="none" stroke-width="1" />
<rect x="50.39" y="335.26" width="1.2" height="1.2" fill="#222" stroke="none" stroke-width="1" />
<rect x="50.88" y="334.52" width="1.2" height="1.2" fill="#222" stroke="none" stroke-width="1" />
<rect x="51.38" y="333.78" width="1.2" height="1.2" fill="#222" stroke="none" stroke-width="1" />
<rect x="51.87" y="333.12" width="1.2" height="1.2" fill="#222" stroke="none" stroke-width="1" />
<rect x="52.37" y="332.53" width="1.2" height="1.2" fill="#222" stroke="none" stroke-width="1" />
<rect x="52.86" y="331.93" width="1.2" height="1.2" fill="#222" stroke="none" stroke-width="1" />
<rect x="53.36" y="331.34" width="1.2" height="1.2" fill="#222" stroke="none" stroke-width="1" />
<rect x="53.85" y="330.74" width="1.2" height="1.2" fill="#222" stroke="none" stroke-width="1" />
<rect x="54.35" y="330.15" width="1.2" height="1.2" fill="#222" stroke="none" stroke-width="1" />
<rect x="54.84" y="329.75" width="1.2" height="1.2" fill="#222" stroke="none" stroke-width="1" />
<rect x="55.34" y="329.36" width="1.2" height="1.2" fill="#222" stroke="none" stroke-width="1" />
<rect x="55.83" y="328.96" width="1.2" height="1.2" fill="#222" stroke="none" stroke-width="1" />
<rect x="56.33" y="328.57" width="1.2" height="1.2" fill="#222" stroke="none" stroke-width="1" />
<rect x="56.82" y="328.17" width="1.2" height="1.2" fill="#222" stroke="none" stroke-width="1" />
<rect x="57.32" y="327.84" width="1.2" height="1.2" fill="#222" stroke="none" stroke-width="1" />
<rect x="57.81" y="327.59" width="1.2" height="1.2" fill="#222" stroke="none" stroke-width="1" />
<rect x="58.31" y="327.34" width="1.2" height="1.2" fill="#222" stroke="none" stroke-width="1" />
<rect x="58.8" y="327.1" width="1.2" height="1.2" fill="#222" stroke="none" stroke-width="1" />
<rect x="59.3" y="326.85" width="1.2" height="1.2" fill="#222" stroke="none" stroke-width="1" />
<rect x="59.79" y="326.6" width="1.2" height="1.2" fill="#222" stroke="none" stroke-width="1" />
<rect x="60.29" y="326.36" width="1.2" height="1.2" fill="#222" stroke="none" stroke-width="1" />
<rect x="60.78" y="326.11" width="1.2" height="1.2" fill="#222" stroke="none" stroke-width="1" />
<rect x="61.28" y="325.86" width="1.2" height="1.2" fill="#222" stroke="none" stroke-width="1" />
<rect x="61.77" y="325.61" width="1.2" height="1.2" fill="#222" stroke="none" stroke-width="1" />
<rect x="62.27" y="325.37" width="1.2" height="1.2" fill="#222" stroke="none" stroke-width="1" />
<rect x="62.76" y="325.13" width="1.2" height="1.2" fill="#222" stroke="none" stroke-width="1" />
<rect x="63.26" y="324.94" width="1.2" height="1.2" fill="#222" stroke="none" stroke-width="1" />
<rect x="63.75" y="324.74" width="1.2" height="1.2" fill="#222" stroke="none" stroke-width="1" />
<rect x="64.25" y="324.54" width="1.2" height="1.2" fill="#222" stroke="none" stroke-width="1" />
<rect x="64.74" y="324.34" width="1.2" height="1.2" fill="#222" stroke="none" stroke-width="1" />
<rect x="65.24" y="324.14" width="1.2" height="1.2" fill="#222" stroke="none" stroke-width="1" />
<rect x="65.73" y="323.95" width="1.2" height="1.2" fill="#222" stroke="none" stroke-width="1" />
<rect x="66.23" y="323.75" width="1.2" height="1.2" fill="#222" stroke="none" stroke-width="1" />
<rect x="66.72" y="323.55" width="1.2" height="1.2" fill="#222" stroke="none" stroke-width="1" />
<rect x="67.22" y="323.35" width="1.2" height="1.2" fill="#222" stroke="none" stroke-width="1" />
<rect x="67.71" y="323.15" width="1.2" height="1.2" fill="#222" stroke="none" stroke-width="1" />
<rect x="68.21" y="322.98" width="1.2" height="1.2" fill="#222" stroke="none" stroke-width="1" />
<rect x="68.7" y="322.88" width="1.2" height="1.2" fill="#222" stroke="none" stroke-width="1" />
<rect x="69.2" y="322.78" width="1.2" height="1.2" fill="#222" stroke="none" stroke-width="1" />
<rect x="69.69" y="322.68" width="1.2" height="1.2" fill="#222" stroke="none" stroke-width="1" />
<rect x="70.19" y="322.58" width="1.2" height="1.2" fill="#222" stroke="none" stroke-width="1" />
<rect x="70.69" y="322.48" width="1.2" height="1.2" fill="#222" stroke="none" stroke-width="1" />
<rect x="71.18" y="322.38" width="1.2" height="1.2" fill="#222" stroke="none" stroke-width="1" />
<rect x="71.68" y="322.28" width="1.2" height="1.2" fill="#222" stroke="none" stroke-width="1" />
<rect x="72.17" y="322.19" width="1.2" height="1.2" fill="#222" stroke="none" stroke-width="1" />
<rect x="72.67" y="322.09" width="1.2" height="1.2" fill="#222" stroke="none" stroke-width="1" />
<rect x="73.16" y="321.99" width="1.2" height="1.2" fill="#222" stroke="none" stroke-width="1" />
<rect x="73.66" y="321.89" width="1.2" height="1.2" fill="#222" stroke="none" stroke-width="1" />
<rect x="74.15" y="321.76" width="1.2" height="1.2" fill="#222" stroke="none" stroke-width="1" />
<rect x="74.65" y="321.64" width="1.2" height="1.2" fill="#222" stroke="none" stroke-width="1" />
<rect x="75.14" y="321.51" width="1.2" height="1.2" fill="#222" stroke="none" stroke-width="1" />
<rect x="75.64" y="321.39" width="1.2" height="1.2" fill="#222" stroke="none" stroke-width="1" />
<rect x="76.13" y="321.27" width="1.2" height="1.2" fill="#222" stroke="none" stroke-width="1" />
<rect x="76.63" y="321.14" width="1.2" height="1.2" fill="#222" stroke="none" stroke-width="1" />
<rect x="77.12" y="321.02" width="1.2" height="1.2" fill="#222" stroke="none" stroke-width="1" />
<rect x="77.62" y="320.9" width="1.2" height="1.2" fill="#222" stroke="none" stroke-width="1" />
<rect x="78.11" y="320.77" width="1.2" height="1.2" fill="#222" stroke="none" stroke-width="1" />
<rect x="78.61" y="320.65" width="1.2" height="1.2" fill="#222" stroke="none" stroke-width="1" />
<rect x="79.1" y="320.52" width="1.2" height="1.2" fill="#222" stroke="none" stroke-width="1" />
<rect x="79.6" y="320.45" width="1.2" height="1.2" fill="#222" stroke="none" stroke-width="1" />
<rect x="80.09" y="320.38" width="1.2" height="1.2" fill="#222" stroke="none" stroke-width="1" />
<rect x="80.59" y="320.3" width="1.2" height="1.2" fill="#222" stroke="none" stroke-width="1" />
<rect x="81.08" y="320.23" width="1.2" height="1.2" fill="#222" stroke="none" stroke-width="1" />
<rect x="81.58" y="320.15" width="1.2" height="1.2" fill="#222" stroke="none" stroke-width="1" />
<rect x="82.07" y="320.08" width="1.2" height="1.2" fill="#222" stroke="none" stroke-width="1" />
<rect x="82.57" y="320.01" width="1.2" height="1.2" fill="#222" stroke="none" stroke-width="1" />
<rect x="83.06" y="319.93" width="1.2" height="1.2" fill="#222" stroke="none" stroke-width="1" />
<rect x="83.56" y="319.86" width="1.2" height="1.2" fill="#222" stroke="none" stroke-width="1" />
<rect x="84.05" y="319.78" width="1.2" height="1.2" fill="#222" stroke="none" stroke-width="1" />
<rect x="84.55" y="319.71" width="1.2" height="1.2" fill="#222" stroke="none" stroke-width="1" />
<rect x="85.04" y="319.63" width="1.2" height="1.2" fill="#222" stroke="none" stroke-width="1" />
<rect x="85.54" y="319.56" width="1.2" height="1.2" fill="#222" stroke="none" stroke-width="1" />
<rect x="86.03" y="319.49" width="1.2" height="1.2" fill="#222" stroke="none" stroke-width="1" />
<rect x="86.53" y="319.41" width="1.2" height="1.2" fill="#222" stroke="none" stroke-width="1" />
<rect x="87.02" y="319.34" width="1.2" height="1.2" fill="#222" stroke="none" stroke-width="1" />
<rect x="87.52" y="319.26" width="1.2" height="1.2" fill="#222" stroke="none" stroke-width="1" />
<rect x="88.01" y="319.19" width="1.2" height="1.2" fill="#222" stroke="none" stroke-width="1" />
<rect x="88.51" y="319.11" width="1.2" height="1.2" fill="#222" stroke="none" stroke-width="1" />
<rect x="89.0" y="319.04" width="1.2" height="1.2" fill="#222" stroke="none" stroke-width="1" />
<rect x="89.5" y="318.97" width="1.2" height="1.2" fill="#222" stroke="none" stroke-width="1" />
<rect x="89.99" y="318.89" width="1.2" height="1.2" fill="#222" stroke="none" stroke-width="1" />
<rect x="90.49" y="318.8" width="1.2" height="1.2" fill="#222" stroke="none" stroke-width="1" />
<rect x="90.98" y="318.71" width="1.2" height="1.2" fill="#222" stroke="none" stroke-width="1" />
<rect x="91.48" y="318.62" width="1.2" height="1.2" fill="#222" stroke="none" stroke-width="1" />
<rect x="91.97" y="318.52" width="1.2" height="1.2" fill="#222" stroke="none" stroke-width="1" />
<rect x="92.47" y="318.43" width="1.2" height="1.2" fill="#222" stroke="none" stroke-width="1" />
<rect x="92.96" y="318.34" width="1.2" height="1.2" fill="#222" stroke="none" stroke-width="1" />
<rect x="93.46" y="318.25" width="1.2" height="1.2" fill="#222" stroke="none" stroke-width="1" />
<rect x="93.95" y="318.15" width="1.2" height="1.2" fill="#222" stroke="none" stroke-width="1" />
<rect x="94.45" y="318.06" width="1.2" height="1.2" fill="#222" stroke="none" stroke-width="1" />
<rect x="94.94" y="319.52" width="1.2" height="1.2" fill="#222" stroke="none" stroke-width="1" />
<rect x="95.44" y="321.83" width="1.2" height="1.2" fill="#222" stroke="none" stroke-width="1" />
<rect x="95.93" y="326.45" width="1.2" height="1.2" fill="#222" stroke="none" stroke-width="1" />
<rect x="96.43" y="330.98" width="1.2" height="1.2" fill="#222" stroke="none" stroke-width="1" />
<rect x="96.92" y="335.43" width="1.2" height="1.2" fill="#222" stroke="none" stroke-width="1" />
<rect x="97.42" y="340.05" width="1.2" height="1.2" fill="#222" stroke="none" stroke-width="1" />
<rect x="97.91" y="345.0" width="1.2" height="1.2" fill="#222" stroke="none" stroke-width="1" />
<rect x="98.41" y="349.81" width="1.2" height="1.2" fill="#222" stroke="none" stroke-width="1" />
<rect x="98.9" y="353.53" width="1.2" height="1.2" fill="#222" stroke="none" stroke-width="1" />
<rect x="99.4" y="357.24" width="1.2" height="1.2" fill="#222" stroke="none" stroke-width="1" />
<rect x="99.89" y="360.07" width="1.2" height="1.2" fill="#222" stroke="none" stroke-width="1" />
<rect x="100.39" y="362.79" width="1.2" height="1.2" fill="#222" stroke="none" stroke-width="1" />
<rect x="100.88" y="365.02" width="1.2" height="1.2" fill="#222" stroke="none" stroke-width="1" />
<rect x="101.38" y="367.0" width="1.2" height="1.2" fill="#222" stroke="none" stroke-width="1" />
<rect x="101.87" y="368.61" width="1.2" height="1.2" fill="#222" stroke="none" stroke-width="1" />
<rect x="102.37" y="369.77" width="1.2" height="1.2" fill="#222" stroke="none" stroke-width="1" />
<rect x="102.86" y="370.92" width="1.2" height="1.2" fill="#222" stroke="none" stroke-width="1" />
<rect x="103.36" y="372.02" width="1.2" height="1.2" fill="#222" stroke="none" stroke-width="1" />
<rect x="103.85" y="372.68" width="1.2" height="1.2" fill="#222" stroke="none" stroke-width="1" />
<rect x="104.35" y="373.34" width="1.2" height="1.2" fill="#222" stroke="none" stroke-width="1" />
<rect x="104.84" y="371.57" width="1.2" height="1.2" fill="#222" stroke="none" stroke-width="1" />
<rect x="105.34" y="376.33" width="1.2" height="1.2" fill="#222" stroke="none" stroke-width="1" />
<rect x="105.83" y="373.6" width="1.2" height="1.2" fill="#222" stroke="none" stroke-width="1" />
<rect x="106.33" y="374.83" width="1.2" height="1.2" fill="#222" stroke="none" stroke-width="1" />
<rect x="106.82" y="373.45" width="1.2" height="1.2" fill="#222" stroke="none" stroke-width="1" />
<rect x="107.32" y="375.07" width="1.2" height="1.2" fill="#222" stroke="none" stroke-width="1" />
<rect x="107.81" y="373.35" width="1.2" height="1.2" fill="#222" stroke="none" stroke-width="1" />
<rect x="108.31" y="374.34" width="1.2" height="1.2" fill="#222" stroke="none" stroke-width="1" />
<rect x="108.8" y="373.61" width="1.2" height="1.2" fill="#222" stroke="none" stroke-width="1" />
<rect x="109.3" y="372.39" width="1.2" height="1.2" fill="#222" stroke="none" stroke-width="1" />
<rect x="109.79" y="374.0" width="1.2" height="1.2" fill="#222" stroke="none" stroke-width="1" />
<rect x="110.29" y="376.2" width="1.2" height="1.2" fill="#222" stroke="none" stroke-width="1" />
<rect x="110.78" y="376.61" width="1.2" height="1.2" fill="#222" stroke="none" stroke-width="1" />
<rect x="111.28" y="372.27" width="1.2" height="1.2" fill="#222" stroke="none" stroke-width="1" />
<rect x="111.77" y="374.57" width="1.2" height="1.2" fill="#222" stroke="none" stroke-width="1" />
<rect x="112.27" y="376.05" width="1.2" height="1.2" fill="#222" stroke="none" stroke-width="1" />
<rect x="112.76" y="372.35" width="1.2" height="1.2" fill="#222" stroke="none" stroke-width="1" />
<rect x="113.26" y="374.2" width="1.2" height="1.2" fill="#222" stroke="none" stroke-width="1" />
<rect x="113.75" y="373.48" width="1.2" height="1.2" fill="#222" stroke="none" stroke-width="1" />
<rect x="114.25" y="372.75" width="1.2" height="1.2" fill="#222" stroke="none" stroke-width="1" />
<rect x="114.74" y="375.73" width="1.2" height="1.2" fill="#222" stroke="none" stroke-width="1" />
<rect x="29.8" y="311.6" width="87.7" height="68.29999999999995" fill="none" stroke="#333" stroke-width="0.9" />
<line x1="28.5" y1="377.5" x2="29.8" y2="377.5" stroke="#333" stroke-width="0.6" />
<text x="27.8" y="379.2" font-size="5.0" font-weight="bold" font-family="'Liberation Serif', serif" fill="#111" stroke="#111" stroke-width="0.15" text-anchor="end" >0</text>
<line x1="28.5" y1="366.5" x2="29.8" y2="366.5" stroke="#333" stroke-width="0.6" />
<text x="27.8" y="368.2" font-size="5.0" font-weight="bold" font-family="'Liberation Serif', serif" fill="#111" stroke="#111" stroke-width="0.15" text-anchor="end" >2</text>
<line x1="28.5" y1="355.5" x2="29.8" y2="355.5" stroke="#333" stroke-width="0.6" />
<text x="27.8" y="357.2" font-size="5.0" font-weight="bold" font-family="'Liberation Serif', serif" fill="#111" stroke="#111" stroke-width="0.15" text-anchor="end" >4</text>
<line x1="28.5" y1="344.5" x2="29.8" y2="344.5" stroke="#333" stroke-width="0.6" />
<text x="27.8" y="346.2" font-size="5.0" font-weight="bold" font-family="'Liberation Serif', serif" fill="#111" stroke="#111" stroke-width="0.15" text-anchor="end" >6</text>
<line x1="28.5" y1="333.5" x2="29.8" y2="333.5" stroke="#333" stroke-width="0.6" />
<text x="27.8" y="335.2" font-size="5.0" font-weight="bold" font-family="'Liberation Serif', serif" fill="#111" stroke="#111" stroke-width="0.15" text-anchor="end" >8</text>
<line x1="28.5" y1="322.5" x2="29.8" y2="322.5" stroke="#333" stroke-width="0.6" />
<text x="27.8" y="324.2" font-size="5.0" font-weight="bold" font-family="'Liberation Serif', serif" fill="#111" stroke="#111" stroke-width="0.15" text-anchor="end" >10</text>
<line x1="28.5" y1="311.5" x2="29.8" y2="311.5" stroke="#333" stroke-width="0.6" />
<text x="27.8" y="313.2" font-size="5.0" font-weight="bold" font-family="'Liberation Serif', serif" fill="#111" stroke="#111" stroke-width="0.15" text-anchor="end" >12</text>
<line x1="29.1" y1="372.0" x2="29.8" y2="372.0" stroke="#333" stroke-width="0.5" />
<line x1="29.1" y1="361.0" x2="29.8" y2="361.0" stroke="#333" stroke-width="0.5" />
<line x1="29.1" y1="350.0" x2="29.8" y2="350.0" stroke="#333" stroke-width="0.5" />
<line x1="29.1" y1="339.0" x2="29.8" y2="339.0" stroke="#333" stroke-width="0.5" />
<line x1="29.1" y1="328.0" x2="29.8" y2="328.0" stroke="#333" stroke-width="0.5" />
<line x1="29.1" y1="317.0" x2="29.8" y2="317.0" stroke="#333" stroke-width="0.5" />
<line x1="30.2" y1="379.9" x2="30.2" y2="381.2" stroke="#333" stroke-width="0.6" />
<text x="30.2" y="385.7" font-size="5.0" font-weight="bold" font-family="'Liberation Serif', serif" fill="#111" stroke="#111" stroke-width="0.15" text-anchor="middle" >0</text>
<line x1="41.2" y1="379.9" x2="41.2" y2="381.2" stroke="#333" stroke-width="0.6" />
<text x="41.2" y="385.7" font-size="5.0" font-weight="bold" font-family="'Liberation Serif', serif" fill="#111" stroke="#111" stroke-width="0.15" text-anchor="middle" >20</text>
<line x1="52.2" y1="379.9" x2="52.2" y2="381.2" stroke="#333" stroke-width="0.6" />
<text x="52.2" y="385.7" font-size="5.0" font-weight="bold" font-family="'Liberation Serif', serif" fill="#111" stroke="#111" stroke-width="0.15" text-anchor="middle" >40</text>
<line x1="63.2" y1="379.9" x2="63.2" y2="381.2" stroke="#333" stroke-width="0.6" />
<text x="63.2" y="385.7" font-size="5.0" font-weight="bold" font-family="'Liberation Serif', serif" fill="#111" stroke="#111" stroke-width="0.15" text-anchor="middle" >60</text>
<line x1="74.2" y1="379.9" x2="74.2" y2="381.2" stroke="#333" stroke-width="0.6" />
<text x="74.2" y="385.7" font-size="5.0" font-weight="bold" font-family="'Liberation Serif', serif" fill="#111" stroke="#111" stroke-width="0.15" text-anchor="middle" >80</text>
<line x1="85.2" y1="379.9" x2="85.2" y2="381.2" stroke="#333" stroke-width="0.6" />
<text x="85.2" y="385.7" font-size="5.0" font-weight="bold" font-family="'Liberation Serif', serif" fill="#111" stroke="#111" stroke-width="0.15" text-anchor="middle" >100</text>
<line x1="96.2" y1="379.9" x2="96.2" y2="381.2" stroke="#333" stroke-width="0.6" />
<text x="96.2" y="385.7" font-size="5.0" font-weight="bold" font-family="'Liberation Serif', serif" fill="#111" stroke="#111" stroke-width="0.15" text-anchor="middle" >120</text>
<line x1="107.2" y1="379.9" x2="107.2" y2="381.2" stroke="#333" stroke-width="0.6" />
<text x="107.2" y="385.7" font-size="5.0" font-weight="bold" font-family="'Liberation Serif', serif" fill="#111" stroke="#111" stroke-width="0.15" text-anchor="middle" >140</text>
<line x1="118.2" y1="379.9" x2="118.2" y2="381.2" stroke="#333" stroke-width="0.6" />
<text x="118.2" y="385.7" font-size="5.0" font-weight="bold" font-family="'Liberation Serif', serif" fill="#111" stroke="#111" stroke-width="0.15" text-anchor="middle" >160</text>
<rect x="36" y="315.9" width="1" height="1" fill="#222" stroke="none" stroke-width="1" />
<text x="40.5" y="317.6" font-size="3.4" font-weight="bold" font-family="'Liberation Serif', serif" fill="#111" stroke="#111" stroke-width="0.102" text-anchor="start"><tspan font-size="3.40" dy="0.00">MoS</tspan><tspan font-size="2.11" dy="0.85">2</tspan><tspan font-size="3.40" dy="-0.85">/MXene</tspan></text>
<rect x="36" y="321.9" width="1" height="1" fill="#dd1c1c" stroke="none" stroke-width="1" />
<text x="40.5" y="323.6" font-size="3.4" font-weight="bold" font-family="'Liberation Serif', serif" fill="#111" stroke="#111" stroke-width="0.102" text-anchor="start"><tspan font-size="3.40" dy="0.00">MoS</tspan><tspan font-size="2.11" dy="0.85">2</tspan></text>
<circle cx="110.2" cy="319.3" r="1.4" fill="#1a3ad0"/>
<path d="M108.2,317.8 L111.8,319.3 L108.6,320.8 Z" fill="#1a3ad0" stroke="none" stroke-width="1" />
<text x="74" y="392.8" font-size="5.2" font-weight="bold" font-family="'Liberation Serif', serif" fill="#111" stroke="#111" stroke-width="0.156" text-anchor="middle" >Time (s)</text>
<text x="0" y="0" font-size="5.4" font-weight="bold" font-family="'Liberation Serif', serif" fill="#111" text-anchor="middle" transform="translate(17.4,349.2) rotate(-90)">Gas response (%)</text>
<rect x="129.5" y="311" width="96" height="79" fill="#fbeee5" stroke="none" stroke-width="1" />
<clipPath id="slabcp"><path d="M143,323 C148,320 152,324 158,325 C163,326 167,320 172,319.5 C178,319 182,325 188,325.5 C194,326 198,320.5 204,320 C210,320 214,324 218,324 C221,324 223,322.5 225.5,322.5 L223,339.5 C212,340 200,343 188,342 C176,341 165,344 155,343.5 C152,343.3 150,343 148.5,342.5 Z"/></clipPath>
<g clip-path="url(#slabcp)">
<rect x="140" y="315" width="90" height="32" fill="#2f80dd" stroke="none" stroke-width="1" />
<line x1="140" y1="330.1" x2="230" y2="327.1" stroke="#eba57a" stroke-width="1.3" stroke-dasharray="8 1.6" stroke-dashoffset="0.0"/>
<line x1="140" y1="332.3" x2="230" y2="329.3" stroke="#eba57a" stroke-width="1.3" stroke-dasharray="9 1.6" stroke-dashoffset="3.7"/>
<line x1="140" y1="334.5" x2="230" y2="331.5" stroke="#eba57a" stroke-width="1.3" stroke-dasharray="10 1.6" stroke-dashoffset="7.4"/>
<line x1="140" y1="336.7" x2="230" y2="333.7" stroke="#eba57a" stroke-width="1.3" stroke-dasharray="8 1.6" stroke-dashoffset="11.1"/>
<line x1="140" y1="338.9" x2="230" y2="335.9" stroke="#eba57a" stroke-width="1.3" stroke-dasharray="9 1.6" stroke-dashoffset="14.8"/>
<line x1="140" y1="341.1" x2="230" y2="338.1" stroke="#eba57a" stroke-width="1.3" stroke-dasharray="10 1.6" stroke-dashoffset="18.5"/>
<line x1="140" y1="343.3" x2="230" y2="340.3" stroke="#eba57a" stroke-width="1.3" stroke-dasharray="8 1.6" stroke-dashoffset="22.2"/>
<line x1="151.5" y1="324" x2="149" y2="345" stroke="#2f80dd" stroke-width="1.8"/>
<line x1="165.5" y1="324" x2="163" y2="345" stroke="#2f80dd" stroke-width="1.8"/>
<line x1="180.5" y1="324" x2="178" y2="345" stroke="#2f80dd" stroke-width="1.8"/>
<line x1="194.5" y1="324" x2="192" y2="345" stroke="#2f80dd" stroke-width="1.8"/>
<line x1="209.5" y1="324" x2="207" y2="345" stroke="#2f80dd" stroke-width="1.8"/>
<line x1="221.5" y1="324" x2="219" y2="345" stroke="#2f80dd" stroke-width="1.8"/>
</g>
<ellipse cx="156" cy="317.2" rx="8.8" ry="7.0" fill="#e4ecf9"/>
<ellipse cx="157.3" cy="316.59999999999997" rx="2.0" ry="1.4" fill="#1840b0"/>
<circle cx="153.00" cy="314.70" r="0.5" fill="#fff" stroke="none" stroke-width="0.3" />
<circle cx="155.00" cy="320.20" r="0.5" fill="#fff" stroke="none" stroke-width="0.3" />
<path d="M147.7,318.0 C147.5,321.7 151,323.7 154.5,324.0" stroke="#c8202a" stroke-width="1.1" fill="none"/>
<path d="M160,317.7 C163,318.2 164.5,320.7 163.5,323.7" stroke="#c8202a" stroke-width="1.1" fill="none"/>
<ellipse cx="182.5" cy="317.5" rx="8.8" ry="7.0" fill="#e4ecf9"/>
<ellipse cx="183.8" cy="316.9" rx="2.0" ry="1.4" fill="#1840b0"/>
<circle cx="179.50" cy="315.00" r="0.5" fill="#fff" stroke="none" stroke-width="0.3" />
<circle cx="181.50" cy="320.50" r="0.5" fill="#fff" stroke="none" stroke-width="0.3" />
<path d="M174.2,318.3 C174.0,322.0 177.5,324.0 181.0,324.3" stroke="#c8202a" stroke-width="1.1" fill="none"/>
<path d="M186.5,318.0 C189.5,318.5 191.0,321.0 190.0,324.0" stroke="#c8202a" stroke-width="1.1" fill="none"/>
<ellipse cx="213" cy="319" rx="8.8" ry="7.0" fill="#e4ecf9"/>
<ellipse cx="214.3" cy="318.4" rx="2.0" ry="1.4" fill="#1840b0"/>
<circle cx="210.00" cy="316.50" r="0.5" fill="#fff" stroke="none" stroke-width="0.3" />
<circle cx="212.00" cy="322.00" r="0.5" fill="#fff" stroke="none" stroke-width="0.3" />
<path d="M204.7,319.8 C204.5,323.5 208,325.5 211.5,325.8" stroke="#c8202a" stroke-width="1.1" fill="none"/>
<path d="M217,319.5 C220,320 221.5,322.5 220.5,325.5" stroke="#c8202a" stroke-width="1.1" fill="none"/>
<text x="140.5" y="327.5" font-size="3.0" font-weight="normal" font-family="'Liberation Serif', serif" fill="#333" stroke="#333" stroke-width="0.09" text-anchor="start" >e-</text>
<line x1="165.3" y1="340" x2="165.3" y2="376" stroke="#222" stroke-width="0.9" />
<line x1="141.6" y1="347.3" x2="164" y2="347.3" stroke="#a8b8d8" stroke-width="0.8" stroke-dasharray="3 2"/>
<line x1="167" y1="347.3" x2="212" y2="347.3" stroke="#a8b8d8" stroke-width="0.8" stroke-dasharray="3 2"/>
<path d="M165.8,345 C166.5,349 167.5,350.5 170,350.5 L213,350.5" fill="none" stroke="#f0b48a" stroke-width="0.9" />
<path d="M165.8,350 C166.5,355 167.5,357.5 170,357.5 L213,357.5" fill="none" stroke="#d03030" stroke-width="0.7" stroke-dasharray="1.4 1"/>
<path d="M165.8,368 C166.5,372 167.5,373.5 170,373.5 L213,373.5" fill="none" stroke="#f0b48a" stroke-width="0.9" />
<path d="M165.8,374 C166.5,378 167.5,379.5 170,379.5 L213,379.5" fill="none" stroke="#d03030" stroke-width="0.7" stroke-dasharray="1.4 1"/>
<line x1="142" y1="363.1" x2="215" y2="363.1" stroke="#555" stroke-width="1.1" stroke-dasharray="3.2 2.2"/>
<rect x="144.4" y="364.2" width="20.5" height="22.2" fill="#d6e8d2" stroke="none" stroke-width="1" />
<line x1="148.9" y1="349" x2="148.9" y2="362" stroke="#6878c8" stroke-width="0.5" />
<path d="M148.9,347.8 l-0.8,1.6 l1.6,0 z" fill="#6878c8" stroke="none" stroke-width="1" />
<path d="M148.9,362.5 l-0.8,-1.6 l1.6,0 z" fill="#6878c8" stroke="none" stroke-width="1" />
<text x="140.5" y="354.5" font-size="4.0" font-weight="normal" font-family="'Liberation Serif', serif" fill="#111" stroke="#111" stroke-width="0.120" text-anchor="start"><tspan font-size="4.00" dy="0.00">Φ</tspan><tspan font-size="2.48" dy="1.00">M</tspan></text>
<line x1="161.6" y1="348.5" x2="161.6" y2="352.5" stroke="#c82020" stroke-width="0.6" />
<path d="M161.6,353.5 l-0.9,-1.6 l1.8,0 z" fill="#c82020" stroke="none" stroke-width="1" />
<text x="151" y="350.5" font-size="2.4" font-weight="normal" font-family="'Liberation Serif', serif" fill="#c82020" stroke="#c82020" stroke-width="0.072" text-anchor="start"><tspan font-size="2.40" dy="0.00">ΔΦ</tspan><tspan font-size="1.49" dy="0.60">NH3</tspan></text>
<line x1="185" y1="347.6" x2="185" y2="350.2" stroke="#3050c0" stroke-width="0.6" />
<text x="188.5" y="350" font-size="4.2" font-weight="normal" font-family="'Liberation Serif', serif" fill="#111" stroke="#111" stroke-width="0.126" text-anchor="start"><tspan font-size="4.20" dy="0.00">V</tspan><tspan font-size="2.60" dy="1.05">s</tspan></text>
<line x1="199.8" y1="351" x2="199.8" y2="357" stroke="#c82020" stroke-width="0.6" />
<path d="M199.8,350.6 l-0.9,1.6 l1.8,0 z" fill="#c82020" stroke="none" stroke-width="1" />
<path d="M199.8,357.4 l-0.9,-1.6 l1.8,0 z" fill="#c82020" stroke="none" stroke-width="1" />
<text x="201.5" y="355" font-size="2.6" font-weight="normal" font-family="'Liberation Serif', serif" fill="#c82020" stroke="#c82020" stroke-width="0.078" text-anchor="start"><tspan font-size="2.60" dy="0.00">ΔV</tspan><tspan font-size="1.61" dy="0.65">s</tspan></text>
<text x="171" y="356" font-size="4.4" font-weight="normal" font-family="'Liberation Serif', serif" fill="#111" stroke="#111" stroke-width="0.132" text-anchor="start"><tspan font-size="4.40" dy="0.00">NH</tspan><tspan font-size="2.73" dy="1.10">3</tspan><tspan font-size="2.73" dy="-2.64">+</tspan></text>
<text x="214.5" y="352.5" font-size="4.6" font-weight="normal" font-family="'Liberation Serif', serif" fill="#111" stroke="#111" stroke-width="0.138" text-anchor="start" >CB</text>
<text x="215" y="365.5" font-size="4.6" font-weight="normal" font-family="'Liberation Serif', serif" fill="#111" stroke="#111" stroke-width="0.138" text-anchor="start"><tspan font-size="4.60" dy="0.00">E</tspan><tspan font-size="2.85" dy="1.15">F</tspan></text>
<text x="214.5" y="375.5" font-size="4.6" font-weight="normal" font-family="'Liberation Serif', serif" fill="#111" stroke="#111" stroke-width="0.138" text-anchor="start" >VB</text>
<text x="146" y="379" font-size="5.0" font-weight="normal" font-family="'Liberation Serif', serif" fill="#111" stroke="#111" stroke-width="0.150" text-anchor="start"><tspan font-size="5.00" dy="0.00">Ti</tspan><tspan font-size="3.10" dy="1.25">3</tspan><tspan font-size="5.00" dy="-1.25">C</tspan><tspan font-size="3.10" dy="1.25">2</tspan></text>
<text x="182.5" y="387" font-size="4.8" font-weight="normal" font-family="'Liberation Serif', serif" fill="#111" stroke="#111" stroke-width="0.144" text-anchor="start"><tspan font-size="4.80" dy="0.00">MoS</tspan><tspan font-size="2.98" dy="1.20">2</tspan></text>
<text x="124.4" y="319.8" font-size="10.2" font-weight="bold" font-family="'Liberation Serif', serif" fill="#151515">(b<tspan font-size="6.3" dy="2.4">3</tspan><tspan dy="-2.4">)</tspan></text>
<text x="239.7" y="183.5" font-size="10.2" font-weight="bold" font-family="'Liberation Serif', serif" fill="#151515">(c<tspan font-size="6.3" dy="2.4">1</tspan><tspan dy="-2.4">)</tspan></text>
<clipPath id="cpc1"><rect x="255" y="174" width="105" height="69"/></clipPath>
<g clip-path="url(#cpc1)"><g filter="url(#grain2)">
<rect x="255" y="174" width="105" height="69" fill="#141414" stroke="none" stroke-width="1" />
<circle cx="256.30" cy="181.80" r="1.0" fill="#777" stroke="none" stroke-width="0.3" />
<circle cx="259.50" cy="239.60" r="1.1" fill="#777" stroke="none" stroke-width="0.3" />
<circle cx="334.50" cy="184.20" r="1.3" fill="#777" stroke="none" stroke-width="0.3" />
<circle cx="261.40" cy="190.00" r="1.3" fill="#777" stroke="none" stroke-width="0.3" />
<circle cx="298.30" cy="242.70" r="0.7" fill="#555" stroke="none" stroke-width="0.3" />
<circle cx="335.90" cy="235.20" r="0.9" fill="#555" stroke="none" stroke-width="0.3" />
<circle cx="289.70" cy="199.20" r="1.6" fill="#555" stroke="none" stroke-width="0.3" />
<circle cx="331.00" cy="202.70" r="1.3" fill="#555" stroke="none" stroke-width="0.3" />
<circle cx="355.10" cy="231.90" r="1.0" fill="#555" stroke="none" stroke-width="0.3" />
<circle cx="270.50" cy="228.90" r="1.0" fill="#555" stroke="none" stroke-width="0.3" />
<circle cx="332.20" cy="233.90" r="1.3" fill="#555" stroke="none" stroke-width="0.3" />
<circle cx="276.80" cy="203.80" r="1.0" fill="#666" stroke="none" stroke-width="0.3" />
<circle cx="322.30" cy="189.10" r="0.6" fill="#666" stroke="none" stroke-width="0.3" />
<circle cx="285.80" cy="213.50" r="1.1" fill="#777" stroke="none" stroke-width="0.3" />
<circle cx="342.80" cy="240.30" r="1.6" fill="#555" stroke="none" stroke-width="0.3" />
<circle cx="337.90" cy="195.10" r="0.8" fill="#777" stroke="none" stroke-width="0.3" />
<circle cx="353.30" cy="231.80" r="0.9" fill="#555" stroke="none" stroke-width="0.3" />
<circle cx="275.20" cy="237.60" r="1.2" fill="#777" stroke="none" stroke-width="0.3" />
<circle cx="355.50" cy="220.20" r="0.9" fill="#666" stroke="none" stroke-width="0.3" />
<circle cx="323.20" cy="242.40" r="0.8" fill="#666" stroke="none" stroke-width="0.3" />
<circle cx="276.30" cy="197.00" r="1.0" fill="#555" stroke="none" stroke-width="0.3" />
<circle cx="314.00" cy="182.10" r="0.7" fill="#777" stroke="none" stroke-width="0.3" />
<circle cx="267.50" cy="187.40" r="0.9" fill="#777" stroke="none" stroke-width="0.3" />
<circle cx="359.00" cy="184.50" r="0.7" fill="#777" stroke="none" stroke-width="0.3" />
<circle cx="337.80" cy="193.20" r="1.0" fill="#777" stroke="none" stroke-width="0.3" />
<circle cx="306.50" cy="214.80" r="1.5" fill="#666" stroke="none" stroke-width="0.3" />
<circle cx="269.50" cy="224.00" r="1.3" fill="#555" stroke="none" stroke-width="0.3" />
<circle cx="281.70" cy="226.80" r="1.6" fill="#666" stroke="none" stroke-width="0.3" />
<circle cx="279.90" cy="180.70" r="1.2" fill="#666" stroke="none" stroke-width="0.3" />
<circle cx="273.50" cy="177.10" r="0.7" fill="#777" stroke="none" stroke-width="0.3" />
<circle cx="260.20" cy="216.40" r="0.8" fill="#555" stroke="none" stroke-width="0.3" />
<circle cx="354.40" cy="233.80" r="1.3" fill="#777" stroke="none" stroke-width="0.3" />
<circle cx="302.80" cy="222.00" r="1.1" fill="#777" stroke="none" stroke-width="0.3" />
<circle cx="297.10" cy="210.20" r="1.3" fill="#666" stroke="none" stroke-width="0.3" />
<polygon points="265,223 296,227 299,244 268,244 263,235" fill="#767676"/>
<polygon points="254,226 261,225 263,236 258,244 254,244" fill="#4a4a4a"/>
<polygon points="286.7,183 292,177 296,175 310,173.5 318,176 320,184 319.5,193 300,193 288,191" fill="#a2a2a2"/>
<path d="M255,190 L264,186.5 L272,186.5 L285,192 L300,193 L319.5,195 L335,196 L345,196.5 L355,200.5 L361,203.5 L361,224 L350,226 L330,228 L310,229 L290,227 L272,223 L256,221 Z" fill="#b2b2b2"/>
<path d="M255,190 L264,186.5 L272,186.5 L285,192 L300,193 L319.5,195 L335,196 L345,196.5 L300,203 L275,203 L256,200 Z" fill="#fff" opacity="0.18"/>
<path d="M256,214 L290,219 L330,221 L361,218 L361,224 L350,226 L330,228 L310,229 L290,227 L272,223 L256,221 Z" fill="#000" opacity="0.12"/>
<circle cx="287.40" cy="230.50" r="0.5" fill="#585858" stroke="none" stroke-width="0.3" opacity="0.7"/>
<circle cx="268.00" cy="228.00" r="0.7" fill="#585858" stroke="none" stroke-width="0.3" opacity="0.7"/>
<circle cx="327.50" cy="214.00" r="0.4" fill="#404040" stroke="none" stroke-width="0.3" opacity="0.7"/>
<circle cx="331.90" cy="188.30" r="0.4" fill="#585858" stroke="none" stroke-width="0.3" opacity="0.7"/>
<circle cx="276.50" cy="235.40" r="0.5" fill="#d8d8d8" stroke="none" stroke-width="0.3" opacity="0.7"/>
<circle cx="351.50" cy="192.60" r="0.8" fill="#404040" stroke="none" stroke-width="0.3" opacity="0.7"/>
<circle cx="258.50" cy="216.40" r="0.7" fill="#585858" stroke="none" stroke-width="0.3" opacity="0.7"/>
<circle cx="311.30" cy="204.00" r="0.7" fill="#d8d8d8" stroke="none" stroke-width="0.3" opacity="0.7"/>
<circle cx="297.10" cy="230.40" r="0.5" fill="#d8d8d8" stroke="none" stroke-width="0.3" opacity="0.7"/>
<circle cx="280.20" cy="196.20" r="0.4" fill="#585858" stroke="none" stroke-width="0.3" opacity="0.7"/>
<circle cx="266.80" cy="188.90" r="0.8" fill="#e8e8e8" stroke="none" stroke-width="0.3" opacity="0.7"/>
<circle cx="348.30" cy="205.20" r="0.6" fill="#d8d8d8" stroke="none" stroke-width="0.3" opacity="0.7"/>
<circle cx="298.90" cy="178.70" r="0.4" fill="#e8e8e8" stroke="none" stroke-width="0.3" opacity="0.7"/>
<circle cx="342.30" cy="241.70" r="0.4" fill="#585858" stroke="none" stroke-width="0.3" opacity="0.7"/>
<circle cx="334.50" cy="194.70" r="0.8" fill="#585858" stroke="none" stroke-width="0.3" opacity="0.7"/>
<circle cx="297.40" cy="227.60" r="0.4" fill="#d8d8d8" stroke="none" stroke-width="0.3" opacity="0.7"/>
<circle cx="343.90" cy="211.30" r="0.5" fill="#404040" stroke="none" stroke-width="0.3" opacity="0.7"/>
<circle cx="325.40" cy="222.80" r="0.3" fill="#e8e8e8" stroke="none" stroke-width="0.3" opacity="0.7"/>
<circle cx="353.80" cy="220.50" r="0.6" fill="#585858" stroke="none" stroke-width="0.3" opacity="0.7"/>
<circle cx="287.40" cy="200.70" r="0.6" fill="#d8d8d8" stroke="none" stroke-width="0.3" opacity="0.7"/>
<circle cx="335.60" cy="177.30" r="0.6" fill="#d8d8d8" stroke="none" stroke-width="0.3" opacity="0.7"/>
<circle cx="260.10" cy="239.90" r="0.6" fill="#585858" stroke="none" stroke-width="0.3" opacity="0.7"/>
<circle cx="283.70" cy="181.40" r="0.6" fill="#585858" stroke="none" stroke-width="0.3" opacity="0.7"/>
<circle cx="281.10" cy="207.90" r="0.8" fill="#d8d8d8" stroke="none" stroke-width="0.3" opacity="0.7"/>
<circle cx="335.40" cy="195.30" r="0.7" fill="#e8e8e8" stroke="none" stroke-width="0.3" opacity="0.7"/>
<circle cx="278.70" cy="233.40" r="0.6" fill="#404040" stroke="none" stroke-width="0.3" opacity="0.7"/>
<circle cx="257.40" cy="229.40" r="0.5" fill="#e8e8e8" stroke="none" stroke-width="0.3" opacity="0.7"/>
<circle cx="334.70" cy="220.00" r="0.3" fill="#585858" stroke="none" stroke-width="0.3" opacity="0.7"/>
<circle cx="279.70" cy="242.50" r="0.5" fill="#585858" stroke="none" stroke-width="0.3" opacity="0.7"/>
<circle cx="261.00" cy="213.30" r="0.8" fill="#585858" stroke="none" stroke-width="0.3" opacity="0.7"/>
<circle cx="320.00" cy="188.00" r="0.4" fill="#404040" stroke="none" stroke-width="0.3" opacity="0.7"/>
<circle cx="326.80" cy="231.90" r="0.3" fill="#e8e8e8" stroke="none" stroke-width="0.3" opacity="0.7"/>
<circle cx="302.40" cy="201.70" r="0.7" fill="#585858" stroke="none" stroke-width="0.3" opacity="0.7"/>
<circle cx="300.00" cy="212.40" r="0.7" fill="#e8e8e8" stroke="none" stroke-width="0.3" opacity="0.7"/>
<circle cx="260.90" cy="234.10" r="0.5" fill="#d8d8d8" stroke="none" stroke-width="0.3" opacity="0.7"/>
<circle cx="268.10" cy="200.30" r="0.4" fill="#585858" stroke="none" stroke-width="0.3" opacity="0.7"/>
<circle cx="290.80" cy="237.40" r="0.7" fill="#585858" stroke="none" stroke-width="0.3" opacity="0.7"/>
<circle cx="317.80" cy="230.60" r="0.5" fill="#404040" stroke="none" stroke-width="0.3" opacity="0.7"/>
<circle cx="274.60" cy="189.60" r="0.4" fill="#d8d8d8" stroke="none" stroke-width="0.3" opacity="0.7"/>
<circle cx="267.20" cy="232.80" r="0.7" fill="#585858" stroke="none" stroke-width="0.3" opacity="0.7"/>
<circle cx="282.90" cy="227.80" r="0.5" fill="#404040" stroke="none" stroke-width="0.3" opacity="0.7"/>
<circle cx="308.50" cy="197.00" r="0.8" fill="#e8e8e8" stroke="none" stroke-width="0.3" opacity="0.7"/>
<circle cx="305.10" cy="183.90" r="0.5" fill="#d8d8d8" stroke="none" stroke-width="0.3" opacity="0.7"/>
<circle cx="261.50" cy="215.50" r="0.5" fill="#585858" stroke="none" stroke-width="0.3" opacity="0.7"/>
<circle cx="312.60" cy="227.40" r="0.4" fill="#d8d8d8" stroke="none" stroke-width="0.3" opacity="0.7"/>
<circle cx="312.90" cy="214.90" r="0.7" fill="#585858" stroke="none" stroke-width="0.3" opacity="0.7"/>
<circle cx="269.70" cy="195.00" r="0.5" fill="#e8e8e8" stroke="none" stroke-width="0.3" opacity="0.7"/>
<circle cx="312.00" cy="233.10" r="0.8" fill="#585858" stroke="none" stroke-width="0.3" opacity="0.7"/>
<circle cx="333.60" cy="218.60" r="0.4" fill="#d8d8d8" stroke="none" stroke-width="0.3" opacity="0.7"/>
<circle cx="304.80" cy="210.90" r="0.7" fill="#d8d8d8" stroke="none" stroke-width="0.3" opacity="0.7"/>
<circle cx="299.70" cy="240.70" r="0.4" fill="#d8d8d8" stroke="none" stroke-width="0.3" opacity="0.7"/>
<circle cx="326.60" cy="214.30" r="0.7" fill="#e8e8e8" stroke="none" stroke-width="0.3" opacity="0.7"/>
<circle cx="349.20" cy="230.80" r="0.5" fill="#e8e8e8" stroke="none" stroke-width="0.3" opacity="0.7"/>
<circle cx="294.00" cy="226.60" r="0.7" fill="#e8e8e8" stroke="none" stroke-width="0.3" opacity="0.7"/>
<circle cx="345.00" cy="185.20" r="0.7" fill="#e8e8e8" stroke="none" stroke-width="0.3" opacity="0.7"/>
<circle cx="317.10" cy="197.90" r="0.7" fill="#404040" stroke="none" stroke-width="0.3" opacity="0.7"/>
<circle cx="334.10" cy="236.60" r="0.6" fill="#d8d8d8" stroke="none" stroke-width="0.3" opacity="0.7"/>
<circle cx="261.80" cy="175.30" r="0.3" fill="#585858" stroke="none" stroke-width="0.3" opacity="0.7"/>
<circle cx="314.50" cy="190.40" r="0.5" fill="#e8e8e8" stroke="none" stroke-width="0.3" opacity="0.7"/>
<circle cx="286.30" cy="177.60" r="0.4" fill="#404040" stroke="none" stroke-width="0.3" opacity="0.7"/>
<circle cx="261.80" cy="201.90" r="0.6" fill="#d8d8d8" stroke="none" stroke-width="0.3" opacity="0.7"/>
<circle cx="323.20" cy="197.70" r="0.6" fill="#e8e8e8" stroke="none" stroke-width="0.3" opacity="0.7"/>
<circle cx="357.30" cy="233.50" r="0.7" fill="#404040" stroke="none" stroke-width="0.3" opacity="0.7"/>
<circle cx="289.20" cy="191.20" r="0.7" fill="#e8e8e8" stroke="none" stroke-width="0.3" opacity="0.7"/>
<circle cx="352.00" cy="198.80" r="0.5" fill="#d8d8d8" stroke="none" stroke-width="0.3" opacity="0.7"/>
<circle cx="357.60" cy="223.10" r="0.6" fill="#d8d8d8" stroke="none" stroke-width="0.3" opacity="0.7"/>
<circle cx="352.00" cy="213.20" r="0.4" fill="#404040" stroke="none" stroke-width="0.3" opacity="0.7"/>
<circle cx="349.20" cy="193.40" r="0.4" fill="#d8d8d8" stroke="none" stroke-width="0.3" opacity="0.7"/>
<circle cx="291.10" cy="185.10" r="0.5" fill="#585858" stroke="none" stroke-width="0.3" opacity="0.7"/>
<circle cx="353.60" cy="193.10" r="0.5" fill="#585858" stroke="none" stroke-width="0.3" opacity="0.7"/>
<circle cx="356.70" cy="206.20" r="0.7" fill="#e8e8e8" stroke="none" stroke-width="0.3" opacity="0.7"/>
<circle cx="276.00" cy="202.60" r="0.6" fill="#404040" stroke="none" stroke-width="0.3" opacity="0.7"/>
<circle cx="256.70" cy="210.80" r="0.6" fill="#e8e8e8" stroke="none" stroke-width="0.3" opacity="0.7"/>
<circle cx="299.30" cy="209.20" r="0.7" fill="#e8e8e8" stroke="none" stroke-width="0.3" opacity="0.7"/>
<circle cx="306.60" cy="210.20" r="0.6" fill="#404040" stroke="none" stroke-width="0.3" opacity="0.7"/>
<circle cx="280.20" cy="221.40" r="0.8" fill="#585858" stroke="none" stroke-width="0.3" opacity="0.7"/>
<circle cx="334.10" cy="201.40" r="0.3" fill="#d8d8d8" stroke="none" stroke-width="0.3" opacity="0.7"/>
<circle cx="271.70" cy="215.60" r="0.5" fill="#e8e8e8" stroke="none" stroke-width="0.3" opacity="0.7"/>
<circle cx="355.50" cy="182.80" r="0.6" fill="#585858" stroke="none" stroke-width="0.3" opacity="0.7"/>
<circle cx="290.90" cy="192.00" r="0.4" fill="#404040" stroke="none" stroke-width="0.3" opacity="0.7"/>
<circle cx="257.70" cy="201.30" r="0.3" fill="#404040" stroke="none" stroke-width="0.3" opacity="0.7"/>
<circle cx="301.80" cy="239.80" r="0.5" fill="#e8e8e8" stroke="none" stroke-width="0.3" opacity="0.7"/>
<circle cx="336.10" cy="238.40" r="0.4" fill="#585858" stroke="none" stroke-width="0.3" opacity="0.7"/>
<circle cx="294.00" cy="185.20" r="0.4" fill="#585858" stroke="none" stroke-width="0.3" opacity="0.7"/>
<circle cx="347.50" cy="182.20" r="0.4" fill="#404040" stroke="none" stroke-width="0.3" opacity="0.7"/>
<circle cx="262.20" cy="188.90" r="0.3" fill="#e8e8e8" stroke="none" stroke-width="0.3" opacity="0.7"/>
<circle cx="277.80" cy="181.00" r="0.3" fill="#e8e8e8" stroke="none" stroke-width="0.3" opacity="0.7"/>
<circle cx="309.90" cy="177.90" r="0.3" fill="#d8d8d8" stroke="none" stroke-width="0.3" opacity="0.7"/>
<circle cx="271.10" cy="182.10" r="0.6" fill="#404040" stroke="none" stroke-width="0.3" opacity="0.7"/>
<circle cx="261.70" cy="231.90" r="0.5" fill="#585858" stroke="none" stroke-width="0.3" opacity="0.7"/>
<circle cx="289.20" cy="230.70" r="0.5" fill="#404040" stroke="none" stroke-width="0.3" opacity="0.7"/>
<circle cx="346.20" cy="234.50" r="0.7" fill="#e8e8e8" stroke="none" stroke-width="0.3" opacity="0.7"/>
<circle cx="278.50" cy="206.50" r="0.6" fill="#d8d8d8" stroke="none" stroke-width="0.3" opacity="0.7"/>
<circle cx="314.20" cy="218.50" r="0.3" fill="#404040" stroke="none" stroke-width="0.3" opacity="0.7"/>
<circle cx="328.10" cy="231.20" r="0.8" fill="#d8d8d8" stroke="none" stroke-width="0.3" opacity="0.7"/>
<circle cx="320.50" cy="184.20" r="0.5" fill="#d8d8d8" stroke="none" stroke-width="0.3" opacity="0.7"/>
<circle cx="315.00" cy="215.60" r="0.7" fill="#e8e8e8" stroke="none" stroke-width="0.3" opacity="0.7"/>
<circle cx="320.70" cy="199.70" r="0.7" fill="#e8e8e8" stroke="none" stroke-width="0.3" opacity="0.7"/>
<circle cx="291.10" cy="228.80" r="0.6" fill="#e8e8e8" stroke="none" stroke-width="0.3" opacity="0.7"/>
<circle cx="308.10" cy="180.70" r="0.6" fill="#d8d8d8" stroke="none" stroke-width="0.3" opacity="0.7"/>
<circle cx="292.90" cy="236.70" r="0.7" fill="#d8d8d8" stroke="none" stroke-width="0.3" opacity="0.7"/>
<circle cx="267.10" cy="183.20" r="0.7" fill="#585858" stroke="none" stroke-width="0.3" opacity="0.7"/>
<circle cx="343.30" cy="229.40" r="0.7" fill="#585858" stroke="none" stroke-width="0.3" opacity="0.7"/>
<circle cx="257.00" cy="234.80" r="0.6" fill="#e8e8e8" stroke="none" stroke-width="0.3" opacity="0.7"/>
<circle cx="294.80" cy="229.90" r="0.6" fill="#585858" stroke="none" stroke-width="0.3" opacity="0.7"/>
<circle cx="277.10" cy="195.90" r="0.3" fill="#e8e8e8" stroke="none" stroke-width="0.3" opacity="0.7"/>
<circle cx="315.60" cy="233.50" r="0.6" fill="#d8d8d8" stroke="none" stroke-width="0.3" opacity="0.7"/>
<circle cx="353.60" cy="219.30" r="0.7" fill="#d8d8d8" stroke="none" stroke-width="0.3" opacity="0.7"/>
<circle cx="313.70" cy="223.50" r="0.7" fill="#404040" stroke="none" stroke-width="0.3" opacity="0.7"/>
<circle cx="309.70" cy="233.00" r="0.6" fill="#585858" stroke="none" stroke-width="0.3" opacity="0.7"/>
<circle cx="317.60" cy="191.30" r="0.5" fill="#e8e8e8" stroke="none" stroke-width="0.3" opacity="0.7"/>
<circle cx="316.00" cy="174.60" r="0.6" fill="#d8d8d8" stroke="none" stroke-width="0.3" opacity="0.7"/>
<circle cx="359.60" cy="237.80" r="0.5" fill="#585858" stroke="none" stroke-width="0.3" opacity="0.7"/>
<circle cx="347.70" cy="196.50" r="0.5" fill="#404040" stroke="none" stroke-width="0.3" opacity="0.7"/>
<circle cx="330.80" cy="201.10" r="0.7" fill="#404040" stroke="none" stroke-width="0.3" opacity="0.7"/>
<circle cx="358.40" cy="215.10" r="0.7" fill="#d8d8d8" stroke="none" stroke-width="0.3" opacity="0.7"/>
<circle cx="297.70" cy="222.70" r="0.5" fill="#585858" stroke="none" stroke-width="0.3" opacity="0.7"/>
<circle cx="332.90" cy="231.70" r="0.4" fill="#404040" stroke="none" stroke-width="0.3" opacity="0.7"/>
<circle cx="278.80" cy="179.80" r="0.4" fill="#404040" stroke="none" stroke-width="0.3" opacity="0.7"/>
<circle cx="300.50" cy="209.60" r="0.7" fill="#585858" stroke="none" stroke-width="0.3" opacity="0.7"/>
<circle cx="311.00" cy="221.10" r="0.3" fill="#d8d8d8" stroke="none" stroke-width="0.3" opacity="0.7"/>
<circle cx="300.00" cy="198.80" r="0.6" fill="#404040" stroke="none" stroke-width="0.3" opacity="0.7"/>
<circle cx="308.70" cy="191.50" r="0.4" fill="#404040" stroke="none" stroke-width="0.3" opacity="0.7"/>
<circle cx="331.90" cy="233.80" r="0.6" fill="#404040" stroke="none" stroke-width="0.3" opacity="0.7"/>
<circle cx="343.40" cy="201.80" r="0.6" fill="#d8d8d8" stroke="none" stroke-width="0.3" opacity="0.7"/>
<circle cx="322.50" cy="199.00" r="0.4" fill="#585858" stroke="none" stroke-width="0.3" opacity="0.7"/>
<circle cx="322.40" cy="218.50" r="0.5" fill="#d8d8d8" stroke="none" stroke-width="0.3" opacity="0.7"/>
<circle cx="301.20" cy="224.50" r="0.6" fill="#585858" stroke="none" stroke-width="0.3" opacity="0.7"/>
<circle cx="276.30" cy="179.30" r="0.7" fill="#e8e8e8" stroke="none" stroke-width="0.3" opacity="0.7"/>
<circle cx="308.60" cy="237.00" r="0.4" fill="#585858" stroke="none" stroke-width="0.3" opacity="0.7"/>
<circle cx="307.90" cy="181.30" r="0.4" fill="#404040" stroke="none" stroke-width="0.3" opacity="0.7"/>
<circle cx="340.80" cy="220.80" r="0.8" fill="#404040" stroke="none" stroke-width="0.3" opacity="0.7"/>
<circle cx="260.00" cy="208.10" r="0.8" fill="#585858" stroke="none" stroke-width="0.3" opacity="0.7"/>
<circle cx="285.00" cy="183.60" r="0.4" fill="#d8d8d8" stroke="none" stroke-width="0.3" opacity="0.7"/>
<circle cx="257.40" cy="206.70" r="0.8" fill="#d8d8d8" stroke="none" stroke-width="0.3" opacity="0.7"/>
<circle cx="323.90" cy="231.40" r="0.8" fill="#585858" stroke="none" stroke-width="0.3" opacity="0.7"/>
<circle cx="294.60" cy="183.80" r="0.5" fill="#585858" stroke="none" stroke-width="0.3" opacity="0.7"/>
<circle cx="269.20" cy="210.80" r="0.5" fill="#d8d8d8" stroke="none" stroke-width="0.3" opacity="0.7"/>
<circle cx="280.80" cy="223.60" r="0.7" fill="#585858" stroke="none" stroke-width="0.3" opacity="0.7"/>
<circle cx="338.40" cy="223.10" r="0.6" fill="#585858" stroke="none" stroke-width="0.3" opacity="0.7"/>
<circle cx="310.80" cy="177.60" r="0.4" fill="#404040" stroke="none" stroke-width="0.3" opacity="0.7"/>
<circle cx="318.10" cy="188.20" r="0.7" fill="#e8e8e8" stroke="none" stroke-width="0.3" opacity="0.7"/>
<circle cx="339.50" cy="177.30" r="0.7" fill="#404040" stroke="none" stroke-width="0.3" opacity="0.7"/>
<circle cx="345.40" cy="188.30" r="0.8" fill="#e8e8e8" stroke="none" stroke-width="0.3" opacity="0.7"/>
<circle cx="346.80" cy="177.70" r="0.5" fill="#e8e8e8" stroke="none" stroke-width="0.3" opacity="0.7"/>
<circle cx="273.60" cy="205.60" r="0.4" fill="#585858" stroke="none" stroke-width="0.3" opacity="0.7"/>
<circle cx="317.20" cy="198.70" r="0.7" fill="#585858" stroke="none" stroke-width="0.3" opacity="0.7"/>
<circle cx="317.70" cy="183.40" r="0.4" fill="#d8d8d8" stroke="none" stroke-width="0.3" opacity="0.7"/>
<circle cx="319.50" cy="174.70" r="0.8" fill="#e8e8e8" stroke="none" stroke-width="0.3" opacity="0.7"/>
<circle cx="346.80" cy="210.70" r="0.6" fill="#404040" stroke="none" stroke-width="0.3" opacity="0.7"/>
<circle cx="291.70" cy="209.20" r="0.3" fill="#e8e8e8" stroke="none" stroke-width="0.3" opacity="0.7"/>
<circle cx="323.30" cy="179.10" r="0.8" fill="#585858" stroke="none" stroke-width="0.3" opacity="0.7"/>
<circle cx="332.60" cy="205.50" r="0.4" fill="#d8d8d8" stroke="none" stroke-width="0.3" opacity="0.7"/>
<circle cx="349.50" cy="241.00" r="0.5" fill="#585858" stroke="none" stroke-width="0.3" opacity="0.7"/>
<circle cx="260.40" cy="220.00" r="0.7" fill="#404040" stroke="none" stroke-width="0.3" opacity="0.7"/>
<circle cx="349.80" cy="240.50" r="0.6" fill="#585858" stroke="none" stroke-width="0.3" opacity="0.7"/>
<circle cx="353.10" cy="187.80" r="0.8" fill="#e8e8e8" stroke="none" stroke-width="0.3" opacity="0.7"/>
<circle cx="357.80" cy="204.50" r="0.5" fill="#d8d8d8" stroke="none" stroke-width="0.3" opacity="0.7"/>
<circle cx="259.70" cy="202.40" r="0.6" fill="#d8d8d8" stroke="none" stroke-width="0.3" opacity="0.7"/>
<circle cx="274.10" cy="180.50" r="0.5" fill="#e8e8e8" stroke="none" stroke-width="0.3" opacity="0.7"/>
<circle cx="269.10" cy="186.90" r="0.5" fill="#585858" stroke="none" stroke-width="0.3" opacity="0.7"/>
<circle cx="257.10" cy="192.80" r="0.4" fill="#e8e8e8" stroke="none" stroke-width="0.3" opacity="0.7"/>
<circle cx="341.70" cy="211.40" r="0.8" fill="#e8e8e8" stroke="none" stroke-width="0.3" opacity="0.7"/>
<circle cx="345.30" cy="216.00" r="0.5" fill="#e8e8e8" stroke="none" stroke-width="0.3" opacity="0.7"/>
<circle cx="292.90" cy="241.40" r="0.6" fill="#d8d8d8" stroke="none" stroke-width="0.3" opacity="0.7"/>
<circle cx="264.80" cy="211.20" r="0.5" fill="#d8d8d8" stroke="none" stroke-width="0.3" opacity="0.7"/>
<circle cx="345.30" cy="200.80" r="0.3" fill="#d8d8d8" stroke="none" stroke-width="0.3" opacity="0.7"/>
<circle cx="276.70" cy="231.00" r="0.6" fill="#d8d8d8" stroke="none" stroke-width="0.3" opacity="0.7"/>
<circle cx="274.50" cy="181.00" r="0.3" fill="#585858" stroke="none" stroke-width="0.3" opacity="0.7"/>
<circle cx="326.40" cy="242.30" r="0.6" fill="#585858" stroke="none" stroke-width="0.3" opacity="0.7"/>
<circle cx="309.60" cy="237.70" r="0.4" fill="#e8e8e8" stroke="none" stroke-width="0.3" opacity="0.7"/>
<circle cx="327.20" cy="175.90" r="0.4" fill="#e8e8e8" stroke="none" stroke-width="0.3" opacity="0.7"/>
<circle cx="337.50" cy="239.00" r="0.4" fill="#e8e8e8" stroke="none" stroke-width="0.3" opacity="0.7"/>
<circle cx="334.80" cy="232.70" r="0.4" fill="#404040" stroke="none" stroke-width="0.3" opacity="0.7"/>
<circle cx="356.40" cy="175.50" r="0.6" fill="#585858" stroke="none" stroke-width="0.3" opacity="0.7"/>
<circle cx="346.90" cy="191.30" r="0.7" fill="#e8e8e8" stroke="none" stroke-width="0.3" opacity="0.7"/>
<circle cx="263.40" cy="231.10" r="0.8" fill="#404040" stroke="none" stroke-width="0.3" opacity="0.7"/>
<circle cx="274.40" cy="222.40" r="0.8" fill="#585858" stroke="none" stroke-width="0.3" opacity="0.7"/>
<circle cx="344.40" cy="203.90" r="0.8" fill="#585858" stroke="none" stroke-width="0.3" opacity="0.7"/>
<circle cx="299.20" cy="199.90" r="0.5" fill="#585858" stroke="none" stroke-width="0.3" opacity="0.7"/>
<circle cx="283.60" cy="174.40" r="0.6" fill="#404040" stroke="none" stroke-width="0.3" opacity="0.7"/>
<circle cx="341.70" cy="194.50" r="0.7" fill="#e8e8e8" stroke="none" stroke-width="0.3" opacity="0.7"/>
<circle cx="359.50" cy="223.30" r="0.7" fill="#e8e8e8" stroke="none" stroke-width="0.3" opacity="0.7"/>
<circle cx="266.60" cy="190.50" r="0.6" fill="#404040" stroke="none" stroke-width="0.3" opacity="0.7"/>
<circle cx="279.30" cy="188.50" r="0.5" fill="#585858" stroke="none" stroke-width="0.3" opacity="0.7"/>
<circle cx="264.50" cy="233.80" r="0.5" fill="#d8d8d8" stroke="none" stroke-width="0.3" opacity="0.7"/>
<circle cx="289.20" cy="205.30" r="0.8" fill="#585858" stroke="none" stroke-width="0.3" opacity="0.7"/>
<circle cx="356.30" cy="184.40" r="0.4" fill="#d8d8d8" stroke="none" stroke-width="0.3" opacity="0.7"/>
<circle cx="257.10" cy="218.60" r="0.5" fill="#404040" stroke="none" stroke-width="0.3" opacity="0.7"/>
<circle cx="348.20" cy="198.40" r="0.5" fill="#e8e8e8" stroke="none" stroke-width="0.3" opacity="0.7"/>
<circle cx="319.70" cy="204.60" r="0.4" fill="#585858" stroke="none" stroke-width="0.3" opacity="0.7"/>
<circle cx="323.60" cy="190.60" r="0.8" fill="#404040" stroke="none" stroke-width="0.3" opacity="0.7"/>
<circle cx="267.50" cy="188.20" r="0.4" fill="#585858" stroke="none" stroke-width="0.3" opacity="0.7"/>
<circle cx="306.90" cy="208.10" r="0.3" fill="#d8d8d8" stroke="none" stroke-width="0.3" opacity="0.7"/>
<circle cx="356.90" cy="175.00" r="0.8" fill="#e8e8e8" stroke="none" stroke-width="0.3" opacity="0.7"/>
<circle cx="326.60" cy="217.90" r="0.4" fill="#404040" stroke="none" stroke-width="0.3" opacity="0.7"/>
<circle cx="298.10" cy="234.00" r="0.3" fill="#d8d8d8" stroke="none" stroke-width="0.3" opacity="0.7"/>
<circle cx="271.60" cy="186.90" r="0.5" fill="#585858" stroke="none" stroke-width="0.3" opacity="0.7"/>
<circle cx="336.50" cy="201.60" r="0.7" fill="#d8d8d8" stroke="none" stroke-width="0.3" opacity="0.7"/>
<circle cx="340.20" cy="203.80" r="0.5" fill="#585858" stroke="none" stroke-width="0.3" opacity="0.7"/>
<circle cx="263.30" cy="205.80" r="0.5" fill="#404040" stroke="none" stroke-width="0.3" opacity="0.7"/>
<circle cx="257.40" cy="199.30" r="0.6" fill="#e8e8e8" stroke="none" stroke-width="0.3" opacity="0.7"/>
<circle cx="305.60" cy="191.80" r="0.4" fill="#585858" stroke="none" stroke-width="0.3" opacity="0.7"/>
<circle cx="328.10" cy="190.60" r="0.6" fill="#d8d8d8" stroke="none" stroke-width="0.3" opacity="0.7"/>
<circle cx="350.10" cy="200.90" r="0.3" fill="#585858" stroke="none" stroke-width="0.3" opacity="0.7"/>
<circle cx="322.10" cy="203.60" r="0.4" fill="#404040" stroke="none" stroke-width="0.3" opacity="0.7"/>
<circle cx="256.00" cy="210.00" r="0.6" fill="#404040" stroke="none" stroke-width="0.3" opacity="0.7"/>
<circle cx="269.30" cy="238.80" r="0.4" fill="#d8d8d8" stroke="none" stroke-width="0.3" opacity="0.7"/>
<circle cx="319.40" cy="195.20" r="0.7" fill="#d8d8d8" stroke="none" stroke-width="0.3" opacity="0.7"/>
<circle cx="338.70" cy="229.00" r="0.6" fill="#585858" stroke="none" stroke-width="0.3" opacity="0.7"/>
<circle cx="289.30" cy="177.70" r="0.8" fill="#404040" stroke="none" stroke-width="0.3" opacity="0.7"/>
<circle cx="296.20" cy="219.50" r="0.7" fill="#d8d8d8" stroke="none" stroke-width="0.3" opacity="0.7"/>
<circle cx="276.00" cy="209.20" r="0.4" fill="#404040" stroke="none" stroke-width="0.3" opacity="0.7"/>
<circle cx="256.90" cy="222.40" r="0.7" fill="#d8d8d8" stroke="none" stroke-width="0.3" opacity="0.7"/>
<circle cx="290.90" cy="176.40" r="0.4" fill="#e8e8e8" stroke="none" stroke-width="0.3" opacity="0.7"/>
<circle cx="263.10" cy="221.90" r="0.4" fill="#e8e8e8" stroke="none" stroke-width="0.3" opacity="0.7"/>
<circle cx="266.90" cy="183.00" r="0.4" fill="#404040" stroke="none" stroke-width="0.3" opacity="0.7"/>
<circle cx="256.90" cy="206.90" r="0.8" fill="#e8e8e8" stroke="none" stroke-width="0.3" opacity="0.7"/>
<circle cx="256.60" cy="219.80" r="0.5" fill="#d8d8d8" stroke="none" stroke-width="0.3" opacity="0.7"/>
<circle cx="322.30" cy="179.00" r="0.6" fill="#404040" stroke="none" stroke-width="0.3" opacity="0.7"/>
<circle cx="334.40" cy="236.10" r="0.6" fill="#e8e8e8" stroke="none" stroke-width="0.3" opacity="0.7"/>
<circle cx="321.40" cy="178.00" r="0.7" fill="#d8d8d8" stroke="none" stroke-width="0.3" opacity="0.7"/>
<circle cx="333.20" cy="216.60" r="0.6" fill="#e8e8e8" stroke="none" stroke-width="0.3" opacity="0.7"/>
<circle cx="329.00" cy="203.40" r="0.5" fill="#e8e8e8" stroke="none" stroke-width="0.3" opacity="0.7"/>
<circle cx="269.00" cy="221.80" r="0.5" fill="#e8e8e8" stroke="none" stroke-width="0.3" opacity="0.7"/>
<circle cx="274.10" cy="212.30" r="0.6" fill="#e8e8e8" stroke="none" stroke-width="0.3" opacity="0.7"/>
<circle cx="344.40" cy="230.70" r="0.4" fill="#e8e8e8" stroke="none" stroke-width="0.3" opacity="0.7"/>
<circle cx="287.00" cy="241.70" r="0.7" fill="#404040" stroke="none" stroke-width="0.3" opacity="0.7"/>
<circle cx="354.80" cy="242.80" r="0.7" fill="#404040" stroke="none" stroke-width="0.3" opacity="0.7"/>
<circle cx="333.50" cy="222.80" r="0.5" fill="#404040" stroke="none" stroke-width="0.3" opacity="0.7"/>
<circle cx="340.60" cy="208.10" r="0.5" fill="#e8e8e8" stroke="none" stroke-width="0.3" opacity="0.7"/>
<circle cx="344.00" cy="194.60" r="0.7" fill="#d8d8d8" stroke="none" stroke-width="0.3" opacity="0.7"/>
<circle cx="278.20" cy="210.80" r="0.6" fill="#585858" stroke="none" stroke-width="0.3" opacity="0.7"/>
<circle cx="262.00" cy="240.20" r="0.5" fill="#585858" stroke="none" stroke-width="0.3" opacity="0.7"/>
<circle cx="354.80" cy="197.40" r="0.4" fill="#e8e8e8" stroke="none" stroke-width="0.3" opacity="0.7"/>
<circle cx="339.20" cy="204.40" r="0.5" fill="#404040" stroke="none" stroke-width="0.3" opacity="0.7"/>
<circle cx="320.50" cy="233.40" r="0.3" fill="#e8e8e8" stroke="none" stroke-width="0.3" opacity="0.7"/>
<circle cx="330.40" cy="221.40" r="0.5" fill="#585858" stroke="none" stroke-width="0.3" opacity="0.7"/>
<circle cx="307.30" cy="208.50" r="0.7" fill="#404040" stroke="none" stroke-width="0.3" opacity="0.7"/>
<circle cx="320.80" cy="217.00" r="0.6" fill="#d8d8d8" stroke="none" stroke-width="0.3" opacity="0.7"/>
<circle cx="262.90" cy="208.60" r="0.8" fill="#404040" stroke="none" stroke-width="0.3" opacity="0.7"/>
<circle cx="331.80" cy="218.10" r="0.4" fill="#d8d8d8" stroke="none" stroke-width="0.3" opacity="0.7"/>
<circle cx="301.80" cy="238.70" r="0.3" fill="#404040" stroke="none" stroke-width="0.3" opacity="0.7"/>
<circle cx="358.70" cy="233.60" r="0.6" fill="#d8d8d8" stroke="none" stroke-width="0.3" opacity="0.7"/>
<circle cx="322.10" cy="226.00" r="0.7" fill="#404040" stroke="none" stroke-width="0.3" opacity="0.7"/>
<circle cx="304.40" cy="178.40" r="0.3" fill="#585858" stroke="none" stroke-width="0.3" opacity="0.7"/>
<circle cx="283.60" cy="185.90" r="0.5" fill="#404040" stroke="none" stroke-width="0.3" opacity="0.7"/>
<circle cx="276.10" cy="241.50" r="0.7" fill="#d8d8d8" stroke="none" stroke-width="0.3" opacity="0.7"/>
<circle cx="261.40" cy="181.80" r="0.6" fill="#e8e8e8" stroke="none" stroke-width="0.3" opacity="0.7"/>
<circle cx="286.20" cy="190.40" r="0.4" fill="#d8d8d8" stroke="none" stroke-width="0.3" opacity="0.7"/>
<circle cx="308.40" cy="216.60" r="0.6" fill="#e8e8e8" stroke="none" stroke-width="0.3" opacity="0.7"/>
<circle cx="342.30" cy="203.30" r="0.6" fill="#585858" stroke="none" stroke-width="0.3" opacity="0.7"/>
<circle cx="281.90" cy="238.40" r="0.7" fill="#e8e8e8" stroke="none" stroke-width="0.3" opacity="0.7"/>
<circle cx="271.30" cy="192.30" r="0.6" fill="#404040" stroke="none" stroke-width="0.3" opacity="0.7"/>
<circle cx="311.50" cy="177.20" r="0.4" fill="#e8e8e8" stroke="none" stroke-width="0.3" opacity="0.7"/>
<circle cx="274.40" cy="216.90" r="0.6" fill="#d8d8d8" stroke="none" stroke-width="0.3" opacity="0.7"/>
<circle cx="299.80" cy="187.00" r="0.5" fill="#e8e8e8" stroke="none" stroke-width="0.3" opacity="0.7"/>
<circle cx="316.60" cy="216.90" r="0.6" fill="#d8d8d8" stroke="none" stroke-width="0.3" opacity="0.7"/>
<circle cx="333.00" cy="198.30" r="0.8" fill="#585858" stroke="none" stroke-width="0.3" opacity="0.7"/>
<circle cx="294.80" cy="217.10" r="0.7" fill="#404040" stroke="none" stroke-width="0.3" opacity="0.7"/>
<line x1="312" y1="206" x2="342" y2="208.5" stroke="#e8e8e8" stroke-width="0.7" />
</g>
<line x1="346" y1="235.4" x2="358" y2="235.4" stroke="#fff" stroke-width="0.9" />
<text x="352" y="240.5" font-size="3.2" font-weight="bold" font-family="'Liberation Sans', sans-serif" fill="#fff" stroke="#fff" stroke-width="0.096" text-anchor="middle" >2 μm</text>
<text x="351" y="178" font-size="2.6" font-weight="bold" font-family="'Liberation Sans', sans-serif" fill="#ddd" stroke="#ddd" stroke-width="0.078" text-anchor="middle" >-3i</text>
</g>
<text x="360.1" y="180.7" font-size="10.2" font-weight="bold" font-family="'Liberation Serif', serif" fill="#151515">(c<tspan font-size="6.3" dy="2.4">2</tspan><tspan dy="-2.4">)</tspan></text>
<path d="M385.4,207.6 L386.5,213 L387.9,216.4 L389,210 L390.2,203 L391.5,200.5 L392.8,200.1 L395.5,200.5 L396.5,203 L398.1,209.3 L400,213.5 L401.7,216.4 L405.2,219.6 L408.7,220.5 L409.2,220.5" fill="none" stroke="#8ed8d4" stroke-width="0.55" stroke-linejoin="round"/>
<path d="M409.2,220.5 L409.3,206 L410.5,201.4 L414,200.5 L415.5,201.5 L416.7,214.6 L419.3,220 L422,221.3 L422.4,221.3" fill="none" stroke="#58c2bc" stroke-width="0.65" stroke-linejoin="round"/>
<path d="M422.4,221.3 L422.5,201 L423.8,198.7 L427.3,197.9 L428,199 L429,214 L432.6,224.4 L435.2,225.6 L435.5,225.6" fill="none" stroke="#2aa8a0" stroke-width="0.85" stroke-linejoin="round"/>
<path d="M435.5,225.6 L435.6,203 L437,200.5 L440.5,199.6 L441.3,201 L442.3,211.1 L445.8,221.7 L449.7,227.9 L449.8,227.9" fill="none" stroke="#15958c" stroke-width="1.0" stroke-linejoin="round"/>
<path d="M449.8,227.9 L449.9,203.2 L451.1,201.4 L455.6,200.5 L456.5,200.3" fill="none" stroke="#0e8a80" stroke-width="1.1" stroke-linejoin="round"/>
<rect x="385.7" y="176" width="71.60000000000002" height="61.30000000000001" fill="none" stroke="#555" stroke-width="0.6" />
<line x1="384.8" y1="176.0" x2="385.7" y2="176.0" stroke="#444" stroke-width="0.4" />
<line x1="384.8" y1="186.2" x2="385.7" y2="186.2" stroke="#444" stroke-width="0.4" />
<line x1="384.8" y1="196.4" x2="385.7" y2="196.4" stroke="#444" stroke-width="0.4" />
<line x1="384.8" y1="206.6" x2="385.7" y2="206.6" stroke="#444" stroke-width="0.4" />
<line x1="384.8" y1="216.8" x2="385.7" y2="216.8" stroke="#444" stroke-width="0.4" />
<line x1="384.8" y1="227.0" x2="385.7" y2="227.0" stroke="#444" stroke-width="0.4" />
<line x1="384.8" y1="237.2" x2="385.7" y2="237.2" stroke="#444" stroke-width="0.4" />
<text x="384.5" y="176.9" font-size="2.5" font-weight="bold" font-family="'Liberation Sans', sans-serif" fill="#111" stroke="#111" stroke-width="0.075" text-anchor="end" >0.125</text>
<text x="384.5" y="187.1" font-size="2.5" font-weight="bold" font-family="'Liberation Sans', sans-serif" fill="#111" stroke="#111" stroke-width="0.075" text-anchor="end" >0.120</text>
<text x="384.5" y="197.3" font-size="2.5" font-weight="bold" font-family="'Liberation Sans', sans-serif" fill="#111" stroke="#111" stroke-width="0.075" text-anchor="end" >0.115</text>
<text x="384.5" y="207.5" font-size="2.5" font-weight="bold" font-family="'Liberation Sans', sans-serif" fill="#111" stroke="#111" stroke-width="0.075" text-anchor="end" >0.110</text>
<text x="384.5" y="217.70000000000002" font-size="2.5" font-weight="bold" font-family="'Liberation Sans', sans-serif" fill="#111" stroke="#111" stroke-width="0.075" text-anchor="end" >0.105</text>
<text x="384.5" y="227.9" font-size="2.5" font-weight="bold" font-family="'Liberation Sans', sans-serif" fill="#111" stroke="#111" stroke-width="0.075" text-anchor="end" >0.100</text>
<text x="384.5" y="238.1" font-size="2.5" font-weight="bold" font-family="'Liberation Sans', sans-serif" fill="#111" stroke="#111" stroke-width="0.075" text-anchor="end" >0.095</text>
<line x1="385.7" y1="237.3" x2="385.7" y2="238.10000000000002" stroke="#444" stroke-width="0.4" />
<text x="385.7" y="240.8" font-size="2.4" font-weight="bold" font-family="'Liberation Sans', sans-serif" fill="#111" stroke="#111" stroke-width="0.072" text-anchor="middle" >0</text>
<line x1="392.9" y1="237.3" x2="392.9" y2="238.10000000000002" stroke="#444" stroke-width="0.4" />
<text x="392.9" y="240.8" font-size="2.4" font-weight="bold" font-family="'Liberation Sans', sans-serif" fill="#111" stroke="#111" stroke-width="0.072" text-anchor="middle" >100</text>
<line x1="400.09999999999997" y1="237.3" x2="400.09999999999997" y2="238.10000000000002" stroke="#444" stroke-width="0.4" />
<text x="400.09999999999997" y="240.8" font-size="2.4" font-weight="bold" font-family="'Liberation Sans', sans-serif" fill="#111" stroke="#111" stroke-width="0.072" text-anchor="middle" >200</text>
<line x1="407.3" y1="237.3" x2="407.3" y2="238.10000000000002" stroke="#444" stroke-width="0.4" />
<text x="407.3" y="240.8" font-size="2.4" font-weight="bold" font-family="'Liberation Sans', sans-serif" fill="#111" stroke="#111" stroke-width="0.072" text-anchor="middle" >300</text>
<line x1="414.5" y1="237.3" x2="414.5" y2="238.10000000000002" stroke="#444" stroke-width="0.4" />
<text x="414.5" y="240.8" font-size="2.4" font-weight="bold" font-family="'Liberation Sans', sans-serif" fill="#111" stroke="#111" stroke-width="0.072" text-anchor="middle" >400</text>
<line x1="421.7" y1="237.3" x2="421.7" y2="238.10000000000002" stroke="#444" stroke-width="0.4" />
<text x="421.7" y="240.8" font-size="2.4" font-weight="bold" font-family="'Liberation Sans', sans-serif" fill="#111" stroke="#111" stroke-width="0.072" text-anchor="middle" >500</text>
<line x1="428.9" y1="237.3" x2="428.9" y2="238.10000000000002" stroke="#444" stroke-width="0.4" />
<text x="428.9" y="240.8" font-size="2.4" font-weight="bold" font-family="'Liberation Sans', sans-serif" fill="#111" stroke="#111" stroke-width="0.072" text-anchor="middle" >600</text>
<line x1="436.09999999999997" y1="237.3" x2="436.09999999999997" y2="238.10000000000002" stroke="#444" stroke-width="0.4" />
<text x="436.09999999999997" y="240.8" font-size="2.4" font-weight="bold" font-family="'Liberation Sans', sans-serif" fill="#111" stroke="#111" stroke-width="0.072" text-anchor="middle" >700</text>
<line x1="443.3" y1="237.3" x2="443.3" y2="238.10000000000002" stroke="#444" stroke-width="0.4" />
<text x="443.3" y="240.8" font-size="2.4" font-weight="bold" font-family="'Liberation Sans', sans-serif" fill="#111" stroke="#111" stroke-width="0.072" text-anchor="middle" >800</text>
<line x1="450.5" y1="237.3" x2="450.5" y2="238.10000000000002" stroke="#444" stroke-width="0.4" />
<text x="450.5" y="240.8" font-size="2.4" font-weight="bold" font-family="'Liberation Sans', sans-serif" fill="#111" stroke="#111" stroke-width="0.072" text-anchor="middle" >900</text>
<line x1="457.7" y1="237.3" x2="457.7" y2="238.10000000000002" stroke="#444" stroke-width="0.4" />
<text x="457.7" y="240.8" font-size="2.4" font-weight="bold" font-family="'Liberation Sans', sans-serif" fill="#111" stroke="#111" stroke-width="0.072" text-anchor="middle" >1000</text>
<text x="421" y="179.4" font-size="2.9" font-weight="bold" font-family="'Liberation Sans', sans-serif" fill="#111" stroke="#111" stroke-width="0.087" text-anchor="middle" >RMO3</text>
<text x="0" y="0" font-size="2.7" font-weight="bold" font-family="'Liberation Sans', sans-serif" fill="#222" text-anchor="middle" transform="translate(388.5,201.2) rotate(-90)">10%RH</text>
<text x="0" y="0" font-size="2.7" font-weight="bold" font-family="'Liberation Sans', sans-serif" fill="#222" text-anchor="middle" transform="translate(404.4,201.2) rotate(-90)">30%RH</text>
<text x="0" y="0" font-size="2.7" font-weight="bold" font-family="'Liberation Sans', sans-serif" fill="#222" text-anchor="middle" transform="translate(420.4,201.2) rotate(-90)">50%RH</text>
<text x="0" y="0" font-size="2.7" font-weight="bold" font-family="'Liberation Sans', sans-serif" fill="#222" text-anchor="middle" transform="translate(433.4,201.2) rotate(-90)">70%RH</text>
<text x="0" y="0" font-size="2.7" font-weight="bold" font-family="'Liberation Sans', sans-serif" fill="#222" text-anchor="middle" transform="translate(447.5,201.2) rotate(-90)">90%RH</text>
<text x="421.5" y="246" font-size="3.3" font-weight="bold" font-family="'Liberation Sans', sans-serif" fill="#111" stroke="#111" stroke-width="0.099" text-anchor="middle" >Time (s)</text>
<text x="0" y="0" font-size="3.0" font-weight="bold" font-family="'Liberation Sans', sans-serif" fill="#222" text-anchor="middle" transform="translate(376,207) rotate(-90)">Resistance (MΩ)</text>
<rect x="473.7" y="208.476" width="9.5" height="31.824000000000012" fill="#f7a8d8" stroke="#333" stroke-width="0.3" />
<text x="478.45" y="207.476" font-size="3.0" font-weight="normal" font-family="'Liberation Sans', sans-serif" fill="#111" stroke="#111" stroke-width="0.09" text-anchor="middle" >7.8</text>
<text x="478.45" y="226.18800000000002" font-size="3.0" font-weight="bold" font-family="'Liberation Sans', sans-serif" fill="#333" stroke="#333" stroke-width="0.09" text-anchor="middle" >10%</text>
<rect x="491.3" y="203.988" width="8.699999999999989" height="36.31200000000001" fill="#22cc22" stroke="#333" stroke-width="0.3" />
<text x="495.65" y="202.988" font-size="3.0" font-weight="normal" font-family="'Liberation Sans', sans-serif" fill="#111" stroke="#111" stroke-width="0.09" text-anchor="middle" >8.9</text>
<text x="495.65" y="223.94400000000002" font-size="3.0" font-weight="bold" font-family="'Liberation Sans', sans-serif" fill="#333" stroke="#333" stroke-width="0.09" text-anchor="middle" >30%</text>
<rect x="504" y="202.356" width="9.100000000000023" height="37.94400000000002" fill="#2891ee" stroke="#333" stroke-width="0.3" />
<text x="508.55" y="201.356" font-size="3.0" font-weight="normal" font-family="'Liberation Sans', sans-serif" fill="#111" stroke="#111" stroke-width="0.09" text-anchor="middle" >9.3</text>
<text x="508.55" y="223.12800000000001" font-size="3.0" font-weight="bold" font-family="'Liberation Sans', sans-serif" fill="#333" stroke="#333" stroke-width="0.09" text-anchor="middle" >50%</text>
<rect x="521.2" y="190.93200000000002" width="9.5" height="49.367999999999995" fill="#22eeee" stroke="#333" stroke-width="0.3" />
<text x="525.95" y="189.93200000000002" font-size="3.0" font-weight="normal" font-family="'Liberation Sans', sans-serif" fill="#111" stroke="#111" stroke-width="0.09" text-anchor="middle" >12.1</text>
<text x="525.95" y="217.41600000000003" font-size="3.0" font-weight="bold" font-family="'Liberation Sans', sans-serif" fill="#333" stroke="#333" stroke-width="0.09" text-anchor="middle" >70%</text>
<rect x="534.3" y="188.484" width="9.100000000000023" height="51.816" fill="#ff7f0e" stroke="#333" stroke-width="0.3" />
<text x="538.8499999999999" y="187.484" font-size="3.0" font-weight="normal" font-family="'Liberation Sans', sans-serif" fill="#111" stroke="#111" stroke-width="0.09" text-anchor="middle" >12.7</text>
<text x="538.8499999999999" y="216.192" font-size="3.0" font-weight="bold" font-family="'Liberation Sans', sans-serif" fill="#333" stroke="#333" stroke-width="0.09" text-anchor="middle" >90%</text>
<rect x="469.7" y="175" width="76.19999999999999" height="65.30000000000001" fill="none" stroke="#555" stroke-width="0.6" />
<line x1="468.8" y1="240.3" x2="469.7" y2="240.3" stroke="#444" stroke-width="0.4" />
<text x="468.5" y="241.20000000000002" font-size="2.5" font-weight="bold" font-family="'Liberation Sans', sans-serif" fill="#111" stroke="#111" stroke-width="0.075" text-anchor="end" >0</text>
<line x1="468.8" y1="232.14000000000001" x2="469.7" y2="232.14000000000001" stroke="#444" stroke-width="0.4" />
<text x="468.5" y="233.04000000000002" font-size="2.5" font-weight="bold" font-family="'Liberation Sans', sans-serif" fill="#111" stroke="#111" stroke-width="0.075" text-anchor="end" >2</text>
<line x1="468.8" y1="223.98000000000002" x2="469.7" y2="223.98000000000002" stroke="#444" stroke-width="0.4" />
<text x="468.5" y="224.88000000000002" font-size="2.5" font-weight="bold" font-family="'Liberation Sans', sans-serif" fill="#111" stroke="#111" stroke-width="0.075" text-anchor="end" >4</text>
<line x1="468.8" y1="215.82000000000002" x2="469.7" y2="215.82000000000002" stroke="#444" stroke-width="0.4" />
<text x="468.5" y="216.72000000000003" font-size="2.5" font-weight="bold" font-family="'Liberation Sans', sans-serif" fill="#111" stroke="#111" stroke-width="0.075" text-anchor="end" >6</text>
<line x1="468.8" y1="207.66000000000003" x2="469.7" y2="207.66000000000003" stroke="#444" stroke-width="0.4" />
<text x="468.5" y="208.56000000000003" font-size="2.5" font-weight="bold" font-family="'Liberation Sans', sans-serif" fill="#111" stroke="#111" stroke-width="0.075" text-anchor="end" >8</text>
<line x1="468.8" y1="199.5" x2="469.7" y2="199.5" stroke="#444" stroke-width="0.4" />
<text x="468.5" y="200.4" font-size="2.5" font-weight="bold" font-family="'Liberation Sans', sans-serif" fill="#111" stroke="#111" stroke-width="0.075" text-anchor="end" >10</text>
<line x1="468.8" y1="191.34" x2="469.7" y2="191.34" stroke="#444" stroke-width="0.4" />
<text x="468.5" y="192.24" font-size="2.5" font-weight="bold" font-family="'Liberation Sans', sans-serif" fill="#111" stroke="#111" stroke-width="0.075" text-anchor="end" >12</text>
<line x1="468.8" y1="183.18" x2="469.7" y2="183.18" stroke="#444" stroke-width="0.4" />
<text x="468.5" y="184.08" font-size="2.5" font-weight="bold" font-family="'Liberation Sans', sans-serif" fill="#111" stroke="#111" stroke-width="0.075" text-anchor="end" >14</text>
<line x1="468.8" y1="175.02" x2="469.7" y2="175.02" stroke="#444" stroke-width="0.4" />
<text x="468.5" y="175.92000000000002" font-size="2.5" font-weight="bold" font-family="'Liberation Sans', sans-serif" fill="#111" stroke="#111" stroke-width="0.075" text-anchor="end" >16</text>
<text x="509" y="179.6" font-size="3.2" font-weight="bold" font-family="'Liberation Sans', sans-serif" fill="#111" stroke="#111" stroke-width="0.096" text-anchor="middle" >Ammonia 10ppm</text>
<text x="507.5" y="246" font-size="3.3" font-weight="bold" font-family="'Liberation Sans', sans-serif" fill="#111" stroke="#111" stroke-width="0.099" text-anchor="middle" >Relative humidity</text>
<text x="0" y="0" font-size="3.0" font-weight="bold" font-family="'Liberation Sans', sans-serif" fill="#222" text-anchor="middle" transform="translate(464.2,207.5) rotate(-90)">Response (S%)</text>
<text x="243.8" y="264.6" font-size="10.2" font-weight="bold" font-family="'Liberation Serif', serif" fill="#151515">(c<tspan font-size="6.3" dy="2.4">3</tspan><tspan dy="-2.4">)</tspan></text>
<clipPath id="clcp"><path d="M262.5,283 C266,279 272,276 280,274 C290,272 300,271 310,271.5 C325,272 340,275 350,277 C358,278.5 365,280 368,282 C369,285 367,287 364,287.5 C350,288.5 330,287.5 310,288 C300,288.5 290,291 280,290.8 C272,290.5 266,289 263.5,287.5 C261.5,286 261.5,284.5 262.5,283 Z"/></clipPath>
<g clip-path="url(#clcp)">
<rect x="258" y="268" width="112" height="25" fill="#a89800" stroke="none" stroke-width="1" />
<circle cx="298.30" cy="270.20" r="2.3" fill="#fff000" stroke="#8c7e00" stroke-width="0.3" />
<circle cx="363.80" cy="270.40" r="2.1" fill="#f8e400" stroke="#8c7e00" stroke-width="0.3" />
<circle cx="289.50" cy="270.50" r="2.2" fill="#fff000" stroke="#8c7e00" stroke-width="0.3" />
<circle cx="349.60" cy="270.70" r="2.5" fill="#fff000" stroke="#8c7e00" stroke-width="0.3" />
<circle cx="328.80" cy="270.70" r="2.4" fill="#f4e200" stroke="#8c7e00" stroke-width="0.3" />
<circle cx="303.80" cy="271.30" r="2.7" fill="#fff400" stroke="#8c7e00" stroke-width="0.3" />
<circle cx="332.70" cy="271.40" r="2.2" fill="#f8e400" stroke="#8c7e00" stroke-width="0.3" />
<circle cx="275.10" cy="271.40" r="2.7" fill="#f8e400" stroke="#8c7e00" stroke-width="0.3" />
<circle cx="350.40" cy="271.80" r="2.0" fill="#f4e200" stroke="#8c7e00" stroke-width="0.3" />
<circle cx="313.80" cy="271.80" r="2.4" fill="#fff000" stroke="#8c7e00" stroke-width="0.3" />
<circle cx="309.80" cy="271.80" r="2.6" fill="#f4e200" stroke="#8c7e00" stroke-width="0.3" />
<circle cx="283.80" cy="271.80" r="2.1" fill="#f8e400" stroke="#8c7e00" stroke-width="0.3" />
<circle cx="346.60" cy="271.90" r="2.3" fill="#f4e200" stroke="#8c7e00" stroke-width="0.3" />
<circle cx="327.30" cy="271.90" r="2.0" fill="#fff000" stroke="#8c7e00" stroke-width="0.3" />
<circle cx="313.70" cy="271.90" r="2.1" fill="#f8e400" stroke="#8c7e00" stroke-width="0.3" />
<circle cx="277.30" cy="272.00" r="2.3" fill="#f8e400" stroke="#8c7e00" stroke-width="0.3" />
<circle cx="289.50" cy="272.00" r="2.4" fill="#f8e400" stroke="#8c7e00" stroke-width="0.3" />
<circle cx="304.30" cy="272.90" r="2.1" fill="#f4e200" stroke="#8c7e00" stroke-width="0.3" />
<circle cx="262.40" cy="273.00" r="2.5" fill="#f8e400" stroke="#8c7e00" stroke-width="0.3" />
<circle cx="367.30" cy="273.30" r="2.0" fill="#fff000" stroke="#8c7e00" stroke-width="0.3" />
<circle cx="343.30" cy="273.30" r="2.1" fill="#fff000" stroke="#8c7e00" stroke-width="0.3" />
<circle cx="316.00" cy="273.30" r="2.4" fill="#fff000" stroke="#8c7e00" stroke-width="0.3" />
<circle cx="276.90" cy="273.30" r="2.3" fill="#fff000" stroke="#8c7e00" stroke-width="0.3" />
<circle cx="317.10" cy="273.50" r="2.4" fill="#fff400" stroke="#8c7e00" stroke-width="0.3" />
<circle cx="283.40" cy="273.60" r="2.7" fill="#fff400" stroke="#8c7e00" stroke-width="0.3" />
<circle cx="338.80" cy="273.70" r="2.0" fill="#f8e400" stroke="#8c7e00" stroke-width="0.3" />
<circle cx="297.70" cy="273.70" r="2.2" fill="#f4e200" stroke="#8c7e00" stroke-width="0.3" />
<circle cx="354.20" cy="273.80" r="2.1" fill="#f4e200" stroke="#8c7e00" stroke-width="0.3" />
<circle cx="364.10" cy="273.80" r="2.2" fill="#fff400" stroke="#8c7e00" stroke-width="0.3" />
<circle cx="330.80" cy="273.90" r="2.3" fill="#fff000" stroke="#8c7e00" stroke-width="0.3" />
<circle cx="280.70" cy="274.00" r="2.0" fill="#f4e200" stroke="#8c7e00" stroke-width="0.3" />
<circle cx="263.40" cy="274.00" r="2.3" fill="#f4e200" stroke="#8c7e00" stroke-width="0.3" />
<circle cx="302.00" cy="274.10" r="2.2" fill="#fff400" stroke="#8c7e00" stroke-width="0.3" />
<circle cx="316.90" cy="274.30" r="2.6" fill="#fff400" stroke="#8c7e00" stroke-width="0.3" />
<circle cx="351.20" cy="274.30" r="2.0" fill="#f4e200" stroke="#8c7e00" stroke-width="0.3" />
<circle cx="264.10" cy="274.50" r="2.4" fill="#f8e400" stroke="#8c7e00" stroke-width="0.3" />
<circle cx="351.70" cy="274.70" r="2.6" fill="#f8e400" stroke="#8c7e00" stroke-width="0.3" />
<circle cx="314.90" cy="275.00" r="2.2" fill="#f8e400" stroke="#8c7e00" stroke-width="0.3" />
<circle cx="301.50" cy="275.10" r="2.4" fill="#f4e200" stroke="#8c7e00" stroke-width="0.3" />
<circle cx="324.80" cy="275.10" r="2.1" fill="#fff000" stroke="#8c7e00" stroke-width="0.3" />
<circle cx="343.90" cy="275.20" r="2.1" fill="#f8e400" stroke="#8c7e00" stroke-width="0.3" />
<circle cx="288.40" cy="275.30" r="2.5" fill="#f8e400" stroke="#8c7e00" stroke-width="0.3" />
<circle cx="358.50" cy="275.40" r="2.3" fill="#fff000" stroke="#8c7e00" stroke-width="0.3" />
<circle cx="308.10" cy="275.40" r="2.5" fill="#fff400" stroke="#8c7e00" stroke-width="0.3" />
<circle cx="319.10" cy="275.50" r="2.5" fill="#f8e400" stroke="#8c7e00" stroke-width="0.3" />
<circle cx="312.70" cy="275.60" r="2.6" fill="#fff000" stroke="#8c7e00" stroke-width="0.3" />
<circle cx="347.40" cy="275.90" r="2.3" fill="#f8e400" stroke="#8c7e00" stroke-width="0.3" />
<circle cx="289.40" cy="275.90" r="2.5" fill="#fff400" stroke="#8c7e00" stroke-width="0.3" />
<circle cx="307.00" cy="275.90" r="2.4" fill="#f4e200" stroke="#8c7e00" stroke-width="0.3" />
<circle cx="365.10" cy="276.10" r="2.6" fill="#fff400" stroke="#8c7e00" stroke-width="0.3" />
<circle cx="365.50" cy="276.10" r="2.7" fill="#f4e200" stroke="#8c7e00" stroke-width="0.3" />
<circle cx="354.70" cy="276.10" r="2.0" fill="#f4e200" stroke="#8c7e00" stroke-width="0.3" />
<circle cx="332.50" cy="276.20" r="2.4" fill="#fff400" stroke="#8c7e00" stroke-width="0.3" />
<circle cx="334.90" cy="276.40" r="2.5" fill="#fff000" stroke="#8c7e00" stroke-width="0.3" />
<circle cx="272.20" cy="276.40" r="2.4" fill="#fff000" stroke="#8c7e00" stroke-width="0.3" />
<circle cx="275.90" cy="276.60" r="2.7" fill="#fff400" stroke="#8c7e00" stroke-width="0.3" />
<circle cx="352.30" cy="276.60" r="2.3" fill="#fff400" stroke="#8c7e00" stroke-width="0.3" />
<circle cx="324.00" cy="276.70" r="2.5" fill="#fff400" stroke="#8c7e00" stroke-width="0.3" />
<circle cx="358.80" cy="276.80" r="2.1" fill="#f8e400" stroke="#8c7e00" stroke-width="0.3" />
<circle cx="358.40" cy="276.90" r="2.5" fill="#fff400" stroke="#8c7e00" stroke-width="0.3" />
<circle cx="351.90" cy="276.90" r="2.1" fill="#fff400" stroke="#8c7e00" stroke-width="0.3" />
<circle cx="265.80" cy="277.00" r="2.5" fill="#f8e400" stroke="#8c7e00" stroke-width="0.3" />
<circle cx="331.40" cy="277.10" r="2.1" fill="#fff000" stroke="#8c7e00" stroke-width="0.3" />
<circle cx="276.90" cy="277.20" r="2.5" fill="#f8e400" stroke="#8c7e00" stroke-width="0.3" />
<circle cx="285.10" cy="277.60" r="2.6" fill="#f8e400" stroke="#8c7e00" stroke-width="0.3" />
<circle cx="300.40" cy="277.70" r="2.3" fill="#fff400" stroke="#8c7e00" stroke-width="0.3" />
<circle cx="324.90" cy="277.70" r="2.6" fill="#f8e400" stroke="#8c7e00" stroke-width="0.3" />
<circle cx="295.10" cy="278.10" r="2.3" fill="#f8e400" stroke="#8c7e00" stroke-width="0.3" />
<circle cx="292.30" cy="278.10" r="2.6" fill="#fff000" stroke="#8c7e00" stroke-width="0.3" />
<circle cx="342.00" cy="278.20" r="2.2" fill="#f4e200" stroke="#8c7e00" stroke-width="0.3" />
<circle cx="320.30" cy="278.40" r="2.4" fill="#fff400" stroke="#8c7e00" stroke-width="0.3" />
<circle cx="297.80" cy="278.50" r="2.0" fill="#f4e200" stroke="#8c7e00" stroke-width="0.3" />
<circle cx="271.60" cy="278.60" r="2.5" fill="#fff400" stroke="#8c7e00" stroke-width="0.3" />
<circle cx="313.80" cy="278.70" r="2.4" fill="#f4e200" stroke="#8c7e00" stroke-width="0.3" />
<circle cx="291.60" cy="278.70" r="2.4" fill="#f4e200" stroke="#8c7e00" stroke-width="0.3" />
<circle cx="365.10" cy="278.80" r="2.4" fill="#fff000" stroke="#8c7e00" stroke-width="0.3" />
<circle cx="293.30" cy="278.90" r="2.4" fill="#f4e200" stroke="#8c7e00" stroke-width="0.3" />
<circle cx="315.50" cy="279.10" r="2.7" fill="#fff000" stroke="#8c7e00" stroke-width="0.3" />
<circle cx="326.40" cy="279.20" r="2.1" fill="#fff400" stroke="#8c7e00" stroke-width="0.3" />
<circle cx="311.20" cy="279.30" r="2.0" fill="#f8e400" stroke="#8c7e00" stroke-width="0.3" />
<circle cx="278.90" cy="279.30" r="2.7" fill="#fff400" stroke="#8c7e00" stroke-width="0.3" />
<circle cx="270.80" cy="279.40" r="2.7" fill="#f8e400" stroke="#8c7e00" stroke-width="0.3" />
<circle cx="286.40" cy="279.60" r="2.7" fill="#f8e400" stroke="#8c7e00" stroke-width="0.3" />
<circle cx="351.50" cy="279.70" r="2.3" fill="#f4e200" stroke="#8c7e00" stroke-width="0.3" />
<circle cx="308.40" cy="279.80" r="2.3" fill="#fff400" stroke="#8c7e00" stroke-width="0.3" />
<circle cx="270.40" cy="279.80" r="2.4" fill="#fff000" stroke="#8c7e00" stroke-width="0.3" />
<circle cx="304.80" cy="279.90" r="2.6" fill="#f8e400" stroke="#8c7e00" stroke-width="0.3" />
<circle cx="321.90" cy="279.90" r="2.1" fill="#f8e400" stroke="#8c7e00" stroke-width="0.3" />
<circle cx="280.30" cy="280.10" r="2.3" fill="#fff400" stroke="#8c7e00" stroke-width="0.3" />
<circle cx="302.00" cy="280.40" r="2.3" fill="#f4e200" stroke="#8c7e00" stroke-width="0.3" />
<circle cx="358.10" cy="280.40" r="2.1" fill="#f8e400" stroke="#8c7e00" stroke-width="0.3" />
<circle cx="279.90" cy="280.40" r="2.5" fill="#f8e400" stroke="#8c7e00" stroke-width="0.3" />
<circle cx="291.60" cy="280.50" r="2.4" fill="#fff400" stroke="#8c7e00" stroke-width="0.3" />
<circle cx="298.10" cy="280.60" r="2.0" fill="#fff400" stroke="#8c7e00" stroke-width="0.3" />
<circle cx="335.20" cy="280.80" r="2.5" fill="#fff000" stroke="#8c7e00" stroke-width="0.3" />
<circle cx="267.90" cy="280.90" r="2.5" fill="#f8e400" stroke="#8c7e00" stroke-width="0.3" />
<circle cx="320.20" cy="281.00" r="2.5" fill="#fff400" stroke="#8c7e00" stroke-width="0.3" />
<circle cx="286.10" cy="281.00" r="2.5" fill="#fff000" stroke="#8c7e00" stroke-width="0.3" />
<circle cx="267.80" cy="281.20" r="2.5" fill="#fff000" stroke="#8c7e00" stroke-width="0.3" />
<circle cx="316.70" cy="281.20" r="2.4" fill="#f4e200" stroke="#8c7e00" stroke-width="0.3" />
<circle cx="329.60" cy="281.30" r="2.1" fill="#f4e200" stroke="#8c7e00" stroke-width="0.3" />
<circle cx="331.40" cy="281.70" r="2.2" fill="#f8e400" stroke="#8c7e00" stroke-width="0.3" />
<circle cx="334.80" cy="281.70" r="2.6" fill="#f8e400" stroke="#8c7e00" stroke-width="0.3" />
<circle cx="354.30" cy="281.80" r="2.6" fill="#f4e200" stroke="#8c7e00" stroke-width="0.3" />
<circle cx="311.20" cy="281.90" r="2.6" fill="#f4e200" stroke="#8c7e00" stroke-width="0.3" />
<circle cx="269.60" cy="282.50" r="2.7" fill="#f4e200" stroke="#8c7e00" stroke-width="0.3" />
<circle cx="285.90" cy="282.50" r="2.5" fill="#f4e200" stroke="#8c7e00" stroke-width="0.3" />
<circle cx="339.70" cy="282.70" r="2.1" fill="#f4e200" stroke="#8c7e00" stroke-width="0.3" />
<circle cx="317.40" cy="282.90" r="2.2" fill="#fff000" stroke="#8c7e00" stroke-width="0.3" />
<circle cx="333.00" cy="283.00" r="2.2" fill="#f4e200" stroke="#8c7e00" stroke-width="0.3" />
<circle cx="360.80" cy="283.10" r="2.2" fill="#fff000" stroke="#8c7e00" stroke-width="0.3" />
<circle cx="327.60" cy="283.40" r="2.4" fill="#f8e400" stroke="#8c7e00" stroke-width="0.3" />
<circle cx="263.70" cy="283.60" r="2.3" fill="#f8e400" stroke="#8c7e00" stroke-width="0.3" />
<circle cx="331.40" cy="283.70" r="2.4" fill="#fff000" stroke="#8c7e00" stroke-width="0.3" />
<circle cx="339.40" cy="284.00" r="2.3" fill="#fff400" stroke="#8c7e00" stroke-width="0.3" />
<circle cx="345.20" cy="284.30" r="2.1" fill="#f8e400" stroke="#8c7e00" stroke-width="0.3" />
<circle cx="261.30" cy="284.30" r="2.4" fill="#f8e400" stroke="#8c7e00" stroke-width="0.3" />
<circle cx="309.10" cy="284.40" r="2.5" fill="#fff000" stroke="#8c7e00" stroke-width="0.3" />
<circle cx="271.90" cy="284.50" r="2.5" fill="#f8e400" stroke="#8c7e00" stroke-width="0.3" />
<circle cx="345.20" cy="284.60" r="2.7" fill="#fff400" stroke="#8c7e00" stroke-width="0.3" />
<circle cx="304.40" cy="284.60" r="2.3" fill="#f4e200" stroke="#8c7e00" stroke-width="0.3" />
<circle cx="275.90" cy="284.70" r="2.7" fill="#fff400" stroke="#8c7e00" stroke-width="0.3" />
<circle cx="369.00" cy="284.70" r="2.1" fill="#f8e400" stroke="#8c7e00" stroke-width="0.3" />
<circle cx="273.60" cy="284.70" r="2.3" fill="#f4e200" stroke="#8c7e00" stroke-width="0.3" />
<circle cx="362.30" cy="284.80" r="2.4" fill="#fff400" stroke="#8c7e00" stroke-width="0.3" />
<circle cx="284.90" cy="284.90" r="2.2" fill="#fff400" stroke="#8c7e00" stroke-width="0.3" />
<circle cx="339.90" cy="285.00" r="2.3" fill="#fff400" stroke="#8c7e00" stroke-width="0.3" />
<circle cx="280.20" cy="285.00" r="2.6" fill="#f8e400" stroke="#8c7e00" stroke-width="0.3" />
<circle cx="283.10" cy="285.10" r="2.3" fill="#f4e200" stroke="#8c7e00" stroke-width="0.3" />
<circle cx="347.70" cy="285.20" r="2.5" fill="#fff000" stroke="#8c7e00" stroke-width="0.3" />
<circle cx="323.00" cy="285.20" r="2.5" fill="#fff000" stroke="#8c7e00" stroke-width="0.3" />
<circle cx="346.90" cy="285.20" r="2.6" fill="#f8e400" stroke="#8c7e00" stroke-width="0.3" />
<circle cx="355.70" cy="285.20" r="2.1" fill="#f4e200" stroke="#8c7e00" stroke-width="0.3" />
<circle cx="289.70" cy="285.20" r="2.7" fill="#f4e200" stroke="#8c7e00" stroke-width="0.3" />
<circle cx="338.10" cy="285.60" r="2.1" fill="#f4e200" stroke="#8c7e00" stroke-width="0.3" />
<circle cx="325.30" cy="285.70" r="2.1" fill="#f8e400" stroke="#8c7e00" stroke-width="0.3" />
<circle cx="307.80" cy="285.70" r="2.1" fill="#f4e200" stroke="#8c7e00" stroke-width="0.3" />
<circle cx="321.90" cy="285.90" r="2.4" fill="#f4e200" stroke="#8c7e00" stroke-width="0.3" />
<circle cx="343.50" cy="286.00" r="2.3" fill="#f8e400" stroke="#8c7e00" stroke-width="0.3" />
<circle cx="310.00" cy="286.00" r="2.6" fill="#fff000" stroke="#8c7e00" stroke-width="0.3" />
<circle cx="341.90" cy="286.10" r="2.0" fill="#fff400" stroke="#8c7e00" stroke-width="0.3" />
<circle cx="339.20" cy="286.10" r="2.2" fill="#fff400" stroke="#8c7e00" stroke-width="0.3" />
<circle cx="306.40" cy="286.40" r="2.5" fill="#f8e400" stroke="#8c7e00" stroke-width="0.3" />
<circle cx="363.30" cy="286.40" r="2.6" fill="#f4e200" stroke="#8c7e00" stroke-width="0.3" />
<circle cx="317.50" cy="286.50" r="2.3" fill="#fff000" stroke="#8c7e00" stroke-width="0.3" />
<circle cx="331.40" cy="286.50" r="2.2" fill="#f4e200" stroke="#8c7e00" stroke-width="0.3" />
<circle cx="355.30" cy="286.50" r="2.4" fill="#f4e200" stroke="#8c7e00" stroke-width="0.3" />
<circle cx="319.40" cy="286.60" r="2.3" fill="#fff400" stroke="#8c7e00" stroke-width="0.3" />
<circle cx="348.60" cy="286.60" r="2.4" fill="#f4e200" stroke="#8c7e00" stroke-width="0.3" />
<circle cx="312.80" cy="286.60" r="2.2" fill="#fff000" stroke="#8c7e00" stroke-width="0.3" />
<circle cx="262.90" cy="286.70" r="2.5" fill="#f4e200" stroke="#8c7e00" stroke-width="0.3" />
<circle cx="365.90" cy="286.90" r="2.3" fill="#fff000" stroke="#8c7e00" stroke-width="0.3" />
<circle cx="352.60" cy="287.20" r="2.1" fill="#f4e200" stroke="#8c7e00" stroke-width="0.3" />
<circle cx="339.30" cy="287.20" r="2.3" fill="#f8e400" stroke="#8c7e00" stroke-width="0.3" />
<circle cx="266.50" cy="287.30" r="2.4" fill="#f4e200" stroke="#8c7e00" stroke-width="0.3" />
<circle cx="345.90" cy="287.60" r="2.7" fill="#fff000" stroke="#8c7e00" stroke-width="0.3" />
<circle cx="281.30" cy="287.70" r="2.1" fill="#fff000" stroke="#8c7e00" stroke-width="0.3" />
<circle cx="262.90" cy="288.10" r="2.4" fill="#f4e200" stroke="#8c7e00" stroke-width="0.3" />
<circle cx="265.90" cy="288.20" r="2.2" fill="#fff400" stroke="#8c7e00" stroke-width="0.3" />
<circle cx="362.50" cy="288.20" r="2.1" fill="#f8e400" stroke="#8c7e00" stroke-width="0.3" />
<circle cx="326.70" cy="288.20" r="2.4" fill="#fff000" stroke="#8c7e00" stroke-width="0.3" />
<circle cx="267.30" cy="288.40" r="2.4" fill="#fff400" stroke="#8c7e00" stroke-width="0.3" />
<circle cx="295.70" cy="288.40" r="2.5" fill="#f8e400" stroke="#8c7e00" stroke-width="0.3" />
<circle cx="304.50" cy="288.40" r="2.6" fill="#f8e400" stroke="#8c7e00" stroke-width="0.3" />
<circle cx="307.20" cy="288.40" r="2.2" fill="#fff400" stroke="#8c7e00" stroke-width="0.3" />
<circle cx="347.50" cy="288.80" r="2.6" fill="#f8e400" stroke="#8c7e00" stroke-width="0.3" />
<circle cx="287.30" cy="288.80" r="2.3" fill="#fff400" stroke="#8c7e00" stroke-width="0.3" />
<circle cx="276.50" cy="288.80" r="2.3" fill="#f4e200" stroke="#8c7e00" stroke-width="0.3" />
<circle cx="365.00" cy="288.90" r="2.2" fill="#fff400" stroke="#8c7e00" stroke-width="0.3" />
<circle cx="264.30" cy="289.00" r="2.2" fill="#fff400" stroke="#8c7e00" stroke-width="0.3" />
<circle cx="263.60" cy="289.10" r="2.7" fill="#f8e400" stroke="#8c7e00" stroke-width="0.3" />
<circle cx="278.80" cy="289.10" r="2.5" fill="#fff400" stroke="#8c7e00" stroke-width="0.3" />
<circle cx="284.20" cy="289.20" r="2.5" fill="#f4e200" stroke="#8c7e00" stroke-width="0.3" />
<circle cx="318.80" cy="289.40" r="2.4" fill="#fff400" stroke="#8c7e00" stroke-width="0.3" />
<circle cx="301.40" cy="289.50" r="2.1" fill="#fff000" stroke="#8c7e00" stroke-width="0.3" />
<circle cx="317.80" cy="289.50" r="2.5" fill="#fff000" stroke="#8c7e00" stroke-width="0.3" />
<circle cx="279.80" cy="289.50" r="2.6" fill="#fff400" stroke="#8c7e00" stroke-width="0.3" />
<circle cx="273.90" cy="289.60" r="2.1" fill="#fff000" stroke="#8c7e00" stroke-width="0.3" />
<circle cx="337.60" cy="289.60" r="2.0" fill="#fff000" stroke="#8c7e00" stroke-width="0.3" />
<circle cx="365.80" cy="289.70" r="2.2" fill="#fff000" stroke="#8c7e00" stroke-width="0.3" />
<circle cx="357.40" cy="289.70" r="2.2" fill="#fff000" stroke="#8c7e00" stroke-width="0.3" />
<circle cx="293.10" cy="289.70" r="2.7" fill="#fff400" stroke="#8c7e00" stroke-width="0.3" />
<circle cx="290.20" cy="289.70" r="2.3" fill="#fff000" stroke="#8c7e00" stroke-width="0.3" />
<circle cx="360.20" cy="289.80" r="2.6" fill="#f4e200" stroke="#8c7e00" stroke-width="0.3" />
<circle cx="316.20" cy="289.80" r="2.3" fill="#f8e400" stroke="#8c7e00" stroke-width="0.3" />
<circle cx="360.60" cy="289.90" r="2.1" fill="#fff000" stroke="#8c7e00" stroke-width="0.3" />
<circle cx="273.50" cy="290.10" r="2.7" fill="#fff400" stroke="#8c7e00" stroke-width="0.3" />
<circle cx="278.10" cy="290.10" r="2.4" fill="#fff400" stroke="#8c7e00" stroke-width="0.3" />
<circle cx="357.70" cy="290.10" r="2.3" fill="#fff000" stroke="#8c7e00" stroke-width="0.3" />
<circle cx="349.00" cy="290.30" r="2.5" fill="#fff400" stroke="#8c7e00" stroke-width="0.3" />
<circle cx="334.30" cy="290.30" r="2.6" fill="#f4e200" stroke="#8c7e00" stroke-width="0.3" />
<circle cx="295.50" cy="290.30" r="2.6" fill="#fff000" stroke="#8c7e00" stroke-width="0.3" />
<circle cx="285.50" cy="290.40" r="2.5" fill="#fff000" stroke="#8c7e00" stroke-width="0.3" />
<circle cx="320.60" cy="290.50" r="2.3" fill="#fff400" stroke="#8c7e00" stroke-width="0.3" />
<circle cx="296.30" cy="290.70" r="2.5" fill="#fff400" stroke="#8c7e00" stroke-width="0.3" />
<circle cx="324.30" cy="290.70" r="2.4" fill="#fff000" stroke="#8c7e00" stroke-width="0.3" />
<circle cx="305.20" cy="290.80" r="2.3" fill="#f4e200" stroke="#8c7e00" stroke-width="0.3" />
<circle cx="353.70" cy="290.80" r="2.6" fill="#fff000" stroke="#8c7e00" stroke-width="0.3" />
<circle cx="261.80" cy="290.80" r="2.5" fill="#fff000" stroke="#8c7e00" stroke-width="0.3" />
<circle cx="299.80" cy="290.90" r="2.3" fill="#fff000" stroke="#8c7e00" stroke-width="0.3" />
<circle cx="300.40" cy="291.00" r="2.4" fill="#f8e400" stroke="#8c7e00" stroke-width="0.3" />
<circle cx="348.60" cy="291.10" r="2.2" fill="#fff000" stroke="#8c7e00" stroke-width="0.3" />
<circle cx="352.50" cy="291.20" r="2.2" fill="#f4e200" stroke="#8c7e00" stroke-width="0.3" />
<circle cx="358.40" cy="291.40" r="2.3" fill="#fff000" stroke="#8c7e00" stroke-width="0.3" />
<circle cx="335.10" cy="291.60" r="2.6" fill="#fff000" stroke="#8c7e00" stroke-width="0.3" />
<circle cx="327.80" cy="291.60" r="2.7" fill="#fff400" stroke="#8c7e00" stroke-width="0.3" />
<circle cx="280.10" cy="291.70" r="2.1" fill="#fff000" stroke="#8c7e00" stroke-width="0.3" />
<circle cx="269.90" cy="291.70" r="2.6" fill="#fff400" stroke="#8c7e00" stroke-width="0.3" />
<circle cx="352.20" cy="291.90" r="2.4" fill="#f8e400" stroke="#8c7e00" stroke-width="0.3" />
<circle cx="272.90" cy="291.90" r="2.0" fill="#fff000" stroke="#8c7e00" stroke-width="0.3" />
<circle cx="316.20" cy="281.10" r="1.0" fill="#e02020" stroke="none" stroke-width="0.3" />
<circle cx="321.40" cy="282.60" r="1.0" fill="#e02020" stroke="none" stroke-width="0.3" />
<circle cx="358.30" cy="279.20" r="1.0" fill="#e02020" stroke="none" stroke-width="0.3" />
<circle cx="301.10" cy="276.00" r="1.0" fill="#e02020" stroke="none" stroke-width="0.3" />
<circle cx="285.00" cy="275.30" r="1.0" fill="#e02020" stroke="none" stroke-width="0.3" />
<circle cx="326.30" cy="277.20" r="1.0" fill="#e02020" stroke="none" stroke-width="0.3" />
<circle cx="319.70" cy="282.50" r="1.0" fill="#e02020" stroke="none" stroke-width="0.3" />
<circle cx="337.30" cy="282.30" r="1.0" fill="#e02020" stroke="none" stroke-width="0.3" />
<circle cx="340.40" cy="275.50" r="1.0" fill="#e02020" stroke="none" stroke-width="0.3" />
<circle cx="273.90" cy="280.00" r="1.0" fill="#e02020" stroke="none" stroke-width="0.3" />
<circle cx="283.50" cy="279.60" r="1.0" fill="#e02020" stroke="none" stroke-width="0.3" />
<circle cx="277.90" cy="278.80" r="1.0" fill="#e02020" stroke="none" stroke-width="0.3" />
<circle cx="318.60" cy="277.60" r="1.0" fill="#e02020" stroke="none" stroke-width="0.3" />
<circle cx="344.40" cy="280.00" r="1.0" fill="#e02020" stroke="none" stroke-width="0.3" />
<circle cx="290.30" cy="277.90" r="1.0" fill="#e02020" stroke="none" stroke-width="0.3" />
<circle cx="308.20" cy="276.90" r="1.0" fill="#e02020" stroke="none" stroke-width="0.3" />
<path d="M289.3,274.3 l1.1,1.8 l-2.2,0 z" fill="#1c3cb8" stroke="none" stroke-width="1" />
<path d="M326.0,272.6 l1.1,1.8 l-2.2,0 z" fill="#1c3cb8" stroke="none" stroke-width="1" />
<path d="M308.3,277.4 l1.1,1.8 l-2.2,0 z" fill="#1c3cb8" stroke="none" stroke-width="1" />
<path d="M311.3,279.5 l1.1,1.8 l-2.2,0 z" fill="#1c3cb8" stroke="none" stroke-width="1" />
<path d="M343.7,277.8 l1.1,1.8 l-2.2,0 z" fill="#1c3cb8" stroke="none" stroke-width="1" />
<path d="M283.3,273.8 l1.1,1.8 l-2.2,0 z" fill="#1c3cb8" stroke="none" stroke-width="1" />
<path d="M355.7,277.0 l1.1,1.8 l-2.2,0 z" fill="#1c3cb8" stroke="none" stroke-width="1" />
<path d="M313.9,274.3 l1.1,1.8 l-2.2,0 z" fill="#1c3cb8" stroke="none" stroke-width="1" />
<path d="M327.2,276.1 l1.1,1.8 l-2.2,0 z" fill="#1c3cb8" stroke="none" stroke-width="1" />
<path d="M321.4,278.0 l1.1,1.8 l-2.2,0 z" fill="#1c3cb8" stroke="none" stroke-width="1" />
<path d="M353.7,280.4 l1.1,1.8 l-2.2,0 z" fill="#1c3cb8" stroke="none" stroke-width="1" />
<path d="M353.8,281.5 l1.1,1.8 l-2.2,0 z" fill="#1c3cb8" stroke="none" stroke-width="1" />
<path d="M276.6,278.7 l1.1,1.8 l-2.2,0 z" fill="#1c3cb8" stroke="none" stroke-width="1" />
<path d="M293.7,275.7 l1.1,1.8 l-2.2,0 z" fill="#1c3cb8" stroke="none" stroke-width="1" />
</g>
<rect x="256.5" y="271.9" width="3.2" height="1.6" fill="#f0c800" stroke="none" stroke-width="1" />
<text x="261.5" y="274.3" font-size="3.9" font-weight="bold" font-family="'Liberation Sans', sans-serif" fill="#111" stroke="#111" stroke-width="0.117" text-anchor="start" >ReS₂</text>
<line x1="262.5" y1="276" x2="268" y2="281.5" stroke="#111" stroke-width="0.5" />
<line x1="280" y1="294.6" x2="287" y2="294.2" stroke="#336666" stroke-width="0.9" />
<text x="289.8" y="297.3" font-size="3.9" font-weight="bold" font-family="'Liberation Sans', sans-serif" fill="#111" stroke="#111" stroke-width="0.117" text-anchor="start" >Ti₃C₂Tₓ</text>
<line x1="290" y1="291.5" x2="296" y2="285.5" stroke="#111" stroke-width="0.5" />
<path d="M291.5,262.5 C293,271 308,272 310.5,263" stroke="#3f78c8" stroke-width="2.0" fill="none"/>
<path d="M311,260 l-2,2 l3.2,0.8 z" fill="#3f78c8" stroke="none" stroke-width="1" />
<path d="M329.5,265.5 C331,274 346,274 348.5,266" stroke="#3f78c8" stroke-width="2.0" fill="none"/>
<path d="M349,263 l-2,2 l3.2,0.8 z" fill="#3f78c8" stroke="none" stroke-width="1" />
<path d="M329,263 l2,2 l-3.2,0.8 z" fill="#3f78c8" stroke="none" stroke-width="1" />
<path d="M292,256.1 L294.4,259.5 L289.6,259.5 Z" fill="#1c3cb8" stroke="none" stroke-width="1" />
<circle cx="289.20" cy="260.10" r="0.7" fill="#e8e8f0" stroke="#999" stroke-width="0.2" />
<circle cx="294.80" cy="260.10" r="0.7" fill="#e8e8f0" stroke="#999" stroke-width="0.2" />
<circle cx="292.00" cy="255.50" r="0.6" fill="#e8e8f0" stroke="#999" stroke-width="0.2" />
<path d="M312.3,255.10000000000002 L314.7,258.5 L309.90000000000003,258.5 Z" fill="#1c3cb8" stroke="none" stroke-width="1" />
<circle cx="309.50" cy="259.10" r="0.7" fill="#e8e8f0" stroke="#999" stroke-width="0.2" />
<circle cx="315.10" cy="259.10" r="0.7" fill="#e8e8f0" stroke="#999" stroke-width="0.2" />
<circle cx="312.30" cy="254.50" r="0.6" fill="#e8e8f0" stroke="#999" stroke-width="0.2" />
<circle cx="339.00" cy="265.20" r="1.8" fill="#d81818" stroke="none" stroke-width="0.3" />
<line x1="337.4" y1="264.0" x2="335.4" y2="262.8" stroke="#ccc" stroke-width="0.6" />
<line x1="340.6" y1="264.0" x2="342.6" y2="262.8" stroke="#ccc" stroke-width="0.6" />
<rect x="328" y="289.5" width="4.5" height="27.5" fill="#f6c4a8" stroke="none" stroke-width="1" />
<rect x="309.5" y="308.5" width="18.5" height="7" fill="url(#ygrad)"/>
<line x1="332.5" y1="290.5" x2="351" y2="290.5" stroke="#777" stroke-width="0.5" stroke-dasharray="1.6 1.6"/>
<line x1="319.5" y1="297.5" x2="327.5" y2="297.5" stroke="#777" stroke-width="0.5" stroke-dasharray="1.6 1.6"/>
<path d="M328,297.5 C330,296 330.5,291 332.5,290.5" fill="none" stroke="#666" stroke-width="0.45" />
<line x1="309.5" y1="307.5" x2="353" y2="307.5" stroke="#444" stroke-width="0.6" stroke-dasharray="1.6 1.4"/>
<line x1="317" y1="300" x2="317" y2="306" stroke="#111" stroke-width="0.6" />
<path d="M317,298.5 l-0.8,1.6 l1.6,0 z" fill="#111" stroke="none" stroke-width="1" />
<line x1="346.5" y1="293" x2="346.5" y2="306" stroke="#111" stroke-width="0.8" />
<path d="M346.5,291.5 l-0.9,1.8 l1.8,0 z" fill="#111" stroke="none" stroke-width="1" />
<path d="M328,309 C330,304 331,302.5 333,302.5 L350,302.5" fill="none" stroke="#8cc870" stroke-width="0.5" />
<path d="M328,316 C330,311 331,310 333,310 L350,310" fill="none" stroke="#8cc870" stroke-width="0.5" />
<text x="319" y="304" font-size="2.4" font-weight="bold" font-family="'Liberation Sans', sans-serif" fill="#111" stroke="#111" stroke-width="0.072" text-anchor="start" >3.9eV</text>
<text x="336.5" y="301.6" font-size="2.4" font-weight="bold" font-family="'Liberation Sans', sans-serif" fill="#111" stroke="#111" stroke-width="0.072" text-anchor="start" >4.7eV</text>
<text x="350.3" y="301" font-size="2.2" font-weight="normal" font-family="'Liberation Sans', sans-serif" fill="#8cc870" stroke="#8cc870" stroke-width="0.066" text-anchor="start" >CB</text>
<text x="350.3" y="313" font-size="2.2" font-weight="normal" font-family="'Liberation Sans', sans-serif" fill="#8cc870" stroke="#8cc870" stroke-width="0.066" text-anchor="start" >VB</text>
<text x="319.2" y="313.6" font-size="2.6" font-weight="bold" font-family="'Liberation Sans', sans-serif" fill="#111" stroke="#111" stroke-width="0.078" text-anchor="middle" >Ti₃C₂Tₓ</text>
<text x="343" y="314" font-size="2.6" font-weight="bold" font-family="'Liberation Sans', sans-serif" fill="#111" stroke="#111" stroke-width="0.078" text-anchor="middle" >MoS₂</text>
<text x="311" y="297.5" font-size="2.2" font-weight="normal" font-family="'Liberation Sans', sans-serif" fill="#111" stroke="#111" stroke-width="0.066" text-anchor="start" >E</text>
<text x="310.5" y="306.5" font-size="2.2" font-weight="bold" font-family="'Liberation Sans', sans-serif" fill="#111" stroke="#111" stroke-width="0.066" text-anchor="start" >E</text>
<rect x="411.6" y="252" width="19.399999999999977" height="55.60000000000002" fill="#f8c6ac" stroke="none" stroke-width="1" />
<rect x="381" y="284.2" width="30.600000000000023" height="23.400000000000023" fill="url(#ygrad)"/>
<line x1="379" y1="260.6" x2="411.6" y2="260.6" stroke="#666" stroke-width="0.6" stroke-dasharray="2.2 2.2"/>
<path d="M411.1,260.6 C416.6,260.6 419.6,252.4 428,252.4" fill="none" stroke="#555" stroke-width="0.6" />
<line x1="428" y1="252.4" x2="475" y2="252.4" stroke="#666" stroke-width="0.6" stroke-dasharray="2.2 2.2"/>
<line x1="379" y1="283.0" x2="475" y2="283.0" stroke="#3a3a3a" stroke-width="1.0" stroke-dasharray="2.5 2"/>
<path d="M411.6,288.5 C417.6,285.0 418.6,279.5 430,279.5 L475,279.5" fill="none" stroke="#8ccc70" stroke-width="0.6" />
<path d="M411.6,299.0 C417.6,295.5 418.6,291.5 430,291.5 L475,291.5" fill="none" stroke="#8ccc70" stroke-width="0.6" />
<line x1="383.3" y1="263.6" x2="383.3" y2="282.7" stroke="#111" stroke-width="0.6" />
<path d="M383.3,262.0 l-1,2 l2,0 z" fill="#111" stroke="none" stroke-width="1" />
<line x1="469.6" y1="255.4" x2="469.6" y2="282.7" stroke="#111" stroke-width="0.6" />
<path d="M469.6,253.8 l-1,2 l2,0 z" fill="#111" stroke="none" stroke-width="1" />
<text x="384.90000000000003" y="273.40000000000003" font-size="3.6" font-weight="bold" font-family="'Liberation Sans', sans-serif" fill="#111" stroke="#111" stroke-width="0.108" text-anchor="start" >3.9eV</text>
<text x="468.20000000000005" y="269.3" font-size="3.6" font-weight="bold" font-family="'Liberation Sans', sans-serif" fill="#111" stroke="#111" stroke-width="0.108" text-anchor="end" >4.9eV</text>
<text x="375.8" y="258.6" font-size="3.8" font-weight="normal" font-family="'Liberation Sans', sans-serif" fill="#555">E<tspan font-size="2.47" dy="0.95">v</tspan></text>
<text x="375.8" y="282.4" font-size="3.8" font-weight="bold" font-family="'Liberation Sans', sans-serif" fill="#222">E<tspan font-size="2.47" dy="0.95">F</tspan></text>
<text x="472" y="277.6" font-size="4.2" font-weight="normal" font-family="'Liberation Sans', sans-serif" fill="#8ccc70" stroke="#8ccc70" stroke-width="0.126" text-anchor="start" >CB</text>
<text x="472" y="294.5" font-size="4.2" font-weight="normal" font-family="'Liberation Sans', sans-serif" fill="#8ccc70" stroke="#8ccc70" stroke-width="0.126" text-anchor="start" >VB</text>
<text x="451.8" y="294.5" font-size="3.7" font-weight="bold" font-family="'Liberation Sans', sans-serif" fill="#222">ReS<tspan font-size="2.41" dy="0.93">2</tspan></text>
<text x="396.2" y="299" font-size="3.6" font-weight="bold" font-family="'Liberation Sans', sans-serif" fill="#222" text-anchor="middle">Ti<tspan font-size="2.4" dy="0.8">3</tspan><tspan dy="-0.8">C</tspan><tspan font-size="2.4" dy="0.8">2</tspan><tspan dy="-0.8">T</tspan><tspan font-size="2.4" dy="0.8">x</tspan></text>
<text x="426" y="315.8" font-size="4.3" font-weight="bold" font-family="'Liberation Sans', sans-serif" fill="#222" text-anchor="middle" letter-spacing="0.35">Depletion Layer</text>
<rect x="301.4" y="328.8" width="9.800000000000011" height="55.19999999999999" fill="#f8c6ac" stroke="none" stroke-width="1" />
<rect x="270.5" y="361.4" width="30.899999999999977" height="27.600000000000012" fill="url(#ygrad)"/>
<line x1="268.5" y1="336.8" x2="301.4" y2="336.8" stroke="#666" stroke-width="0.6" stroke-dasharray="2.2 2.2"/>
<path d="M300.9,336.8 C306.4,336.8 309.4,329 308.2,329" fill="none" stroke="#555" stroke-width="0.6" />
<line x1="308.2" y1="329" x2="356" y2="329" stroke="#666" stroke-width="0.6" stroke-dasharray="2.2 2.2"/>
<line x1="268.5" y1="360.2" x2="356" y2="360.2" stroke="#3a3a3a" stroke-width="1.0" stroke-dasharray="2.5 2"/>
<path d="M301.4,365.7 C307.4,362.2 308.4,356.9 310.2,356.9 L356,356.9" fill="none" stroke="#8ccc70" stroke-width="0.6" />
<path d="M301.4,375.5 C307.4,372.0 308.4,368.0 310.2,368.0 L356,368.0" fill="none" stroke="#8ccc70" stroke-width="0.6" />
<line x1="273.5" y1="339.8" x2="273.5" y2="359.9" stroke="#111" stroke-width="0.6" />
<path d="M273.5,338.2 l-1,2 l2,0 z" fill="#111" stroke="none" stroke-width="1" />
<line x1="347.6" y1="332" x2="347.6" y2="359.9" stroke="#111" stroke-width="0.6" />
<path d="M347.6,330.4 l-1,2 l2,0 z" fill="#111" stroke="none" stroke-width="1" />
<text x="275.1" y="350.1" font-size="3.6" font-weight="bold" font-family="'Liberation Sans', sans-serif" fill="#111" stroke="#111" stroke-width="0.108" text-anchor="start" >3.9eV</text>
<text x="346.20000000000005" y="346.20000000000005" font-size="3.6" font-weight="bold" font-family="'Liberation Sans', sans-serif" fill="#111" stroke="#111" stroke-width="0.108" text-anchor="end" >4.9eV</text>
<text x="265.8" y="334.8" font-size="3.8" font-weight="normal" font-family="'Liberation Sans', sans-serif" fill="#555">E<tspan font-size="2.47" dy="0.95">v</tspan></text>
<text x="265.8" y="359.59999999999997" font-size="3.8" font-weight="bold" font-family="'Liberation Sans', sans-serif" fill="#222">E<tspan font-size="2.47" dy="0.95">F</tspan></text>
<text x="351" y="355.0" font-size="4.2" font-weight="normal" font-family="'Liberation Sans', sans-serif" fill="#8ccc70" stroke="#8ccc70" stroke-width="0.126" text-anchor="start" >CB</text>
<text x="351" y="371.0" font-size="4.2" font-weight="normal" font-family="'Liberation Sans', sans-serif" fill="#8ccc70" stroke="#8ccc70" stroke-width="0.126" text-anchor="start" >VB</text>
<text x="330.8" y="372.5" font-size="3.7" font-weight="bold" font-family="'Liberation Sans', sans-serif" fill="#222">ReS<tspan font-size="2.41" dy="0.93">2</tspan></text>
<text x="285.5" y="375.8" font-size="3.6" font-weight="bold" font-family="'Liberation Sans', sans-serif" fill="#222" text-anchor="middle">Ti<tspan font-size="2.4" dy="0.8">3</tspan><tspan dy="-0.8">C</tspan><tspan font-size="2.4" dy="0.8">2</tspan><tspan dy="-0.8">T</tspan><tspan font-size="2.4" dy="0.8">x</tspan></text>
<text x="310" y="388.4" font-size="4.3" font-weight="bold" font-family="'Liberation Sans', sans-serif" fill="#222" text-anchor="middle" letter-spacing="0.35">Depletion Layer</text>
<rect x="412.5" y="328.6" width="19.19999999999999" height="55.39999999999998" fill="#f8c6ac" stroke="none" stroke-width="1" />
<rect x="381.5" y="361.2" width="31.0" height="27.8" fill="url(#ygrad)"/>
<line x1="379.5" y1="337.5" x2="412.5" y2="337.5" stroke="#666" stroke-width="0.6" stroke-dasharray="2.2 2.2"/>
<path d="M412.0,337.5 C417.5,337.5 420.5,329 428.7,329" fill="none" stroke="#555" stroke-width="0.6" />
<line x1="428.7" y1="329" x2="476" y2="329" stroke="#666" stroke-width="0.6" stroke-dasharray="2.2 2.2"/>
<line x1="379.5" y1="360" x2="476" y2="360" stroke="#3a3a3a" stroke-width="1.0" stroke-dasharray="2.5 2"/>
<path d="M412.5,365.5 C418.5,362 419.5,357 430.7,357 L476,357" fill="none" stroke="#8ccc70" stroke-width="0.6" />
<path d="M412.5,376.0 C418.5,372.5 419.5,368.5 430.7,368.5 L476,368.5" fill="none" stroke="#8ccc70" stroke-width="0.6" />
<line x1="385" y1="340.5" x2="385" y2="359.7" stroke="#111" stroke-width="0.6" />
<path d="M385,338.9 l-1,2 l2,0 z" fill="#111" stroke="none" stroke-width="1" />
<line x1="471" y1="332" x2="471" y2="359.7" stroke="#111" stroke-width="0.6" />
<path d="M471,330.4 l-1,2 l2,0 z" fill="#111" stroke="none" stroke-width="1" />
<text x="386.6" y="350.35" font-size="3.6" font-weight="bold" font-family="'Liberation Sans', sans-serif" fill="#111" stroke="#111" stroke-width="0.108" text-anchor="start" >3.9eV</text>
<text x="469.6" y="346.1" font-size="3.6" font-weight="bold" font-family="'Liberation Sans', sans-serif" fill="#111" stroke="#111" stroke-width="0.108" text-anchor="end" >4.9eV</text>
<text x="377.5" y="335.5" font-size="3.8" font-weight="normal" font-family="'Liberation Sans', sans-serif" fill="#555">E<tspan font-size="2.47" dy="0.95">v</tspan></text>
<text x="377.5" y="359.4" font-size="3.8" font-weight="bold" font-family="'Liberation Sans', sans-serif" fill="#222">E<tspan font-size="2.47" dy="0.95">F</tspan></text>
<text x="474" y="355.1" font-size="4.2" font-weight="normal" font-family="'Liberation Sans', sans-serif" fill="#8ccc70" stroke="#8ccc70" stroke-width="0.126" text-anchor="start" >CB</text>
<text x="474" y="371.5" font-size="4.2" font-weight="normal" font-family="'Liberation Sans', sans-serif" fill="#8ccc70" stroke="#8ccc70" stroke-width="0.126" text-anchor="start" >VB</text>
<text x="453" y="373" font-size="3.7" font-weight="bold" font-family="'Liberation Sans', sans-serif" fill="#222">ReS<tspan font-size="2.41" dy="0.93">2</tspan></text>
<text x="397" y="375.6" font-size="3.6" font-weight="bold" font-family="'Liberation Sans', sans-serif" fill="#222" text-anchor="middle">Ti<tspan font-size="2.4" dy="0.8">3</tspan><tspan dy="-0.8">C</tspan><tspan font-size="2.4" dy="0.8">2</tspan><tspan dy="-0.8">T</tspan><tspan font-size="2.4" dy="0.8">x</tspan></text>
<text x="431.5" y="388.2" font-size="4.3" font-weight="bold" font-family="'Liberation Sans', sans-serif" fill="#222" text-anchor="middle" letter-spacing="0.35">Depletion Layer</text>
<line x1="419.6" y1="276" x2="419.6" y2="294" stroke="#666" stroke-width="1.2" />
<circle cx="419.60" cy="274.60" r="1.9" fill="#d81818" stroke="none" stroke-width="0.3" />
<text x="421.5" y="273.4" font-size="3.4" font-weight="bold" font-family="'Liberation Sans', sans-serif" fill="#111" stroke="#111" stroke-width="0.102" text-anchor="start" >-</text>
<circle cx="419.60" cy="295.60" r="1.7" fill="#1aa0e0" stroke="none" stroke-width="0.3" />
<line x1="403.8" y1="307.4" x2="412.90000000000003" y2="307.4" stroke="#111" stroke-width="0.9" />
<path d="M415.30,307.40 L412.90,308.60 L412.90,306.20 Z" fill="#111" stroke="none" stroke-width="1" />
<line x1="448.5" y1="307.4" x2="439.4" y2="307.4" stroke="#111" stroke-width="0.9" />
<path d="M437.00,307.40 L439.40,306.20 L439.40,308.60 Z" fill="#111" stroke="none" stroke-width="1" />
<text x="252.5" y="332.5" font-size="3.0" font-weight="bold" font-family="'Liberation Sans', sans-serif" fill="#111" stroke="#111" stroke-width="0.09" text-anchor="start" >(c)</text>
<path d="M299,339.85 L300.8,342.4 L297.2,342.4 Z" fill="#1c3cb8" stroke="none" stroke-width="1" />
<circle cx="296.90" cy="342.85" r="0.5249999999999999" fill="#e8e8f0" stroke="#999" stroke-width="0.2" />
<circle cx="301.10" cy="342.85" r="0.5249999999999999" fill="#e8e8f0" stroke="#999" stroke-width="0.2" />
<circle cx="299.00" cy="339.40" r="0.44999999999999996" fill="#e8e8f0" stroke="#999" stroke-width="0.2" />
<line x1="300.3" y1="344.8" x2="303.8317689227361" y2="350.43580147245126" stroke="#111" stroke-width="1.1" />
<path d="M305.00,352.30 L302.90,351.02 L304.76,349.85 Z" fill="#111" stroke="none" stroke-width="1" />
<circle cx="305.50" cy="354.30" r="1.8" fill="#d81818" stroke="none" stroke-width="0.3" />
<text x="307.5" y="352.8" font-size="3.2" font-weight="bold" font-family="'Liberation Sans', sans-serif" fill="#111" stroke="#111" stroke-width="0.096" text-anchor="start" >-</text>
<line x1="306.2" y1="375.5" x2="306.2" y2="380" stroke="#c03030" stroke-width="0.4" stroke-dasharray="0.8 0.6"/>
<circle cx="306.20" cy="374.20" r="1.6" fill="#1aa0e0" stroke="none" stroke-width="0.3" />
<circle cx="306.20" cy="381.30" r="1.6" fill="#1aa0e0" stroke="none" stroke-width="0.3" />
<line x1="292" y1="378.5" x2="300.09999999999997" y2="378.5" stroke="#111" stroke-width="0.9" />
<path d="M302.40,378.50 L300.10,379.65 L300.10,377.35 Z" fill="#111" stroke="none" stroke-width="1" />
<line x1="326.4" y1="378.5" x2="317.8" y2="378.5" stroke="#111" stroke-width="0.9" />
<path d="M315.50,378.50 L317.80,377.35 L317.80,379.65 Z" fill="#111" stroke="none" stroke-width="1" />
<text x="367" y="331.5" font-size="3.0" font-weight="bold" font-family="'Liberation Sans', sans-serif" fill="#111" stroke="#111" stroke-width="0.09" text-anchor="start" >(d)</text>
<line x1="420.8" y1="353" x2="420.8" y2="371" stroke="#666" stroke-width="1.2" />
<circle cx="420.80" cy="351.30" r="1.9" fill="#d81818" stroke="none" stroke-width="0.3" />
<text x="422.6" y="349.8" font-size="3.2" font-weight="bold" font-family="'Liberation Sans', sans-serif" fill="#111" stroke="#111" stroke-width="0.096" text-anchor="start" >-</text>
<circle cx="420.80" cy="372.60" r="1.7" fill="#1aa0e0" stroke="none" stroke-width="0.3" />
<path d="M419.5,346.5 C418.5,341.5 420.5,338.5 423.5,337.5" fill="none" stroke="#111" stroke-width="1.0" />
<path d="M425.5,336.8 l-2.8,-0.6 l1,2.6 z" fill="#111" stroke="none" stroke-width="1" />
<path d="M427.5,333.15000000000003 L429.3,335.7 L425.7,335.7 Z" fill="#1c3cb8" stroke="none" stroke-width="1" />
<circle cx="425.40" cy="336.15" r="0.5249999999999999" fill="#e8e8f0" stroke="#999" stroke-width="0.2" />
<circle cx="429.60" cy="336.15" r="0.5249999999999999" fill="#e8e8f0" stroke="#999" stroke-width="0.2" />
<circle cx="427.50" cy="332.70" r="0.44999999999999996" fill="#e8e8f0" stroke="#999" stroke-width="0.2" />
<line x1="404.5" y1="377" x2="413.7" y2="377.0" stroke="#111" stroke-width="0.9" />
<path d="M416.00,377.00 L413.70,378.15 L413.70,375.85 Z" fill="#111" stroke="none" stroke-width="1" />
<line x1="449" y1="376.6" x2="440.3" y2="376.6" stroke="#111" stroke-width="0.9" />
<path d="M438.00,376.60 L440.30,375.45 L440.30,377.75 Z" fill="#111" stroke="none" stroke-width="1" />
<text x="490.6" y="296.8" font-size="3.7" font-weight="bold" font-family="'Liberation Sans', sans-serif" fill="#222">E<tspan font-size="2.41" dy="0.93">V</tspan></text>
<path d="M497.5,295.6 L503,295.6" stroke="#222" stroke-width="0.55"/>
<path d="M504.3,295.6 l-1.6,-0.9 l0,1.8 z" fill="#222" stroke="none" stroke-width="1" />
<text x="505.7" y="296.8" font-size="4.25" font-weight="bold" font-family="'Liberation Sans', sans-serif" fill="#111" stroke="#111" stroke-width="0.128" text-anchor="start" >Vacuum level</text>
<text x="490.6" y="300.9" font-size="3.7" font-weight="bold" font-family="'Liberation Sans', sans-serif" fill="#222">E<tspan font-size="2.41" dy="0.93">F</tspan></text>
<path d="M497.5,299.7 L503,299.7" stroke="#222" stroke-width="0.55"/>
<path d="M504.3,299.7 l-1.6,-0.9 l0,1.8 z" fill="#222" stroke="none" stroke-width="1" />
<text x="505.7" y="300.9" font-size="4.25" font-weight="bold" font-family="'Liberation Sans', sans-serif" fill="#111" stroke="#111" stroke-width="0.128" text-anchor="start" >Fermi level</text>
<text x="489.6" y="305.1" font-size="3.7" font-weight="bold" font-family="'Liberation Sans', sans-serif" fill="#111" stroke="#111" stroke-width="0.111" text-anchor="start" >CB</text>
<path d="M497.5,303.90000000000003 L503,303.90000000000003" stroke="#222" stroke-width="0.55"/>
<path d="M504.3,303.90000000000003 l-1.6,-0.9 l0,1.8 z" fill="#222" stroke="none" stroke-width="1" />
<text x="505.7" y="305.1" font-size="4.25" font-weight="bold" font-family="'Liberation Sans', sans-serif" fill="#111" stroke="#111" stroke-width="0.128" text-anchor="start" >Conduction band</text>
<text x="489.6" y="309.3" font-size="3.7" font-weight="bold" font-family="'Liberation Sans', sans-serif" fill="#111" stroke="#111" stroke-width="0.111" text-anchor="start" >VB</text>
<path d="M497.5,308.1 L503,308.1" stroke="#222" stroke-width="0.55"/>
<path d="M504.3,308.1 l-1.6,-0.9 l0,1.8 z" fill="#222" stroke="none" stroke-width="1" />
<text x="505.7" y="309.3" font-size="4.25" font-weight="bold" font-family="'Liberation Sans', sans-serif" fill="#111" stroke="#111" stroke-width="0.128" text-anchor="start" >Valence band</text>
<path d="M494,313.0 L496.4,316.4 L491.6,316.4 Z" fill="#1c3cb8" stroke="none" stroke-width="1" />
<circle cx="491.20" cy="317.00" r="0.7" fill="#e8e8f0" stroke="#999" stroke-width="0.2" />
<circle cx="496.80" cy="317.00" r="0.7" fill="#e8e8f0" stroke="#999" stroke-width="0.2" />
<circle cx="494.00" cy="312.40" r="0.6" fill="#e8e8f0" stroke="#999" stroke-width="0.2" />
<path d="M500.5,315.6 L503.8,315.6" stroke="#222" stroke-width="0.55"/>
<path d="M505,315.6 l-1.6,-0.9 l0,1.8 z" fill="#222" stroke="none" stroke-width="1" />
<text x="506.5" y="317" font-size="4.0" font-weight="bold" font-family="'Liberation Sans', sans-serif" fill="#222">NH<tspan font-size="2.60" dy="1.00">3</tspan></text>
<circle cx="493.30" cy="324.40" r="1.8" fill="#d81818" stroke="none" stroke-width="0.3" />
<line x1="491.7" y1="323.2" x2="489.7" y2="322.0" stroke="#ccc" stroke-width="0.6" />
<line x1="494.90000000000003" y1="323.2" x2="496.90000000000003" y2="322.0" stroke="#ccc" stroke-width="0.6" />
<path d="M500.5,324.4 L503.8,324.4" stroke="#222" stroke-width="0.55"/>
<path d="M505,324.4 l-1.6,-0.9 l0,1.8 z" fill="#222" stroke="none" stroke-width="1" />
<text x="506.5" y="325.8" font-size="4.0" font-weight="bold" font-family="'Liberation Sans', sans-serif" fill="#222">H<tspan font-size="2.60" dy="1.00">2</tspan></text>
<text x="512.0" y="325.8" font-size="4.0" font-weight="bold" font-family="'Liberation Sans', sans-serif" fill="#111" stroke="#111" stroke-width="0.12" text-anchor="start" >O</text>
<circle cx="492.50" cy="331.30" r="1.7" fill="#d81818" stroke="none" stroke-width="0.3" />
<text x="494.6" y="330" font-size="3.4" font-weight="bold" font-family="'Liberation Sans', sans-serif" fill="#111" stroke="#111" stroke-width="0.102" text-anchor="start" >-</text>
<path d="M501.5,331.6 L505.3,331.6" stroke="#222" stroke-width="0.55"/>
<path d="M506.5,331.6 l-1.6,-0.9 l0,1.8 z" fill="#222" stroke="none" stroke-width="1" />
<text x="508.5" y="333" font-size="4.3" font-weight="bold" font-family="'Liberation Sans', sans-serif" fill="#111" stroke="#111" stroke-width="0.129" text-anchor="start" >Adsorbed oxygen</text>
<circle cx="492.50" cy="336.40" r="1.4" fill="#1aa0e0" stroke="none" stroke-width="0.3" />
<path d="M501.5,336.6 L505.3,336.6" stroke="#222" stroke-width="0.55"/>
<path d="M506.5,336.6 l-1.6,-0.9 l0,1.8 z" fill="#222" stroke="none" stroke-width="1" />
<text x="508.5" y="338" font-size="4.3" font-weight="bold" font-family="'Liberation Sans', sans-serif" fill="#111" stroke="#111" stroke-width="0.129" text-anchor="start" >Electron</text>
<circle cx="492.50" cy="341.50" r="1.4" fill="#1a90e0" stroke="none" stroke-width="0.3" />
<path d="M501.5,341.7 L505.3,341.7" stroke="#222" stroke-width="0.55"/>
<path d="M506.5,341.7 l-1.6,-0.9 l0,1.8 z" fill="#222" stroke="none" stroke-width="1" />
<text x="508.5" y="343.1" font-size="4.3" font-weight="bold" font-family="'Liberation Sans', sans-serif" fill="#111" stroke="#111" stroke-width="0.129" text-anchor="start" >Hole</text>
<line x1="3.7" y1="168" x2="549" y2="168" stroke="#0a8f6e" stroke-width="2.2" stroke-dasharray="1.5 1.6"/>
<line x1="238.8" y1="174" x2="238.8" y2="392" stroke="#0a8f82" stroke-width="1.4" stroke-dasharray="1.6 1.7"/>
</svg></body></html>
